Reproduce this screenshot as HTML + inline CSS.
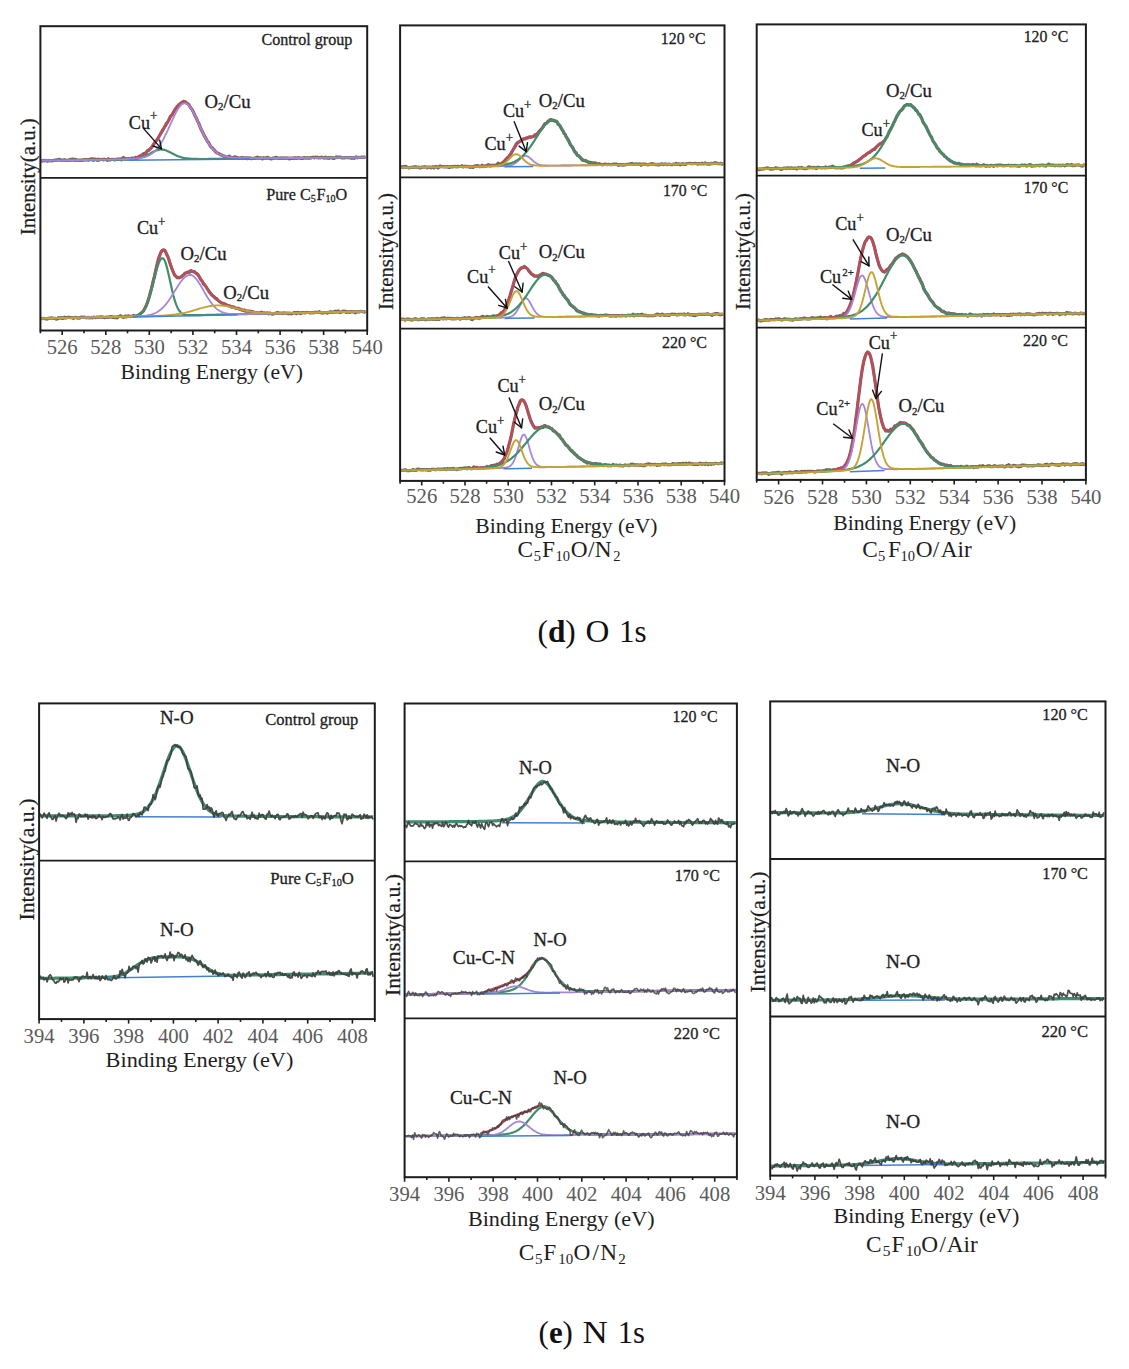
<!DOCTYPE html>
<html><head><meta charset="utf-8"><title>XPS O 1s and N 1s</title>
<style>
html,body{margin:0;padding:0;background:#fff;}
body{width:1129px;height:1369px;overflow:hidden;}
svg{display:block;}
text{font-family:"Liberation Serif", serif;}
</style></head><body>
<svg width="1129" height="1369" viewBox="0 0 1129 1369" font-family='"Liberation Serif", serif'>
<rect width="1129" height="1369" fill="#ffffff"/>
<g fill="none" stroke-linejoin="round" stroke-linecap="butt">
<polyline points="41.4,160.6 42.4,161.1 43.4,160.3 44.4,160.8 45.4,160.5 46.4,160.4 47.4,161.2 48.4,160.8 49.4,160.5 50.4,160.8 51.4,161.0 52.4,160.6 53.4,160.7 54.4,160.1 55.4,160.1 56.4,160.1 57.4,159.7 58.4,159.5 59.4,159.4 60.4,159.9 61.4,160.1 62.4,160.1 63.4,160.2 64.4,159.7 65.4,160.0 66.4,160.3 67.4,160.5 68.4,160.0 69.4,160.0 70.4,159.3 71.4,159.7 72.4,159.1 73.4,159.2 74.4,160.2 75.4,159.3 76.4,160.1 77.4,160.2 78.4,160.0 79.4,160.2 80.4,160.3 81.4,160.5 82.4,160.1 83.4,159.8 84.4,159.7 85.4,159.5 86.4,159.8 87.4,159.6 88.4,160.2 89.4,159.3 90.4,159.2 91.4,159.3 92.4,158.8 93.4,160.2 94.4,159.0 95.4,159.4 96.4,159.4 97.4,160.3 98.4,159.1 99.4,159.9 100.4,159.5 101.4,159.5 102.4,159.3 103.4,159.8 104.4,159.2 105.4,159.4 106.4,159.7 107.4,160.3 108.4,158.8 109.4,159.9 110.4,160.0 111.4,159.4 112.4,159.5 113.4,159.3 114.4,160.0 115.4,159.6 116.4,159.3 117.4,159.2 118.4,159.1 119.4,159.1 120.4,158.8 121.4,159.8 122.4,158.6 123.4,157.4 124.4,158.4 125.4,158.7 126.4,158.9 127.4,158.8 128.4,158.7 129.4,158.8 130.4,159.0 131.4,158.4 132.4,158.1 133.4,158.9 134.4,158.4 135.4,157.5 136.4,158.4 137.4,157.8 138.4,156.9 139.4,156.1 140.4,156.1 141.4,155.3 142.4,154.6 143.4,153.8 144.4,153.4 145.4,153.4 146.4,152.2 147.4,150.8 148.4,150.5 149.4,149.5 150.4,148.7 151.4,147.8 152.4,146.1 153.4,144.6 154.4,143.3 155.4,141.4 156.4,140.5 157.4,139.5 158.4,137.6 159.4,135.8 160.4,134.1 161.4,132.2 162.4,130.5 163.4,129.0 164.4,127.2 165.4,125.6 166.4,123.5 167.4,122.5 168.4,120.8 169.4,118.7 170.4,116.3 171.4,115.3 172.4,114.3 173.4,112.2 174.4,110.5 175.4,108.9 176.4,107.9 177.4,106.1 178.4,105.5 179.4,104.2 180.4,103.7 181.4,102.8 182.4,102.2 183.4,101.4 184.4,101.5 185.4,102.0 186.4,102.9 187.4,103.6 188.4,104.2 189.4,105.7 190.4,107.5 191.4,108.7 192.4,110.2 193.4,112.0 194.4,114.5 195.4,116.6 196.4,118.2 197.4,120.7 198.4,122.7 199.4,124.8 200.4,127.7 201.4,130.0 202.4,131.6 203.4,133.8 204.4,136.0 205.4,137.5 206.4,139.4 207.4,141.5 208.4,142.3 209.4,144.3 210.4,146.1 211.4,147.4 212.4,147.9 213.4,149.4 214.4,150.1 215.4,151.5 216.4,152.5 217.4,153.1 218.4,153.3 219.4,153.9 220.4,154.9 221.4,154.9 222.4,155.6 223.4,156.1 224.4,156.2 225.4,157.4 226.4,157.0 227.4,157.9 228.4,156.6 229.4,156.1 230.4,157.3 231.4,157.7 232.4,157.5 233.4,157.6 234.4,156.9 235.4,157.2 236.4,157.2 237.4,157.5 238.4,158.1 239.4,158.0 240.4,158.1 241.4,157.7 242.4,157.7 243.4,157.9 244.4,157.9 245.4,158.5 246.4,157.8 247.4,158.7 248.4,157.9 249.4,158.4 250.4,157.9 251.4,158.7 252.4,158.3 253.4,158.3 254.4,158.5 255.4,158.0 256.4,157.6 257.4,157.1 258.4,158.2 259.4,157.9 260.4,157.8 261.4,158.0 262.4,158.9 263.4,157.7 264.4,158.1 265.4,157.9 266.4,158.3 267.4,157.4 268.4,157.7 269.4,158.3 270.4,158.8 271.4,159.0 272.4,158.1 273.4,158.1 274.4,158.0 275.4,157.5 276.4,157.3 277.4,158.1 278.4,158.2 279.4,158.0 280.4,158.5 281.4,157.8 282.4,158.2 283.4,158.1 284.4,158.0 285.4,158.2 286.4,158.2 287.4,158.2 288.4,158.2 289.4,158.9 290.4,158.2 291.4,158.5 292.4,158.4 293.4,158.0 294.4,158.3 295.4,157.8 296.4,158.4 297.4,157.8 298.4,157.7 299.4,158.0 300.4,158.3 301.4,158.4 302.4,158.5 303.4,158.0 304.4,157.6 305.4,158.0 306.4,158.1 307.4,157.6 308.4,158.2 309.4,158.1 310.4,157.6 311.4,157.9 312.4,157.4 313.4,157.3 314.4,157.8 315.4,157.2 316.4,157.6 317.4,157.2 318.4,157.9 319.4,157.6 320.4,157.8 321.4,157.2 322.4,157.4 323.4,158.0 324.4,158.1 325.4,157.1 326.4,157.9 327.4,158.2 328.4,157.7 329.4,158.3 330.4,157.5 331.4,157.6 332.4,158.1 333.4,158.4 334.4,158.4 335.4,157.5 336.4,156.9 337.4,157.6 338.4,157.1 339.4,157.4 340.4,157.0 341.4,157.9 342.4,158.0 343.4,158.0 344.4,157.8 345.4,157.7 346.4,157.5 347.4,157.7 348.4,157.7 349.4,157.8 350.4,157.5 351.4,158.3 352.4,157.9 353.4,158.2 354.4,158.3 355.4,157.4 356.4,156.8 357.4,157.8 358.4,157.4 359.4,157.5 360.4,157.4 361.4,157.5 362.4,157.0 363.4,157.2 364.4,157.2 365.4,157.3" stroke="#6e6a58" stroke-width="3.2"/>
<polyline points="41.4,160.5 42.4,160.5 43.4,160.5 44.4,160.5 45.4,160.5 46.4,160.5 47.4,160.5 48.4,160.5 49.4,160.5 50.4,160.4 51.4,160.4 52.4,160.4 53.4,160.4 54.4,160.4 55.4,160.4 56.4,160.4 57.4,160.4 58.4,160.3 59.4,160.3 60.4,160.3 61.4,160.3 62.4,160.3 63.4,160.3 64.4,160.3 65.4,160.3 66.4,160.2 67.4,160.2 68.4,160.2 69.4,160.2 70.4,160.2 71.4,160.2 72.4,160.2 73.4,160.1 74.4,160.1 75.4,160.1 76.4,160.1 77.4,160.1 78.4,160.1 79.4,160.1 80.4,160.0 81.4,160.0 82.4,160.0 83.4,160.0 84.4,160.0 85.4,160.0 86.4,159.9 87.4,159.9 88.4,159.9 89.4,159.9 90.4,159.9 91.4,159.9 92.4,159.8 93.4,159.8 94.4,159.8 95.4,159.8 96.4,159.8 97.4,159.8 98.4,159.7 99.4,159.7 100.4,159.7 101.4,159.7 102.4,159.7 103.4,159.6 104.4,159.6 105.4,159.6 106.4,159.6 107.4,159.6 108.4,159.5 109.4,159.5 110.4,159.5 111.4,159.5 112.4,159.4 113.4,159.4 114.4,159.4 115.4,159.3 116.4,159.3 117.4,159.3 118.4,159.3 119.4,159.2 120.4,159.2 121.4,159.1 122.4,159.1 123.4,159.1 124.4,159.0 125.4,159.0 126.4,158.9 127.4,158.8 128.4,158.7 129.4,158.7 130.4,158.6 131.4,158.4 132.4,158.3 133.4,158.1 134.4,158.0 135.4,157.8 136.4,157.5 137.4,157.2 138.4,156.9 139.4,156.5 140.4,156.1 141.4,155.6 142.4,155.1 143.4,154.5 144.4,153.9 145.4,153.1 146.4,152.3 147.4,151.4 148.4,150.5 149.4,149.5 150.4,148.4 151.4,147.2 152.4,146.0 153.4,144.7 154.4,143.3 155.4,141.9 156.4,140.4 157.4,138.9 158.4,137.4 159.4,135.8 160.4,134.2 161.4,132.6 162.4,131.0 163.4,129.3 164.4,127.7 165.4,126.0 166.4,124.3 167.4,122.6 168.4,120.9 169.4,119.1 170.4,117.4 171.4,115.7 172.4,114.0 173.4,112.4 174.4,110.8 175.4,109.2 176.4,107.8 177.4,106.5 178.4,105.3 179.4,104.2 180.4,103.4 181.4,102.7 182.4,102.2 183.4,102.0 184.4,102.0 185.4,102.3 186.4,102.7 187.4,103.5 188.4,104.5 189.4,105.6 190.4,107.0 191.4,108.6 192.4,110.4 193.4,112.2 194.4,114.2 195.4,116.3 196.4,118.5 197.4,120.7 198.4,122.9 199.4,125.1 200.4,127.4 201.4,129.6 202.4,131.7 203.4,133.8 204.4,135.8 205.4,137.7 206.4,139.5 207.4,141.3 208.4,142.9 209.4,144.4 210.4,145.8 211.4,147.2 212.4,148.4 213.4,149.5 214.4,150.5 215.4,151.4 216.4,152.2 217.4,152.9 218.4,153.6 219.4,154.2 220.4,154.7 221.4,155.1 222.4,155.5 223.4,155.9 224.4,156.2 225.4,156.5 226.4,156.7 227.4,156.9 228.4,157.1 229.4,157.2 230.4,157.3 231.4,157.4 232.4,157.5 233.4,157.6 234.4,157.7 235.4,157.7 236.4,157.8 237.4,157.8 238.4,157.9 239.4,157.9 240.4,157.9 241.4,157.9 242.4,158.0 243.4,158.0 244.4,158.0 245.4,158.0 246.4,158.0 247.4,158.0 248.4,158.0 249.4,158.1 250.4,158.1 251.4,158.1 252.4,158.1 253.4,158.1 254.4,158.1 255.4,158.1 256.4,158.1 257.4,158.1 258.4,158.1 259.4,158.1 260.4,158.1 261.4,158.1 262.4,158.1 263.4,158.1 264.4,158.1 265.4,158.1 266.4,158.1 267.4,158.1 268.4,158.1 269.4,158.1 270.4,158.1 271.4,158.1 272.4,158.1 273.4,158.1 274.4,158.1 275.4,158.1 276.4,158.1 277.4,158.1 278.4,158.1 279.4,158.1 280.4,158.1 281.4,158.1 282.4,158.1 283.4,158.0 284.4,158.0 285.4,158.0 286.4,158.0 287.4,158.0 288.4,158.0 289.4,158.0 290.4,158.0 291.4,158.0 292.4,158.0 293.4,158.0 294.4,158.0 295.4,158.0 296.4,158.0 297.4,158.0 298.4,158.0 299.4,158.0 300.4,158.0 301.4,157.9 302.4,157.9 303.4,157.9 304.4,157.9 305.4,157.9 306.4,157.9 307.4,157.9 308.4,157.9 309.4,157.9 310.4,157.9 311.4,157.9 312.4,157.9 313.4,157.9 314.4,157.9 315.4,157.8 316.4,157.8 317.4,157.8 318.4,157.8 319.4,157.8 320.4,157.8 321.4,157.8 322.4,157.8 323.4,157.8 324.4,157.8 325.4,157.8 326.4,157.8 327.4,157.8 328.4,157.7 329.4,157.7 330.4,157.7 331.4,157.7 332.4,157.7 333.4,157.7 334.4,157.7 335.4,157.7 336.4,157.7 337.4,157.7 338.4,157.7 339.4,157.7 340.4,157.7 341.4,157.6 342.4,157.6 343.4,157.6 344.4,157.6 345.4,157.6 346.4,157.6 347.4,157.6 348.4,157.6 349.4,157.6 350.4,157.6 351.4,157.6 352.4,157.5 353.4,157.5 354.4,157.5 355.4,157.5 356.4,157.5 357.4,157.5 358.4,157.5 359.4,157.5 360.4,157.5 361.4,157.5 362.4,157.5 363.4,157.5 364.4,157.4 365.4,157.4" stroke="#bf4a5c" stroke-width="2.4"/>
<polyline points="41.4,160.7 42.4,160.7 43.4,160.7 44.4,160.6 45.4,160.6 46.4,160.6 47.4,160.6 48.4,160.6 49.4,160.6 50.4,160.6 51.4,160.6 52.4,160.6 53.4,160.6 54.4,160.5 55.4,160.5 56.4,160.5 57.4,160.5 58.4,160.5 59.4,160.5 60.4,160.5 61.4,160.5 62.4,160.5 63.4,160.4 64.4,160.4 65.4,160.4 66.4,160.4 67.4,160.4 68.4,160.4 69.4,160.4 70.4,160.4 71.4,160.4 72.4,160.4 73.4,160.3 74.4,160.3 75.4,160.3 76.4,160.3 77.4,160.3 78.4,160.3 79.4,160.3 80.4,160.3 81.4,160.3 82.4,160.2 83.4,160.2 84.4,160.2 85.4,160.2 86.4,160.2 87.4,160.2 88.4,160.2 89.4,160.2 90.4,160.2 91.4,160.1 92.4,160.1 93.4,160.1 94.4,160.1 95.4,160.1 96.4,160.1 97.4,160.1 98.4,160.1 99.4,160.1 100.4,160.0 101.4,160.0 102.4,160.0 103.4,160.0 104.4,160.0 105.4,160.0 106.4,160.0 107.4,160.0 108.4,159.9 109.4,159.9 110.4,159.9 111.4,159.9 112.4,159.9 113.4,159.9 114.4,159.9 115.4,159.9 116.4,159.8 117.4,159.8 118.4,159.8 119.4,159.8 120.4,159.8 121.4,159.7 122.4,159.7 123.4,159.7 124.4,159.7 125.4,159.6 126.4,159.6 127.4,159.6 128.4,159.5 129.4,159.5 130.4,159.4 131.4,159.3 132.4,159.2 133.4,159.1 134.4,159.0 135.4,158.9 136.4,158.7 137.4,158.5 138.4,158.3 139.4,158.1 140.4,157.8 141.4,157.5 142.4,157.2 143.4,156.8 144.4,156.4 145.4,155.9 146.4,155.5 147.4,155.0 148.4,154.5 149.4,153.9 150.4,153.4 151.4,152.8 152.4,152.3 153.4,151.8 154.4,151.3 155.4,150.9 156.4,150.5 157.4,150.1 158.4,149.9 159.4,149.7 160.4,149.5 161.4,149.5 162.4,149.6 163.4,149.7 164.4,149.9 165.4,150.2 166.4,150.6 167.4,151.0 168.4,151.5 169.4,151.9 170.4,152.4 171.4,153.0 172.4,153.5 173.4,154.0 174.4,154.5 175.4,155.0 176.4,155.4 177.4,155.9 178.4,156.3 179.4,156.6 180.4,157.0 181.4,157.3 182.4,157.6 183.4,157.8 184.4,158.0 185.4,158.2 186.4,158.3 187.4,158.4 188.4,158.6 189.4,158.6 190.4,158.7 191.4,158.8 192.4,158.8 193.4,158.9 194.4,158.9 195.4,158.9 196.4,158.9 197.4,158.9 198.4,159.0 199.4,159.0 200.4,159.0 201.4,159.0 202.4,159.0 203.4,159.0 204.4,159.0 205.4,159.0 206.4,159.0 207.4,159.0 208.4,158.9 209.4,158.9 210.4,158.9 211.4,158.9 212.4,158.9 213.4,158.9 214.4,158.9 215.4,158.9 216.4,158.9 217.4,158.9 218.4,158.9 219.4,158.9 220.4,158.9 221.4,158.9 222.4,158.9 223.4,158.8 224.4,158.8 225.4,158.8 226.4,158.8 227.4,158.8 228.4,158.8 229.4,158.8 230.4,158.8 231.4,158.8 232.4,158.8 233.4,158.8 234.4,158.8 235.4,158.7 236.4,158.7 237.4,158.7 238.4,158.7 239.4,158.7 240.4,158.7 241.4,158.7 242.4,158.7 243.4,158.7 244.4,158.7 245.4,158.7 246.4,158.6 247.4,158.6 248.4,158.6 249.4,158.6 250.4,158.6 251.4,158.6 252.4,158.6 253.4,158.6 254.4,158.6 255.4,158.6 256.4,158.6 257.4,158.5 258.4,158.5 259.4,158.5 260.4,158.5 261.4,158.5 262.4,158.5 263.4,158.5 264.4,158.5 265.4,158.5 266.4,158.5 267.4,158.5 268.4,158.4 269.4,158.4 270.4,158.4 271.4,158.4 272.4,158.4 273.4,158.4 274.4,158.4 275.4,158.4 276.4,158.4 277.4,158.4 278.4,158.4 279.4,158.3 280.4,158.3 281.4,158.3 282.4,158.3 283.4,158.3 284.4,158.3 285.4,158.3 286.4,158.3 287.4,158.3 288.4,158.3 289.4,158.2 290.4,158.2 291.4,158.2 292.4,158.2 293.4,158.2 294.4,158.2 295.4,158.2 296.4,158.2 297.4,158.2 298.4,158.2 299.4,158.2 300.4,158.1 301.4,158.1 302.4,158.1 303.4,158.1 304.4,158.1 305.4,158.1 306.4,158.1 307.4,158.1 308.4,158.1 309.4,158.1 310.4,158.0 311.4,158.0 312.4,158.0 313.4,158.0 314.4,158.0 315.4,158.0 316.4,158.0 317.4,158.0 318.4,158.0 319.4,158.0 320.4,157.9 321.4,157.9 322.4,157.9 323.4,157.9 324.4,157.9 325.4,157.9 326.4,157.9 327.4,157.9 328.4,157.9 329.4,157.9 330.4,157.9 331.4,157.8 332.4,157.8 333.4,157.8 334.4,157.8 335.4,157.8 336.4,157.8 337.4,157.8 338.4,157.8 339.4,157.8 340.4,157.8 341.4,157.7 342.4,157.7 343.4,157.7 344.4,157.7 345.4,157.7 346.4,157.7 347.4,157.7 348.4,157.7 349.4,157.7 350.4,157.7 351.4,157.6 352.4,157.6 353.4,157.6 354.4,157.6 355.4,157.6 356.4,157.6 357.4,157.6 358.4,157.6 359.4,157.6 360.4,157.6 361.4,157.6 362.4,157.5 363.4,157.5 364.4,157.5 365.4,157.5" stroke="#428e6c" stroke-width="2.2"/>
<polyline points="41.4,160.6 42.4,160.6 43.4,160.5 44.4,160.5 45.4,160.5 46.4,160.5 47.4,160.5 48.4,160.5 49.4,160.5 50.4,160.5 51.4,160.5 52.4,160.4 53.4,160.4 54.4,160.4 55.4,160.4 56.4,160.4 57.4,160.4 58.4,160.4 59.4,160.4 60.4,160.3 61.4,160.3 62.4,160.3 63.4,160.3 64.4,160.3 65.4,160.3 66.4,160.3 67.4,160.3 68.4,160.2 69.4,160.2 70.4,160.2 71.4,160.2 72.4,160.2 73.4,160.2 74.4,160.2 75.4,160.1 76.4,160.1 77.4,160.1 78.4,160.1 79.4,160.1 80.4,160.1 81.4,160.1 82.4,160.1 83.4,160.0 84.4,160.0 85.4,160.0 86.4,160.0 87.4,160.0 88.4,160.0 89.4,159.9 90.4,159.9 91.4,159.9 92.4,159.9 93.4,159.9 94.4,159.9 95.4,159.9 96.4,159.8 97.4,159.8 98.4,159.8 99.4,159.8 100.4,159.8 101.4,159.7 102.4,159.7 103.4,159.7 104.4,159.7 105.4,159.7 106.4,159.7 107.4,159.6 108.4,159.6 109.4,159.6 110.4,159.6 111.4,159.6 112.4,159.5 113.4,159.5 114.4,159.5 115.4,159.5 116.4,159.4 117.4,159.4 118.4,159.4 119.4,159.4 120.4,159.3 121.4,159.3 122.4,159.3 123.4,159.2 124.4,159.2 125.4,159.2 126.4,159.1 127.4,159.1 128.4,159.1 129.4,159.0 130.4,159.0 131.4,158.9 132.4,158.9 133.4,158.8 134.4,158.7 135.4,158.6 136.4,158.6 137.4,158.4 138.4,158.3 139.4,158.2 140.4,158.0 141.4,157.9 142.4,157.7 143.4,157.4 144.4,157.2 145.4,156.9 146.4,156.5 147.4,156.1 148.4,155.7 149.4,155.2 150.4,154.6 151.4,154.0 152.4,153.3 153.4,152.5 154.4,151.6 155.4,150.6 156.4,149.5 157.4,148.3 158.4,147.1 159.4,145.7 160.4,144.2 161.4,142.6 162.4,140.9 163.4,139.1 164.4,137.2 165.4,135.2 166.4,133.2 167.4,131.0 168.4,128.8 169.4,126.6 170.4,124.4 171.4,122.2 172.4,119.9 173.4,117.8 174.4,115.6 175.4,113.6 176.4,111.7 177.4,109.9 178.4,108.3 179.4,106.9 180.4,105.7 181.4,104.7 182.4,104.0 183.4,103.5 184.4,103.3 185.4,103.4 186.4,103.7 187.4,104.3 188.4,105.1 189.4,106.2 190.4,107.5 191.4,109.1 192.4,110.7 193.4,112.6 194.4,114.5 195.4,116.6 196.4,118.7 197.4,120.9 198.4,123.1 199.4,125.3 200.4,127.5 201.4,129.7 202.4,131.8 203.4,133.9 204.4,135.9 205.4,137.8 206.4,139.7 207.4,141.4 208.4,143.0 209.4,144.5 210.4,145.9 211.4,147.2 212.4,148.5 213.4,149.6 214.4,150.6 215.4,151.5 216.4,152.3 217.4,153.0 218.4,153.7 219.4,154.2 220.4,154.8 221.4,155.2 222.4,155.6 223.4,156.0 224.4,156.3 225.4,156.5 226.4,156.7 227.4,156.9 228.4,157.1 229.4,157.3 230.4,157.4 231.4,157.5 232.4,157.6 233.4,157.6 234.4,157.7 235.4,157.8 236.4,157.8 237.4,157.9 238.4,157.9 239.4,157.9 240.4,158.0 241.4,158.0 242.4,158.0 243.4,158.0 244.4,158.0 245.4,158.0 246.4,158.1 247.4,158.1 248.4,158.1 249.4,158.1 250.4,158.1 251.4,158.1 252.4,158.1 253.4,158.1 254.4,158.1 255.4,158.1 256.4,158.1 257.4,158.1 258.4,158.1 259.4,158.1 260.4,158.1 261.4,158.1 262.4,158.1 263.4,158.1 264.4,158.1 265.4,158.1 266.4,158.1 267.4,158.1 268.4,158.1 269.4,158.1 270.4,158.1 271.4,158.1 272.4,158.1 273.4,158.1 274.4,158.1 275.4,158.1 276.4,158.1 277.4,158.1 278.4,158.1 279.4,158.1 280.4,158.1 281.4,158.1 282.4,158.1 283.4,158.1 284.4,158.1 285.4,158.1 286.4,158.1 287.4,158.0 288.4,158.0 289.4,158.0 290.4,158.0 291.4,158.0 292.4,158.0 293.4,158.0 294.4,158.0 295.4,158.0 296.4,158.0 297.4,158.0 298.4,158.0 299.4,158.0 300.4,158.0 301.4,158.0 302.4,158.0 303.4,157.9 304.4,157.9 305.4,157.9 306.4,157.9 307.4,157.9 308.4,157.9 309.4,157.9 310.4,157.9 311.4,157.9 312.4,157.9 313.4,157.9 314.4,157.9 315.4,157.9 316.4,157.9 317.4,157.8 318.4,157.8 319.4,157.8 320.4,157.8 321.4,157.8 322.4,157.8 323.4,157.8 324.4,157.8 325.4,157.8 326.4,157.8 327.4,157.8 328.4,157.8 329.4,157.8 330.4,157.7 331.4,157.7 332.4,157.7 333.4,157.7 334.4,157.7 335.4,157.7 336.4,157.7 337.4,157.7 338.4,157.7 339.4,157.7 340.4,157.7 341.4,157.7 342.4,157.6 343.4,157.6 344.4,157.6 345.4,157.6 346.4,157.6 347.4,157.6 348.4,157.6 349.4,157.6 350.4,157.6 351.4,157.6 352.4,157.6 353.4,157.5 354.4,157.5 355.4,157.5 356.4,157.5 357.4,157.5 358.4,157.5 359.4,157.5 360.4,157.5 361.4,157.5 362.4,157.5 363.4,157.5 364.4,157.4 365.4,157.4" stroke="#a586da" stroke-width="1.8"/>
<line x1="128.6" y1="160.3" x2="250.0" y2="159.1" stroke="#4480d2" stroke-width="1.5"/>
</g>
<g fill="none" stroke-linejoin="round" stroke-linecap="butt">
<polyline points="41.4,318.5 42.4,318.6 43.4,318.3 44.4,318.5 45.4,318.8 46.4,318.7 47.4,319.1 48.4,318.2 49.4,318.3 50.4,318.0 51.4,317.9 52.4,318.0 53.4,318.2 54.4,318.4 55.4,318.4 56.4,319.1 57.4,318.8 58.4,317.7 59.4,318.0 60.4,317.8 61.4,317.7 62.4,318.4 63.4,318.1 64.4,317.2 65.4,317.8 66.4,317.8 67.4,317.4 68.4,317.3 69.4,317.4 70.4,317.7 71.4,317.6 72.4,317.8 73.4,318.5 74.4,317.7 75.4,317.4 76.4,317.5 77.4,318.1 78.4,317.5 79.4,318.2 80.4,317.3 81.4,317.1 82.4,317.4 83.4,317.2 84.4,317.2 85.4,317.6 86.4,317.8 87.4,317.6 88.4,317.4 89.4,318.0 90.4,317.8 91.4,317.4 92.4,317.9 93.4,317.2 94.4,317.3 95.4,317.6 96.4,317.4 97.4,317.1 98.4,317.3 99.4,317.0 100.4,316.9 101.4,316.7 102.4,317.5 103.4,317.1 104.4,317.6 105.4,317.4 106.4,317.1 107.4,317.3 108.4,317.2 109.4,317.1 110.4,316.5 111.4,316.8 112.4,317.3 113.4,317.2 114.4,317.4 115.4,317.7 116.4,317.3 117.4,317.8 118.4,316.6 119.4,316.6 120.4,315.7 121.4,316.7 122.4,316.8 123.4,317.4 124.4,316.8 125.4,315.9 126.4,316.9 127.4,316.2 128.4,315.9 129.4,316.2 130.4,316.6 131.4,316.3 132.4,316.4 133.4,315.5 134.4,316.5 135.4,316.1 136.4,315.8 137.4,315.7 138.4,315.1 139.4,314.6 140.4,313.5 141.4,312.8 142.4,312.0 143.4,311.1 144.4,309.1 145.4,307.2 146.4,305.1 147.4,302.6 148.4,299.6 149.4,296.1 150.4,292.3 151.4,288.9 152.4,284.6 153.4,280.1 154.4,277.0 155.4,272.0 156.4,267.5 157.4,263.2 158.4,258.9 159.4,256.4 160.4,253.5 161.4,251.5 162.4,250.5 163.4,250.1 164.4,250.2 165.4,251.2 166.4,253.8 167.4,255.9 168.4,257.9 169.4,261.4 170.4,264.4 171.4,267.2 172.4,270.1 173.4,272.3 174.4,274.9 175.4,275.9 176.4,276.8 177.4,277.8 178.4,277.4 179.4,277.8 180.4,277.1 181.4,277.0 182.4,275.6 183.4,275.1 184.4,273.6 185.4,273.1 186.4,272.6 187.4,272.3 188.4,272.5 189.4,272.3 190.4,270.8 191.4,270.6 192.4,271.5 193.4,271.8 194.4,271.6 195.4,272.8 196.4,273.2 197.4,274.2 198.4,275.2 199.4,276.8 200.4,279.2 201.4,280.3 202.4,281.5 203.4,283.9 204.4,284.6 205.4,285.9 206.4,287.3 207.4,289.0 208.4,290.2 209.4,292.2 210.4,293.0 211.4,294.5 212.4,295.5 213.4,296.2 214.4,297.0 215.4,298.2 216.4,298.3 217.4,299.7 218.4,300.7 219.4,301.5 220.4,302.1 221.4,302.8 222.4,303.1 223.4,303.9 224.4,303.6 225.4,304.8 226.4,304.7 227.4,305.5 228.4,305.6 229.4,305.9 230.4,306.0 231.4,307.1 232.4,306.8 233.4,306.8 234.4,307.5 235.4,308.0 236.4,308.3 237.4,308.2 238.4,308.4 239.4,309.3 240.4,309.0 241.4,309.7 242.4,310.2 243.4,310.3 244.4,309.9 245.4,311.2 246.4,311.0 247.4,311.2 248.4,311.1 249.4,311.0 250.4,311.3 251.4,311.7 252.4,311.6 253.4,312.0 254.4,312.6 255.4,312.6 256.4,312.5 257.4,313.0 258.4,313.2 259.4,313.3 260.4,312.7 261.4,312.1 262.4,313.0 263.4,313.1 264.4,312.9 265.4,313.3 266.4,313.0 267.4,312.9 268.4,313.8 269.4,312.8 270.4,313.5 271.4,313.8 272.4,314.2 273.4,313.7 274.4,313.7 275.4,313.1 276.4,313.2 277.4,312.4 278.4,312.8 279.4,313.1 280.4,313.2 281.4,313.0 282.4,313.6 283.4,312.8 284.4,313.1 285.4,313.0 286.4,313.1 287.4,313.2 288.4,313.9 289.4,313.0 290.4,313.6 291.4,313.8 292.4,313.3 293.4,312.9 294.4,312.5 295.4,312.5 296.4,313.6 297.4,312.3 298.4,312.9 299.4,312.7 300.4,313.6 301.4,313.3 302.4,312.5 303.4,312.5 304.4,312.8 305.4,312.9 306.4,312.4 307.4,312.5 308.4,312.5 309.4,312.8 310.4,312.9 311.4,312.8 312.4,312.5 313.4,312.9 314.4,312.5 315.4,312.2 316.4,312.3 317.4,312.3 318.4,312.3 319.4,311.7 320.4,312.7 321.4,312.8 322.4,313.1 323.4,312.5 324.4,312.7 325.4,312.6 326.4,312.5 327.4,313.1 328.4,312.4 329.4,312.5 330.4,311.7 331.4,312.3 332.4,312.2 333.4,311.8 334.4,311.8 335.4,311.2 336.4,311.4 337.4,311.9 338.4,311.0 339.4,312.1 340.4,312.5 341.4,311.9 342.4,311.4 343.4,311.2 344.4,311.2 345.4,311.4 346.4,312.6 347.4,311.7 348.4,312.1 349.4,312.5 350.4,311.7 351.4,311.7 352.4,312.0 353.4,311.6 354.4,312.2 355.4,312.8 356.4,312.1 357.4,311.5 358.4,311.9 359.4,311.9 360.4,311.4 361.4,311.5 362.4,311.6 363.4,311.8 364.4,312.1 365.4,311.5" stroke="#6e6a58" stroke-width="3.2"/>
<polyline points="41.4,318.5 42.4,318.5 43.4,318.4 44.4,318.4 45.4,318.4 46.4,318.4 47.4,318.4 48.4,318.3 49.4,318.3 50.4,318.3 51.4,318.3 52.4,318.2 53.4,318.2 54.4,318.2 55.4,318.2 56.4,318.2 57.4,318.1 58.4,318.1 59.4,318.1 60.4,318.1 61.4,318.1 62.4,318.0 63.4,318.0 64.4,318.0 65.4,318.0 66.4,317.9 67.4,317.9 68.4,317.9 69.4,317.9 70.4,317.9 71.4,317.8 72.4,317.8 73.4,317.8 74.4,317.8 75.4,317.8 76.4,317.7 77.4,317.7 78.4,317.7 79.4,317.7 80.4,317.6 81.4,317.6 82.4,317.6 83.4,317.6 84.4,317.6 85.4,317.5 86.4,317.5 87.4,317.5 88.4,317.5 89.4,317.5 90.4,317.4 91.4,317.4 92.4,317.4 93.4,317.4 94.4,317.3 95.4,317.3 96.4,317.3 97.4,317.3 98.4,317.3 99.4,317.2 100.4,317.2 101.4,317.2 102.4,317.2 103.4,317.2 104.4,317.1 105.4,317.1 106.4,317.1 107.4,317.1 108.4,317.0 109.4,317.0 110.4,317.0 111.4,317.0 112.4,317.0 113.4,316.9 114.4,316.9 115.4,316.9 116.4,316.9 117.4,316.9 118.4,316.8 119.4,316.8 120.4,316.8 121.4,316.8 122.4,316.7 123.4,316.7 124.4,316.7 125.4,316.7 126.4,316.6 127.4,316.6 128.4,316.6 129.4,316.5 130.4,316.5 131.4,316.4 132.4,316.3 133.4,316.2 134.4,316.1 135.4,315.9 136.4,315.7 137.4,315.4 138.4,315.0 139.4,314.5 140.4,313.8 141.4,313.0 142.4,311.9 143.4,310.6 144.4,309.0 145.4,307.2 146.4,304.9 147.4,302.4 148.4,299.4 149.4,296.1 150.4,292.5 151.4,288.5 152.4,284.4 153.4,280.0 154.4,275.6 155.4,271.2 156.4,266.9 157.4,262.9 158.4,259.2 159.4,256.1 160.4,253.4 161.4,251.4 162.4,250.1 163.4,249.6 164.4,249.9 165.4,251.1 166.4,253.0 167.4,255.4 168.4,258.2 169.4,261.2 170.4,264.2 171.4,267.1 172.4,269.8 173.4,272.2 174.4,274.1 175.4,275.6 176.4,276.6 177.4,277.2 178.4,277.5 179.4,277.4 180.4,277.0 181.4,276.5 182.4,275.8 183.4,275.0 184.4,274.2 185.4,273.4 186.4,272.7 187.4,272.1 188.4,271.6 189.4,271.2 190.4,271.0 191.4,271.0 192.4,271.2 193.4,271.5 194.4,272.1 195.4,272.8 196.4,273.7 197.4,274.7 198.4,275.8 199.4,277.1 200.4,278.5 201.4,279.9 202.4,281.4 203.4,282.9 204.4,284.4 205.4,285.9 206.4,287.4 207.4,288.9 208.4,290.3 209.4,291.7 210.4,293.0 211.4,294.2 212.4,295.4 213.4,296.5 214.4,297.5 215.4,298.4 216.4,299.3 217.4,300.1 218.4,300.8 219.4,301.5 220.4,302.1 221.4,302.7 222.4,303.2 223.4,303.7 224.4,304.2 225.4,304.6 226.4,305.0 227.4,305.4 228.4,305.7 229.4,306.1 230.4,306.4 231.4,306.7 232.4,307.1 233.4,307.4 234.4,307.7 235.4,308.0 236.4,308.2 237.4,308.5 238.4,308.8 239.4,309.1 240.4,309.3 241.4,309.6 242.4,309.9 243.4,310.1 244.4,310.3 245.4,310.6 246.4,310.8 247.4,311.0 248.4,311.2 249.4,311.4 250.4,311.6 251.4,311.7 252.4,311.9 253.4,312.0 254.4,312.2 255.4,312.3 256.4,312.4 257.4,312.5 258.4,312.6 259.4,312.7 260.4,312.8 261.4,312.9 262.4,313.0 263.4,313.0 264.4,313.1 265.4,313.1 266.4,313.2 267.4,313.2 268.4,313.2 269.4,313.3 270.4,313.3 271.4,313.3 272.4,313.3 273.4,313.3 274.4,313.3 275.4,313.3 276.4,313.3 277.4,313.3 278.4,313.3 279.4,313.3 280.4,313.3 281.4,313.3 282.4,313.3 283.4,313.2 284.4,313.2 285.4,313.2 286.4,313.2 287.4,313.2 288.4,313.2 289.4,313.1 290.4,313.1 291.4,313.1 292.4,313.1 293.4,313.1 294.4,313.1 295.4,313.0 296.4,313.0 297.4,313.0 298.4,313.0 299.4,312.9 300.4,312.9 301.4,312.9 302.4,312.9 303.4,312.9 304.4,312.8 305.4,312.8 306.4,312.8 307.4,312.8 308.4,312.8 309.4,312.7 310.4,312.7 311.4,312.7 312.4,312.7 313.4,312.7 314.4,312.6 315.4,312.6 316.4,312.6 317.4,312.6 318.4,312.5 319.4,312.5 320.4,312.5 321.4,312.5 322.4,312.5 323.4,312.4 324.4,312.4 325.4,312.4 326.4,312.4 327.4,312.4 328.4,312.3 329.4,312.3 330.4,312.3 331.4,312.3 332.4,312.2 333.4,312.2 334.4,312.2 335.4,312.2 336.4,312.2 337.4,312.1 338.4,312.1 339.4,312.1 340.4,312.1 341.4,312.1 342.4,312.0 343.4,312.0 344.4,312.0 345.4,312.0 346.4,311.9 347.4,311.9 348.4,311.9 349.4,311.9 350.4,311.9 351.4,311.8 352.4,311.8 353.4,311.8 354.4,311.8 355.4,311.8 356.4,311.7 357.4,311.7 358.4,311.7 359.4,311.7 360.4,311.6 361.4,311.6 362.4,311.6 363.4,311.6 364.4,311.6 365.4,311.5" stroke="#bf4a5c" stroke-width="2.4"/>
<polyline points="41.4,318.5 42.4,318.5 43.4,318.4 44.4,318.4 45.4,318.4 46.4,318.4 47.4,318.4 48.4,318.3 49.4,318.3 50.4,318.3 51.4,318.3 52.4,318.2 53.4,318.2 54.4,318.2 55.4,318.2 56.4,318.2 57.4,318.1 58.4,318.1 59.4,318.1 60.4,318.1 61.4,318.1 62.4,318.0 63.4,318.0 64.4,318.0 65.4,318.0 66.4,317.9 67.4,317.9 68.4,317.9 69.4,317.9 70.4,317.9 71.4,317.8 72.4,317.8 73.4,317.8 74.4,317.8 75.4,317.8 76.4,317.7 77.4,317.7 78.4,317.7 79.4,317.7 80.4,317.6 81.4,317.6 82.4,317.6 83.4,317.6 84.4,317.6 85.4,317.5 86.4,317.5 87.4,317.5 88.4,317.5 89.4,317.5 90.4,317.4 91.4,317.4 92.4,317.4 93.4,317.4 94.4,317.3 95.4,317.3 96.4,317.3 97.4,317.3 98.4,317.3 99.4,317.2 100.4,317.2 101.4,317.2 102.4,317.2 103.4,317.2 104.4,317.1 105.4,317.1 106.4,317.1 107.4,317.1 108.4,317.0 109.4,317.0 110.4,317.0 111.4,317.0 112.4,317.0 113.4,316.9 114.4,316.9 115.4,316.9 116.4,316.9 117.4,316.9 118.4,316.8 119.4,316.8 120.4,316.8 121.4,316.8 122.4,316.7 123.4,316.7 124.4,316.7 125.4,316.7 126.4,316.6 127.4,316.6 128.4,316.6 129.4,316.6 130.4,316.5 131.4,316.5 132.4,316.4 133.4,316.3 134.4,316.2 135.4,316.0 136.4,315.8 137.4,315.5 138.4,315.1 139.4,314.6 140.4,314.0 141.4,313.2 142.4,312.2 143.4,311.0 144.4,309.5 145.4,307.7 146.4,305.6 147.4,303.2 148.4,300.4 149.4,297.3 150.4,293.9 151.4,290.2 152.4,286.3 153.4,282.3 154.4,278.3 155.4,274.3 156.4,270.6 157.4,267.1 158.4,264.1 159.4,261.6 160.4,259.7 161.4,258.6 162.4,258.2 163.4,258.7 164.4,260.1 165.4,262.4 166.4,265.6 167.4,269.3 168.4,273.5 169.4,278.0 170.4,282.6 171.4,287.1 172.4,291.4 173.4,295.5 174.4,299.1 175.4,302.3 176.4,305.1 177.4,307.4 178.4,309.3 179.4,310.8 180.4,312.0 181.4,313.0 182.4,313.7 183.4,314.2 184.4,314.6 185.4,314.8 186.4,315.0 187.4,315.1 188.4,315.2 189.4,315.2 190.4,315.2 191.4,315.2 192.4,315.2 193.4,315.2 194.4,315.2 195.4,315.2 196.4,315.2 197.4,315.1 198.4,315.1 199.4,315.1 200.4,315.1 201.4,315.1 202.4,315.0 203.4,315.0 204.4,315.0 205.4,315.0 206.4,314.9 207.4,314.9 208.4,314.9 209.4,314.9 210.4,314.9 211.4,314.8 212.4,314.8 213.4,314.8 214.4,314.8 215.4,314.8 216.4,314.7 217.4,314.7 218.4,314.7 219.4,314.7 220.4,314.6 221.4,314.6 222.4,314.6 223.4,314.6 224.4,314.6 225.4,314.5 226.4,314.5 227.4,314.5 228.4,314.5 229.4,314.5 230.4,314.4 231.4,314.4 232.4,314.4 233.4,314.4 234.4,314.3 235.4,314.3 236.4,314.3 237.4,314.3 238.4,314.3 239.4,314.2 240.4,314.2 241.4,314.2 242.4,314.2 243.4,314.2 244.4,314.1 245.4,314.1 246.4,314.1 247.4,314.1 248.4,314.0 249.4,314.0 250.4,314.0 251.4,314.0 252.4,314.0 253.4,313.9 254.4,313.9 255.4,313.9 256.4,313.9 257.4,313.9 258.4,313.8 259.4,313.8 260.4,313.8 261.4,313.8 262.4,313.7 263.4,313.7 264.4,313.7 265.4,313.7 266.4,313.7 267.4,313.6 268.4,313.6 269.4,313.6 270.4,313.6 271.4,313.6 272.4,313.5 273.4,313.5 274.4,313.5 275.4,313.5 276.4,313.4 277.4,313.4 278.4,313.4 279.4,313.4 280.4,313.4 281.4,313.3 282.4,313.3 283.4,313.3 284.4,313.3 285.4,313.3 286.4,313.2 287.4,313.2 288.4,313.2 289.4,313.2 290.4,313.1 291.4,313.1 292.4,313.1 293.4,313.1 294.4,313.1 295.4,313.0 296.4,313.0 297.4,313.0 298.4,313.0 299.4,313.0 300.4,312.9 301.4,312.9 302.4,312.9 303.4,312.9 304.4,312.8 305.4,312.8 306.4,312.8 307.4,312.8 308.4,312.8 309.4,312.7 310.4,312.7 311.4,312.7 312.4,312.7 313.4,312.7 314.4,312.6 315.4,312.6 316.4,312.6 317.4,312.6 318.4,312.5 319.4,312.5 320.4,312.5 321.4,312.5 322.4,312.5 323.4,312.4 324.4,312.4 325.4,312.4 326.4,312.4 327.4,312.4 328.4,312.3 329.4,312.3 330.4,312.3 331.4,312.3 332.4,312.2 333.4,312.2 334.4,312.2 335.4,312.2 336.4,312.2 337.4,312.1 338.4,312.1 339.4,312.1 340.4,312.1 341.4,312.1 342.4,312.0 343.4,312.0 344.4,312.0 345.4,312.0 346.4,311.9 347.4,311.9 348.4,311.9 349.4,311.9 350.4,311.9 351.4,311.8 352.4,311.8 353.4,311.8 354.4,311.8 355.4,311.8 356.4,311.7 357.4,311.7 358.4,311.7 359.4,311.7 360.4,311.6 361.4,311.6 362.4,311.6 363.4,311.6 364.4,311.6 365.4,311.5" stroke="#428e6c" stroke-width="2.2"/>
<polyline points="41.4,318.5 42.4,318.5 43.4,318.4 44.4,318.4 45.4,318.4 46.4,318.4 47.4,318.4 48.4,318.3 49.4,318.3 50.4,318.3 51.4,318.3 52.4,318.2 53.4,318.2 54.4,318.2 55.4,318.2 56.4,318.2 57.4,318.1 58.4,318.1 59.4,318.1 60.4,318.1 61.4,318.1 62.4,318.0 63.4,318.0 64.4,318.0 65.4,318.0 66.4,317.9 67.4,317.9 68.4,317.9 69.4,317.9 70.4,317.9 71.4,317.8 72.4,317.8 73.4,317.8 74.4,317.8 75.4,317.8 76.4,317.7 77.4,317.7 78.4,317.7 79.4,317.7 80.4,317.6 81.4,317.6 82.4,317.6 83.4,317.6 84.4,317.6 85.4,317.5 86.4,317.5 87.4,317.5 88.4,317.5 89.4,317.5 90.4,317.4 91.4,317.4 92.4,317.4 93.4,317.4 94.4,317.3 95.4,317.3 96.4,317.3 97.4,317.3 98.4,317.3 99.4,317.2 100.4,317.2 101.4,317.2 102.4,317.2 103.4,317.2 104.4,317.1 105.4,317.1 106.4,317.1 107.4,317.1 108.4,317.0 109.4,317.0 110.4,317.0 111.4,317.0 112.4,317.0 113.4,316.9 114.4,316.9 115.4,316.9 116.4,316.9 117.4,316.9 118.4,316.8 119.4,316.8 120.4,316.8 121.4,316.8 122.4,316.7 123.4,316.7 124.4,316.7 125.4,316.7 126.4,316.7 127.4,316.6 128.4,316.6 129.4,316.6 130.4,316.6 131.4,316.5 132.4,316.5 133.4,316.5 134.4,316.4 135.4,316.4 136.4,316.4 137.4,316.3 138.4,316.3 139.4,316.2 140.4,316.2 141.4,316.1 142.4,316.0 143.4,315.9 144.4,315.8 145.4,315.7 146.4,315.6 147.4,315.4 148.4,315.2 149.4,315.0 150.4,314.8 151.4,314.5 152.4,314.2 153.4,313.8 154.4,313.4 155.4,313.0 156.4,312.5 157.4,311.9 158.4,311.3 159.4,310.6 160.4,309.8 161.4,309.0 162.4,308.0 163.4,307.1 164.4,306.0 165.4,304.8 166.4,303.6 167.4,302.3 168.4,300.9 169.4,299.5 170.4,298.0 171.4,296.5 172.4,294.9 173.4,293.3 174.4,291.6 175.4,290.0 176.4,288.4 177.4,286.8 178.4,285.2 179.4,283.7 180.4,282.3 181.4,281.0 182.4,279.7 183.4,278.6 184.4,277.6 185.4,276.8 186.4,276.1 187.4,275.6 188.4,275.2 189.4,275.0 190.4,275.0 191.4,275.2 192.4,275.6 193.4,276.2 194.4,277.1 195.4,278.1 196.4,279.2 197.4,280.5 198.4,281.9 199.4,283.5 200.4,285.1 201.4,286.8 202.4,288.5 203.4,290.3 204.4,292.1 205.4,293.8 206.4,295.5 207.4,297.2 208.4,298.8 209.4,300.3 210.4,301.8 211.4,303.1 212.4,304.4 213.4,305.6 214.4,306.7 215.4,307.7 216.4,308.6 217.4,309.4 218.4,310.1 219.4,310.7 220.4,311.3 221.4,311.8 222.4,312.2 223.4,312.6 224.4,312.9 225.4,313.1 226.4,313.4 227.4,313.6 228.4,313.7 229.4,313.8 230.4,313.9 231.4,314.0 232.4,314.1 233.4,314.1 234.4,314.1 235.4,314.2 236.4,314.2 237.4,314.2 238.4,314.2 239.4,314.2 240.4,314.2 241.4,314.2 242.4,314.1 243.4,314.1 244.4,314.1 245.4,314.1 246.4,314.1 247.4,314.1 248.4,314.0 249.4,314.0 250.4,314.0 251.4,314.0 252.4,314.0 253.4,313.9 254.4,313.9 255.4,313.9 256.4,313.9 257.4,313.9 258.4,313.8 259.4,313.8 260.4,313.8 261.4,313.8 262.4,313.7 263.4,313.7 264.4,313.7 265.4,313.7 266.4,313.7 267.4,313.6 268.4,313.6 269.4,313.6 270.4,313.6 271.4,313.6 272.4,313.5 273.4,313.5 274.4,313.5 275.4,313.5 276.4,313.4 277.4,313.4 278.4,313.4 279.4,313.4 280.4,313.4 281.4,313.3 282.4,313.3 283.4,313.3 284.4,313.3 285.4,313.3 286.4,313.2 287.4,313.2 288.4,313.2 289.4,313.2 290.4,313.1 291.4,313.1 292.4,313.1 293.4,313.1 294.4,313.1 295.4,313.0 296.4,313.0 297.4,313.0 298.4,313.0 299.4,313.0 300.4,312.9 301.4,312.9 302.4,312.9 303.4,312.9 304.4,312.8 305.4,312.8 306.4,312.8 307.4,312.8 308.4,312.8 309.4,312.7 310.4,312.7 311.4,312.7 312.4,312.7 313.4,312.7 314.4,312.6 315.4,312.6 316.4,312.6 317.4,312.6 318.4,312.5 319.4,312.5 320.4,312.5 321.4,312.5 322.4,312.5 323.4,312.4 324.4,312.4 325.4,312.4 326.4,312.4 327.4,312.4 328.4,312.3 329.4,312.3 330.4,312.3 331.4,312.3 332.4,312.2 333.4,312.2 334.4,312.2 335.4,312.2 336.4,312.2 337.4,312.1 338.4,312.1 339.4,312.1 340.4,312.1 341.4,312.1 342.4,312.0 343.4,312.0 344.4,312.0 345.4,312.0 346.4,311.9 347.4,311.9 348.4,311.9 349.4,311.9 350.4,311.9 351.4,311.8 352.4,311.8 353.4,311.8 354.4,311.8 355.4,311.8 356.4,311.7 357.4,311.7 358.4,311.7 359.4,311.7 360.4,311.6 361.4,311.6 362.4,311.6 363.4,311.6 364.4,311.6 365.4,311.5" stroke="#a586da" stroke-width="1.8"/>
<polyline points="41.4,318.5 42.4,318.5 43.4,318.4 44.4,318.4 45.4,318.4 46.4,318.4 47.4,318.4 48.4,318.3 49.4,318.3 50.4,318.3 51.4,318.3 52.4,318.2 53.4,318.2 54.4,318.2 55.4,318.2 56.4,318.2 57.4,318.1 58.4,318.1 59.4,318.1 60.4,318.1 61.4,318.1 62.4,318.0 63.4,318.0 64.4,318.0 65.4,318.0 66.4,317.9 67.4,317.9 68.4,317.9 69.4,317.9 70.4,317.9 71.4,317.8 72.4,317.8 73.4,317.8 74.4,317.8 75.4,317.8 76.4,317.7 77.4,317.7 78.4,317.7 79.4,317.7 80.4,317.6 81.4,317.6 82.4,317.6 83.4,317.6 84.4,317.6 85.4,317.5 86.4,317.5 87.4,317.5 88.4,317.5 89.4,317.5 90.4,317.4 91.4,317.4 92.4,317.4 93.4,317.4 94.4,317.3 95.4,317.3 96.4,317.3 97.4,317.3 98.4,317.3 99.4,317.2 100.4,317.2 101.4,317.2 102.4,317.2 103.4,317.2 104.4,317.1 105.4,317.1 106.4,317.1 107.4,317.1 108.4,317.0 109.4,317.0 110.4,317.0 111.4,317.0 112.4,317.0 113.4,316.9 114.4,316.9 115.4,316.9 116.4,316.9 117.4,316.9 118.4,316.8 119.4,316.8 120.4,316.8 121.4,316.8 122.4,316.7 123.4,316.7 124.4,316.7 125.4,316.7 126.4,316.7 127.4,316.6 128.4,316.6 129.4,316.6 130.4,316.6 131.4,316.5 132.4,316.5 133.4,316.5 134.4,316.5 135.4,316.5 136.4,316.4 137.4,316.4 138.4,316.4 139.4,316.4 140.4,316.4 141.4,316.3 142.4,316.3 143.4,316.3 144.4,316.3 145.4,316.2 146.4,316.2 147.4,316.2 148.4,316.2 149.4,316.1 150.4,316.1 151.4,316.1 152.4,316.0 153.4,316.0 154.4,316.0 155.4,315.9 156.4,315.9 157.4,315.9 158.4,315.8 159.4,315.8 160.4,315.7 161.4,315.7 162.4,315.6 163.4,315.6 164.4,315.5 165.4,315.5 166.4,315.4 167.4,315.3 168.4,315.2 169.4,315.1 170.4,315.0 171.4,314.9 172.4,314.8 173.4,314.7 174.4,314.6 175.4,314.5 176.4,314.3 177.4,314.2 178.4,314.0 179.4,313.8 180.4,313.7 181.4,313.5 182.4,313.3 183.4,313.1 184.4,312.9 185.4,312.6 186.4,312.4 187.4,312.1 188.4,311.9 189.4,311.6 190.4,311.4 191.4,311.1 192.4,310.8 193.4,310.5 194.4,310.2 195.4,309.9 196.4,309.6 197.4,309.3 198.4,309.0 199.4,308.7 200.4,308.4 201.4,308.1 202.4,307.9 203.4,307.6 204.4,307.3 205.4,307.1 206.4,306.8 207.4,306.6 208.4,306.4 209.4,306.2 210.4,306.0 211.4,305.9 212.4,305.8 213.4,305.6 214.4,305.6 215.4,305.5 216.4,305.4 217.4,305.4 218.4,305.4 219.4,305.4 220.4,305.5 221.4,305.5 222.4,305.6 223.4,305.7 224.4,305.8 225.4,306.0 226.4,306.1 227.4,306.3 228.4,306.5 229.4,306.7 230.4,306.9 231.4,307.1 232.4,307.4 233.4,307.6 234.4,307.9 235.4,308.1 236.4,308.4 237.4,308.6 238.4,308.9 239.4,309.1 240.4,309.4 241.4,309.6 242.4,309.9 243.4,310.1 244.4,310.3 245.4,310.6 246.4,310.8 247.4,311.0 248.4,311.2 249.4,311.4 250.4,311.6 251.4,311.7 252.4,311.9 253.4,312.0 254.4,312.2 255.4,312.3 256.4,312.4 257.4,312.5 258.4,312.6 259.4,312.7 260.4,312.8 261.4,312.9 262.4,313.0 263.4,313.0 264.4,313.1 265.4,313.1 266.4,313.2 267.4,313.2 268.4,313.2 269.4,313.3 270.4,313.3 271.4,313.3 272.4,313.3 273.4,313.3 274.4,313.3 275.4,313.3 276.4,313.3 277.4,313.3 278.4,313.3 279.4,313.3 280.4,313.3 281.4,313.3 282.4,313.3 283.4,313.2 284.4,313.2 285.4,313.2 286.4,313.2 287.4,313.2 288.4,313.2 289.4,313.1 290.4,313.1 291.4,313.1 292.4,313.1 293.4,313.1 294.4,313.1 295.4,313.0 296.4,313.0 297.4,313.0 298.4,313.0 299.4,312.9 300.4,312.9 301.4,312.9 302.4,312.9 303.4,312.9 304.4,312.8 305.4,312.8 306.4,312.8 307.4,312.8 308.4,312.8 309.4,312.7 310.4,312.7 311.4,312.7 312.4,312.7 313.4,312.7 314.4,312.6 315.4,312.6 316.4,312.6 317.4,312.6 318.4,312.5 319.4,312.5 320.4,312.5 321.4,312.5 322.4,312.5 323.4,312.4 324.4,312.4 325.4,312.4 326.4,312.4 327.4,312.4 328.4,312.3 329.4,312.3 330.4,312.3 331.4,312.3 332.4,312.2 333.4,312.2 334.4,312.2 335.4,312.2 336.4,312.2 337.4,312.1 338.4,312.1 339.4,312.1 340.4,312.1 341.4,312.1 342.4,312.0 343.4,312.0 344.4,312.0 345.4,312.0 346.4,311.9 347.4,311.9 348.4,311.9 349.4,311.9 350.4,311.9 351.4,311.8 352.4,311.8 353.4,311.8 354.4,311.8 355.4,311.8 356.4,311.7 357.4,311.7 358.4,311.7 359.4,311.7 360.4,311.6 361.4,311.6 362.4,311.6 363.4,311.6 364.4,311.6 365.4,311.5" stroke="#c6a236" stroke-width="1.9"/>
<line x1="132.7" y1="317.0" x2="237.0" y2="314.8" stroke="#4480d2" stroke-width="1.5"/>
</g>
<rect x="40.4" y="26.2" width="326.8" height="304.3" fill="none" stroke="#1c1c1c" stroke-width="2"/>
<line x1="40.4" y1="177.9" x2="367.2" y2="177.9" stroke="#1c1c1c" stroke-width="1.8"/>
<line x1="40.4" y1="330.5" x2="40.4" y2="333.3" stroke="#1c1c1c" stroke-width="1.6"/>
<line x1="62.2" y1="330.5" x2="62.2" y2="335.0" stroke="#1c1c1c" stroke-width="1.6"/>
<line x1="84.0" y1="330.5" x2="84.0" y2="333.3" stroke="#1c1c1c" stroke-width="1.6"/>
<line x1="105.8" y1="330.5" x2="105.8" y2="335.0" stroke="#1c1c1c" stroke-width="1.6"/>
<line x1="127.5" y1="330.5" x2="127.5" y2="333.3" stroke="#1c1c1c" stroke-width="1.6"/>
<line x1="149.3" y1="330.5" x2="149.3" y2="335.0" stroke="#1c1c1c" stroke-width="1.6"/>
<line x1="171.1" y1="330.5" x2="171.1" y2="333.3" stroke="#1c1c1c" stroke-width="1.6"/>
<line x1="192.9" y1="330.5" x2="192.9" y2="335.0" stroke="#1c1c1c" stroke-width="1.6"/>
<line x1="214.7" y1="330.5" x2="214.7" y2="333.3" stroke="#1c1c1c" stroke-width="1.6"/>
<line x1="236.5" y1="330.5" x2="236.5" y2="335.0" stroke="#1c1c1c" stroke-width="1.6"/>
<line x1="258.3" y1="330.5" x2="258.3" y2="333.3" stroke="#1c1c1c" stroke-width="1.6"/>
<line x1="280.1" y1="330.5" x2="280.1" y2="335.0" stroke="#1c1c1c" stroke-width="1.6"/>
<line x1="301.8" y1="330.5" x2="301.8" y2="333.3" stroke="#1c1c1c" stroke-width="1.6"/>
<line x1="323.6" y1="330.5" x2="323.6" y2="335.0" stroke="#1c1c1c" stroke-width="1.6"/>
<line x1="345.4" y1="330.5" x2="345.4" y2="333.3" stroke="#1c1c1c" stroke-width="1.6"/>
<line x1="367.2" y1="330.5" x2="367.2" y2="335.0" stroke="#1c1c1c" stroke-width="1.6"/>
<text x="0" y="0" font-size="22" fill="#5a5a5a" text-anchor="middle" transform="translate(62.19,353.70) scale(0.94,1)">526</text>
<text x="0" y="0" font-size="22" fill="#5a5a5a" text-anchor="middle" transform="translate(105.76,353.70) scale(0.94,1)">528</text>
<text x="0" y="0" font-size="22" fill="#5a5a5a" text-anchor="middle" transform="translate(149.33,353.70) scale(0.94,1)">530</text>
<text x="0" y="0" font-size="22" fill="#5a5a5a" text-anchor="middle" transform="translate(192.91,353.70) scale(0.94,1)">532</text>
<text x="0" y="0" font-size="22" fill="#5a5a5a" text-anchor="middle" transform="translate(236.48,353.70) scale(0.94,1)">534</text>
<text x="0" y="0" font-size="22" fill="#5a5a5a" text-anchor="middle" transform="translate(280.05,353.70) scale(0.94,1)">536</text>
<text x="0" y="0" font-size="22" fill="#5a5a5a" text-anchor="middle" transform="translate(323.63,353.70) scale(0.94,1)">538</text>
<text x="0" y="0" font-size="22" fill="#5a5a5a" text-anchor="middle" transform="translate(367.20,353.70) scale(0.94,1)">540</text>
<g fill="none" stroke-linejoin="round" stroke-linecap="butt">
<polyline points="401.1,167.0 402.1,166.8 403.1,167.5 404.1,166.5 405.1,167.0 406.1,166.4 407.1,167.5 408.1,167.5 409.1,167.9 410.1,167.3 411.1,167.5 412.1,167.2 413.1,167.0 414.1,167.2 415.1,166.7 416.1,166.9 417.1,167.4 418.1,167.3 419.1,167.1 420.1,168.0 421.1,167.5 422.1,167.0 423.1,167.2 424.1,166.9 425.1,166.9 426.1,166.9 427.1,167.8 428.1,167.3 429.1,167.2 430.1,167.4 431.1,167.9 432.1,167.2 433.1,166.8 434.1,167.9 435.1,166.7 436.1,166.7 437.1,167.1 438.1,167.9 439.1,166.8 440.1,165.9 441.1,166.8 442.1,166.6 443.1,166.6 444.1,166.9 445.1,166.9 446.1,166.9 447.1,166.6 448.1,167.2 449.1,167.5 450.1,167.0 451.1,166.6 452.1,166.9 453.1,166.9 454.1,166.3 455.1,166.3 456.1,166.9 457.1,166.6 458.1,166.4 459.1,166.6 460.1,166.5 461.1,166.5 462.1,165.7 463.1,166.9 464.1,166.6 465.1,166.1 466.1,166.7 467.1,166.6 468.1,166.4 469.1,166.8 470.1,167.3 471.1,166.8 472.1,167.1 473.1,167.4 474.1,166.2 475.1,165.9 476.1,166.4 477.1,165.5 478.1,165.7 479.1,166.4 480.1,166.6 481.1,166.4 482.1,165.3 483.1,166.6 484.1,166.3 485.1,166.3 486.1,166.1 487.1,165.2 488.1,164.9 489.1,164.9 490.1,166.1 491.1,165.4 492.1,165.3 493.1,165.2 494.1,165.4 495.1,165.4 496.1,165.2 497.1,164.4 498.1,163.2 499.1,163.9 500.1,164.0 501.1,164.0 502.1,163.2 503.1,162.2 504.1,161.7 505.1,160.2 506.1,159.1 507.1,157.9 508.1,157.2 509.1,156.7 510.1,154.9 511.1,153.5 512.1,151.5 513.1,149.8 514.1,148.0 515.1,146.5 516.1,144.2 517.1,143.2 518.1,142.1 519.1,142.0 520.1,141.3 521.1,140.8 522.1,140.3 523.1,139.1 524.1,138.9 525.1,139.0 526.1,138.1 527.1,138.2 528.1,137.7 529.1,136.9 530.1,137.2 531.1,136.9 532.1,136.9 533.1,136.4 534.1,136.2 535.1,134.7 536.1,135.2 537.1,134.5 538.1,132.8 539.1,131.3 540.1,130.3 541.1,129.4 542.1,128.2 543.1,126.9 544.1,124.8 545.1,123.7 546.1,123.7 547.1,122.7 548.1,121.2 549.1,120.6 550.1,119.9 551.1,119.6 552.1,120.4 553.1,120.1 554.1,120.8 555.1,121.1 556.1,121.0 557.1,122.0 558.1,124.3 559.1,124.8 560.1,125.8 561.1,128.1 562.1,129.6 563.1,131.2 564.1,133.5 565.1,134.3 566.1,136.6 567.1,138.0 568.1,139.6 569.1,141.5 570.1,144.2 571.1,145.6 572.1,146.5 573.1,148.1 574.1,150.7 575.1,152.3 576.1,152.8 577.1,155.2 578.1,155.6 579.1,156.0 580.1,157.2 581.1,158.5 582.1,159.8 583.1,160.4 584.1,160.4 585.1,160.7 586.1,160.7 587.1,161.6 588.1,161.9 589.1,162.5 590.1,162.3 591.1,162.7 592.1,162.8 593.1,162.8 594.1,162.9 595.1,163.1 596.1,163.2 597.1,164.0 598.1,164.1 599.1,163.6 600.1,164.2 601.1,164.4 602.1,164.9 603.1,164.5 604.1,164.3 605.1,164.1 606.1,164.3 607.1,164.6 608.1,164.5 609.1,164.4 610.1,164.6 611.1,164.6 612.1,164.6 613.1,164.1 614.1,164.4 615.1,164.0 616.1,164.0 617.1,164.4 618.1,165.3 619.1,165.2 620.1,164.7 621.1,164.5 622.1,164.9 623.1,165.2 624.1,165.2 625.1,164.6 626.1,164.6 627.1,164.4 628.1,164.3 629.1,164.0 630.1,164.2 631.1,163.5 632.1,163.6 633.1,164.3 634.1,164.0 635.1,164.5 636.1,163.9 637.1,164.1 638.1,164.4 639.1,164.0 640.1,163.9 641.1,165.2 642.1,164.4 643.1,164.1 644.1,164.0 645.1,164.2 646.1,164.3 647.1,164.7 648.1,164.8 649.1,164.3 650.1,164.2 651.1,163.7 652.1,163.5 653.1,163.7 654.1,164.4 655.1,164.3 656.1,164.6 657.1,164.8 658.1,164.3 659.1,165.1 660.1,164.3 661.1,164.0 662.1,163.9 663.1,164.6 664.1,164.3 665.1,163.9 666.1,164.2 667.1,164.6 668.1,164.3 669.1,164.1 670.1,164.5 671.1,164.7 672.1,164.7 673.1,164.0 674.1,164.2 675.1,164.2 676.1,163.4 677.1,164.3 678.1,164.2 679.1,163.9 680.1,164.9 681.1,164.4 682.1,163.8 683.1,163.9 684.1,164.2 685.1,164.4 686.1,164.1 687.1,163.6 688.1,163.5 689.1,163.5 690.1,163.3 691.1,163.7 692.1,163.6 693.1,163.8 694.1,163.5 695.1,163.4 696.1,163.6 697.1,163.6 698.1,164.2 699.1,163.6 700.1,163.8 701.1,163.8 702.1,163.2 703.1,163.9 704.1,163.9 705.1,162.9 706.1,163.7 707.1,164.1 708.1,163.5 709.1,164.3 710.1,164.0 711.1,163.3 712.1,163.8 713.1,163.5 714.1,163.1 715.1,162.6 716.1,163.3 717.1,163.2 718.1,163.7 719.1,163.8 720.1,163.4 721.1,163.3 722.1,164.2 723.1,164.5" stroke="#6e6a58" stroke-width="3.2"/>
<polyline points="401.1,167.5 402.1,167.4 403.1,167.4 404.1,167.4 405.1,167.4 406.1,167.4 407.1,167.4 408.1,167.4 409.1,167.3 410.1,167.3 411.1,167.3 412.1,167.3 413.1,167.3 414.1,167.3 415.1,167.3 416.1,167.2 417.1,167.2 418.1,167.2 419.1,167.2 420.1,167.2 421.1,167.2 422.1,167.2 423.1,167.1 424.1,167.1 425.1,167.1 426.1,167.1 427.1,167.1 428.1,167.1 429.1,167.0 430.1,167.0 431.1,167.0 432.1,167.0 433.1,167.0 434.1,167.0 435.1,166.9 436.1,166.9 437.1,166.9 438.1,166.9 439.1,166.9 440.1,166.9 441.1,166.9 442.1,166.8 443.1,166.8 444.1,166.8 445.1,166.8 446.1,166.8 447.1,166.7 448.1,166.7 449.1,166.7 450.1,166.7 451.1,166.7 452.1,166.7 453.1,166.6 454.1,166.6 455.1,166.6 456.1,166.6 457.1,166.6 458.1,166.5 459.1,166.5 460.1,166.5 461.1,166.5 462.1,166.5 463.1,166.4 464.1,166.4 465.1,166.4 466.1,166.4 467.1,166.4 468.1,166.3 469.1,166.3 470.1,166.3 471.1,166.3 472.1,166.2 473.1,166.2 474.1,166.2 475.1,166.2 476.1,166.1 477.1,166.1 478.1,166.1 479.1,166.0 480.1,166.0 481.1,166.0 482.1,165.9 483.1,165.9 484.1,165.9 485.1,165.8 486.1,165.8 487.1,165.7 488.1,165.7 489.1,165.6 490.1,165.6 491.1,165.5 492.1,165.5 493.1,165.4 494.1,165.3 495.1,165.2 496.1,165.0 497.1,164.8 498.1,164.6 499.1,164.3 500.1,164.0 501.1,163.6 502.1,163.0 503.1,162.4 504.1,161.6 505.1,160.8 506.1,159.7 507.1,158.6 508.1,157.3 509.1,155.9 510.1,154.4 511.1,152.8 512.1,151.2 513.1,149.6 514.1,148.1 515.1,146.6 516.1,145.3 517.1,144.0 518.1,142.9 519.1,141.9 520.1,141.0 521.1,140.2 522.1,139.5 523.1,138.9 524.1,138.4 525.1,138.1 526.1,137.8 527.1,137.7 528.1,137.6 529.1,137.5 530.1,137.4 531.1,137.3 532.1,137.0 533.1,136.7 534.1,136.1 535.1,135.5 536.1,134.7 537.1,133.8 538.1,132.7 539.1,131.6 540.1,130.4 541.1,129.2 542.1,127.9 543.1,126.7 544.1,125.5 545.1,124.4 546.1,123.4 547.1,122.5 548.1,121.7 549.1,121.1 550.1,120.6 551.1,120.3 552.1,120.1 553.1,120.2 554.1,120.4 555.1,120.9 556.1,121.6 557.1,122.5 558.1,123.5 559.1,124.8 560.1,126.2 561.1,127.7 562.1,129.4 563.1,131.1 564.1,132.9 565.1,134.8 566.1,136.6 567.1,138.5 568.1,140.3 569.1,142.1 570.1,143.9 571.1,145.6 572.1,147.3 573.1,148.8 574.1,150.3 575.1,151.7 576.1,153.0 577.1,154.3 578.1,155.4 579.1,156.4 580.1,157.4 581.1,158.2 582.1,159.0 583.1,159.7 584.1,160.3 585.1,160.9 586.1,161.4 587.1,161.8 588.1,162.2 589.1,162.5 590.1,162.8 591.1,163.1 592.1,163.3 593.1,163.5 594.1,163.6 595.1,163.8 596.1,163.9 597.1,164.0 598.1,164.1 599.1,164.1 600.1,164.2 601.1,164.2 602.1,164.3 603.1,164.3 604.1,164.3 605.1,164.4 606.1,164.4 607.1,164.4 608.1,164.4 609.1,164.4 610.1,164.4 611.1,164.4 612.1,164.4 613.1,164.5 614.1,164.5 615.1,164.5 616.1,164.5 617.1,164.5 618.1,164.5 619.1,164.5 620.1,164.5 621.1,164.5 622.1,164.5 623.1,164.5 624.1,164.5 625.1,164.5 626.1,164.5 627.1,164.5 628.1,164.4 629.1,164.4 630.1,164.4 631.1,164.4 632.1,164.4 633.1,164.4 634.1,164.4 635.1,164.4 636.1,164.4 637.1,164.4 638.1,164.4 639.1,164.4 640.1,164.4 641.1,164.4 642.1,164.4 643.1,164.4 644.1,164.4 645.1,164.3 646.1,164.3 647.1,164.3 648.1,164.3 649.1,164.3 650.1,164.3 651.1,164.3 652.1,164.3 653.1,164.3 654.1,164.3 655.1,164.3 656.1,164.3 657.1,164.2 658.1,164.2 659.1,164.2 660.1,164.2 661.1,164.2 662.1,164.2 663.1,164.2 664.1,164.2 665.1,164.2 666.1,164.2 667.1,164.2 668.1,164.1 669.1,164.1 670.1,164.1 671.1,164.1 672.1,164.1 673.1,164.1 674.1,164.1 675.1,164.1 676.1,164.1 677.1,164.1 678.1,164.0 679.1,164.0 680.1,164.0 681.1,164.0 682.1,164.0 683.1,164.0 684.1,164.0 685.1,164.0 686.1,164.0 687.1,163.9 688.1,163.9 689.1,163.9 690.1,163.9 691.1,163.9 692.1,163.9 693.1,163.9 694.1,163.9 695.1,163.9 696.1,163.9 697.1,163.8 698.1,163.8 699.1,163.8 700.1,163.8 701.1,163.8 702.1,163.8 703.1,163.8 704.1,163.8 705.1,163.8 706.1,163.7 707.1,163.7 708.1,163.7 709.1,163.7 710.1,163.7 711.1,163.7 712.1,163.7 713.1,163.7 714.1,163.6 715.1,163.6 716.1,163.6 717.1,163.6 718.1,163.6 719.1,163.6 720.1,163.6 721.1,163.6 722.1,163.6 723.1,163.5" stroke="#bf4a5c" stroke-width="2.4"/>
<polyline points="401.1,167.6 402.1,167.6 403.1,167.6 404.1,167.5 405.1,167.5 406.1,167.5 407.1,167.5 408.1,167.5 409.1,167.5 410.1,167.5 411.1,167.5 412.1,167.4 413.1,167.4 414.1,167.4 415.1,167.4 416.1,167.4 417.1,167.4 418.1,167.4 419.1,167.4 420.1,167.3 421.1,167.3 422.1,167.3 423.1,167.3 424.1,167.3 425.1,167.3 426.1,167.3 427.1,167.3 428.1,167.2 429.1,167.2 430.1,167.2 431.1,167.2 432.1,167.2 433.1,167.2 434.1,167.2 435.1,167.2 436.1,167.1 437.1,167.1 438.1,167.1 439.1,167.1 440.1,167.1 441.1,167.1 442.1,167.1 443.1,167.1 444.1,167.0 445.1,167.0 446.1,167.0 447.1,167.0 448.1,167.0 449.1,167.0 450.1,167.0 451.1,167.0 452.1,166.9 453.1,166.9 454.1,166.9 455.1,166.9 456.1,166.9 457.1,166.9 458.1,166.9 459.1,166.9 460.1,166.8 461.1,166.8 462.1,166.8 463.1,166.8 464.1,166.8 465.1,166.8 466.1,166.8 467.1,166.7 468.1,166.7 469.1,166.7 470.1,166.7 471.1,166.7 472.1,166.7 473.1,166.7 474.1,166.7 475.1,166.6 476.1,166.6 477.1,166.6 478.1,166.6 479.1,166.6 480.1,166.6 481.1,166.6 482.1,166.5 483.1,166.5 484.1,166.5 485.1,166.5 486.1,166.5 487.1,166.5 488.1,166.5 489.1,166.4 490.1,166.4 491.1,166.4 492.1,166.4 493.1,166.4 494.1,166.4 495.1,166.3 496.1,166.3 497.1,166.3 498.1,166.3 499.1,166.3 500.1,166.2 501.1,166.2 502.1,166.2 503.1,166.2 504.1,166.1 505.1,166.1 506.1,166.0 507.1,165.9 508.1,165.8 509.1,165.7 510.1,165.5 511.1,165.2 512.1,164.9 513.1,164.4 514.1,163.9 515.1,163.3 516.1,162.6 517.1,161.8 518.1,160.9 519.1,159.9 520.1,159.0 521.1,158.1 522.1,157.2 523.1,156.5 524.1,156.0 525.1,155.8 526.1,155.8 527.1,156.1 528.1,156.6 529.1,157.2 530.1,158.1 531.1,159.0 532.1,159.9 533.1,160.8 534.1,161.7 535.1,162.4 536.1,163.1 537.1,163.7 538.1,164.2 539.1,164.6 540.1,164.9 541.1,165.1 542.1,165.3 543.1,165.4 544.1,165.5 545.1,165.5 546.1,165.6 547.1,165.6 548.1,165.6 549.1,165.6 550.1,165.6 551.1,165.6 552.1,165.6 553.1,165.6 554.1,165.6 555.1,165.6 556.1,165.6 557.1,165.6 558.1,165.6 559.1,165.6 560.1,165.6 561.1,165.5 562.1,165.5 563.1,165.5 564.1,165.5 565.1,165.5 566.1,165.5 567.1,165.5 568.1,165.5 569.1,165.5 570.1,165.5 571.1,165.5 572.1,165.4 573.1,165.4 574.1,165.4 575.1,165.4 576.1,165.4 577.1,165.4 578.1,165.4 579.1,165.4 580.1,165.4 581.1,165.3 582.1,165.3 583.1,165.3 584.1,165.3 585.1,165.3 586.1,165.3 587.1,165.3 588.1,165.3 589.1,165.2 590.1,165.2 591.1,165.2 592.1,165.2 593.1,165.2 594.1,165.2 595.1,165.2 596.1,165.2 597.1,165.2 598.1,165.1 599.1,165.1 600.1,165.1 601.1,165.1 602.1,165.1 603.1,165.1 604.1,165.1 605.1,165.1 606.1,165.0 607.1,165.0 608.1,165.0 609.1,165.0 610.1,165.0 611.1,165.0 612.1,165.0 613.1,165.0 614.1,165.0 615.1,164.9 616.1,164.9 617.1,164.9 618.1,164.9 619.1,164.9 620.1,164.9 621.1,164.9 622.1,164.9 623.1,164.8 624.1,164.8 625.1,164.8 626.1,164.8 627.1,164.8 628.1,164.8 629.1,164.8 630.1,164.8 631.1,164.7 632.1,164.7 633.1,164.7 634.1,164.7 635.1,164.7 636.1,164.7 637.1,164.7 638.1,164.7 639.1,164.6 640.1,164.6 641.1,164.6 642.1,164.6 643.1,164.6 644.1,164.6 645.1,164.6 646.1,164.6 647.1,164.5 648.1,164.5 649.1,164.5 650.1,164.5 651.1,164.5 652.1,164.5 653.1,164.5 654.1,164.5 655.1,164.5 656.1,164.4 657.1,164.4 658.1,164.4 659.1,164.4 660.1,164.4 661.1,164.4 662.1,164.4 663.1,164.4 664.1,164.3 665.1,164.3 666.1,164.3 667.1,164.3 668.1,164.3 669.1,164.3 670.1,164.3 671.1,164.3 672.1,164.2 673.1,164.2 674.1,164.2 675.1,164.2 676.1,164.2 677.1,164.2 678.1,164.2 679.1,164.2 680.1,164.1 681.1,164.1 682.1,164.1 683.1,164.1 684.1,164.1 685.1,164.1 686.1,164.1 687.1,164.1 688.1,164.0 689.1,164.0 690.1,164.0 691.1,164.0 692.1,164.0 693.1,164.0 694.1,164.0 695.1,164.0 696.1,163.9 697.1,163.9 698.1,163.9 699.1,163.9 700.1,163.9 701.1,163.9 702.1,163.9 703.1,163.9 704.1,163.8 705.1,163.8 706.1,163.8 707.1,163.8 708.1,163.8 709.1,163.8 710.1,163.8 711.1,163.8 712.1,163.8 713.1,163.7 714.1,163.7 715.1,163.7 716.1,163.7 717.1,163.7 718.1,163.7 719.1,163.7 720.1,163.7 721.1,163.6 722.1,163.6 723.1,163.6" stroke="#a586da" stroke-width="1.8"/>
<polyline points="401.1,167.5 402.1,167.5 403.1,167.4 404.1,167.4 405.1,167.4 406.1,167.4 407.1,167.4 408.1,167.4 409.1,167.4 410.1,167.3 411.1,167.3 412.1,167.3 413.1,167.3 414.1,167.3 415.1,167.3 416.1,167.3 417.1,167.2 418.1,167.2 419.1,167.2 420.1,167.2 421.1,167.2 422.1,167.2 423.1,167.2 424.1,167.1 425.1,167.1 426.1,167.1 427.1,167.1 428.1,167.1 429.1,167.1 430.1,167.1 431.1,167.0 432.1,167.0 433.1,167.0 434.1,167.0 435.1,167.0 436.1,167.0 437.1,166.9 438.1,166.9 439.1,166.9 440.1,166.9 441.1,166.9 442.1,166.9 443.1,166.9 444.1,166.8 445.1,166.8 446.1,166.8 447.1,166.8 448.1,166.8 449.1,166.8 450.1,166.7 451.1,166.7 452.1,166.7 453.1,166.7 454.1,166.7 455.1,166.6 456.1,166.6 457.1,166.6 458.1,166.6 459.1,166.6 460.1,166.6 461.1,166.5 462.1,166.5 463.1,166.5 464.1,166.5 465.1,166.5 466.1,166.4 467.1,166.4 468.1,166.4 469.1,166.4 470.1,166.4 471.1,166.3 472.1,166.3 473.1,166.3 474.1,166.3 475.1,166.3 476.1,166.2 477.1,166.2 478.1,166.2 479.1,166.2 480.1,166.1 481.1,166.1 482.1,166.1 483.1,166.1 484.1,166.0 485.1,166.0 486.1,166.0 487.1,165.9 488.1,165.9 489.1,165.9 490.1,165.8 491.1,165.8 492.1,165.7 493.1,165.7 494.1,165.6 495.1,165.6 496.1,165.5 497.1,165.5 498.1,165.4 499.1,165.3 500.1,165.2 501.1,165.1 502.1,165.0 503.1,164.8 504.1,164.7 505.1,164.5 506.1,164.4 507.1,164.2 508.1,163.9 509.1,163.7 510.1,163.4 511.1,163.1 512.1,162.7 513.1,162.3 514.1,161.9 515.1,161.4 516.1,160.8 517.1,160.3 518.1,159.6 519.1,158.9 520.1,158.2 521.1,157.3 522.1,156.5 523.1,155.5 524.1,154.5 525.1,153.4 526.1,152.3 527.1,151.1 528.1,149.8 529.1,148.4 530.1,147.1 531.1,145.6 532.1,144.1 533.1,142.6 534.1,141.1 535.1,139.5 536.1,137.9 537.1,136.3 538.1,134.7 539.1,133.1 540.1,131.6 541.1,130.1 542.1,128.7 543.1,127.3 544.1,126.0 545.1,124.8 546.1,123.8 547.1,122.8 548.1,122.0 549.1,121.4 550.1,120.9 551.1,120.5 552.1,120.3 553.1,120.3 554.1,120.6 555.1,121.0 556.1,121.7 557.1,122.6 558.1,123.7 559.1,124.9 560.1,126.3 561.1,127.9 562.1,129.5 563.1,131.2 564.1,133.0 565.1,134.9 566.1,136.7 567.1,138.6 568.1,140.4 569.1,142.2 570.1,144.0 571.1,145.7 572.1,147.3 573.1,148.9 574.1,150.4 575.1,151.8 576.1,153.1 577.1,154.3 578.1,155.4 579.1,156.5 580.1,157.4 581.1,158.3 582.1,159.1 583.1,159.8 584.1,160.4 585.1,160.9 586.1,161.4 587.1,161.9 588.1,162.2 589.1,162.6 590.1,162.9 591.1,163.1 592.1,163.3 593.1,163.5 594.1,163.7 595.1,163.8 596.1,163.9 597.1,164.0 598.1,164.1 599.1,164.2 600.1,164.2 601.1,164.3 602.1,164.3 603.1,164.3 604.1,164.4 605.1,164.4 606.1,164.4 607.1,164.4 608.1,164.4 609.1,164.5 610.1,164.5 611.1,164.5 612.1,164.5 613.1,164.5 614.1,164.5 615.1,164.5 616.1,164.5 617.1,164.5 618.1,164.5 619.1,164.5 620.1,164.5 621.1,164.5 622.1,164.5 623.1,164.5 624.1,164.5 625.1,164.5 626.1,164.5 627.1,164.5 628.1,164.5 629.1,164.5 630.1,164.5 631.1,164.5 632.1,164.4 633.1,164.4 634.1,164.4 635.1,164.4 636.1,164.4 637.1,164.4 638.1,164.4 639.1,164.4 640.1,164.4 641.1,164.4 642.1,164.4 643.1,164.4 644.1,164.4 645.1,164.4 646.1,164.4 647.1,164.3 648.1,164.3 649.1,164.3 650.1,164.3 651.1,164.3 652.1,164.3 653.1,164.3 654.1,164.3 655.1,164.3 656.1,164.3 657.1,164.3 658.1,164.2 659.1,164.2 660.1,164.2 661.1,164.2 662.1,164.2 663.1,164.2 664.1,164.2 665.1,164.2 666.1,164.2 667.1,164.2 668.1,164.2 669.1,164.1 670.1,164.1 671.1,164.1 672.1,164.1 673.1,164.1 674.1,164.1 675.1,164.1 676.1,164.1 677.1,164.1 678.1,164.1 679.1,164.0 680.1,164.0 681.1,164.0 682.1,164.0 683.1,164.0 684.1,164.0 685.1,164.0 686.1,164.0 687.1,164.0 688.1,163.9 689.1,163.9 690.1,163.9 691.1,163.9 692.1,163.9 693.1,163.9 694.1,163.9 695.1,163.9 696.1,163.9 697.1,163.8 698.1,163.8 699.1,163.8 700.1,163.8 701.1,163.8 702.1,163.8 703.1,163.8 704.1,163.8 705.1,163.8 706.1,163.7 707.1,163.7 708.1,163.7 709.1,163.7 710.1,163.7 711.1,163.7 712.1,163.7 713.1,163.7 714.1,163.7 715.1,163.6 716.1,163.6 717.1,163.6 718.1,163.6 719.1,163.6 720.1,163.6 721.1,163.6 722.1,163.6 723.1,163.6" stroke="#428e6c" stroke-width="2.2"/>
<polyline points="401.1,167.6 402.1,167.6 403.1,167.6 404.1,167.5 405.1,167.5 406.1,167.5 407.1,167.5 408.1,167.5 409.1,167.5 410.1,167.5 411.1,167.5 412.1,167.4 413.1,167.4 414.1,167.4 415.1,167.4 416.1,167.4 417.1,167.4 418.1,167.4 419.1,167.4 420.1,167.3 421.1,167.3 422.1,167.3 423.1,167.3 424.1,167.3 425.1,167.3 426.1,167.3 427.1,167.3 428.1,167.2 429.1,167.2 430.1,167.2 431.1,167.2 432.1,167.2 433.1,167.2 434.1,167.2 435.1,167.2 436.1,167.1 437.1,167.1 438.1,167.1 439.1,167.1 440.1,167.1 441.1,167.1 442.1,167.1 443.1,167.0 444.1,167.0 445.1,167.0 446.1,167.0 447.1,167.0 448.1,167.0 449.1,167.0 450.1,167.0 451.1,166.9 452.1,166.9 453.1,166.9 454.1,166.9 455.1,166.9 456.1,166.9 457.1,166.9 458.1,166.9 459.1,166.8 460.1,166.8 461.1,166.8 462.1,166.8 463.1,166.8 464.1,166.8 465.1,166.8 466.1,166.7 467.1,166.7 468.1,166.7 469.1,166.7 470.1,166.7 471.1,166.7 472.1,166.7 473.1,166.6 474.1,166.6 475.1,166.6 476.1,166.6 477.1,166.6 478.1,166.6 479.1,166.5 480.1,166.5 481.1,166.5 482.1,166.5 483.1,166.5 484.1,166.5 485.1,166.4 486.1,166.4 487.1,166.4 488.1,166.4 489.1,166.3 490.1,166.3 491.1,166.3 492.1,166.3 493.1,166.2 494.1,166.2 495.1,166.1 496.1,166.0 497.1,165.9 498.1,165.7 499.1,165.5 500.1,165.3 501.1,165.0 502.1,164.6 503.1,164.1 504.1,163.5 505.1,162.8 506.1,162.0 507.1,161.1 508.1,160.1 509.1,159.1 510.1,158.0 511.1,157.0 512.1,156.1 513.1,155.3 514.1,154.7 515.1,154.3 516.1,154.2 517.1,154.3 518.1,154.7 519.1,155.3 520.1,156.1 521.1,157.0 522.1,158.0 523.1,159.0 524.1,160.0 525.1,161.0 526.1,161.8 527.1,162.6 528.1,163.3 529.1,163.8 530.1,164.3 531.1,164.7 532.1,164.9 533.1,165.2 534.1,165.3 535.1,165.4 536.1,165.5 537.1,165.6 538.1,165.6 539.1,165.7 540.1,165.7 541.1,165.7 542.1,165.7 543.1,165.7 544.1,165.7 545.1,165.7 546.1,165.7 547.1,165.7 548.1,165.7 549.1,165.7 550.1,165.7 551.1,165.6 552.1,165.6 553.1,165.6 554.1,165.6 555.1,165.6 556.1,165.6 557.1,165.6 558.1,165.6 559.1,165.6 560.1,165.6 561.1,165.6 562.1,165.5 563.1,165.5 564.1,165.5 565.1,165.5 566.1,165.5 567.1,165.5 568.1,165.5 569.1,165.5 570.1,165.5 571.1,165.5 572.1,165.4 573.1,165.4 574.1,165.4 575.1,165.4 576.1,165.4 577.1,165.4 578.1,165.4 579.1,165.4 580.1,165.4 581.1,165.3 582.1,165.3 583.1,165.3 584.1,165.3 585.1,165.3 586.1,165.3 587.1,165.3 588.1,165.3 589.1,165.2 590.1,165.2 591.1,165.2 592.1,165.2 593.1,165.2 594.1,165.2 595.1,165.2 596.1,165.2 597.1,165.2 598.1,165.1 599.1,165.1 600.1,165.1 601.1,165.1 602.1,165.1 603.1,165.1 604.1,165.1 605.1,165.1 606.1,165.0 607.1,165.0 608.1,165.0 609.1,165.0 610.1,165.0 611.1,165.0 612.1,165.0 613.1,165.0 614.1,164.9 615.1,164.9 616.1,164.9 617.1,164.9 618.1,164.9 619.1,164.9 620.1,164.9 621.1,164.9 622.1,164.9 623.1,164.8 624.1,164.8 625.1,164.8 626.1,164.8 627.1,164.8 628.1,164.8 629.1,164.8 630.1,164.8 631.1,164.7 632.1,164.7 633.1,164.7 634.1,164.7 635.1,164.7 636.1,164.7 637.1,164.7 638.1,164.7 639.1,164.6 640.1,164.6 641.1,164.6 642.1,164.6 643.1,164.6 644.1,164.6 645.1,164.6 646.1,164.6 647.1,164.5 648.1,164.5 649.1,164.5 650.1,164.5 651.1,164.5 652.1,164.5 653.1,164.5 654.1,164.5 655.1,164.4 656.1,164.4 657.1,164.4 658.1,164.4 659.1,164.4 660.1,164.4 661.1,164.4 662.1,164.4 663.1,164.4 664.1,164.3 665.1,164.3 666.1,164.3 667.1,164.3 668.1,164.3 669.1,164.3 670.1,164.3 671.1,164.3 672.1,164.2 673.1,164.2 674.1,164.2 675.1,164.2 676.1,164.2 677.1,164.2 678.1,164.2 679.1,164.2 680.1,164.1 681.1,164.1 682.1,164.1 683.1,164.1 684.1,164.1 685.1,164.1 686.1,164.1 687.1,164.1 688.1,164.0 689.1,164.0 690.1,164.0 691.1,164.0 692.1,164.0 693.1,164.0 694.1,164.0 695.1,164.0 696.1,163.9 697.1,163.9 698.1,163.9 699.1,163.9 700.1,163.9 701.1,163.9 702.1,163.9 703.1,163.9 704.1,163.8 705.1,163.8 706.1,163.8 707.1,163.8 708.1,163.8 709.1,163.8 710.1,163.8 711.1,163.8 712.1,163.7 713.1,163.7 714.1,163.7 715.1,163.7 716.1,163.7 717.1,163.7 718.1,163.7 719.1,163.7 720.1,163.7 721.1,163.6 722.1,163.6 723.1,163.6" stroke="#c6a236" stroke-width="1.9"/>
<line x1="504.4" y1="166.8" x2="533.1" y2="166.5" stroke="#4480d2" stroke-width="1.5"/>
</g>
<g fill="none" stroke-linejoin="round" stroke-linecap="butt">
<polyline points="401.1,319.8 402.1,319.0 403.1,319.1 404.1,319.4 405.1,320.1 406.1,319.7 407.1,318.9 408.1,319.4 409.1,319.0 410.1,319.8 411.1,319.4 412.1,320.1 413.1,319.6 414.1,319.0 415.1,318.7 416.1,318.9 417.1,319.4 418.1,319.8 419.1,319.6 420.1,319.1 421.1,319.4 422.1,318.7 423.1,319.2 424.1,318.9 425.1,319.6 426.1,319.7 427.1,319.5 428.1,318.8 429.1,319.2 430.1,319.2 431.1,318.9 432.1,318.7 433.1,319.4 434.1,318.9 435.1,319.1 436.1,319.5 437.1,318.5 438.1,319.4 439.1,319.4 440.1,318.8 441.1,318.4 442.1,318.1 443.1,318.9 444.1,317.7 445.1,318.7 446.1,318.8 447.1,318.4 448.1,318.3 449.1,318.4 450.1,318.4 451.1,318.8 452.1,318.3 453.1,318.9 454.1,319.0 455.1,318.5 456.1,318.7 457.1,318.3 458.1,318.3 459.1,318.5 460.1,319.2 461.1,318.6 462.1,318.3 463.1,318.2 464.1,318.1 465.1,317.7 466.1,318.7 467.1,318.1 468.1,317.8 469.1,317.7 470.1,318.1 471.1,319.2 472.1,319.6 473.1,318.9 474.1,318.3 475.1,318.0 476.1,317.4 477.1,317.9 478.1,317.7 479.1,318.5 480.1,317.8 481.1,317.2 482.1,316.6 483.1,316.4 484.1,317.3 485.1,317.4 486.1,316.8 487.1,316.4 488.1,317.0 489.1,316.8 490.1,317.0 491.1,316.8 492.1,316.4 493.1,315.8 494.1,316.2 495.1,316.2 496.1,316.1 497.1,316.1 498.1,315.9 499.1,314.9 500.1,314.6 501.1,312.9 502.1,312.7 503.1,311.6 504.1,310.6 505.1,309.1 506.1,306.3 507.1,304.0 508.1,301.9 509.1,298.5 510.1,295.4 511.1,291.8 512.1,288.7 513.1,285.3 514.1,281.6 515.1,278.2 516.1,275.0 517.1,273.8 518.1,271.8 519.1,270.1 520.1,268.9 521.1,267.9 522.1,267.8 523.1,267.6 524.1,266.4 525.1,267.1 526.1,267.8 527.1,268.5 528.1,269.7 529.1,271.5 530.1,272.3 531.1,273.7 532.1,274.7 533.1,274.5 534.1,276.1 535.1,276.1 536.1,276.0 537.1,276.3 538.1,276.8 539.1,275.5 540.1,274.8 541.1,274.8 542.1,273.7 543.1,273.4 544.1,273.8 545.1,274.2 546.1,274.3 547.1,274.7 548.1,275.3 549.1,275.3 550.1,275.9 551.1,276.7 552.1,277.7 553.1,279.5 554.1,280.8 555.1,281.0 556.1,283.1 557.1,284.1 558.1,285.5 559.1,288.0 560.1,289.9 561.1,291.5 562.1,292.9 563.1,294.9 564.1,295.3 565.1,297.3 566.1,298.2 567.1,299.5 568.1,300.4 569.1,302.8 570.1,304.5 571.1,305.4 572.1,305.8 573.1,306.9 574.1,307.3 575.1,308.3 576.1,309.9 577.1,310.9 578.1,311.3 579.1,311.8 580.1,311.9 581.1,312.5 582.1,312.7 583.1,313.3 584.1,313.2 585.1,314.1 586.1,314.0 587.1,314.3 588.1,314.4 589.1,315.2 590.1,315.3 591.1,314.7 592.1,314.5 593.1,315.1 594.1,315.2 595.1,315.1 596.1,315.3 597.1,316.0 598.1,315.6 599.1,316.1 600.1,315.5 601.1,315.4 602.1,315.6 603.1,315.5 604.1,315.3 605.1,315.0 606.1,315.2 607.1,315.2 608.1,315.4 609.1,315.9 610.1,315.9 611.1,316.1 612.1,315.8 613.1,315.8 614.1,315.9 615.1,315.9 616.1,316.1 617.1,315.5 618.1,315.6 619.1,315.6 620.1,316.0 621.1,316.0 622.1,315.4 623.1,315.6 624.1,315.8 625.1,315.6 626.1,316.0 627.1,315.7 628.1,315.0 629.1,315.4 630.1,315.7 631.1,315.2 632.1,315.6 633.1,314.3 634.1,315.8 635.1,314.9 636.1,315.0 637.1,315.0 638.1,314.6 639.1,315.2 640.1,314.8 641.1,314.6 642.1,314.1 643.1,315.1 644.1,315.6 645.1,315.2 646.1,315.3 647.1,315.8 648.1,315.5 649.1,315.7 650.1,315.7 651.1,315.6 652.1,315.5 653.1,315.7 654.1,315.4 655.1,315.2 656.1,314.8 657.1,314.1 658.1,314.3 659.1,314.6 660.1,315.3 661.1,314.9 662.1,314.1 663.1,314.9 664.1,315.4 665.1,315.2 666.1,315.1 667.1,315.1 668.1,314.9 669.1,315.4 670.1,314.7 671.1,314.5 672.1,314.1 673.1,314.3 674.1,314.3 675.1,314.3 676.1,314.7 677.1,315.1 678.1,314.3 679.1,314.6 680.1,314.4 681.1,314.3 682.1,314.3 683.1,314.7 684.1,314.0 685.1,315.0 686.1,314.7 687.1,314.3 688.1,313.8 689.1,314.7 690.1,314.9 691.1,315.0 692.1,314.7 693.1,315.3 694.1,315.4 695.1,315.6 696.1,315.0 697.1,315.0 698.1,314.4 699.1,314.4 700.1,314.3 701.1,314.3 702.1,314.3 703.1,314.3 704.1,314.3 705.1,314.3 706.1,314.1 707.1,313.9 708.1,313.9 709.1,314.4 710.1,314.5 711.1,314.7 712.1,315.3 713.1,314.1 714.1,314.5 715.1,313.7 716.1,313.7 717.1,313.6 718.1,313.9 719.1,314.5 720.1,314.8 721.1,314.4 722.1,314.5 723.1,314.3" stroke="#6e6a58" stroke-width="3.2"/>
<polyline points="401.1,319.6 402.1,319.6 403.1,319.6 404.1,319.6 405.1,319.6 406.1,319.5 407.1,319.5 408.1,319.5 409.1,319.5 410.1,319.5 411.1,319.4 412.1,319.4 413.1,319.4 414.1,319.4 415.1,319.4 416.1,319.3 417.1,319.3 418.1,319.3 419.1,319.3 420.1,319.3 421.1,319.2 422.1,319.2 423.1,319.2 424.1,319.2 425.1,319.1 426.1,319.1 427.1,319.1 428.1,319.1 429.1,319.1 430.1,319.0 431.1,319.0 432.1,319.0 433.1,319.0 434.1,319.0 435.1,318.9 436.1,318.9 437.1,318.9 438.1,318.9 439.1,318.8 440.1,318.8 441.1,318.8 442.1,318.8 443.1,318.7 444.1,318.7 445.1,318.7 446.1,318.7 447.1,318.6 448.1,318.6 449.1,318.6 450.1,318.6 451.1,318.5 452.1,318.5 453.1,318.5 454.1,318.5 455.1,318.4 456.1,318.4 457.1,318.4 458.1,318.4 459.1,318.3 460.1,318.3 461.1,318.3 462.1,318.2 463.1,318.2 464.1,318.2 465.1,318.2 466.1,318.1 467.1,318.1 468.1,318.1 469.1,318.0 470.1,318.0 471.1,318.0 472.1,317.9 473.1,317.9 474.1,317.9 475.1,317.8 476.1,317.8 477.1,317.7 478.1,317.7 479.1,317.6 480.1,317.6 481.1,317.6 482.1,317.5 483.1,317.4 484.1,317.4 485.1,317.3 486.1,317.3 487.1,317.2 488.1,317.1 489.1,317.0 490.1,316.9 491.1,316.8 492.1,316.7 493.1,316.6 494.1,316.4 495.1,316.2 496.1,316.0 497.1,315.7 498.1,315.4 499.1,314.9 500.1,314.4 501.1,313.7 502.1,312.7 503.1,311.6 504.1,310.2 505.1,308.5 506.1,306.5 507.1,304.2 508.1,301.5 509.1,298.6 510.1,295.4 511.1,292.0 512.1,288.6 513.1,285.2 514.1,281.9 515.1,278.9 516.1,276.2 517.1,273.9 518.1,272.0 519.1,270.5 520.1,269.3 521.1,268.4 522.1,267.7 523.1,267.3 524.1,267.2 525.1,267.4 526.1,267.9 527.1,268.7 528.1,269.7 529.1,270.8 530.1,272.0 531.1,273.1 532.1,274.1 533.1,274.9 534.1,275.5 535.1,275.9 536.1,276.0 537.1,276.0 538.1,275.8 539.1,275.5 540.1,275.1 541.1,274.7 542.1,274.4 543.1,274.1 544.1,274.0 545.1,273.9 546.1,274.0 547.1,274.3 548.1,274.7 549.1,275.3 550.1,276.0 551.1,276.9 552.1,277.9 553.1,279.1 554.1,280.3 555.1,281.7 556.1,283.1 557.1,284.6 558.1,286.1 559.1,287.7 560.1,289.2 561.1,290.8 562.1,292.4 563.1,294.0 564.1,295.5 565.1,297.0 566.1,298.4 567.1,299.8 568.1,301.1 569.1,302.4 570.1,303.6 571.1,304.7 572.1,305.8 573.1,306.8 574.1,307.7 575.1,308.5 576.1,309.3 577.1,310.0 578.1,310.7 579.1,311.3 580.1,311.8 581.1,312.3 582.1,312.7 583.1,313.1 584.1,313.4 585.1,313.7 586.1,314.0 587.1,314.2 588.1,314.4 589.1,314.6 590.1,314.7 591.1,314.8 592.1,315.0 593.1,315.1 594.1,315.1 595.1,315.2 596.1,315.3 597.1,315.3 598.1,315.4 599.1,315.4 600.1,315.4 601.1,315.4 602.1,315.5 603.1,315.5 604.1,315.5 605.1,315.5 606.1,315.5 607.1,315.5 608.1,315.5 609.1,315.5 610.1,315.5 611.1,315.5 612.1,315.5 613.1,315.5 614.1,315.5 615.1,315.5 616.1,315.5 617.1,315.5 618.1,315.5 619.1,315.5 620.1,315.5 621.1,315.4 622.1,315.4 623.1,315.4 624.1,315.4 625.1,315.4 626.1,315.4 627.1,315.4 628.1,315.4 629.1,315.4 630.1,315.4 631.1,315.4 632.1,315.3 633.1,315.3 634.1,315.3 635.1,315.3 636.1,315.3 637.1,315.3 638.1,315.3 639.1,315.3 640.1,315.2 641.1,315.2 642.1,315.2 643.1,315.2 644.1,315.2 645.1,315.2 646.1,315.2 647.1,315.2 648.1,315.1 649.1,315.1 650.1,315.1 651.1,315.1 652.1,315.1 653.1,315.1 654.1,315.1 655.1,315.0 656.1,315.0 657.1,315.0 658.1,315.0 659.1,315.0 660.1,315.0 661.1,315.0 662.1,314.9 663.1,314.9 664.1,314.9 665.1,314.9 666.1,314.9 667.1,314.9 668.1,314.8 669.1,314.8 670.1,314.8 671.1,314.8 672.1,314.8 673.1,314.8 674.1,314.8 675.1,314.7 676.1,314.7 677.1,314.7 678.1,314.7 679.1,314.7 680.1,314.7 681.1,314.6 682.1,314.6 683.1,314.6 684.1,314.6 685.1,314.6 686.1,314.6 687.1,314.5 688.1,314.5 689.1,314.5 690.1,314.5 691.1,314.5 692.1,314.5 693.1,314.4 694.1,314.4 695.1,314.4 696.1,314.4 697.1,314.4 698.1,314.4 699.1,314.4 700.1,314.3 701.1,314.3 702.1,314.3 703.1,314.3 704.1,314.3 705.1,314.3 706.1,314.2 707.1,314.2 708.1,314.2 709.1,314.2 710.1,314.2 711.1,314.1 712.1,314.1 713.1,314.1 714.1,314.1 715.1,314.1 716.1,314.1 717.1,314.0 718.1,314.0 719.1,314.0 720.1,314.0 721.1,314.0 722.1,314.0 723.1,313.9" stroke="#bf4a5c" stroke-width="2.4"/>
<polyline points="401.1,319.8 402.1,319.8 403.1,319.7 404.1,319.7 405.1,319.7 406.1,319.7 407.1,319.7 408.1,319.6 409.1,319.6 410.1,319.6 411.1,319.6 412.1,319.6 413.1,319.6 414.1,319.5 415.1,319.5 416.1,319.5 417.1,319.5 418.1,319.5 419.1,319.4 420.1,319.4 421.1,319.4 422.1,319.4 423.1,319.4 424.1,319.4 425.1,319.3 426.1,319.3 427.1,319.3 428.1,319.3 429.1,319.3 430.1,319.2 431.1,319.2 432.1,319.2 433.1,319.2 434.1,319.2 435.1,319.2 436.1,319.1 437.1,319.1 438.1,319.1 439.1,319.1 440.1,319.1 441.1,319.0 442.1,319.0 443.1,319.0 444.1,319.0 445.1,319.0 446.1,319.0 447.1,318.9 448.1,318.9 449.1,318.9 450.1,318.9 451.1,318.9 452.1,318.8 453.1,318.8 454.1,318.8 455.1,318.8 456.1,318.8 457.1,318.8 458.1,318.7 459.1,318.7 460.1,318.7 461.1,318.7 462.1,318.7 463.1,318.6 464.1,318.6 465.1,318.6 466.1,318.6 467.1,318.6 468.1,318.5 469.1,318.5 470.1,318.5 471.1,318.5 472.1,318.5 473.1,318.4 474.1,318.4 475.1,318.4 476.1,318.4 477.1,318.4 478.1,318.3 479.1,318.3 480.1,318.3 481.1,318.3 482.1,318.3 483.1,318.2 484.1,318.2 485.1,318.2 486.1,318.2 487.1,318.2 488.1,318.1 489.1,318.1 490.1,318.1 491.1,318.1 492.1,318.0 493.1,318.0 494.1,318.0 495.1,318.0 496.1,317.9 497.1,317.9 498.1,317.9 499.1,317.8 500.1,317.8 501.1,317.8 502.1,317.7 503.1,317.7 504.1,317.6 505.1,317.6 506.1,317.5 507.1,317.4 508.1,317.3 509.1,317.1 510.1,316.8 511.1,316.5 512.1,316.0 513.1,315.4 514.1,314.5 515.1,313.5 516.1,312.3 517.1,310.8 518.1,309.1 519.1,307.3 520.1,305.4 521.1,303.5 522.1,301.7 523.1,300.2 524.1,299.0 525.1,298.4 526.1,298.3 527.1,298.7 528.1,299.7 529.1,301.1 530.1,302.8 531.1,304.6 532.1,306.5 533.1,308.3 534.1,310.0 535.1,311.5 536.1,312.8 537.1,313.9 538.1,314.7 539.1,315.3 540.1,315.8 541.1,316.2 542.1,316.4 543.1,316.6 544.1,316.7 545.1,316.8 546.1,316.8 547.1,316.9 548.1,316.9 549.1,316.9 550.1,316.9 551.1,316.9 552.1,316.9 553.1,316.9 554.1,316.9 555.1,316.9 556.1,316.9 557.1,316.9 558.1,316.8 559.1,316.8 560.1,316.8 561.1,316.8 562.1,316.8 563.1,316.8 564.1,316.8 565.1,316.8 566.1,316.7 567.1,316.7 568.1,316.7 569.1,316.7 570.1,316.7 571.1,316.7 572.1,316.7 573.1,316.6 574.1,316.6 575.1,316.6 576.1,316.6 577.1,316.6 578.1,316.6 579.1,316.6 580.1,316.5 581.1,316.5 582.1,316.5 583.1,316.5 584.1,316.5 585.1,316.5 586.1,316.4 587.1,316.4 588.1,316.4 589.1,316.4 590.1,316.4 591.1,316.4 592.1,316.3 593.1,316.3 594.1,316.3 595.1,316.3 596.1,316.3 597.1,316.2 598.1,316.2 599.1,316.2 600.1,316.2 601.1,316.2 602.1,316.2 603.1,316.1 604.1,316.1 605.1,316.1 606.1,316.1 607.1,316.1 608.1,316.1 609.1,316.0 610.1,316.0 611.1,316.0 612.1,316.0 613.1,316.0 614.1,316.0 615.1,315.9 616.1,315.9 617.1,315.9 618.1,315.9 619.1,315.9 620.1,315.9 621.1,315.8 622.1,315.8 623.1,315.8 624.1,315.8 625.1,315.8 626.1,315.7 627.1,315.7 628.1,315.7 629.1,315.7 630.1,315.7 631.1,315.7 632.1,315.6 633.1,315.6 634.1,315.6 635.1,315.6 636.1,315.6 637.1,315.6 638.1,315.5 639.1,315.5 640.1,315.5 641.1,315.5 642.1,315.5 643.1,315.4 644.1,315.4 645.1,315.4 646.1,315.4 647.1,315.4 648.1,315.4 649.1,315.3 650.1,315.3 651.1,315.3 652.1,315.3 653.1,315.3 654.1,315.3 655.1,315.2 656.1,315.2 657.1,315.2 658.1,315.2 659.1,315.2 660.1,315.1 661.1,315.1 662.1,315.1 663.1,315.1 664.1,315.1 665.1,315.1 666.1,315.0 667.1,315.0 668.1,315.0 669.1,315.0 670.1,315.0 671.1,314.9 672.1,314.9 673.1,314.9 674.1,314.9 675.1,314.9 676.1,314.9 677.1,314.8 678.1,314.8 679.1,314.8 680.1,314.8 681.1,314.8 682.1,314.8 683.1,314.7 684.1,314.7 685.1,314.7 686.1,314.7 687.1,314.7 688.1,314.6 689.1,314.6 690.1,314.6 691.1,314.6 692.1,314.6 693.1,314.6 694.1,314.5 695.1,314.5 696.1,314.5 697.1,314.5 698.1,314.5 699.1,314.4 700.1,314.4 701.1,314.4 702.1,314.4 703.1,314.4 704.1,314.4 705.1,314.3 706.1,314.3 707.1,314.3 708.1,314.3 709.1,314.3 710.1,314.3 711.1,314.2 712.1,314.2 713.1,314.2 714.1,314.2 715.1,314.2 716.1,314.1 717.1,314.1 718.1,314.1 719.1,314.1 720.1,314.1 721.1,314.1 722.1,314.0 723.1,314.0" stroke="#a586da" stroke-width="1.8"/>
<polyline points="401.1,319.7 402.1,319.6 403.1,319.6 404.1,319.6 405.1,319.6 406.1,319.6 407.1,319.6 408.1,319.5 409.1,319.5 410.1,319.5 411.1,319.5 412.1,319.5 413.1,319.4 414.1,319.4 415.1,319.4 416.1,319.4 417.1,319.4 418.1,319.3 419.1,319.3 420.1,319.3 421.1,319.3 422.1,319.3 423.1,319.2 424.1,319.2 425.1,319.2 426.1,319.2 427.1,319.1 428.1,319.1 429.1,319.1 430.1,319.1 431.1,319.1 432.1,319.0 433.1,319.0 434.1,319.0 435.1,319.0 436.1,319.0 437.1,318.9 438.1,318.9 439.1,318.9 440.1,318.9 441.1,318.9 442.1,318.8 443.1,318.8 444.1,318.8 445.1,318.8 446.1,318.7 447.1,318.7 448.1,318.7 449.1,318.7 450.1,318.7 451.1,318.6 452.1,318.6 453.1,318.6 454.1,318.6 455.1,318.5 456.1,318.5 457.1,318.5 458.1,318.5 459.1,318.4 460.1,318.4 461.1,318.4 462.1,318.4 463.1,318.3 464.1,318.3 465.1,318.3 466.1,318.3 467.1,318.2 468.1,318.2 469.1,318.2 470.1,318.1 471.1,318.1 472.1,318.1 473.1,318.1 474.1,318.0 475.1,318.0 476.1,318.0 477.1,317.9 478.1,317.9 479.1,317.9 480.1,317.8 481.1,317.8 482.1,317.8 483.1,317.7 484.1,317.7 485.1,317.6 486.1,317.6 487.1,317.5 488.1,317.5 489.1,317.4 490.1,317.4 491.1,317.3 492.1,317.2 493.1,317.1 494.1,317.0 495.1,316.9 496.1,316.8 497.1,316.7 498.1,316.5 499.1,316.4 500.1,316.2 501.1,316.0 502.1,315.7 503.1,315.5 504.1,315.2 505.1,314.9 506.1,314.5 507.1,314.1 508.1,313.7 509.1,313.2 510.1,312.7 511.1,312.1 512.1,311.4 513.1,310.7 514.1,310.0 515.1,309.2 516.1,308.3 517.1,307.3 518.1,306.3 519.1,305.2 520.1,304.1 521.1,302.9 522.1,301.6 523.1,300.3 524.1,298.9 525.1,297.5 526.1,296.1 527.1,294.6 528.1,293.0 529.1,291.5 530.1,290.0 531.1,288.4 532.1,286.9 533.1,285.4 534.1,284.0 535.1,282.6 536.1,281.3 537.1,280.1 538.1,278.9 539.1,277.9 540.1,277.0 541.1,276.2 542.1,275.6 543.1,275.1 544.1,274.8 545.1,274.6 546.1,274.6 547.1,274.8 548.1,275.2 549.1,275.7 550.1,276.4 551.1,277.3 552.1,278.3 553.1,279.4 554.1,280.6 555.1,282.0 556.1,283.4 557.1,284.8 558.1,286.4 559.1,287.9 560.1,289.5 561.1,291.0 562.1,292.6 563.1,294.2 564.1,295.7 565.1,297.2 566.1,298.6 567.1,300.0 568.1,301.3 569.1,302.6 570.1,303.7 571.1,304.9 572.1,305.9 573.1,306.9 574.1,307.8 575.1,308.7 576.1,309.4 577.1,310.1 578.1,310.8 579.1,311.4 580.1,311.9 581.1,312.4 582.1,312.8 583.1,313.2 584.1,313.5 585.1,313.8 586.1,314.1 587.1,314.3 588.1,314.5 589.1,314.6 590.1,314.8 591.1,314.9 592.1,315.0 593.1,315.1 594.1,315.2 595.1,315.3 596.1,315.3 597.1,315.4 598.1,315.4 599.1,315.4 600.1,315.5 601.1,315.5 602.1,315.5 603.1,315.5 604.1,315.5 605.1,315.5 606.1,315.5 607.1,315.5 608.1,315.6 609.1,315.6 610.1,315.5 611.1,315.5 612.1,315.5 613.1,315.5 614.1,315.5 615.1,315.5 616.1,315.5 617.1,315.5 618.1,315.5 619.1,315.5 620.1,315.5 621.1,315.5 622.1,315.5 623.1,315.5 624.1,315.5 625.1,315.4 626.1,315.4 627.1,315.4 628.1,315.4 629.1,315.4 630.1,315.4 631.1,315.4 632.1,315.4 633.1,315.4 634.1,315.3 635.1,315.3 636.1,315.3 637.1,315.3 638.1,315.3 639.1,315.3 640.1,315.3 641.1,315.3 642.1,315.2 643.1,315.2 644.1,315.2 645.1,315.2 646.1,315.2 647.1,315.2 648.1,315.2 649.1,315.1 650.1,315.1 651.1,315.1 652.1,315.1 653.1,315.1 654.1,315.1 655.1,315.1 656.1,315.0 657.1,315.0 658.1,315.0 659.1,315.0 660.1,315.0 661.1,315.0 662.1,315.0 663.1,314.9 664.1,314.9 665.1,314.9 666.1,314.9 667.1,314.9 668.1,314.9 669.1,314.8 670.1,314.8 671.1,314.8 672.1,314.8 673.1,314.8 674.1,314.8 675.1,314.8 676.1,314.7 677.1,314.7 678.1,314.7 679.1,314.7 680.1,314.7 681.1,314.7 682.1,314.6 683.1,314.6 684.1,314.6 685.1,314.6 686.1,314.6 687.1,314.6 688.1,314.5 689.1,314.5 690.1,314.5 691.1,314.5 692.1,314.5 693.1,314.5 694.1,314.4 695.1,314.4 696.1,314.4 697.1,314.4 698.1,314.4 699.1,314.4 700.1,314.3 701.1,314.3 702.1,314.3 703.1,314.3 704.1,314.3 705.1,314.3 706.1,314.2 707.1,314.2 708.1,314.2 709.1,314.2 710.1,314.2 711.1,314.2 712.1,314.1 713.1,314.1 714.1,314.1 715.1,314.1 716.1,314.1 717.1,314.1 718.1,314.0 719.1,314.0 720.1,314.0 721.1,314.0 722.1,314.0 723.1,314.0" stroke="#428e6c" stroke-width="2.2"/>
<polyline points="401.1,319.8 402.1,319.7 403.1,319.7 404.1,319.7 405.1,319.7 406.1,319.7 407.1,319.7 408.1,319.6 409.1,319.6 410.1,319.6 411.1,319.6 412.1,319.6 413.1,319.5 414.1,319.5 415.1,319.5 416.1,319.5 417.1,319.5 418.1,319.5 419.1,319.4 420.1,319.4 421.1,319.4 422.1,319.4 423.1,319.4 424.1,319.3 425.1,319.3 426.1,319.3 427.1,319.3 428.1,319.3 429.1,319.3 430.1,319.2 431.1,319.2 432.1,319.2 433.1,319.2 434.1,319.2 435.1,319.1 436.1,319.1 437.1,319.1 438.1,319.1 439.1,319.1 440.1,319.0 441.1,319.0 442.1,319.0 443.1,319.0 444.1,319.0 445.1,319.0 446.1,318.9 447.1,318.9 448.1,318.9 449.1,318.9 450.1,318.9 451.1,318.8 452.1,318.8 453.1,318.8 454.1,318.8 455.1,318.8 456.1,318.7 457.1,318.7 458.1,318.7 459.1,318.7 460.1,318.7 461.1,318.6 462.1,318.6 463.1,318.6 464.1,318.6 465.1,318.6 466.1,318.5 467.1,318.5 468.1,318.5 469.1,318.5 470.1,318.4 471.1,318.4 472.1,318.4 473.1,318.4 474.1,318.4 475.1,318.3 476.1,318.3 477.1,318.3 478.1,318.3 479.1,318.2 480.1,318.2 481.1,318.2 482.1,318.1 483.1,318.1 484.1,318.1 485.1,318.1 486.1,318.0 487.1,318.0 488.1,318.0 489.1,317.9 490.1,317.9 491.1,317.8 492.1,317.8 493.1,317.7 494.1,317.7 495.1,317.6 496.1,317.4 497.1,317.3 498.1,317.1 499.1,316.8 500.1,316.4 501.1,315.9 502.1,315.2 503.1,314.4 504.1,313.3 505.1,311.9 506.1,310.3 507.1,308.4 508.1,306.3 509.1,304.0 510.1,301.6 511.1,299.1 512.1,296.7 513.1,294.6 514.1,292.9 515.1,291.7 516.1,291.1 517.1,291.2 518.1,291.9 519.1,293.3 520.1,295.1 521.1,297.3 522.1,299.6 523.1,302.0 524.1,304.4 525.1,306.6 526.1,308.7 527.1,310.4 528.1,311.9 529.1,313.2 530.1,314.2 531.1,314.9 532.1,315.5 533.1,315.9 534.1,316.3 535.1,316.5 536.1,316.6 537.1,316.7 538.1,316.8 539.1,316.9 540.1,316.9 541.1,316.9 542.1,316.9 543.1,316.9 544.1,316.9 545.1,316.9 546.1,316.9 547.1,316.9 548.1,316.9 549.1,316.9 550.1,316.9 551.1,316.9 552.1,316.9 553.1,316.9 554.1,316.9 555.1,316.9 556.1,316.9 557.1,316.9 558.1,316.8 559.1,316.8 560.1,316.8 561.1,316.8 562.1,316.8 563.1,316.8 564.1,316.8 565.1,316.8 566.1,316.7 567.1,316.7 568.1,316.7 569.1,316.7 570.1,316.7 571.1,316.7 572.1,316.7 573.1,316.6 574.1,316.6 575.1,316.6 576.1,316.6 577.1,316.6 578.1,316.6 579.1,316.5 580.1,316.5 581.1,316.5 582.1,316.5 583.1,316.5 584.1,316.5 585.1,316.4 586.1,316.4 587.1,316.4 588.1,316.4 589.1,316.4 590.1,316.4 591.1,316.3 592.1,316.3 593.1,316.3 594.1,316.3 595.1,316.3 596.1,316.3 597.1,316.2 598.1,316.2 599.1,316.2 600.1,316.2 601.1,316.2 602.1,316.2 603.1,316.1 604.1,316.1 605.1,316.1 606.1,316.1 607.1,316.1 608.1,316.1 609.1,316.0 610.1,316.0 611.1,316.0 612.1,316.0 613.1,316.0 614.1,315.9 615.1,315.9 616.1,315.9 617.1,315.9 618.1,315.9 619.1,315.9 620.1,315.8 621.1,315.8 622.1,315.8 623.1,315.8 624.1,315.8 625.1,315.8 626.1,315.7 627.1,315.7 628.1,315.7 629.1,315.7 630.1,315.7 631.1,315.7 632.1,315.6 633.1,315.6 634.1,315.6 635.1,315.6 636.1,315.6 637.1,315.5 638.1,315.5 639.1,315.5 640.1,315.5 641.1,315.5 642.1,315.5 643.1,315.4 644.1,315.4 645.1,315.4 646.1,315.4 647.1,315.4 648.1,315.4 649.1,315.3 650.1,315.3 651.1,315.3 652.1,315.3 653.1,315.3 654.1,315.2 655.1,315.2 656.1,315.2 657.1,315.2 658.1,315.2 659.1,315.2 660.1,315.1 661.1,315.1 662.1,315.1 663.1,315.1 664.1,315.1 665.1,315.1 666.1,315.0 667.1,315.0 668.1,315.0 669.1,315.0 670.1,315.0 671.1,314.9 672.1,314.9 673.1,314.9 674.1,314.9 675.1,314.9 676.1,314.9 677.1,314.8 678.1,314.8 679.1,314.8 680.1,314.8 681.1,314.8 682.1,314.7 683.1,314.7 684.1,314.7 685.1,314.7 686.1,314.7 687.1,314.7 688.1,314.6 689.1,314.6 690.1,314.6 691.1,314.6 692.1,314.6 693.1,314.6 694.1,314.5 695.1,314.5 696.1,314.5 697.1,314.5 698.1,314.5 699.1,314.4 700.1,314.4 701.1,314.4 702.1,314.4 703.1,314.4 704.1,314.4 705.1,314.3 706.1,314.3 707.1,314.3 708.1,314.3 709.1,314.3 710.1,314.3 711.1,314.2 712.1,314.2 713.1,314.2 714.1,314.2 715.1,314.2 716.1,314.1 717.1,314.1 718.1,314.1 719.1,314.1 720.1,314.1 721.1,314.1 722.1,314.0 723.1,314.0" stroke="#c6a236" stroke-width="1.9"/>
<line x1="504.7" y1="318.4" x2="534.5" y2="317.9" stroke="#4480d2" stroke-width="1.5"/>
</g>
<g fill="none" stroke-linejoin="round" stroke-linecap="butt">
<polyline points="401.1,470.3 402.1,470.5 403.1,470.3 404.1,470.2 405.1,469.9 406.1,470.0 407.1,470.6 408.1,470.5 409.1,470.7 410.1,470.5 411.1,470.4 412.1,470.3 413.1,469.5 414.1,470.2 415.1,470.3 416.1,470.3 417.1,469.4 418.1,469.1 419.1,469.3 420.1,469.5 421.1,469.9 422.1,469.8 423.1,470.0 424.1,469.6 425.1,469.8 426.1,469.9 427.1,469.5 428.1,470.3 429.1,470.1 430.1,470.3 431.1,469.6 432.1,469.3 433.1,469.3 434.1,469.4 435.1,469.7 436.1,469.7 437.1,469.3 438.1,469.0 439.1,469.0 440.1,469.7 441.1,469.1 442.1,469.3 443.1,469.5 444.1,468.7 445.1,469.1 446.1,469.7 447.1,468.5 448.1,468.8 449.1,468.9 450.1,468.7 451.1,469.1 452.1,469.0 453.1,468.4 454.1,469.1 455.1,469.2 456.1,469.4 457.1,469.6 458.1,469.2 459.1,469.0 460.1,468.3 461.1,468.8 462.1,468.4 463.1,468.4 464.1,468.0 465.1,467.9 466.1,468.1 467.1,468.8 468.1,467.7 469.1,467.5 470.1,468.1 471.1,468.8 472.1,468.6 473.1,467.6 474.1,466.9 475.1,467.8 476.1,467.6 477.1,467.4 478.1,468.1 479.1,468.3 480.1,468.0 481.1,467.8 482.1,467.8 483.1,468.2 484.1,467.9 485.1,467.6 486.1,467.5 487.1,466.5 488.1,467.2 489.1,467.2 490.1,466.9 491.1,465.7 492.1,465.6 493.1,466.1 494.1,465.0 495.1,465.0 496.1,465.3 497.1,464.2 498.1,464.7 499.1,464.0 500.1,463.1 501.1,462.3 502.1,461.4 503.1,460.0 504.1,458.8 505.1,456.3 506.1,453.8 507.1,451.6 508.1,448.2 509.1,444.1 510.1,440.7 511.1,436.7 512.1,431.5 513.1,426.2 514.1,421.9 515.1,417.5 516.1,413.4 517.1,410.3 518.1,406.4 519.1,404.4 520.1,401.5 521.1,400.0 522.1,399.8 523.1,400.4 524.1,401.5 525.1,403.3 526.1,405.8 527.1,408.9 528.1,412.4 529.1,415.5 530.1,418.7 531.1,421.5 532.1,423.6 533.1,425.6 534.1,426.9 535.1,428.2 536.1,428.2 537.1,427.9 538.1,427.7 539.1,427.5 540.1,427.7 541.1,427.0 542.1,426.9 543.1,427.4 544.1,425.7 545.1,425.7 546.1,426.3 547.1,426.7 548.1,427.1 549.1,427.2 550.1,428.0 551.1,428.6 552.1,428.9 553.1,430.8 554.1,431.2 555.1,431.6 556.1,432.6 557.1,433.6 558.1,434.8 559.1,434.9 560.1,436.6 561.1,438.6 562.1,439.3 563.1,440.7 564.1,442.5 565.1,443.8 566.1,445.4 567.1,445.4 568.1,446.7 569.1,447.9 570.1,449.5 571.1,450.9 572.1,450.6 573.1,452.6 574.1,452.9 575.1,454.5 576.1,454.7 577.1,456.0 578.1,457.3 579.1,457.7 580.1,458.4 581.1,459.3 582.1,459.8 583.1,460.2 584.1,461.3 585.1,461.8 586.1,461.7 587.1,463.1 588.1,462.3 589.1,463.0 590.1,463.0 591.1,463.3 592.1,463.8 593.1,463.9 594.1,464.2 595.1,463.6 596.1,463.5 597.1,464.4 598.1,464.1 599.1,464.1 600.1,463.9 601.1,465.0 602.1,465.2 603.1,465.6 604.1,464.9 605.1,465.0 606.1,464.6 607.1,465.2 608.1,465.8 609.1,465.0 610.1,465.7 611.1,465.8 612.1,465.3 613.1,464.4 614.1,465.5 615.1,465.3 616.1,465.0 617.1,465.3 618.1,465.4 619.1,465.8 620.1,465.0 621.1,465.6 622.1,465.9 623.1,466.0 624.1,465.4 625.1,464.9 626.1,465.4 627.1,465.3 628.1,465.2 629.1,465.7 630.1,465.2 631.1,464.2 632.1,464.6 633.1,464.1 634.1,465.0 635.1,465.1 636.1,464.8 637.1,464.9 638.1,465.3 639.1,465.1 640.1,465.5 641.1,465.1 642.1,465.4 643.1,465.6 644.1,465.8 645.1,464.9 646.1,465.2 647.1,464.2 648.1,464.1 649.1,463.8 650.1,464.8 651.1,464.3 652.1,464.6 653.1,464.6 654.1,464.6 655.1,464.4 656.1,464.7 657.1,465.4 658.1,464.9 659.1,464.9 660.1,465.1 661.1,464.7 662.1,464.1 663.1,464.1 664.1,464.8 665.1,463.9 666.1,464.0 667.1,464.7 668.1,464.8 669.1,464.6 670.1,464.8 671.1,464.6 672.1,464.0 673.1,463.6 674.1,463.8 675.1,464.5 676.1,464.1 677.1,463.8 678.1,463.8 679.1,463.5 680.1,463.9 681.1,463.6 682.1,464.1 683.1,463.2 684.1,463.9 685.1,463.8 686.1,463.2 687.1,464.0 688.1,463.9 689.1,463.1 690.1,463.3 691.1,463.9 692.1,463.7 693.1,464.2 694.1,464.3 695.1,464.3 696.1,464.2 697.1,464.5 698.1,464.3 699.1,464.2 700.1,463.1 701.1,463.9 702.1,464.3 703.1,463.8 704.1,463.6 705.1,464.4 706.1,463.2 707.1,463.7 708.1,464.6 709.1,463.6 710.1,463.9 711.1,464.4 712.1,463.8 713.1,463.8 714.1,464.0 715.1,463.3 716.1,463.4 717.1,463.5 718.1,463.8 719.1,463.5 720.1,463.4 721.1,462.9 722.1,463.1 723.1,463.6" stroke="#6e6a58" stroke-width="3.2"/>
<polyline points="401.1,470.4 402.1,470.4 403.1,470.3 404.1,470.3 405.1,470.3 406.1,470.3 407.1,470.2 408.1,470.2 409.1,470.2 410.1,470.2 411.1,470.1 412.1,470.1 413.1,470.1 414.1,470.1 415.1,470.0 416.1,470.0 417.1,470.0 418.1,470.0 419.1,469.9 420.1,469.9 421.1,469.9 422.1,469.9 423.1,469.8 424.1,469.8 425.1,469.8 426.1,469.8 427.1,469.7 428.1,469.7 429.1,469.7 430.1,469.6 431.1,469.6 432.1,469.6 433.1,469.6 434.1,469.5 435.1,469.5 436.1,469.5 437.1,469.5 438.1,469.4 439.1,469.4 440.1,469.4 441.1,469.3 442.1,469.3 443.1,469.3 444.1,469.2 445.1,469.2 446.1,469.2 447.1,469.2 448.1,469.1 449.1,469.1 450.1,469.1 451.1,469.0 452.1,469.0 453.1,469.0 454.1,468.9 455.1,468.9 456.1,468.9 457.1,468.8 458.1,468.8 459.1,468.8 460.1,468.7 461.1,468.7 462.1,468.7 463.1,468.6 464.1,468.6 465.1,468.5 466.1,468.5 467.1,468.5 468.1,468.4 469.1,468.4 470.1,468.3 471.1,468.3 472.1,468.2 473.1,468.2 474.1,468.1 475.1,468.1 476.1,468.0 477.1,467.9 478.1,467.9 479.1,467.8 480.1,467.7 481.1,467.6 482.1,467.6 483.1,467.5 484.1,467.4 485.1,467.3 486.1,467.1 487.1,467.0 488.1,466.9 489.1,466.7 490.1,466.5 491.1,466.3 492.1,466.1 493.1,465.9 494.1,465.6 495.1,465.4 496.1,465.0 497.1,464.6 498.1,464.2 499.1,463.6 500.1,463.0 501.1,462.2 502.1,461.1 503.1,459.9 504.1,458.3 505.1,456.4 506.1,454.0 507.1,451.3 508.1,448.1 509.1,444.4 510.1,440.4 511.1,436.0 512.1,431.5 513.1,426.8 514.1,422.1 515.1,417.7 516.1,413.5 517.1,409.8 518.1,406.6 519.1,403.9 520.1,401.8 521.1,400.4 522.1,399.7 523.1,399.9 524.1,401.0 525.1,403.0 526.1,405.6 527.1,408.8 528.1,412.1 529.1,415.5 530.1,418.6 531.1,421.3 532.1,423.5 533.1,425.3 534.1,426.5 535.1,427.3 536.1,427.7 537.1,427.9 538.1,427.8 539.1,427.6 540.1,427.3 541.1,427.1 542.1,426.8 543.1,426.6 544.1,426.5 545.1,426.4 546.1,426.5 547.1,426.6 548.1,426.9 549.1,427.3 550.1,427.8 551.1,428.4 552.1,429.1 553.1,429.9 554.1,430.7 555.1,431.7 556.1,432.7 557.1,433.8 558.1,434.9 559.1,436.0 560.1,437.2 561.1,438.4 562.1,439.7 563.1,440.9 564.1,442.1 565.1,443.4 566.1,444.6 567.1,445.8 568.1,447.0 569.1,448.2 570.1,449.3 571.1,450.4 572.1,451.5 573.1,452.5 574.1,453.5 575.1,454.4 576.1,455.3 577.1,456.1 578.1,456.9 579.1,457.6 580.1,458.3 581.1,459.0 582.1,459.6 583.1,460.1 584.1,460.7 585.1,461.1 586.1,461.6 587.1,462.0 588.1,462.4 589.1,462.7 590.1,463.0 591.1,463.3 592.1,463.5 593.1,463.7 594.1,463.9 595.1,464.1 596.1,464.3 597.1,464.4 598.1,464.5 599.1,464.6 600.1,464.7 601.1,464.8 602.1,464.9 603.1,464.9 604.1,465.0 605.1,465.0 606.1,465.1 607.1,465.1 608.1,465.1 609.1,465.1 610.1,465.1 611.1,465.2 612.1,465.2 613.1,465.2 614.1,465.2 615.1,465.2 616.1,465.2 617.1,465.2 618.1,465.2 619.1,465.2 620.1,465.2 621.1,465.2 622.1,465.2 623.1,465.1 624.1,465.1 625.1,465.1 626.1,465.1 627.1,465.1 628.1,465.1 629.1,465.1 630.1,465.1 631.1,465.1 632.1,465.0 633.1,465.0 634.1,465.0 635.1,465.0 636.1,465.0 637.1,465.0 638.1,465.0 639.1,464.9 640.1,464.9 641.1,464.9 642.1,464.9 643.1,464.9 644.1,464.9 645.1,464.8 646.1,464.8 647.1,464.8 648.1,464.8 649.1,464.8 650.1,464.8 651.1,464.7 652.1,464.7 653.1,464.7 654.1,464.7 655.1,464.7 656.1,464.7 657.1,464.6 658.1,464.6 659.1,464.6 660.1,464.6 661.1,464.6 662.1,464.6 663.1,464.5 664.1,464.5 665.1,464.5 666.1,464.5 667.1,464.5 668.1,464.4 669.1,464.4 670.1,464.4 671.1,464.4 672.1,464.4 673.1,464.3 674.1,464.3 675.1,464.3 676.1,464.3 677.1,464.3 678.1,464.2 679.1,464.2 680.1,464.2 681.1,464.2 682.1,464.2 683.1,464.1 684.1,464.1 685.1,464.1 686.1,464.1 687.1,464.1 688.1,464.0 689.1,464.0 690.1,464.0 691.1,464.0 692.1,464.0 693.1,463.9 694.1,463.9 695.1,463.9 696.1,463.9 697.1,463.9 698.1,463.8 699.1,463.8 700.1,463.8 701.1,463.8 702.1,463.8 703.1,463.7 704.1,463.7 705.1,463.7 706.1,463.7 707.1,463.7 708.1,463.6 709.1,463.6 710.1,463.6 711.1,463.6 712.1,463.6 713.1,463.5 714.1,463.5 715.1,463.5 716.1,463.5 717.1,463.5 718.1,463.4 719.1,463.4 720.1,463.4 721.1,463.4 722.1,463.3 723.1,463.3" stroke="#bf4a5c" stroke-width="2.4"/>
<polyline points="401.1,470.6 402.1,470.5 403.1,470.5 404.1,470.5 405.1,470.5 406.1,470.5 407.1,470.4 408.1,470.4 409.1,470.4 410.1,470.4 411.1,470.3 412.1,470.3 413.1,470.3 414.1,470.3 415.1,470.2 416.1,470.2 417.1,470.2 418.1,470.2 419.1,470.2 420.1,470.1 421.1,470.1 422.1,470.1 423.1,470.1 424.1,470.0 425.1,470.0 426.1,470.0 427.1,470.0 428.1,470.0 429.1,469.9 430.1,469.9 431.1,469.9 432.1,469.9 433.1,469.8 434.1,469.8 435.1,469.8 436.1,469.8 437.1,469.8 438.1,469.7 439.1,469.7 440.1,469.7 441.1,469.7 442.1,469.6 443.1,469.6 444.1,469.6 445.1,469.6 446.1,469.5 447.1,469.5 448.1,469.5 449.1,469.5 450.1,469.5 451.1,469.4 452.1,469.4 453.1,469.4 454.1,469.4 455.1,469.3 456.1,469.3 457.1,469.3 458.1,469.3 459.1,469.2 460.1,469.2 461.1,469.2 462.1,469.2 463.1,469.1 464.1,469.1 465.1,469.1 466.1,469.1 467.1,469.0 468.1,469.0 469.1,469.0 470.1,469.0 471.1,468.9 472.1,468.9 473.1,468.9 474.1,468.9 475.1,468.8 476.1,468.8 477.1,468.8 478.1,468.8 479.1,468.7 480.1,468.7 481.1,468.7 482.1,468.7 483.1,468.6 484.1,468.6 485.1,468.6 486.1,468.5 487.1,468.5 488.1,468.5 489.1,468.5 490.1,468.4 491.1,468.4 492.1,468.4 493.1,468.3 494.1,468.3 495.1,468.2 496.1,468.2 497.1,468.2 498.1,468.1 499.1,468.1 500.1,468.0 501.1,468.0 502.1,467.9 503.1,467.8 504.1,467.8 505.1,467.6 506.1,467.5 507.1,467.3 508.1,467.0 509.1,466.6 510.1,466.0 511.1,465.1 512.1,464.0 513.1,462.4 514.1,460.5 515.1,458.1 516.1,455.3 517.1,452.0 518.1,448.5 519.1,445.0 520.1,441.5 521.1,438.5 522.1,436.1 523.1,434.8 524.1,434.5 525.1,435.4 526.1,437.3 527.1,440.1 528.1,443.3 529.1,446.8 530.1,450.4 531.1,453.7 532.1,456.6 533.1,459.2 534.1,461.2 535.1,462.9 536.1,464.1 537.1,465.1 538.1,465.7 539.1,466.1 540.1,466.4 541.1,466.6 542.1,466.8 543.1,466.9 544.1,466.9 545.1,466.9 546.1,467.0 547.1,467.0 548.1,467.0 549.1,467.0 550.1,467.0 551.1,467.0 552.1,467.0 553.1,467.0 554.1,467.0 555.1,467.0 556.1,466.9 557.1,466.9 558.1,466.9 559.1,466.9 560.1,466.9 561.1,466.9 562.1,466.9 563.1,466.8 564.1,466.8 565.1,466.8 566.1,466.8 567.1,466.8 568.1,466.8 569.1,466.7 570.1,466.7 571.1,466.7 572.1,466.7 573.1,466.7 574.1,466.7 575.1,466.6 576.1,466.6 577.1,466.6 578.1,466.6 579.1,466.6 580.1,466.5 581.1,466.5 582.1,466.5 583.1,466.5 584.1,466.5 585.1,466.4 586.1,466.4 587.1,466.4 588.1,466.4 589.1,466.4 590.1,466.3 591.1,466.3 592.1,466.3 593.1,466.3 594.1,466.3 595.1,466.2 596.1,466.2 597.1,466.2 598.1,466.2 599.1,466.1 600.1,466.1 601.1,466.1 602.1,466.1 603.1,466.1 604.1,466.0 605.1,466.0 606.1,466.0 607.1,466.0 608.1,466.0 609.1,465.9 610.1,465.9 611.1,465.9 612.1,465.9 613.1,465.8 614.1,465.8 615.1,465.8 616.1,465.8 617.1,465.8 618.1,465.7 619.1,465.7 620.1,465.7 621.1,465.7 622.1,465.7 623.1,465.6 624.1,465.6 625.1,465.6 626.1,465.6 627.1,465.5 628.1,465.5 629.1,465.5 630.1,465.5 631.1,465.5 632.1,465.4 633.1,465.4 634.1,465.4 635.1,465.4 636.1,465.3 637.1,465.3 638.1,465.3 639.1,465.3 640.1,465.3 641.1,465.2 642.1,465.2 643.1,465.2 644.1,465.2 645.1,465.1 646.1,465.1 647.1,465.1 648.1,465.1 649.1,465.1 650.1,465.0 651.1,465.0 652.1,465.0 653.1,465.0 654.1,465.0 655.1,464.9 656.1,464.9 657.1,464.9 658.1,464.9 659.1,464.8 660.1,464.8 661.1,464.8 662.1,464.8 663.1,464.8 664.1,464.7 665.1,464.7 666.1,464.7 667.1,464.7 668.1,464.6 669.1,464.6 670.1,464.6 671.1,464.6 672.1,464.6 673.1,464.5 674.1,464.5 675.1,464.5 676.1,464.5 677.1,464.4 678.1,464.4 679.1,464.4 680.1,464.4 681.1,464.4 682.1,464.3 683.1,464.3 684.1,464.3 685.1,464.3 686.1,464.2 687.1,464.2 688.1,464.2 689.1,464.2 690.1,464.2 691.1,464.1 692.1,464.1 693.1,464.1 694.1,464.1 695.1,464.0 696.1,464.0 697.1,464.0 698.1,464.0 699.1,464.0 700.1,463.9 701.1,463.9 702.1,463.9 703.1,463.9 704.1,463.8 705.1,463.8 706.1,463.8 707.1,463.8 708.1,463.8 709.1,463.7 710.1,463.7 711.1,463.7 712.1,463.7 713.1,463.6 714.1,463.6 715.1,463.6 716.1,463.6 717.1,463.6 718.1,463.5 719.1,463.5 720.1,463.5 721.1,463.5 722.1,463.4 723.1,463.4" stroke="#a586da" stroke-width="1.8"/>
<polyline points="401.1,470.4 402.1,470.4 403.1,470.4 404.1,470.4 405.1,470.3 406.1,470.3 407.1,470.3 408.1,470.3 409.1,470.2 410.1,470.2 411.1,470.2 412.1,470.2 413.1,470.1 414.1,470.1 415.1,470.1 416.1,470.1 417.1,470.0 418.1,470.0 419.1,470.0 420.1,470.0 421.1,469.9 422.1,469.9 423.1,469.9 424.1,469.9 425.1,469.8 426.1,469.8 427.1,469.8 428.1,469.7 429.1,469.7 430.1,469.7 431.1,469.7 432.1,469.6 433.1,469.6 434.1,469.6 435.1,469.6 436.1,469.5 437.1,469.5 438.1,469.5 439.1,469.5 440.1,469.4 441.1,469.4 442.1,469.4 443.1,469.3 444.1,469.3 445.1,469.3 446.1,469.3 447.1,469.2 448.1,469.2 449.1,469.2 450.1,469.1 451.1,469.1 452.1,469.1 453.1,469.1 454.1,469.0 455.1,469.0 456.1,469.0 457.1,468.9 458.1,468.9 459.1,468.9 460.1,468.8 461.1,468.8 462.1,468.8 463.1,468.7 464.1,468.7 465.1,468.7 466.1,468.6 467.1,468.6 468.1,468.6 469.1,468.5 470.1,468.5 471.1,468.5 472.1,468.4 473.1,468.4 474.1,468.3 475.1,468.3 476.1,468.2 477.1,468.2 478.1,468.1 479.1,468.1 480.1,468.0 481.1,467.9 482.1,467.8 483.1,467.8 484.1,467.7 485.1,467.6 486.1,467.5 487.1,467.4 488.1,467.3 489.1,467.1 490.1,467.0 491.1,466.8 492.1,466.7 493.1,466.5 494.1,466.3 495.1,466.0 496.1,465.8 497.1,465.5 498.1,465.3 499.1,464.9 500.1,464.6 501.1,464.2 502.1,463.8 503.1,463.4 504.1,462.9 505.1,462.4 506.1,461.9 507.1,461.3 508.1,460.7 509.1,460.0 510.1,459.3 511.1,458.6 512.1,457.8 513.1,456.9 514.1,456.1 515.1,455.2 516.1,454.2 517.1,453.2 518.1,452.2 519.1,451.1 520.1,450.0 521.1,448.9 522.1,447.7 523.1,446.5 524.1,445.3 525.1,444.1 526.1,442.9 527.1,441.7 528.1,440.5 529.1,439.3 530.1,438.1 531.1,436.9 532.1,435.8 533.1,434.7 534.1,433.6 535.1,432.6 536.1,431.7 537.1,430.8 538.1,430.0 539.1,429.3 540.1,428.7 541.1,428.2 542.1,427.7 543.1,427.4 544.1,427.2 545.1,427.1 546.1,427.1 547.1,427.2 548.1,427.4 549.1,427.8 550.1,428.3 551.1,428.8 552.1,429.5 553.1,430.2 554.1,431.1 555.1,432.0 556.1,433.0 557.1,434.1 558.1,435.2 559.1,436.3 560.1,437.5 561.1,438.7 562.1,439.9 563.1,441.1 564.1,442.4 565.1,443.6 566.1,444.8 567.1,446.0 568.1,447.2 569.1,448.3 570.1,449.5 571.1,450.6 572.1,451.6 573.1,452.6 574.1,453.6 575.1,454.5 576.1,455.4 577.1,456.2 578.1,457.0 579.1,457.8 580.1,458.4 581.1,459.1 582.1,459.7 583.1,460.3 584.1,460.8 585.1,461.2 586.1,461.7 587.1,462.1 588.1,462.4 589.1,462.8 590.1,463.1 591.1,463.3 592.1,463.6 593.1,463.8 594.1,464.0 595.1,464.2 596.1,464.3 597.1,464.5 598.1,464.6 599.1,464.7 600.1,464.8 601.1,464.9 602.1,464.9 603.1,465.0 604.1,465.0 605.1,465.1 606.1,465.1 607.1,465.1 608.1,465.2 609.1,465.2 610.1,465.2 611.1,465.2 612.1,465.2 613.1,465.2 614.1,465.2 615.1,465.2 616.1,465.2 617.1,465.2 618.1,465.2 619.1,465.2 620.1,465.2 621.1,465.2 622.1,465.2 623.1,465.2 624.1,465.2 625.1,465.2 626.1,465.2 627.1,465.1 628.1,465.1 629.1,465.1 630.1,465.1 631.1,465.1 632.1,465.1 633.1,465.1 634.1,465.0 635.1,465.0 636.1,465.0 637.1,465.0 638.1,465.0 639.1,465.0 640.1,465.0 641.1,464.9 642.1,464.9 643.1,464.9 644.1,464.9 645.1,464.9 646.1,464.9 647.1,464.8 648.1,464.8 649.1,464.8 650.1,464.8 651.1,464.8 652.1,464.8 653.1,464.7 654.1,464.7 655.1,464.7 656.1,464.7 657.1,464.7 658.1,464.6 659.1,464.6 660.1,464.6 661.1,464.6 662.1,464.6 663.1,464.6 664.1,464.5 665.1,464.5 666.1,464.5 667.1,464.5 668.1,464.5 669.1,464.4 670.1,464.4 671.1,464.4 672.1,464.4 673.1,464.4 674.1,464.3 675.1,464.3 676.1,464.3 677.1,464.3 678.1,464.3 679.1,464.2 680.1,464.2 681.1,464.2 682.1,464.2 683.1,464.2 684.1,464.1 685.1,464.1 686.1,464.1 687.1,464.1 688.1,464.1 689.1,464.0 690.1,464.0 691.1,464.0 692.1,464.0 693.1,464.0 694.1,463.9 695.1,463.9 696.1,463.9 697.1,463.9 698.1,463.9 699.1,463.8 700.1,463.8 701.1,463.8 702.1,463.8 703.1,463.8 704.1,463.7 705.1,463.7 706.1,463.7 707.1,463.7 708.1,463.7 709.1,463.6 710.1,463.6 711.1,463.6 712.1,463.6 713.1,463.5 714.1,463.5 715.1,463.5 716.1,463.5 717.1,463.5 718.1,463.4 719.1,463.4 720.1,463.4 721.1,463.4 722.1,463.4 723.1,463.3" stroke="#428e6c" stroke-width="2.2"/>
<polyline points="401.1,470.6 402.1,470.5 403.1,470.5 404.1,470.5 405.1,470.5 406.1,470.5 407.1,470.4 408.1,470.4 409.1,470.4 410.1,470.4 411.1,470.3 412.1,470.3 413.1,470.3 414.1,470.3 415.1,470.2 416.1,470.2 417.1,470.2 418.1,470.2 419.1,470.2 420.1,470.1 421.1,470.1 422.1,470.1 423.1,470.1 424.1,470.0 425.1,470.0 426.1,470.0 427.1,470.0 428.1,470.0 429.1,469.9 430.1,469.9 431.1,469.9 432.1,469.9 433.1,469.8 434.1,469.8 435.1,469.8 436.1,469.8 437.1,469.7 438.1,469.7 439.1,469.7 440.1,469.7 441.1,469.7 442.1,469.6 443.1,469.6 444.1,469.6 445.1,469.6 446.1,469.5 447.1,469.5 448.1,469.5 449.1,469.5 450.1,469.4 451.1,469.4 452.1,469.4 453.1,469.4 454.1,469.3 455.1,469.3 456.1,469.3 457.1,469.3 458.1,469.3 459.1,469.2 460.1,469.2 461.1,469.2 462.1,469.2 463.1,469.1 464.1,469.1 465.1,469.1 466.1,469.1 467.1,469.0 468.1,469.0 469.1,469.0 470.1,469.0 471.1,468.9 472.1,468.9 473.1,468.9 474.1,468.8 475.1,468.8 476.1,468.8 477.1,468.8 478.1,468.7 479.1,468.7 480.1,468.7 481.1,468.6 482.1,468.6 483.1,468.6 484.1,468.5 485.1,468.5 486.1,468.5 487.1,468.4 488.1,468.4 489.1,468.4 490.1,468.3 491.1,468.3 492.1,468.2 493.1,468.2 494.1,468.1 495.1,468.0 496.1,467.9 497.1,467.8 498.1,467.7 499.1,467.4 500.1,467.1 501.1,466.7 502.1,466.1 503.1,465.3 504.1,464.2 505.1,462.8 506.1,461.2 507.1,459.2 508.1,456.8 509.1,454.2 510.1,451.5 511.1,448.6 512.1,446.0 513.1,443.6 514.1,441.7 515.1,440.5 516.1,440.1 517.1,440.6 518.1,441.9 519.1,443.8 520.1,446.2 521.1,448.9 522.1,451.6 523.1,454.3 524.1,456.9 525.1,459.1 526.1,461.0 527.1,462.6 528.1,463.9 529.1,464.8 530.1,465.6 531.1,466.1 532.1,466.5 533.1,466.7 534.1,466.9 535.1,467.0 536.1,467.1 537.1,467.1 538.1,467.1 539.1,467.2 540.1,467.2 541.1,467.2 542.1,467.2 543.1,467.2 544.1,467.2 545.1,467.2 546.1,467.1 547.1,467.1 548.1,467.1 549.1,467.1 550.1,467.1 551.1,467.1 552.1,467.1 553.1,467.1 554.1,467.0 555.1,467.0 556.1,467.0 557.1,467.0 558.1,467.0 559.1,467.0 560.1,466.9 561.1,466.9 562.1,466.9 563.1,466.9 564.1,466.9 565.1,466.9 566.1,466.8 567.1,466.8 568.1,466.8 569.1,466.8 570.1,466.8 571.1,466.7 572.1,466.7 573.1,466.7 574.1,466.7 575.1,466.7 576.1,466.6 577.1,466.6 578.1,466.6 579.1,466.6 580.1,466.6 581.1,466.5 582.1,466.5 583.1,466.5 584.1,466.5 585.1,466.5 586.1,466.4 587.1,466.4 588.1,466.4 589.1,466.4 590.1,466.3 591.1,466.3 592.1,466.3 593.1,466.3 594.1,466.3 595.1,466.2 596.1,466.2 597.1,466.2 598.1,466.2 599.1,466.2 600.1,466.1 601.1,466.1 602.1,466.1 603.1,466.1 604.1,466.0 605.1,466.0 606.1,466.0 607.1,466.0 608.1,466.0 609.1,465.9 610.1,465.9 611.1,465.9 612.1,465.9 613.1,465.9 614.1,465.8 615.1,465.8 616.1,465.8 617.1,465.8 618.1,465.7 619.1,465.7 620.1,465.7 621.1,465.7 622.1,465.7 623.1,465.6 624.1,465.6 625.1,465.6 626.1,465.6 627.1,465.5 628.1,465.5 629.1,465.5 630.1,465.5 631.1,465.5 632.1,465.4 633.1,465.4 634.1,465.4 635.1,465.4 636.1,465.3 637.1,465.3 638.1,465.3 639.1,465.3 640.1,465.3 641.1,465.2 642.1,465.2 643.1,465.2 644.1,465.2 645.1,465.2 646.1,465.1 647.1,465.1 648.1,465.1 649.1,465.1 650.1,465.0 651.1,465.0 652.1,465.0 653.1,465.0 654.1,465.0 655.1,464.9 656.1,464.9 657.1,464.9 658.1,464.9 659.1,464.8 660.1,464.8 661.1,464.8 662.1,464.8 663.1,464.8 664.1,464.7 665.1,464.7 666.1,464.7 667.1,464.7 668.1,464.6 669.1,464.6 670.1,464.6 671.1,464.6 672.1,464.6 673.1,464.5 674.1,464.5 675.1,464.5 676.1,464.5 677.1,464.4 678.1,464.4 679.1,464.4 680.1,464.4 681.1,464.4 682.1,464.3 683.1,464.3 684.1,464.3 685.1,464.3 686.1,464.2 687.1,464.2 688.1,464.2 689.1,464.2 690.1,464.2 691.1,464.1 692.1,464.1 693.1,464.1 694.1,464.1 695.1,464.0 696.1,464.0 697.1,464.0 698.1,464.0 699.1,464.0 700.1,463.9 701.1,463.9 702.1,463.9 703.1,463.9 704.1,463.8 705.1,463.8 706.1,463.8 707.1,463.8 708.1,463.8 709.1,463.7 710.1,463.7 711.1,463.7 712.1,463.7 713.1,463.6 714.1,463.6 715.1,463.6 716.1,463.6 717.1,463.6 718.1,463.5 719.1,463.5 720.1,463.5 721.1,463.5 722.1,463.4 723.1,463.4" stroke="#c6a236" stroke-width="1.9"/>
<line x1="503.5" y1="468.8" x2="532.0" y2="468.2" stroke="#4480d2" stroke-width="1.5"/>
</g>
<rect x="400.1" y="25.4" width="324.4" height="455.5" fill="none" stroke="#1c1c1c" stroke-width="2"/>
<line x1="400.1" y1="177.3" x2="724.5" y2="177.3" stroke="#1c1c1c" stroke-width="1.8"/>
<line x1="400.1" y1="328.6" x2="724.5" y2="328.6" stroke="#1c1c1c" stroke-width="1.8"/>
<line x1="400.1" y1="480.9" x2="400.1" y2="483.7" stroke="#1c1c1c" stroke-width="1.6"/>
<line x1="421.7" y1="480.9" x2="421.7" y2="485.4" stroke="#1c1c1c" stroke-width="1.6"/>
<line x1="443.4" y1="480.9" x2="443.4" y2="483.7" stroke="#1c1c1c" stroke-width="1.6"/>
<line x1="465.0" y1="480.9" x2="465.0" y2="485.4" stroke="#1c1c1c" stroke-width="1.6"/>
<line x1="486.6" y1="480.9" x2="486.6" y2="483.7" stroke="#1c1c1c" stroke-width="1.6"/>
<line x1="508.2" y1="480.9" x2="508.2" y2="485.4" stroke="#1c1c1c" stroke-width="1.6"/>
<line x1="529.9" y1="480.9" x2="529.9" y2="483.7" stroke="#1c1c1c" stroke-width="1.6"/>
<line x1="551.5" y1="480.9" x2="551.5" y2="485.4" stroke="#1c1c1c" stroke-width="1.6"/>
<line x1="573.1" y1="480.9" x2="573.1" y2="483.7" stroke="#1c1c1c" stroke-width="1.6"/>
<line x1="594.7" y1="480.9" x2="594.7" y2="485.4" stroke="#1c1c1c" stroke-width="1.6"/>
<line x1="616.4" y1="480.9" x2="616.4" y2="483.7" stroke="#1c1c1c" stroke-width="1.6"/>
<line x1="638.0" y1="480.9" x2="638.0" y2="485.4" stroke="#1c1c1c" stroke-width="1.6"/>
<line x1="659.6" y1="480.9" x2="659.6" y2="483.7" stroke="#1c1c1c" stroke-width="1.6"/>
<line x1="681.2" y1="480.9" x2="681.2" y2="485.4" stroke="#1c1c1c" stroke-width="1.6"/>
<line x1="702.9" y1="480.9" x2="702.9" y2="483.7" stroke="#1c1c1c" stroke-width="1.6"/>
<line x1="724.5" y1="480.9" x2="724.5" y2="485.4" stroke="#1c1c1c" stroke-width="1.6"/>
<text x="0" y="0" font-size="22" fill="#5a5a5a" text-anchor="middle" transform="translate(421.73,503.40) scale(0.94,1)">526</text>
<text x="0" y="0" font-size="22" fill="#5a5a5a" text-anchor="middle" transform="translate(464.98,503.40) scale(0.94,1)">528</text>
<text x="0" y="0" font-size="22" fill="#5a5a5a" text-anchor="middle" transform="translate(508.23,503.40) scale(0.94,1)">530</text>
<text x="0" y="0" font-size="22" fill="#5a5a5a" text-anchor="middle" transform="translate(551.49,503.40) scale(0.94,1)">532</text>
<text x="0" y="0" font-size="22" fill="#5a5a5a" text-anchor="middle" transform="translate(594.74,503.40) scale(0.94,1)">534</text>
<text x="0" y="0" font-size="22" fill="#5a5a5a" text-anchor="middle" transform="translate(637.99,503.40) scale(0.94,1)">536</text>
<text x="0" y="0" font-size="22" fill="#5a5a5a" text-anchor="middle" transform="translate(681.25,503.40) scale(0.94,1)">538</text>
<text x="0" y="0" font-size="22" fill="#5a5a5a" text-anchor="middle" transform="translate(724.50,503.40) scale(0.94,1)">540</text>
<g fill="none" stroke-linejoin="round" stroke-linecap="butt">
<polyline points="757.7,168.7 758.7,169.7 759.7,169.4 760.7,169.3 761.7,169.1 762.7,168.9 763.7,168.9 764.7,168.6 765.7,168.3 766.7,168.1 767.7,167.9 768.7,168.4 769.7,168.7 770.7,169.2 771.7,168.9 772.7,168.7 773.7,168.8 774.7,168.6 775.7,167.7 776.7,168.6 777.7,168.3 778.7,168.4 779.7,168.3 780.7,169.5 781.7,169.2 782.7,168.8 783.7,168.0 784.7,168.5 785.7,168.0 786.7,168.6 787.7,167.7 788.7,168.0 789.7,168.5 790.7,167.9 791.7,168.1 792.7,168.2 793.7,168.5 794.7,168.1 795.7,168.4 796.7,169.0 797.7,167.8 798.7,167.6 799.7,168.1 800.7,167.8 801.7,167.4 802.7,168.4 803.7,168.5 804.7,168.6 805.7,168.6 806.7,168.5 807.7,167.7 808.7,166.8 809.7,167.7 810.7,167.3 811.7,167.7 812.7,167.9 813.7,167.3 814.7,167.5 815.7,168.4 816.7,168.3 817.7,167.2 818.7,167.4 819.7,167.6 820.7,167.8 821.7,168.0 822.7,167.7 823.7,167.5 824.7,167.9 825.7,167.0 826.7,167.8 827.7,167.7 828.7,167.3 829.7,167.1 830.7,167.4 831.7,166.7 832.7,166.1 833.7,167.0 834.7,167.7 835.7,167.3 836.7,168.0 837.7,167.8 838.7,167.4 839.7,167.7 840.7,168.0 841.7,167.7 842.7,167.9 843.7,167.1 844.7,167.1 845.7,166.5 846.7,166.2 847.7,166.2 848.7,165.9 849.7,165.9 850.7,165.6 851.7,164.4 852.7,164.5 853.7,163.0 854.7,162.6 855.7,162.2 856.7,161.5 857.7,161.0 858.7,160.2 859.7,159.0 860.7,158.8 861.7,157.9 862.7,156.7 863.7,156.2 864.7,155.5 865.7,155.0 866.7,153.9 867.7,153.3 868.7,152.5 869.7,152.5 870.7,151.2 871.7,150.9 872.7,149.8 873.7,149.4 874.7,149.3 875.7,147.7 876.7,146.8 877.7,145.6 878.7,144.7 879.7,144.0 880.7,143.5 881.7,143.1 882.7,142.5 883.7,141.2 884.7,140.5 885.7,138.6 886.7,137.3 887.7,135.2 888.7,132.8 889.7,130.8 890.7,129.2 891.7,127.2 892.7,125.3 893.7,122.9 894.7,121.0 895.7,118.9 896.7,116.5 897.7,115.0 898.7,113.4 899.7,111.6 900.7,110.7 901.7,110.1 902.7,108.8 903.7,107.2 904.7,105.7 905.7,105.2 906.7,104.6 907.7,104.6 908.7,105.1 909.7,104.9 910.7,104.6 911.7,106.0 912.7,106.5 913.7,107.9 914.7,108.1 915.7,110.4 916.7,110.6 917.7,112.3 918.7,114.2 919.7,114.5 920.7,116.6 921.7,118.2 922.7,121.3 923.7,123.2 924.7,124.5 925.7,125.9 926.7,127.7 927.7,130.3 928.7,132.1 929.7,134.5 930.7,136.1 931.7,137.4 932.7,140.5 933.7,142.1 934.7,143.3 935.7,144.8 936.7,147.0 937.7,148.5 938.7,149.1 939.7,151.2 940.7,151.9 941.7,153.4 942.7,153.9 943.7,154.9 944.7,156.5 945.7,156.7 946.7,157.9 947.7,158.9 948.7,159.2 949.7,160.6 950.7,161.1 951.7,161.3 952.7,162.1 953.7,162.8 954.7,163.2 955.7,163.1 956.7,163.6 957.7,163.7 958.7,163.3 959.7,163.7 960.7,164.9 961.7,164.2 962.7,164.6 963.7,165.4 964.7,164.8 965.7,164.9 966.7,164.6 967.7,165.1 968.7,164.6 969.7,165.2 970.7,164.9 971.7,165.3 972.7,164.6 973.7,164.7 974.7,165.5 975.7,165.7 976.7,164.3 977.7,165.7 978.7,165.2 979.7,165.8 980.7,166.0 981.7,165.6 982.7,165.4 983.7,164.7 984.7,165.5 985.7,166.3 986.7,165.3 987.7,166.0 988.7,166.0 989.7,166.1 990.7,165.4 991.7,165.5 992.7,165.7 993.7,166.3 994.7,165.5 995.7,165.4 996.7,165.2 997.7,165.8 998.7,165.0 999.7,165.3 1000.7,165.0 1001.7,165.3 1002.7,165.8 1003.7,165.5 1004.7,165.8 1005.7,165.5 1006.7,165.5 1007.7,165.5 1008.7,165.2 1009.7,165.6 1010.7,165.9 1011.7,165.4 1012.7,165.8 1013.7,165.7 1014.7,165.4 1015.7,165.6 1016.7,165.9 1017.7,166.0 1018.7,166.3 1019.7,165.9 1020.7,165.8 1021.7,165.0 1022.7,165.1 1023.7,165.6 1024.7,165.1 1025.7,165.0 1026.7,166.1 1027.7,165.7 1028.7,165.1 1029.7,164.5 1030.7,164.8 1031.7,166.2 1032.7,165.7 1033.7,165.8 1034.7,165.9 1035.7,165.4 1036.7,165.6 1037.7,165.5 1038.7,165.3 1039.7,165.8 1040.7,165.2 1041.7,165.0 1042.7,165.0 1043.7,165.8 1044.7,165.3 1045.7,166.1 1046.7,165.1 1047.7,164.9 1048.7,164.1 1049.7,164.6 1050.7,165.1 1051.7,165.5 1052.7,165.0 1053.7,165.0 1054.7,165.8 1055.7,165.3 1056.7,165.3 1057.7,165.6 1058.7,165.0 1059.7,165.7 1060.7,165.3 1061.7,165.6 1062.7,165.2 1063.7,165.3 1064.7,165.8 1065.7,165.5 1066.7,164.6 1067.7,164.9 1068.7,164.9 1069.7,165.0 1070.7,165.2 1071.7,164.5 1072.7,165.6 1073.7,165.0 1074.7,165.6 1075.7,165.1 1076.7,165.0 1077.7,165.0 1078.7,164.9 1079.7,165.3 1080.7,165.6 1081.7,166.0 1082.7,166.1 1083.7,164.9 1084.7,165.3" stroke="#6e6a58" stroke-width="3.2"/>
<polyline points="836.0,167.9 844.0,167.3 851.3,165.0 858.0,160.6 866.0,154.6 876.0,147.2 885.3,140.0" stroke="#bf4a5c" stroke-width="2.4"/>
<polyline points="757.7,168.6 758.7,168.6 759.7,168.6 760.7,168.6 761.7,168.6 762.7,168.5 763.7,168.5 764.7,168.5 765.7,168.5 766.7,168.5 767.7,168.5 768.7,168.5 769.7,168.4 770.7,168.4 771.7,168.4 772.7,168.4 773.7,168.4 774.7,168.4 775.7,168.4 776.7,168.3 777.7,168.3 778.7,168.3 779.7,168.3 780.7,168.3 781.7,168.3 782.7,168.3 783.7,168.2 784.7,168.2 785.7,168.2 786.7,168.2 787.7,168.2 788.7,168.2 789.7,168.2 790.7,168.1 791.7,168.1 792.7,168.1 793.7,168.1 794.7,168.1 795.7,168.1 796.7,168.0 797.7,168.0 798.7,168.0 799.7,168.0 800.7,168.0 801.7,168.0 802.7,167.9 803.7,167.9 804.7,167.9 805.7,167.9 806.7,167.9 807.7,167.8 808.7,167.8 809.7,167.8 810.7,167.8 811.7,167.8 812.7,167.8 813.7,167.7 814.7,167.7 815.7,167.7 816.7,167.7 817.7,167.7 818.7,167.6 819.7,167.6 820.7,167.6 821.7,167.6 822.7,167.5 823.7,167.5 824.7,167.5 825.7,167.5 826.7,167.4 827.7,167.4 828.7,167.4 829.7,167.4 830.7,167.3 831.7,167.3 832.7,167.3 833.7,167.3 834.7,167.2 835.7,167.2 836.7,167.2 837.7,167.1 838.7,167.1 839.7,167.1 840.7,167.0 841.7,167.0 842.7,166.9 843.7,166.9 844.7,166.8 845.7,166.8 846.7,166.7 847.7,166.6 848.7,166.5 849.7,166.5 850.7,166.4 851.7,166.3 852.7,166.2 853.7,166.0 854.7,165.9 855.7,165.7 856.7,165.5 857.7,165.3 858.7,165.1 859.7,164.9 860.7,164.6 861.7,164.3 862.7,163.9 863.7,163.6 864.7,163.1 865.7,162.7 866.7,162.1 867.7,161.6 868.7,160.9 869.7,160.3 870.7,159.5 871.7,158.7 872.7,157.8 873.7,156.8 874.7,155.8 875.7,154.7 876.7,153.5 877.7,152.2 878.7,150.9 879.7,149.4 880.7,147.9 881.7,146.3 882.7,144.6 883.7,142.9 884.7,141.1 885.7,139.2 886.7,137.3 887.7,135.3 888.7,133.3 889.7,131.2 890.7,129.2 891.7,127.1 892.7,125.0 893.7,123.0 894.7,121.0 895.7,119.0 896.7,117.1 897.7,115.3 898.7,113.6 899.7,111.9 900.7,110.5 901.7,109.1 902.7,107.9 903.7,106.9 904.7,106.0 905.7,105.4 906.7,104.9 907.7,104.7 908.7,104.6 909.7,104.8 910.7,105.1 911.7,105.7 912.7,106.4 913.7,107.3 914.7,108.3 915.7,109.5 916.7,110.8 917.7,112.3 918.7,113.8 919.7,115.5 920.7,117.2 921.7,119.0 922.7,120.9 923.7,122.8 924.7,124.8 925.7,126.7 926.7,128.7 927.7,130.7 928.7,132.6 929.7,134.5 930.7,136.4 931.7,138.2 932.7,140.0 933.7,141.8 934.7,143.5 935.7,145.1 936.7,146.6 937.7,148.1 938.7,149.5 939.7,150.8 940.7,152.0 941.7,153.2 942.7,154.3 943.7,155.3 944.7,156.3 945.7,157.2 946.7,158.0 947.7,158.8 948.7,159.5 949.7,160.1 950.7,160.7 951.7,161.2 952.7,161.7 953.7,162.1 954.7,162.5 955.7,162.9 956.7,163.2 957.7,163.5 958.7,163.7 959.7,163.9 960.7,164.1 961.7,164.3 962.7,164.5 963.7,164.6 964.7,164.7 965.7,164.8 966.7,164.9 967.7,165.0 968.7,165.1 969.7,165.2 970.7,165.2 971.7,165.3 972.7,165.3 973.7,165.4 974.7,165.4 975.7,165.4 976.7,165.5 977.7,165.5 978.7,165.5 979.7,165.5 980.7,165.5 981.7,165.5 982.7,165.6 983.7,165.6 984.7,165.6 985.7,165.6 986.7,165.6 987.7,165.6 988.7,165.6 989.7,165.6 990.7,165.6 991.7,165.6 992.7,165.6 993.7,165.6 994.7,165.6 995.7,165.6 996.7,165.6 997.7,165.6 998.7,165.6 999.7,165.6 1000.7,165.6 1001.7,165.6 1002.7,165.6 1003.7,165.6 1004.7,165.6 1005.7,165.6 1006.7,165.6 1007.7,165.6 1008.7,165.6 1009.7,165.6 1010.7,165.6 1011.7,165.6 1012.7,165.6 1013.7,165.6 1014.7,165.6 1015.7,165.6 1016.7,165.6 1017.7,165.6 1018.7,165.6 1019.7,165.6 1020.7,165.6 1021.7,165.6 1022.7,165.6 1023.7,165.6 1024.7,165.5 1025.7,165.5 1026.7,165.5 1027.7,165.5 1028.7,165.5 1029.7,165.5 1030.7,165.5 1031.7,165.5 1032.7,165.5 1033.7,165.5 1034.7,165.5 1035.7,165.5 1036.7,165.5 1037.7,165.5 1038.7,165.5 1039.7,165.5 1040.7,165.4 1041.7,165.4 1042.7,165.4 1043.7,165.4 1044.7,165.4 1045.7,165.4 1046.7,165.4 1047.7,165.4 1048.7,165.4 1049.7,165.4 1050.7,165.4 1051.7,165.4 1052.7,165.4 1053.7,165.3 1054.7,165.3 1055.7,165.3 1056.7,165.3 1057.7,165.3 1058.7,165.3 1059.7,165.3 1060.7,165.3 1061.7,165.3 1062.7,165.3 1063.7,165.3 1064.7,165.3 1065.7,165.2 1066.7,165.2 1067.7,165.2 1068.7,165.2 1069.7,165.2 1070.7,165.2 1071.7,165.2 1072.7,165.2 1073.7,165.2 1074.7,165.2 1075.7,165.2 1076.7,165.1 1077.7,165.1 1078.7,165.1 1079.7,165.1 1080.7,165.1 1081.7,165.1 1082.7,165.1 1083.7,165.1 1084.7,165.1" stroke="#428e6c" stroke-width="2.2"/>
<polyline points="757.7,168.8 758.7,168.8 759.7,168.8 760.7,168.7 761.7,168.7 762.7,168.7 763.7,168.7 764.7,168.7 765.7,168.7 766.7,168.7 767.7,168.7 768.7,168.7 769.7,168.6 770.7,168.6 771.7,168.6 772.7,168.6 773.7,168.6 774.7,168.6 775.7,168.6 776.7,168.6 777.7,168.6 778.7,168.5 779.7,168.5 780.7,168.5 781.7,168.5 782.7,168.5 783.7,168.5 784.7,168.5 785.7,168.5 786.7,168.5 787.7,168.4 788.7,168.4 789.7,168.4 790.7,168.4 791.7,168.4 792.7,168.4 793.7,168.4 794.7,168.4 795.7,168.4 796.7,168.3 797.7,168.3 798.7,168.3 799.7,168.3 800.7,168.3 801.7,168.3 802.7,168.3 803.7,168.3 804.7,168.2 805.7,168.2 806.7,168.2 807.7,168.2 808.7,168.2 809.7,168.2 810.7,168.2 811.7,168.2 812.7,168.2 813.7,168.1 814.7,168.1 815.7,168.1 816.7,168.1 817.7,168.1 818.7,168.1 819.7,168.1 820.7,168.1 821.7,168.0 822.7,168.0 823.7,168.0 824.7,168.0 825.7,168.0 826.7,168.0 827.7,168.0 828.7,168.0 829.7,167.9 830.7,167.9 831.7,167.9 832.7,167.9 833.7,167.9 834.7,167.9 835.7,167.9 836.7,167.8 837.7,167.8 838.7,167.8 839.7,167.8 840.7,167.8 841.7,167.8 842.7,167.7 843.7,167.7 844.7,167.7 845.7,167.7 846.7,167.6 847.7,167.6 848.7,167.6 849.7,167.5 850.7,167.5 851.7,167.4 852.7,167.3 853.7,167.2 854.7,167.1 855.7,166.9 856.7,166.8 857.7,166.5 858.7,166.3 859.7,165.9 860.7,165.6 861.7,165.1 862.7,164.7 863.7,164.1 864.7,163.5 865.7,162.9 866.7,162.3 867.7,161.6 868.7,161.0 869.7,160.3 870.7,159.8 871.7,159.3 872.7,158.8 873.7,158.5 874.7,158.3 875.7,158.3 876.7,158.4 877.7,158.6 878.7,159.0 879.7,159.4 880.7,159.9 881.7,160.5 882.7,161.2 883.7,161.8 884.7,162.4 885.7,163.0 886.7,163.6 887.7,164.1 888.7,164.6 889.7,165.1 890.7,165.4 891.7,165.8 892.7,166.0 893.7,166.3 894.7,166.4 895.7,166.6 896.7,166.7 897.7,166.8 898.7,166.9 899.7,166.9 900.7,167.0 901.7,167.0 902.7,167.0 903.7,167.0 904.7,167.0 905.7,167.0 906.7,167.0 907.7,167.0 908.7,167.0 909.7,167.0 910.7,167.0 911.7,167.0 912.7,167.0 913.7,167.0 914.7,167.0 915.7,167.0 916.7,167.0 917.7,167.0 918.7,167.0 919.7,167.0 920.7,166.9 921.7,166.9 922.7,166.9 923.7,166.9 924.7,166.9 925.7,166.9 926.7,166.9 927.7,166.9 928.7,166.9 929.7,166.9 930.7,166.9 931.7,166.8 932.7,166.8 933.7,166.8 934.7,166.8 935.7,166.8 936.7,166.8 937.7,166.8 938.7,166.8 939.7,166.8 940.7,166.8 941.7,166.7 942.7,166.7 943.7,166.7 944.7,166.7 945.7,166.7 946.7,166.7 947.7,166.7 948.7,166.7 949.7,166.7 950.7,166.7 951.7,166.6 952.7,166.6 953.7,166.6 954.7,166.6 955.7,166.6 956.7,166.6 957.7,166.6 958.7,166.6 959.7,166.6 960.7,166.6 961.7,166.5 962.7,166.5 963.7,166.5 964.7,166.5 965.7,166.5 966.7,166.5 967.7,166.5 968.7,166.5 969.7,166.5 970.7,166.4 971.7,166.4 972.7,166.4 973.7,166.4 974.7,166.4 975.7,166.4 976.7,166.4 977.7,166.4 978.7,166.4 979.7,166.3 980.7,166.3 981.7,166.3 982.7,166.3 983.7,166.3 984.7,166.3 985.7,166.3 986.7,166.3 987.7,166.3 988.7,166.3 989.7,166.2 990.7,166.2 991.7,166.2 992.7,166.2 993.7,166.2 994.7,166.2 995.7,166.2 996.7,166.2 997.7,166.2 998.7,166.1 999.7,166.1 1000.7,166.1 1001.7,166.1 1002.7,166.1 1003.7,166.1 1004.7,166.1 1005.7,166.1 1006.7,166.1 1007.7,166.0 1008.7,166.0 1009.7,166.0 1010.7,166.0 1011.7,166.0 1012.7,166.0 1013.7,166.0 1014.7,166.0 1015.7,166.0 1016.7,166.0 1017.7,165.9 1018.7,165.9 1019.7,165.9 1020.7,165.9 1021.7,165.9 1022.7,165.9 1023.7,165.9 1024.7,165.9 1025.7,165.9 1026.7,165.8 1027.7,165.8 1028.7,165.8 1029.7,165.8 1030.7,165.8 1031.7,165.8 1032.7,165.8 1033.7,165.8 1034.7,165.8 1035.7,165.7 1036.7,165.7 1037.7,165.7 1038.7,165.7 1039.7,165.7 1040.7,165.7 1041.7,165.7 1042.7,165.7 1043.7,165.7 1044.7,165.6 1045.7,165.6 1046.7,165.6 1047.7,165.6 1048.7,165.6 1049.7,165.6 1050.7,165.6 1051.7,165.6 1052.7,165.6 1053.7,165.5 1054.7,165.5 1055.7,165.5 1056.7,165.5 1057.7,165.5 1058.7,165.5 1059.7,165.5 1060.7,165.5 1061.7,165.5 1062.7,165.4 1063.7,165.4 1064.7,165.4 1065.7,165.4 1066.7,165.4 1067.7,165.4 1068.7,165.4 1069.7,165.4 1070.7,165.4 1071.7,165.4 1072.7,165.3 1073.7,165.3 1074.7,165.3 1075.7,165.3 1076.7,165.3 1077.7,165.3 1078.7,165.3 1079.7,165.3 1080.7,165.3 1081.7,165.2 1082.7,165.2 1083.7,165.2 1084.7,165.2" stroke="#c6a236" stroke-width="1.9"/>
<line x1="859.8" y1="168.2" x2="885.3" y2="167.9" stroke="#4480d2" stroke-width="1.5"/>
</g>
<g fill="none" stroke-linejoin="round" stroke-linecap="butt">
<polyline points="757.7,319.8 758.7,320.1 759.7,320.6 760.7,320.9 761.7,320.8 762.7,320.3 763.7,320.3 764.7,320.0 765.7,319.5 766.7,319.6 767.7,320.2 768.7,320.1 769.7,319.8 770.7,319.4 771.7,319.6 772.7,319.5 773.7,319.7 774.7,319.9 775.7,318.9 776.7,319.3 777.7,318.9 778.7,319.0 779.7,318.9 780.7,319.8 781.7,319.9 782.7,319.8 783.7,319.3 784.7,318.8 785.7,319.0 786.7,319.3 787.7,319.3 788.7,319.6 789.7,319.2 790.7,319.9 791.7,319.7 792.7,320.2 793.7,319.6 794.7,319.2 795.7,318.8 796.7,319.3 797.7,319.5 798.7,319.2 799.7,319.2 800.7,318.9 801.7,318.7 802.7,318.7 803.7,318.0 804.7,318.1 805.7,318.5 806.7,318.7 807.7,319.1 808.7,319.0 809.7,318.9 810.7,318.7 811.7,317.6 812.7,318.2 813.7,317.9 814.7,318.4 815.7,318.2 816.7,318.1 817.7,317.9 818.7,317.9 819.7,317.3 820.7,317.1 821.7,318.2 822.7,318.2 823.7,317.8 824.7,317.6 825.7,317.5 826.7,318.9 827.7,318.3 828.7,317.8 829.7,317.3 830.7,316.4 831.7,317.0 832.7,317.6 833.7,317.6 834.7,317.3 835.7,316.7 836.7,316.2 837.7,316.4 838.7,316.2 839.7,315.6 840.7,316.3 841.7,315.3 842.7,314.8 843.7,313.5 844.7,314.1 845.7,312.9 846.7,311.7 847.7,310.4 848.7,308.1 849.7,305.9 850.7,303.6 851.7,300.1 852.7,296.9 853.7,293.3 854.7,288.9 855.7,284.4 856.7,279.3 857.7,274.4 858.7,268.7 859.7,263.5 860.7,258.0 861.7,253.7 862.7,249.5 863.7,246.2 864.7,242.9 865.7,240.9 866.7,240.0 867.7,237.7 868.7,237.2 869.7,237.2 870.7,237.5 871.7,239.1 872.7,241.4 873.7,244.8 874.7,248.1 875.7,253.1 876.7,256.7 877.7,260.4 878.7,264.1 879.7,266.8 880.7,268.5 881.7,270.2 882.7,271.2 883.7,271.8 884.7,272.1 885.7,270.7 886.7,269.7 887.7,269.2 888.7,268.4 889.7,266.9 890.7,265.5 891.7,264.6 892.7,263.2 893.7,261.5 894.7,260.0 895.7,258.3 896.7,257.8 897.7,256.9 898.7,255.8 899.7,255.6 900.7,254.9 901.7,254.6 902.7,253.9 903.7,254.8 904.7,254.8 905.7,255.6 906.7,256.4 907.7,257.1 908.7,258.4 909.7,259.7 910.7,261.2 911.7,263.0 912.7,264.6 913.7,266.9 914.7,268.8 915.7,270.3 916.7,272.9 917.7,274.8 918.7,277.3 919.7,278.4 920.7,281.3 921.7,282.6 922.7,285.2 923.7,288.8 924.7,290.4 925.7,292.3 926.7,293.4 927.7,294.7 928.7,296.7 929.7,298.6 930.7,300.0 931.7,301.1 932.7,302.2 933.7,303.6 934.7,305.6 935.7,306.3 936.7,307.0 937.7,307.8 938.7,308.3 939.7,308.7 940.7,309.9 941.7,311.2 942.7,311.6 943.7,311.3 944.7,312.6 945.7,312.8 946.7,313.7 947.7,313.4 948.7,312.9 949.7,313.5 950.7,313.7 951.7,313.5 952.7,313.7 953.7,313.9 954.7,313.9 955.7,314.5 956.7,314.7 957.7,314.5 958.7,314.5 959.7,315.0 960.7,315.0 961.7,314.4 962.7,314.8 963.7,315.5 964.7,315.2 965.7,314.7 966.7,315.4 967.7,316.1 968.7,315.4 969.7,314.2 970.7,314.1 971.7,315.4 972.7,315.0 973.7,315.3 974.7,315.3 975.7,315.1 976.7,315.7 977.7,315.3 978.7,315.3 979.7,315.2 980.7,315.1 981.7,316.0 982.7,314.9 983.7,314.4 984.7,315.2 985.7,314.5 986.7,314.8 987.7,314.4 988.7,315.1 989.7,314.9 990.7,315.2 991.7,314.7 992.7,314.7 993.7,313.9 994.7,314.8 995.7,314.9 996.7,314.8 997.7,314.8 998.7,314.6 999.7,314.7 1000.7,315.4 1001.7,314.7 1002.7,314.5 1003.7,314.9 1004.7,314.8 1005.7,314.5 1006.7,315.2 1007.7,315.5 1008.7,314.8 1009.7,315.4 1010.7,314.3 1011.7,315.1 1012.7,314.1 1013.7,314.5 1014.7,314.4 1015.7,314.3 1016.7,314.7 1017.7,314.1 1018.7,314.0 1019.7,313.8 1020.7,314.8 1021.7,314.3 1022.7,314.5 1023.7,314.3 1024.7,314.7 1025.7,314.0 1026.7,313.8 1027.7,313.8 1028.7,314.2 1029.7,313.9 1030.7,314.3 1031.7,314.4 1032.7,314.7 1033.7,314.5 1034.7,314.8 1035.7,314.2 1036.7,313.9 1037.7,313.7 1038.7,313.7 1039.7,313.4 1040.7,313.9 1041.7,314.0 1042.7,313.1 1043.7,313.6 1044.7,313.5 1045.7,313.4 1046.7,313.6 1047.7,314.3 1048.7,314.0 1049.7,313.1 1050.7,313.7 1051.7,313.4 1052.7,314.3 1053.7,313.7 1054.7,313.7 1055.7,313.6 1056.7,313.3 1057.7,313.4 1058.7,313.5 1059.7,314.5 1060.7,314.0 1061.7,313.9 1062.7,313.7 1063.7,313.7 1064.7,313.7 1065.7,314.2 1066.7,312.5 1067.7,312.9 1068.7,312.9 1069.7,313.6 1070.7,313.1 1071.7,313.7 1072.7,313.9 1073.7,313.3 1074.7,313.6 1075.7,313.2 1076.7,313.6 1077.7,313.6 1078.7,313.8 1079.7,313.8 1080.7,313.0 1081.7,313.7 1082.7,313.4 1083.7,313.7 1084.7,313.3" stroke="#6e6a58" stroke-width="3.2"/>
<polyline points="757.7,320.2 758.7,320.2 759.7,320.1 760.7,320.1 761.7,320.1 762.7,320.1 763.7,320.0 764.7,320.0 765.7,320.0 766.7,320.0 767.7,319.9 768.7,319.9 769.7,319.9 770.7,319.8 771.7,319.8 772.7,319.8 773.7,319.8 774.7,319.7 775.7,319.7 776.7,319.7 777.7,319.6 778.7,319.6 779.7,319.6 780.7,319.6 781.7,319.5 782.7,319.5 783.7,319.5 784.7,319.4 785.7,319.4 786.7,319.4 787.7,319.3 788.7,319.3 789.7,319.3 790.7,319.3 791.7,319.2 792.7,319.2 793.7,319.2 794.7,319.1 795.7,319.1 796.7,319.1 797.7,319.0 798.7,319.0 799.7,319.0 800.7,318.9 801.7,318.9 802.7,318.8 803.7,318.8 804.7,318.8 805.7,318.7 806.7,318.7 807.7,318.7 808.7,318.6 809.7,318.6 810.7,318.5 811.7,318.5 812.7,318.4 813.7,318.4 814.7,318.4 815.7,318.3 816.7,318.3 817.7,318.2 818.7,318.2 819.7,318.1 820.7,318.1 821.7,318.0 822.7,317.9 823.7,317.9 824.7,317.8 825.7,317.8 826.7,317.7 827.7,317.6 828.7,317.5 829.7,317.5 830.7,317.4 831.7,317.3 832.7,317.2 833.7,317.1 834.7,317.0 835.7,316.9 836.7,316.7 837.7,316.6 838.7,316.4 839.7,316.2 840.7,315.9 841.7,315.5 842.7,315.1 843.7,314.5 844.7,313.8 845.7,312.9 846.7,311.7 847.7,310.3 848.7,308.4 849.7,306.2 850.7,303.6 851.7,300.5 852.7,296.9 853.7,292.9 854.7,288.4 855.7,283.7 856.7,278.6 857.7,273.4 858.7,268.2 859.7,263.1 860.7,258.3 861.7,253.9 862.7,249.9 863.7,246.4 864.7,243.4 865.7,241.0 866.7,239.0 867.7,237.7 868.7,236.9 869.7,236.9 870.7,237.7 871.7,239.3 872.7,241.7 873.7,244.7 874.7,248.3 875.7,252.1 876.7,256.0 877.7,259.7 878.7,263.0 879.7,265.9 880.7,268.2 881.7,270.0 882.7,271.1 883.7,271.7 884.7,271.7 885.7,271.3 886.7,270.6 887.7,269.6 888.7,268.4 889.7,267.1 890.7,265.6 891.7,264.2 892.7,262.8 893.7,261.4 894.7,260.1 895.7,258.9 896.7,257.9 897.7,256.9 898.7,256.1 899.7,255.5 900.7,255.0 901.7,254.8 902.7,254.7 903.7,254.7 904.7,255.1 905.7,255.6 906.7,256.4 907.7,257.3 908.7,258.5 909.7,259.9 910.7,261.4 911.7,263.0 912.7,264.8 913.7,266.7 914.7,268.7 915.7,270.8 916.7,272.9 917.7,275.0 918.7,277.2 919.7,279.4 920.7,281.5 921.7,283.6 922.7,285.7 923.7,287.8 924.7,289.8 925.7,291.7 926.7,293.5 927.7,295.3 928.7,296.9 929.7,298.5 930.7,300.0 931.7,301.4 932.7,302.7 933.7,304.0 934.7,305.1 935.7,306.1 936.7,307.1 937.7,308.0 938.7,308.8 939.7,309.5 940.7,310.1 941.7,310.7 942.7,311.3 943.7,311.7 944.7,312.2 945.7,312.5 946.7,312.9 947.7,313.2 948.7,313.4 949.7,313.6 950.7,313.8 951.7,314.0 952.7,314.1 953.7,314.3 954.7,314.4 955.7,314.5 956.7,314.6 957.7,314.6 958.7,314.7 959.7,314.7 960.7,314.8 961.7,314.8 962.7,314.8 963.7,314.9 964.7,314.9 965.7,314.9 966.7,314.9 967.7,314.9 968.7,314.9 969.7,314.9 970.7,314.9 971.7,314.9 972.7,314.9 973.7,314.9 974.7,314.9 975.7,314.9 976.7,314.9 977.7,314.9 978.7,314.9 979.7,314.9 980.7,314.9 981.7,314.9 982.7,314.9 983.7,314.9 984.7,314.9 985.7,314.9 986.7,314.9 987.7,314.8 988.7,314.8 989.7,314.8 990.7,314.8 991.7,314.8 992.7,314.8 993.7,314.8 994.7,314.8 995.7,314.7 996.7,314.7 997.7,314.7 998.7,314.7 999.7,314.7 1000.7,314.7 1001.7,314.7 1002.7,314.7 1003.7,314.6 1004.7,314.6 1005.7,314.6 1006.7,314.6 1007.7,314.6 1008.7,314.6 1009.7,314.5 1010.7,314.5 1011.7,314.5 1012.7,314.5 1013.7,314.5 1014.7,314.5 1015.7,314.4 1016.7,314.4 1017.7,314.4 1018.7,314.4 1019.7,314.4 1020.7,314.4 1021.7,314.3 1022.7,314.3 1023.7,314.3 1024.7,314.3 1025.7,314.3 1026.7,314.3 1027.7,314.2 1028.7,314.2 1029.7,314.2 1030.7,314.2 1031.7,314.2 1032.7,314.1 1033.7,314.1 1034.7,314.1 1035.7,314.1 1036.7,314.1 1037.7,314.0 1038.7,314.0 1039.7,314.0 1040.7,314.0 1041.7,314.0 1042.7,314.0 1043.7,313.9 1044.7,313.9 1045.7,313.9 1046.7,313.9 1047.7,313.9 1048.7,313.8 1049.7,313.8 1050.7,313.8 1051.7,313.8 1052.7,313.8 1053.7,313.7 1054.7,313.7 1055.7,313.7 1056.7,313.7 1057.7,313.7 1058.7,313.6 1059.7,313.6 1060.7,313.6 1061.7,313.6 1062.7,313.6 1063.7,313.5 1064.7,313.5 1065.7,313.5 1066.7,313.5 1067.7,313.5 1068.7,313.4 1069.7,313.4 1070.7,313.4 1071.7,313.4 1072.7,313.3 1073.7,313.3 1074.7,313.3 1075.7,313.3 1076.7,313.3 1077.7,313.2 1078.7,313.2 1079.7,313.2 1080.7,313.2 1081.7,313.2 1082.7,313.1 1083.7,313.1 1084.7,313.1" stroke="#bf4a5c" stroke-width="2.4"/>
<polyline points="757.7,320.4 758.7,320.4 759.7,320.4 760.7,320.4 761.7,320.3 762.7,320.3 763.7,320.3 764.7,320.3 765.7,320.3 766.7,320.2 767.7,320.2 768.7,320.2 769.7,320.2 770.7,320.1 771.7,320.1 772.7,320.1 773.7,320.1 774.7,320.0 775.7,320.0 776.7,320.0 777.7,320.0 778.7,320.0 779.7,319.9 780.7,319.9 781.7,319.9 782.7,319.9 783.7,319.8 784.7,319.8 785.7,319.8 786.7,319.8 787.7,319.7 788.7,319.7 789.7,319.7 790.7,319.7 791.7,319.6 792.7,319.6 793.7,319.6 794.7,319.6 795.7,319.5 796.7,319.5 797.7,319.5 798.7,319.5 799.7,319.4 800.7,319.4 801.7,319.4 802.7,319.4 803.7,319.3 804.7,319.3 805.7,319.3 806.7,319.3 807.7,319.2 808.7,319.2 809.7,319.2 810.7,319.1 811.7,319.1 812.7,319.1 813.7,319.1 814.7,319.0 815.7,319.0 816.7,319.0 817.7,318.9 818.7,318.9 819.7,318.9 820.7,318.8 821.7,318.8 822.7,318.8 823.7,318.7 824.7,318.7 825.7,318.7 826.7,318.6 827.7,318.6 828.7,318.6 829.7,318.5 830.7,318.5 831.7,318.4 832.7,318.4 833.7,318.3 834.7,318.3 835.7,318.2 836.7,318.1 837.7,318.0 838.7,317.9 839.7,317.8 840.7,317.6 841.7,317.3 842.7,317.0 843.7,316.6 844.7,316.0 845.7,315.3 846.7,314.3 847.7,313.0 848.7,311.4 849.7,309.5 850.7,307.2 851.7,304.5 852.7,301.5 853.7,298.1 854.7,294.5 855.7,290.8 856.7,287.1 857.7,283.6 858.7,280.5 859.7,278.0 860.7,276.3 861.7,275.4 862.7,275.6 863.7,276.7 864.7,278.6 865.7,281.3 866.7,284.5 867.7,288.0 868.7,291.7 869.7,295.3 870.7,298.8 871.7,302.0 872.7,304.9 873.7,307.5 874.7,309.6 875.7,311.4 876.7,312.8 877.7,313.9 878.7,314.8 879.7,315.4 880.7,315.9 881.7,316.3 882.7,316.5 883.7,316.7 884.7,316.8 885.7,316.9 886.7,317.0 887.7,317.0 888.7,317.0 889.7,317.0 890.7,317.1 891.7,317.1 892.7,317.1 893.7,317.1 894.7,317.1 895.7,317.1 896.7,317.1 897.7,317.1 898.7,317.1 899.7,317.1 900.7,317.0 901.7,317.0 902.7,317.0 903.7,317.0 904.7,317.0 905.7,317.0 906.7,317.0 907.7,317.0 908.7,316.9 909.7,316.9 910.7,316.9 911.7,316.9 912.7,316.9 913.7,316.9 914.7,316.9 915.7,316.8 916.7,316.8 917.7,316.8 918.7,316.8 919.7,316.8 920.7,316.7 921.7,316.7 922.7,316.7 923.7,316.7 924.7,316.7 925.7,316.7 926.7,316.6 927.7,316.6 928.7,316.6 929.7,316.6 930.7,316.6 931.7,316.5 932.7,316.5 933.7,316.5 934.7,316.5 935.7,316.5 936.7,316.4 937.7,316.4 938.7,316.4 939.7,316.4 940.7,316.4 941.7,316.3 942.7,316.3 943.7,316.3 944.7,316.3 945.7,316.3 946.7,316.2 947.7,316.2 948.7,316.2 949.7,316.2 950.7,316.1 951.7,316.1 952.7,316.1 953.7,316.1 954.7,316.1 955.7,316.0 956.7,316.0 957.7,316.0 958.7,316.0 959.7,316.0 960.7,315.9 961.7,315.9 962.7,315.9 963.7,315.9 964.7,315.8 965.7,315.8 966.7,315.8 967.7,315.8 968.7,315.8 969.7,315.7 970.7,315.7 971.7,315.7 972.7,315.7 973.7,315.7 974.7,315.6 975.7,315.6 976.7,315.6 977.7,315.6 978.7,315.5 979.7,315.5 980.7,315.5 981.7,315.5 982.7,315.5 983.7,315.4 984.7,315.4 985.7,315.4 986.7,315.4 987.7,315.4 988.7,315.3 989.7,315.3 990.7,315.3 991.7,315.3 992.7,315.2 993.7,315.2 994.7,315.2 995.7,315.2 996.7,315.2 997.7,315.1 998.7,315.1 999.7,315.1 1000.7,315.1 1001.7,315.0 1002.7,315.0 1003.7,315.0 1004.7,315.0 1005.7,315.0 1006.7,314.9 1007.7,314.9 1008.7,314.9 1009.7,314.9 1010.7,314.8 1011.7,314.8 1012.7,314.8 1013.7,314.8 1014.7,314.8 1015.7,314.7 1016.7,314.7 1017.7,314.7 1018.7,314.7 1019.7,314.7 1020.7,314.6 1021.7,314.6 1022.7,314.6 1023.7,314.6 1024.7,314.5 1025.7,314.5 1026.7,314.5 1027.7,314.5 1028.7,314.5 1029.7,314.4 1030.7,314.4 1031.7,314.4 1032.7,314.4 1033.7,314.3 1034.7,314.3 1035.7,314.3 1036.7,314.3 1037.7,314.3 1038.7,314.2 1039.7,314.2 1040.7,314.2 1041.7,314.2 1042.7,314.1 1043.7,314.1 1044.7,314.1 1045.7,314.1 1046.7,314.1 1047.7,314.0 1048.7,314.0 1049.7,314.0 1050.7,314.0 1051.7,313.9 1052.7,313.9 1053.7,313.9 1054.7,313.9 1055.7,313.9 1056.7,313.8 1057.7,313.8 1058.7,313.8 1059.7,313.8 1060.7,313.7 1061.7,313.7 1062.7,313.7 1063.7,313.7 1064.7,313.7 1065.7,313.6 1066.7,313.6 1067.7,313.6 1068.7,313.6 1069.7,313.5 1070.7,313.5 1071.7,313.5 1072.7,313.5 1073.7,313.5 1074.7,313.4 1075.7,313.4 1076.7,313.4 1077.7,313.4 1078.7,313.4 1079.7,313.3 1080.7,313.3 1081.7,313.3 1082.7,313.3 1083.7,313.2 1084.7,313.2" stroke="#a586da" stroke-width="1.8"/>
<polyline points="757.7,320.3 758.7,320.2 759.7,320.2 760.7,320.2 761.7,320.2 762.7,320.1 763.7,320.1 764.7,320.1 765.7,320.1 766.7,320.0 767.7,320.0 768.7,320.0 769.7,320.0 770.7,319.9 771.7,319.9 772.7,319.9 773.7,319.9 774.7,319.8 775.7,319.8 776.7,319.8 777.7,319.7 778.7,319.7 779.7,319.7 780.7,319.7 781.7,319.6 782.7,319.6 783.7,319.6 784.7,319.6 785.7,319.5 786.7,319.5 787.7,319.5 788.7,319.4 789.7,319.4 790.7,319.4 791.7,319.4 792.7,319.3 793.7,319.3 794.7,319.3 795.7,319.2 796.7,319.2 797.7,319.2 798.7,319.2 799.7,319.1 800.7,319.1 801.7,319.1 802.7,319.0 803.7,319.0 804.7,319.0 805.7,318.9 806.7,318.9 807.7,318.9 808.7,318.8 809.7,318.8 810.7,318.8 811.7,318.8 812.7,318.7 813.7,318.7 814.7,318.6 815.7,318.6 816.7,318.6 817.7,318.5 818.7,318.5 819.7,318.5 820.7,318.4 821.7,318.4 822.7,318.4 823.7,318.3 824.7,318.3 825.7,318.2 826.7,318.2 827.7,318.1 828.7,318.1 829.7,318.1 830.7,318.0 831.7,318.0 832.7,317.9 833.7,317.8 834.7,317.8 835.7,317.7 836.7,317.6 837.7,317.6 838.7,317.5 839.7,317.4 840.7,317.3 841.7,317.2 842.7,317.1 843.7,317.0 844.7,316.9 845.7,316.7 846.7,316.6 847.7,316.4 848.7,316.2 849.7,316.0 850.7,315.7 851.7,315.5 852.7,315.2 853.7,314.9 854.7,314.5 855.7,314.2 856.7,313.7 857.7,313.3 858.7,312.8 859.7,312.2 860.7,311.6 861.7,311.0 862.7,310.3 863.7,309.5 864.7,308.7 865.7,307.8 866.7,306.9 867.7,305.8 868.7,304.7 869.7,303.6 870.7,302.3 871.7,301.0 872.7,299.7 873.7,298.2 874.7,296.7 875.7,295.1 876.7,293.5 877.7,291.8 878.7,290.0 879.7,288.2 880.7,286.3 881.7,284.5 882.7,282.5 883.7,280.6 884.7,278.7 885.7,276.7 886.7,274.8 887.7,272.9 888.7,271.0 889.7,269.2 890.7,267.4 891.7,265.7 892.7,264.1 893.7,262.6 894.7,261.2 895.7,259.9 896.7,258.7 897.7,257.8 898.7,256.9 899.7,256.2 900.7,255.7 901.7,255.4 902.7,255.3 903.7,255.3 904.7,255.6 905.7,256.1 906.7,256.9 907.7,257.8 908.7,259.0 909.7,260.3 910.7,261.8 911.7,263.4 912.7,265.2 913.7,267.1 914.7,269.1 915.7,271.1 916.7,273.2 917.7,275.3 918.7,277.5 919.7,279.6 920.7,281.8 921.7,283.9 922.7,286.0 923.7,288.0 924.7,290.0 925.7,291.9 926.7,293.7 927.7,295.5 928.7,297.2 929.7,298.7 930.7,300.2 931.7,301.6 932.7,302.9 933.7,304.1 934.7,305.3 935.7,306.3 936.7,307.3 937.7,308.1 938.7,308.9 939.7,309.6 940.7,310.3 941.7,310.9 942.7,311.4 943.7,311.9 944.7,312.3 945.7,312.7 946.7,313.0 947.7,313.3 948.7,313.5 949.7,313.7 950.7,313.9 951.7,314.1 952.7,314.3 953.7,314.4 954.7,314.5 955.7,314.6 956.7,314.7 957.7,314.7 958.7,314.8 959.7,314.8 960.7,314.9 961.7,314.9 962.7,314.9 963.7,314.9 964.7,315.0 965.7,315.0 966.7,315.0 967.7,315.0 968.7,315.0 969.7,315.0 970.7,315.0 971.7,315.0 972.7,315.0 973.7,315.0 974.7,315.0 975.7,315.0 976.7,315.0 977.7,315.0 978.7,315.0 979.7,315.0 980.7,315.0 981.7,315.0 982.7,315.0 983.7,314.9 984.7,314.9 985.7,314.9 986.7,314.9 987.7,314.9 988.7,314.9 989.7,314.9 990.7,314.9 991.7,314.9 992.7,314.8 993.7,314.8 994.7,314.8 995.7,314.8 996.7,314.8 997.7,314.8 998.7,314.8 999.7,314.7 1000.7,314.7 1001.7,314.7 1002.7,314.7 1003.7,314.7 1004.7,314.7 1005.7,314.6 1006.7,314.6 1007.7,314.6 1008.7,314.6 1009.7,314.6 1010.7,314.6 1011.7,314.5 1012.7,314.5 1013.7,314.5 1014.7,314.5 1015.7,314.5 1016.7,314.5 1017.7,314.4 1018.7,314.4 1019.7,314.4 1020.7,314.4 1021.7,314.4 1022.7,314.4 1023.7,314.3 1024.7,314.3 1025.7,314.3 1026.7,314.3 1027.7,314.3 1028.7,314.2 1029.7,314.2 1030.7,314.2 1031.7,314.2 1032.7,314.2 1033.7,314.2 1034.7,314.1 1035.7,314.1 1036.7,314.1 1037.7,314.1 1038.7,314.1 1039.7,314.0 1040.7,314.0 1041.7,314.0 1042.7,314.0 1043.7,314.0 1044.7,313.9 1045.7,313.9 1046.7,313.9 1047.7,313.9 1048.7,313.9 1049.7,313.8 1050.7,313.8 1051.7,313.8 1052.7,313.8 1053.7,313.8 1054.7,313.7 1055.7,313.7 1056.7,313.7 1057.7,313.7 1058.7,313.7 1059.7,313.6 1060.7,313.6 1061.7,313.6 1062.7,313.6 1063.7,313.6 1064.7,313.5 1065.7,313.5 1066.7,313.5 1067.7,313.5 1068.7,313.5 1069.7,313.4 1070.7,313.4 1071.7,313.4 1072.7,313.4 1073.7,313.3 1074.7,313.3 1075.7,313.3 1076.7,313.3 1077.7,313.3 1078.7,313.2 1079.7,313.2 1080.7,313.2 1081.7,313.2 1082.7,313.2 1083.7,313.1 1084.7,313.1" stroke="#428e6c" stroke-width="2.2"/>
<polyline points="757.7,320.4 758.7,320.4 759.7,320.4 760.7,320.4 761.7,320.4 762.7,320.3 763.7,320.3 764.7,320.3 765.7,320.3 766.7,320.2 767.7,320.2 768.7,320.2 769.7,320.2 770.7,320.2 771.7,320.1 772.7,320.1 773.7,320.1 774.7,320.1 775.7,320.0 776.7,320.0 777.7,320.0 778.7,320.0 779.7,319.9 780.7,319.9 781.7,319.9 782.7,319.9 783.7,319.9 784.7,319.8 785.7,319.8 786.7,319.8 787.7,319.8 788.7,319.7 789.7,319.7 790.7,319.7 791.7,319.7 792.7,319.6 793.7,319.6 794.7,319.6 795.7,319.6 796.7,319.5 797.7,319.5 798.7,319.5 799.7,319.5 800.7,319.4 801.7,319.4 802.7,319.4 803.7,319.4 804.7,319.4 805.7,319.3 806.7,319.3 807.7,319.3 808.7,319.3 809.7,319.2 810.7,319.2 811.7,319.2 812.7,319.1 813.7,319.1 814.7,319.1 815.7,319.1 816.7,319.0 817.7,319.0 818.7,319.0 819.7,319.0 820.7,318.9 821.7,318.9 822.7,318.9 823.7,318.9 824.7,318.8 825.7,318.8 826.7,318.8 827.7,318.7 828.7,318.7 829.7,318.7 830.7,318.6 831.7,318.6 832.7,318.6 833.7,318.5 834.7,318.5 835.7,318.5 836.7,318.4 837.7,318.4 838.7,318.3 839.7,318.3 840.7,318.3 841.7,318.2 842.7,318.2 843.7,318.1 844.7,318.0 845.7,318.0 846.7,317.9 847.7,317.8 848.7,317.7 849.7,317.6 850.7,317.4 851.7,317.2 852.7,316.9 853.7,316.6 854.7,316.0 855.7,315.3 856.7,314.3 857.7,313.0 858.7,311.4 859.7,309.3 860.7,306.8 861.7,303.8 862.7,300.3 863.7,296.5 864.7,292.3 865.7,288.0 866.7,283.8 867.7,279.9 868.7,276.5 869.7,274.0 870.7,272.4 871.7,272.1 872.7,272.9 873.7,274.9 874.7,277.8 875.7,281.4 876.7,285.4 877.7,289.6 878.7,293.8 879.7,297.8 880.7,301.5 881.7,304.7 882.7,307.5 883.7,309.7 884.7,311.6 885.7,313.0 886.7,314.1 887.7,314.9 888.7,315.5 889.7,315.9 890.7,316.2 891.7,316.4 892.7,316.6 893.7,316.7 894.7,316.7 895.7,316.8 896.7,316.8 897.7,316.8 898.7,316.9 899.7,316.9 900.7,316.9 901.7,316.9 902.7,316.9 903.7,316.9 904.7,316.9 905.7,316.9 906.7,316.9 907.7,316.9 908.7,316.9 909.7,316.9 910.7,316.8 911.7,316.8 912.7,316.8 913.7,316.8 914.7,316.8 915.7,316.8 916.7,316.8 917.7,316.8 918.7,316.7 919.7,316.7 920.7,316.7 921.7,316.7 922.7,316.7 923.7,316.7 924.7,316.6 925.7,316.6 926.7,316.6 927.7,316.6 928.7,316.6 929.7,316.6 930.7,316.5 931.7,316.5 932.7,316.5 933.7,316.5 934.7,316.5 935.7,316.4 936.7,316.4 937.7,316.4 938.7,316.4 939.7,316.4 940.7,316.3 941.7,316.3 942.7,316.3 943.7,316.3 944.7,316.3 945.7,316.2 946.7,316.2 947.7,316.2 948.7,316.2 949.7,316.2 950.7,316.1 951.7,316.1 952.7,316.1 953.7,316.1 954.7,316.1 955.7,316.0 956.7,316.0 957.7,316.0 958.7,316.0 959.7,315.9 960.7,315.9 961.7,315.9 962.7,315.9 963.7,315.9 964.7,315.8 965.7,315.8 966.7,315.8 967.7,315.8 968.7,315.8 969.7,315.7 970.7,315.7 971.7,315.7 972.7,315.7 973.7,315.7 974.7,315.6 975.7,315.6 976.7,315.6 977.7,315.6 978.7,315.5 979.7,315.5 980.7,315.5 981.7,315.5 982.7,315.5 983.7,315.4 984.7,315.4 985.7,315.4 986.7,315.4 987.7,315.3 988.7,315.3 989.7,315.3 990.7,315.3 991.7,315.3 992.7,315.2 993.7,315.2 994.7,315.2 995.7,315.2 996.7,315.2 997.7,315.1 998.7,315.1 999.7,315.1 1000.7,315.1 1001.7,315.0 1002.7,315.0 1003.7,315.0 1004.7,315.0 1005.7,315.0 1006.7,314.9 1007.7,314.9 1008.7,314.9 1009.7,314.9 1010.7,314.8 1011.7,314.8 1012.7,314.8 1013.7,314.8 1014.7,314.8 1015.7,314.7 1016.7,314.7 1017.7,314.7 1018.7,314.7 1019.7,314.7 1020.7,314.6 1021.7,314.6 1022.7,314.6 1023.7,314.6 1024.7,314.5 1025.7,314.5 1026.7,314.5 1027.7,314.5 1028.7,314.5 1029.7,314.4 1030.7,314.4 1031.7,314.4 1032.7,314.4 1033.7,314.3 1034.7,314.3 1035.7,314.3 1036.7,314.3 1037.7,314.3 1038.7,314.2 1039.7,314.2 1040.7,314.2 1041.7,314.2 1042.7,314.1 1043.7,314.1 1044.7,314.1 1045.7,314.1 1046.7,314.1 1047.7,314.0 1048.7,314.0 1049.7,314.0 1050.7,314.0 1051.7,313.9 1052.7,313.9 1053.7,313.9 1054.7,313.9 1055.7,313.9 1056.7,313.8 1057.7,313.8 1058.7,313.8 1059.7,313.8 1060.7,313.7 1061.7,313.7 1062.7,313.7 1063.7,313.7 1064.7,313.7 1065.7,313.6 1066.7,313.6 1067.7,313.6 1068.7,313.6 1069.7,313.5 1070.7,313.5 1071.7,313.5 1072.7,313.5 1073.7,313.5 1074.7,313.4 1075.7,313.4 1076.7,313.4 1077.7,313.4 1078.7,313.4 1079.7,313.3 1080.7,313.3 1081.7,313.3 1082.7,313.3 1083.7,313.2 1084.7,313.2" stroke="#c6a236" stroke-width="1.9"/>
<line x1="849.8" y1="318.9" x2="887.0" y2="318.1" stroke="#4480d2" stroke-width="1.5"/>
</g>
<g fill="none" stroke-linejoin="round" stroke-linecap="butt">
<polyline points="757.7,473.3 758.7,473.3 759.7,473.3 760.7,473.3 761.7,473.8 762.7,472.9 763.7,473.1 764.7,473.1 765.7,472.9 766.7,473.2 767.7,473.3 768.7,474.3 769.7,473.7 770.7,473.4 771.7,473.6 772.7,472.9 773.7,472.8 774.7,473.2 775.7,472.9 776.7,472.6 777.7,472.6 778.7,472.3 779.7,473.1 780.7,473.4 781.7,474.1 782.7,473.1 783.7,472.8 784.7,472.6 785.7,472.9 786.7,472.7 787.7,472.9 788.7,472.5 789.7,471.9 790.7,472.9 791.7,472.4 792.7,472.8 793.7,472.4 794.7,472.4 795.7,471.6 796.7,471.6 797.7,472.1 798.7,472.3 799.7,472.1 800.7,472.1 801.7,471.3 802.7,471.7 803.7,471.5 804.7,471.3 805.7,471.8 806.7,471.6 807.7,471.3 808.7,471.4 809.7,471.3 810.7,471.3 811.7,471.5 812.7,471.3 813.7,471.7 814.7,472.1 815.7,471.9 816.7,471.3 817.7,470.9 818.7,471.2 819.7,471.0 820.7,471.5 821.7,471.2 822.7,471.1 823.7,470.6 824.7,470.7 825.7,470.1 826.7,469.7 827.7,470.2 828.7,469.8 829.7,469.8 830.7,470.3 831.7,470.7 832.7,470.1 833.7,469.7 834.7,469.9 835.7,469.9 836.7,469.7 837.7,468.9 838.7,468.6 839.7,468.9 840.7,467.9 841.7,467.8 842.7,467.8 843.7,467.2 844.7,465.7 845.7,464.4 846.7,462.9 847.7,460.6 848.7,458.4 849.7,455.0 850.7,451.7 851.7,446.6 852.7,441.2 853.7,435.1 854.7,428.4 855.7,419.9 856.7,412.8 857.7,404.3 858.7,395.9 859.7,388.1 860.7,379.9 861.7,372.9 862.7,366.6 863.7,361.8 864.7,357.9 865.7,355.2 866.7,353.0 867.7,351.9 868.7,352.7 869.7,354.0 870.7,357.2 871.7,361.3 872.7,365.8 873.7,372.4 874.7,379.1 875.7,386.0 876.7,392.9 877.7,400.5 878.7,407.2 879.7,412.4 880.7,417.2 881.7,421.4 882.7,424.6 883.7,427.8 884.7,429.1 885.7,430.9 886.7,430.4 887.7,430.4 888.7,431.2 889.7,430.6 890.7,429.2 891.7,429.9 892.7,429.0 893.7,427.9 894.7,425.9 895.7,426.0 896.7,425.3 897.7,424.5 898.7,423.8 899.7,422.8 900.7,422.4 901.7,422.8 902.7,423.1 903.7,423.1 904.7,423.2 905.7,423.4 906.7,424.0 907.7,425.3 908.7,425.5 909.7,425.6 910.7,427.2 911.7,428.3 912.7,429.2 913.7,430.5 914.7,432.7 915.7,433.9 916.7,435.5 917.7,436.9 918.7,439.3 919.7,440.5 920.7,442.0 921.7,443.1 922.7,444.7 923.7,447.1 924.7,448.1 925.7,450.2 926.7,451.6 927.7,452.9 928.7,454.1 929.7,455.1 930.7,456.7 931.7,457.5 932.7,457.8 933.7,458.9 934.7,460.5 935.7,460.5 936.7,461.4 937.7,462.1 938.7,463.1 939.7,463.0 940.7,464.2 941.7,463.9 942.7,464.5 943.7,464.4 944.7,465.1 945.7,465.2 946.7,465.0 947.7,465.8 948.7,465.6 949.7,466.3 950.7,465.4 951.7,466.7 952.7,466.6 953.7,467.3 954.7,467.2 955.7,467.0 956.7,466.8 957.7,466.6 958.7,467.1 959.7,466.9 960.7,466.3 961.7,466.6 962.7,467.1 963.7,467.0 964.7,467.1 965.7,467.2 966.7,466.1 967.7,466.7 968.7,467.5 969.7,467.3 970.7,466.9 971.7,466.5 972.7,466.5 973.7,467.5 974.7,466.9 975.7,467.1 976.7,466.9 977.7,467.1 978.7,466.4 979.7,465.9 980.7,466.3 981.7,466.6 982.7,465.6 983.7,466.2 984.7,466.6 985.7,466.5 986.7,466.4 987.7,465.8 988.7,465.9 989.7,465.9 990.7,466.6 991.7,466.6 992.7,466.7 993.7,465.9 994.7,465.7 995.7,466.2 996.7,466.3 997.7,466.7 998.7,466.2 999.7,466.0 1000.7,466.5 1001.7,466.0 1002.7,465.9 1003.7,466.6 1004.7,466.9 1005.7,466.3 1006.7,465.6 1007.7,465.7 1008.7,464.8 1009.7,465.9 1010.7,466.6 1011.7,466.4 1012.7,465.8 1013.7,465.4 1014.7,465.6 1015.7,465.9 1016.7,466.3 1017.7,466.5 1018.7,466.8 1019.7,466.3 1020.7,466.5 1021.7,465.0 1022.7,465.0 1023.7,465.5 1024.7,465.2 1025.7,465.4 1026.7,465.6 1027.7,465.9 1028.7,465.8 1029.7,465.7 1030.7,465.5 1031.7,465.7 1032.7,466.0 1033.7,465.4 1034.7,465.6 1035.7,465.5 1036.7,465.3 1037.7,464.9 1038.7,464.9 1039.7,465.0 1040.7,465.3 1041.7,465.4 1042.7,465.6 1043.7,465.3 1044.7,464.7 1045.7,465.1 1046.7,464.2 1047.7,465.1 1048.7,465.7 1049.7,464.8 1050.7,464.7 1051.7,464.0 1052.7,464.5 1053.7,464.6 1054.7,464.8 1055.7,465.0 1056.7,464.8 1057.7,465.2 1058.7,465.3 1059.7,464.7 1060.7,465.0 1061.7,464.2 1062.7,463.8 1063.7,463.8 1064.7,465.0 1065.7,464.2 1066.7,464.0 1067.7,464.2 1068.7,464.3 1069.7,464.7 1070.7,464.9 1071.7,464.5 1072.7,464.2 1073.7,463.9 1074.7,463.8 1075.7,463.7 1076.7,463.8 1077.7,464.1 1078.7,464.5 1079.7,464.5 1080.7,464.1 1081.7,464.4 1082.7,463.7 1083.7,464.5 1084.7,464.5" stroke="#6e6a58" stroke-width="3.2"/>
<polyline points="757.7,473.7 758.7,473.7 759.7,473.6 760.7,473.6 761.7,473.6 762.7,473.5 763.7,473.5 764.7,473.4 765.7,473.4 766.7,473.4 767.7,473.3 768.7,473.3 769.7,473.3 770.7,473.2 771.7,473.2 772.7,473.2 773.7,473.1 774.7,473.1 775.7,473.1 776.7,473.0 777.7,473.0 778.7,472.9 779.7,472.9 780.7,472.9 781.7,472.8 782.7,472.8 783.7,472.7 784.7,472.7 785.7,472.7 786.7,472.6 787.7,472.6 788.7,472.6 789.7,472.5 790.7,472.5 791.7,472.4 792.7,472.4 793.7,472.3 794.7,472.3 795.7,472.3 796.7,472.2 797.7,472.2 798.7,472.1 799.7,472.1 800.7,472.0 801.7,472.0 802.7,471.9 803.7,471.9 804.7,471.9 805.7,471.8 806.7,471.8 807.7,471.7 808.7,471.7 809.7,471.6 810.7,471.6 811.7,471.5 812.7,471.4 813.7,471.4 814.7,471.3 815.7,471.3 816.7,471.2 817.7,471.2 818.7,471.1 819.7,471.0 820.7,471.0 821.7,470.9 822.7,470.8 823.7,470.7 824.7,470.7 825.7,470.6 826.7,470.5 827.7,470.4 828.7,470.3 829.7,470.2 830.7,470.1 831.7,470.0 832.7,469.9 833.7,469.8 834.7,469.6 835.7,469.5 836.7,469.3 837.7,469.1 838.7,468.9 839.7,468.6 840.7,468.3 841.7,467.9 842.7,467.3 843.7,466.6 844.7,465.7 845.7,464.6 846.7,463.0 847.7,461.0 848.7,458.5 849.7,455.4 850.7,451.6 851.7,447.0 852.7,441.6 853.7,435.4 854.7,428.5 855.7,420.9 856.7,412.8 857.7,404.4 858.7,395.9 859.7,387.6 860.7,379.7 861.7,372.6 862.7,366.5 863.7,361.4 864.7,357.4 865.7,354.6 866.7,352.9 867.7,352.2 868.7,352.7 869.7,354.4 870.7,357.3 871.7,361.5 872.7,366.7 873.7,372.9 874.7,379.6 875.7,386.7 876.7,393.8 877.7,400.7 878.7,407.0 879.7,412.8 880.7,417.7 881.7,421.9 882.7,425.2 883.7,427.7 884.7,429.5 885.7,430.7 886.7,431.3 887.7,431.4 888.7,431.2 889.7,430.8 890.7,430.1 891.7,429.4 892.7,428.5 893.7,427.7 894.7,426.8 895.7,426.0 896.7,425.3 897.7,424.6 898.7,424.1 899.7,423.6 900.7,423.2 901.7,423.0 902.7,422.8 903.7,422.8 904.7,422.9 905.7,423.3 906.7,423.8 907.7,424.4 908.7,425.2 909.7,426.2 910.7,427.3 911.7,428.5 912.7,429.8 913.7,431.2 914.7,432.6 915.7,434.2 916.7,435.7 917.7,437.4 918.7,439.0 919.7,440.6 920.7,442.2 921.7,443.9 922.7,445.4 923.7,447.0 924.7,448.5 925.7,449.9 926.7,451.3 927.7,452.6 928.7,453.9 929.7,455.1 930.7,456.2 931.7,457.3 932.7,458.3 933.7,459.2 934.7,460.0 935.7,460.8 936.7,461.5 937.7,462.1 938.7,462.7 939.7,463.3 940.7,463.7 941.7,464.2 942.7,464.5 943.7,464.9 944.7,465.2 945.7,465.4 946.7,465.7 947.7,465.9 948.7,466.0 949.7,466.2 950.7,466.3 951.7,466.4 952.7,466.5 953.7,466.6 954.7,466.7 955.7,466.7 956.7,466.8 957.7,466.8 958.7,466.8 959.7,466.9 960.7,466.9 961.7,466.9 962.7,466.9 963.7,466.9 964.7,466.9 965.7,466.9 966.7,466.9 967.7,466.9 968.7,466.9 969.7,466.9 970.7,466.8 971.7,466.8 972.7,466.8 973.7,466.8 974.7,466.8 975.7,466.8 976.7,466.8 977.7,466.7 978.7,466.7 979.7,466.7 980.7,466.7 981.7,466.7 982.7,466.7 983.7,466.6 984.7,466.6 985.7,466.6 986.7,466.6 987.7,466.6 988.7,466.5 989.7,466.5 990.7,466.5 991.7,466.5 992.7,466.4 993.7,466.4 994.7,466.4 995.7,466.4 996.7,466.4 997.7,466.3 998.7,466.3 999.7,466.3 1000.7,466.3 1001.7,466.2 1002.7,466.2 1003.7,466.2 1004.7,466.2 1005.7,466.1 1006.7,466.1 1007.7,466.1 1008.7,466.1 1009.7,466.0 1010.7,466.0 1011.7,466.0 1012.7,466.0 1013.7,465.9 1014.7,465.9 1015.7,465.9 1016.7,465.9 1017.7,465.8 1018.7,465.8 1019.7,465.8 1020.7,465.7 1021.7,465.7 1022.7,465.7 1023.7,465.7 1024.7,465.6 1025.7,465.6 1026.7,465.6 1027.7,465.6 1028.7,465.5 1029.7,465.5 1030.7,465.5 1031.7,465.4 1032.7,465.4 1033.7,465.4 1034.7,465.4 1035.7,465.3 1036.7,465.3 1037.7,465.3 1038.7,465.3 1039.7,465.2 1040.7,465.2 1041.7,465.2 1042.7,465.1 1043.7,465.1 1044.7,465.1 1045.7,465.1 1046.7,465.0 1047.7,465.0 1048.7,465.0 1049.7,464.9 1050.7,464.9 1051.7,464.9 1052.7,464.9 1053.7,464.8 1054.7,464.8 1055.7,464.8 1056.7,464.7 1057.7,464.7 1058.7,464.7 1059.7,464.7 1060.7,464.6 1061.7,464.6 1062.7,464.6 1063.7,464.5 1064.7,464.5 1065.7,464.5 1066.7,464.5 1067.7,464.4 1068.7,464.4 1069.7,464.4 1070.7,464.3 1071.7,464.3 1072.7,464.3 1073.7,464.3 1074.7,464.2 1075.7,464.2 1076.7,464.2 1077.7,464.1 1078.7,464.1 1079.7,464.1 1080.7,464.0 1081.7,464.0 1082.7,464.0 1083.7,464.0 1084.7,463.9" stroke="#bf4a5c" stroke-width="2.4"/>
<polyline points="757.7,473.9 758.7,473.9 759.7,473.9 760.7,473.8 761.7,473.8 762.7,473.8 763.7,473.7 764.7,473.7 765.7,473.7 766.7,473.6 767.7,473.6 768.7,473.6 769.7,473.5 770.7,473.5 771.7,473.5 772.7,473.4 773.7,473.4 774.7,473.4 775.7,473.3 776.7,473.3 777.7,473.3 778.7,473.2 779.7,473.2 780.7,473.2 781.7,473.1 782.7,473.1 783.7,473.1 784.7,473.0 785.7,473.0 786.7,473.0 787.7,472.9 788.7,472.9 789.7,472.9 790.7,472.8 791.7,472.8 792.7,472.8 793.7,472.7 794.7,472.7 795.7,472.7 796.7,472.6 797.7,472.6 798.7,472.6 799.7,472.5 800.7,472.5 801.7,472.5 802.7,472.4 803.7,472.4 804.7,472.4 805.7,472.3 806.7,472.3 807.7,472.2 808.7,472.2 809.7,472.2 810.7,472.1 811.7,472.1 812.7,472.1 813.7,472.0 814.7,472.0 815.7,471.9 816.7,471.9 817.7,471.8 818.7,471.8 819.7,471.8 820.7,471.7 821.7,471.7 822.7,471.6 823.7,471.6 824.7,471.5 825.7,471.5 826.7,471.4 827.7,471.4 828.7,471.3 829.7,471.2 830.7,471.2 831.7,471.1 832.7,471.0 833.7,471.0 834.7,470.9 835.7,470.8 836.7,470.7 837.7,470.6 838.7,470.4 839.7,470.2 840.7,470.0 841.7,469.7 842.7,469.3 843.7,468.7 844.7,468.0 845.7,467.0 846.7,465.7 847.7,463.9 848.7,461.7 849.7,459.0 850.7,455.6 851.7,451.6 852.7,447.0 853.7,441.9 854.7,436.2 855.7,430.3 856.7,424.3 857.7,418.6 858.7,413.3 859.7,409.0 860.7,405.8 861.7,404.1 862.7,403.9 863.7,405.4 864.7,408.3 865.7,412.5 866.7,417.6 867.7,423.2 868.7,429.1 869.7,435.0 870.7,440.6 871.7,445.8 872.7,450.5 873.7,454.5 874.7,457.8 875.7,460.6 876.7,462.8 877.7,464.5 878.7,465.8 879.7,466.8 880.7,467.5 881.7,468.0 882.7,468.4 883.7,468.7 884.7,468.8 885.7,469.0 886.7,469.1 887.7,469.1 888.7,469.2 889.7,469.2 890.7,469.2 891.7,469.2 892.7,469.2 893.7,469.3 894.7,469.3 895.7,469.3 896.7,469.3 897.7,469.3 898.7,469.2 899.7,469.2 900.7,469.2 901.7,469.2 902.7,469.2 903.7,469.2 904.7,469.2 905.7,469.2 906.7,469.1 907.7,469.1 908.7,469.1 909.7,469.1 910.7,469.1 911.7,469.0 912.7,469.0 913.7,469.0 914.7,469.0 915.7,469.0 916.7,468.9 917.7,468.9 918.7,468.9 919.7,468.9 920.7,468.8 921.7,468.8 922.7,468.8 923.7,468.8 924.7,468.7 925.7,468.7 926.7,468.7 927.7,468.7 928.7,468.6 929.7,468.6 930.7,468.6 931.7,468.6 932.7,468.5 933.7,468.5 934.7,468.5 935.7,468.5 936.7,468.4 937.7,468.4 938.7,468.4 939.7,468.3 940.7,468.3 941.7,468.3 942.7,468.3 943.7,468.2 944.7,468.2 945.7,468.2 946.7,468.1 947.7,468.1 948.7,468.1 949.7,468.1 950.7,468.0 951.7,468.0 952.7,468.0 953.7,467.9 954.7,467.9 955.7,467.9 956.7,467.9 957.7,467.8 958.7,467.8 959.7,467.8 960.7,467.7 961.7,467.7 962.7,467.7 963.7,467.7 964.7,467.6 965.7,467.6 966.7,467.6 967.7,467.5 968.7,467.5 969.7,467.5 970.7,467.4 971.7,467.4 972.7,467.4 973.7,467.4 974.7,467.3 975.7,467.3 976.7,467.3 977.7,467.2 978.7,467.2 979.7,467.2 980.7,467.2 981.7,467.1 982.7,467.1 983.7,467.1 984.7,467.0 985.7,467.0 986.7,467.0 987.7,466.9 988.7,466.9 989.7,466.9 990.7,466.9 991.7,466.8 992.7,466.8 993.7,466.8 994.7,466.7 995.7,466.7 996.7,466.7 997.7,466.6 998.7,466.6 999.7,466.6 1000.7,466.6 1001.7,466.5 1002.7,466.5 1003.7,466.5 1004.7,466.4 1005.7,466.4 1006.7,466.4 1007.7,466.3 1008.7,466.3 1009.7,466.3 1010.7,466.3 1011.7,466.2 1012.7,466.2 1013.7,466.2 1014.7,466.1 1015.7,466.1 1016.7,466.1 1017.7,466.0 1018.7,466.0 1019.7,466.0 1020.7,466.0 1021.7,465.9 1022.7,465.9 1023.7,465.9 1024.7,465.8 1025.7,465.8 1026.7,465.8 1027.7,465.7 1028.7,465.7 1029.7,465.7 1030.7,465.7 1031.7,465.6 1032.7,465.6 1033.7,465.6 1034.7,465.5 1035.7,465.5 1036.7,465.5 1037.7,465.4 1038.7,465.4 1039.7,465.4 1040.7,465.4 1041.7,465.3 1042.7,465.3 1043.7,465.3 1044.7,465.2 1045.7,465.2 1046.7,465.2 1047.7,465.1 1048.7,465.1 1049.7,465.1 1050.7,465.1 1051.7,465.0 1052.7,465.0 1053.7,465.0 1054.7,464.9 1055.7,464.9 1056.7,464.9 1057.7,464.8 1058.7,464.8 1059.7,464.8 1060.7,464.8 1061.7,464.7 1062.7,464.7 1063.7,464.7 1064.7,464.6 1065.7,464.6 1066.7,464.6 1067.7,464.5 1068.7,464.5 1069.7,464.5 1070.7,464.4 1071.7,464.4 1072.7,464.4 1073.7,464.4 1074.7,464.3 1075.7,464.3 1076.7,464.3 1077.7,464.2 1078.7,464.2 1079.7,464.2 1080.7,464.1 1081.7,464.1 1082.7,464.1 1083.7,464.1 1084.7,464.0" stroke="#a586da" stroke-width="1.8"/>
<polyline points="757.7,473.8 758.7,473.8 759.7,473.7 760.7,473.7 761.7,473.7 762.7,473.6 763.7,473.6 764.7,473.6 765.7,473.5 766.7,473.5 767.7,473.5 768.7,473.4 769.7,473.4 770.7,473.4 771.7,473.3 772.7,473.3 773.7,473.3 774.7,473.2 775.7,473.2 776.7,473.2 777.7,473.1 778.7,473.1 779.7,473.1 780.7,473.0 781.7,473.0 782.7,473.0 783.7,472.9 784.7,472.9 785.7,472.9 786.7,472.8 787.7,472.8 788.7,472.8 789.7,472.7 790.7,472.7 791.7,472.7 792.7,472.6 793.7,472.6 794.7,472.5 795.7,472.5 796.7,472.5 797.7,472.4 798.7,472.4 799.7,472.4 800.7,472.3 801.7,472.3 802.7,472.3 803.7,472.2 804.7,472.2 805.7,472.1 806.7,472.1 807.7,472.1 808.7,472.0 809.7,472.0 810.7,472.0 811.7,471.9 812.7,471.9 813.7,471.8 814.7,471.8 815.7,471.8 816.7,471.7 817.7,471.7 818.7,471.6 819.7,471.6 820.7,471.5 821.7,471.5 822.7,471.5 823.7,471.4 824.7,471.4 825.7,471.3 826.7,471.3 827.7,471.2 828.7,471.2 829.7,471.1 830.7,471.1 831.7,471.0 832.7,471.0 833.7,470.9 834.7,470.8 835.7,470.8 836.7,470.7 837.7,470.6 838.7,470.5 839.7,470.5 840.7,470.4 841.7,470.3 842.7,470.2 843.7,470.1 844.7,469.9 845.7,469.8 846.7,469.7 847.7,469.5 848.7,469.3 849.7,469.1 850.7,468.9 851.7,468.7 852.7,468.5 853.7,468.2 854.7,467.9 855.7,467.6 856.7,467.3 857.7,466.9 858.7,466.5 859.7,466.0 860.7,465.6 861.7,465.0 862.7,464.5 863.7,463.9 864.7,463.3 865.7,462.6 866.7,461.8 867.7,461.1 868.7,460.2 869.7,459.4 870.7,458.4 871.7,457.5 872.7,456.5 873.7,455.4 874.7,454.3 875.7,453.1 876.7,451.9 877.7,450.7 878.7,449.4 879.7,448.1 880.7,446.8 881.7,445.4 882.7,444.0 883.7,442.6 884.7,441.2 885.7,439.8 886.7,438.4 887.7,437.1 888.7,435.7 889.7,434.4 890.7,433.1 891.7,431.9 892.7,430.7 893.7,429.6 894.7,428.6 895.7,427.6 896.7,426.7 897.7,426.0 898.7,425.3 899.7,424.8 900.7,424.3 901.7,424.0 902.7,423.8 903.7,423.7 904.7,423.8 905.7,424.1 906.7,424.5 907.7,425.2 908.7,425.9 909.7,426.9 910.7,427.9 911.7,429.1 912.7,430.4 913.7,431.7 914.7,433.2 915.7,434.7 916.7,436.3 917.7,437.8 918.7,439.5 919.7,441.1 920.7,442.7 921.7,444.3 922.7,445.8 923.7,447.4 924.7,448.9 925.7,450.3 926.7,451.7 927.7,453.0 928.7,454.2 929.7,455.4 930.7,456.5 931.7,457.6 932.7,458.6 933.7,459.5 934.7,460.3 935.7,461.1 936.7,461.8 937.7,462.4 938.7,463.0 939.7,463.5 940.7,464.0 941.7,464.4 942.7,464.8 943.7,465.1 944.7,465.4 945.7,465.6 946.7,465.9 947.7,466.1 948.7,466.2 949.7,466.4 950.7,466.5 951.7,466.6 952.7,466.7 953.7,466.8 954.7,466.8 955.7,466.9 956.7,466.9 957.7,467.0 958.7,467.0 959.7,467.0 960.7,467.0 961.7,467.0 962.7,467.0 963.7,467.0 964.7,467.0 965.7,467.0 966.7,467.0 967.7,467.0 968.7,467.0 969.7,467.0 970.7,467.0 971.7,467.0 972.7,466.9 973.7,466.9 974.7,466.9 975.7,466.9 976.7,466.9 977.7,466.8 978.7,466.8 979.7,466.8 980.7,466.8 981.7,466.8 982.7,466.7 983.7,466.7 984.7,466.7 985.7,466.7 986.7,466.7 987.7,466.6 988.7,466.6 989.7,466.6 990.7,466.6 991.7,466.5 992.7,466.5 993.7,466.5 994.7,466.5 995.7,466.5 996.7,466.4 997.7,466.4 998.7,466.4 999.7,466.4 1000.7,466.3 1001.7,466.3 1002.7,466.3 1003.7,466.3 1004.7,466.2 1005.7,466.2 1006.7,466.2 1007.7,466.1 1008.7,466.1 1009.7,466.1 1010.7,466.1 1011.7,466.0 1012.7,466.0 1013.7,466.0 1014.7,466.0 1015.7,465.9 1016.7,465.9 1017.7,465.9 1018.7,465.9 1019.7,465.8 1020.7,465.8 1021.7,465.8 1022.7,465.7 1023.7,465.7 1024.7,465.7 1025.7,465.7 1026.7,465.6 1027.7,465.6 1028.7,465.6 1029.7,465.5 1030.7,465.5 1031.7,465.5 1032.7,465.5 1033.7,465.4 1034.7,465.4 1035.7,465.4 1036.7,465.4 1037.7,465.3 1038.7,465.3 1039.7,465.3 1040.7,465.2 1041.7,465.2 1042.7,465.2 1043.7,465.2 1044.7,465.1 1045.7,465.1 1046.7,465.1 1047.7,465.0 1048.7,465.0 1049.7,465.0 1050.7,465.0 1051.7,464.9 1052.7,464.9 1053.7,464.9 1054.7,464.8 1055.7,464.8 1056.7,464.8 1057.7,464.8 1058.7,464.7 1059.7,464.7 1060.7,464.7 1061.7,464.6 1062.7,464.6 1063.7,464.6 1064.7,464.5 1065.7,464.5 1066.7,464.5 1067.7,464.5 1068.7,464.4 1069.7,464.4 1070.7,464.4 1071.7,464.3 1072.7,464.3 1073.7,464.3 1074.7,464.3 1075.7,464.2 1076.7,464.2 1077.7,464.2 1078.7,464.1 1079.7,464.1 1080.7,464.1 1081.7,464.0 1082.7,464.0 1083.7,464.0 1084.7,464.0" stroke="#428e6c" stroke-width="2.2"/>
<polyline points="757.7,473.9 758.7,473.9 759.7,473.9 760.7,473.8 761.7,473.8 762.7,473.8 763.7,473.7 764.7,473.7 765.7,473.7 766.7,473.6 767.7,473.6 768.7,473.6 769.7,473.5 770.7,473.5 771.7,473.5 772.7,473.4 773.7,473.4 774.7,473.4 775.7,473.4 776.7,473.3 777.7,473.3 778.7,473.3 779.7,473.2 780.7,473.2 781.7,473.2 782.7,473.1 783.7,473.1 784.7,473.1 785.7,473.0 786.7,473.0 787.7,473.0 788.7,472.9 789.7,472.9 790.7,472.9 791.7,472.8 792.7,472.8 793.7,472.8 794.7,472.7 795.7,472.7 796.7,472.7 797.7,472.6 798.7,472.6 799.7,472.6 800.7,472.5 801.7,472.5 802.7,472.5 803.7,472.4 804.7,472.4 805.7,472.4 806.7,472.3 807.7,472.3 808.7,472.3 809.7,472.2 810.7,472.2 811.7,472.1 812.7,472.1 813.7,472.1 814.7,472.0 815.7,472.0 816.7,472.0 817.7,471.9 818.7,471.9 819.7,471.8 820.7,471.8 821.7,471.8 822.7,471.7 823.7,471.7 824.7,471.6 825.7,471.6 826.7,471.6 827.7,471.5 828.7,471.5 829.7,471.4 830.7,471.4 831.7,471.3 832.7,471.3 833.7,471.2 834.7,471.2 835.7,471.1 836.7,471.1 837.7,471.0 838.7,470.9 839.7,470.9 840.7,470.8 841.7,470.7 842.7,470.6 843.7,470.6 844.7,470.5 845.7,470.3 846.7,470.2 847.7,470.1 848.7,469.9 849.7,469.6 850.7,469.3 851.7,468.9 852.7,468.3 853.7,467.5 854.7,466.4 855.7,465.0 856.7,463.2 857.7,460.8 858.7,457.9 859.7,454.3 860.7,450.1 861.7,445.1 862.7,439.6 863.7,433.6 864.7,427.3 865.7,420.9 866.7,414.7 867.7,409.2 868.7,404.5 869.7,401.2 870.7,399.3 871.7,399.2 872.7,400.7 873.7,403.9 874.7,408.3 875.7,413.8 876.7,419.8 877.7,426.1 878.7,432.4 879.7,438.4 880.7,443.9 881.7,448.9 882.7,453.1 883.7,456.7 884.7,459.7 885.7,462.0 886.7,463.9 887.7,465.3 888.7,466.3 889.7,467.1 890.7,467.6 891.7,468.0 892.7,468.3 893.7,468.5 894.7,468.6 895.7,468.7 896.7,468.8 897.7,468.8 898.7,468.9 899.7,468.9 900.7,468.9 901.7,468.9 902.7,468.9 903.7,468.9 904.7,469.0 905.7,469.0 906.7,468.9 907.7,468.9 908.7,468.9 909.7,468.9 910.7,468.9 911.7,468.9 912.7,468.9 913.7,468.9 914.7,468.9 915.7,468.9 916.7,468.8 917.7,468.8 918.7,468.8 919.7,468.8 920.7,468.8 921.7,468.7 922.7,468.7 923.7,468.7 924.7,468.7 925.7,468.7 926.7,468.6 927.7,468.6 928.7,468.6 929.7,468.6 930.7,468.5 931.7,468.5 932.7,468.5 933.7,468.5 934.7,468.4 935.7,468.4 936.7,468.4 937.7,468.4 938.7,468.3 939.7,468.3 940.7,468.3 941.7,468.3 942.7,468.2 943.7,468.2 944.7,468.2 945.7,468.1 946.7,468.1 947.7,468.1 948.7,468.1 949.7,468.0 950.7,468.0 951.7,468.0 952.7,467.9 953.7,467.9 954.7,467.9 955.7,467.9 956.7,467.8 957.7,467.8 958.7,467.8 959.7,467.8 960.7,467.7 961.7,467.7 962.7,467.7 963.7,467.6 964.7,467.6 965.7,467.6 966.7,467.5 967.7,467.5 968.7,467.5 969.7,467.5 970.7,467.4 971.7,467.4 972.7,467.4 973.7,467.3 974.7,467.3 975.7,467.3 976.7,467.3 977.7,467.2 978.7,467.2 979.7,467.2 980.7,467.1 981.7,467.1 982.7,467.1 983.7,467.1 984.7,467.0 985.7,467.0 986.7,467.0 987.7,466.9 988.7,466.9 989.7,466.9 990.7,466.8 991.7,466.8 992.7,466.8 993.7,466.8 994.7,466.7 995.7,466.7 996.7,466.7 997.7,466.6 998.7,466.6 999.7,466.6 1000.7,466.5 1001.7,466.5 1002.7,466.5 1003.7,466.5 1004.7,466.4 1005.7,466.4 1006.7,466.4 1007.7,466.3 1008.7,466.3 1009.7,466.3 1010.7,466.3 1011.7,466.2 1012.7,466.2 1013.7,466.2 1014.7,466.1 1015.7,466.1 1016.7,466.1 1017.7,466.0 1018.7,466.0 1019.7,466.0 1020.7,466.0 1021.7,465.9 1022.7,465.9 1023.7,465.9 1024.7,465.8 1025.7,465.8 1026.7,465.8 1027.7,465.7 1028.7,465.7 1029.7,465.7 1030.7,465.7 1031.7,465.6 1032.7,465.6 1033.7,465.6 1034.7,465.5 1035.7,465.5 1036.7,465.5 1037.7,465.4 1038.7,465.4 1039.7,465.4 1040.7,465.4 1041.7,465.3 1042.7,465.3 1043.7,465.3 1044.7,465.2 1045.7,465.2 1046.7,465.2 1047.7,465.1 1048.7,465.1 1049.7,465.1 1050.7,465.0 1051.7,465.0 1052.7,465.0 1053.7,465.0 1054.7,464.9 1055.7,464.9 1056.7,464.9 1057.7,464.8 1058.7,464.8 1059.7,464.8 1060.7,464.7 1061.7,464.7 1062.7,464.7 1063.7,464.7 1064.7,464.6 1065.7,464.6 1066.7,464.6 1067.7,464.5 1068.7,464.5 1069.7,464.5 1070.7,464.4 1071.7,464.4 1072.7,464.4 1073.7,464.4 1074.7,464.3 1075.7,464.3 1076.7,464.3 1077.7,464.2 1078.7,464.2 1079.7,464.2 1080.7,464.1 1081.7,464.1 1082.7,464.1 1083.7,464.1 1084.7,464.0" stroke="#c6a236" stroke-width="1.9"/>
<line x1="849.9" y1="471.7" x2="884.4" y2="470.6" stroke="#4480d2" stroke-width="1.5"/>
</g>
<rect x="756.7" y="24.4" width="329.20000000000005" height="455.5" fill="none" stroke="#1c1c1c" stroke-width="2"/>
<line x1="756.7" y1="175.6" x2="1085.9" y2="175.6" stroke="#1c1c1c" stroke-width="1.8"/>
<line x1="756.7" y1="327.6" x2="1085.9" y2="327.6" stroke="#1c1c1c" stroke-width="1.8"/>
<line x1="756.7" y1="479.9" x2="756.7" y2="482.7" stroke="#1c1c1c" stroke-width="1.6"/>
<line x1="778.6" y1="479.9" x2="778.6" y2="484.4" stroke="#1c1c1c" stroke-width="1.6"/>
<line x1="800.6" y1="479.9" x2="800.6" y2="482.7" stroke="#1c1c1c" stroke-width="1.6"/>
<line x1="822.5" y1="479.9" x2="822.5" y2="484.4" stroke="#1c1c1c" stroke-width="1.6"/>
<line x1="844.5" y1="479.9" x2="844.5" y2="482.7" stroke="#1c1c1c" stroke-width="1.6"/>
<line x1="866.4" y1="479.9" x2="866.4" y2="484.4" stroke="#1c1c1c" stroke-width="1.6"/>
<line x1="888.4" y1="479.9" x2="888.4" y2="482.7" stroke="#1c1c1c" stroke-width="1.6"/>
<line x1="910.3" y1="479.9" x2="910.3" y2="484.4" stroke="#1c1c1c" stroke-width="1.6"/>
<line x1="932.3" y1="479.9" x2="932.3" y2="482.7" stroke="#1c1c1c" stroke-width="1.6"/>
<line x1="954.2" y1="479.9" x2="954.2" y2="484.4" stroke="#1c1c1c" stroke-width="1.6"/>
<line x1="976.2" y1="479.9" x2="976.2" y2="482.7" stroke="#1c1c1c" stroke-width="1.6"/>
<line x1="998.1" y1="479.9" x2="998.1" y2="484.4" stroke="#1c1c1c" stroke-width="1.6"/>
<line x1="1020.1" y1="479.9" x2="1020.1" y2="482.7" stroke="#1c1c1c" stroke-width="1.6"/>
<line x1="1042.0" y1="479.9" x2="1042.0" y2="484.4" stroke="#1c1c1c" stroke-width="1.6"/>
<line x1="1064.0" y1="479.9" x2="1064.0" y2="482.7" stroke="#1c1c1c" stroke-width="1.6"/>
<line x1="1085.9" y1="479.9" x2="1085.9" y2="484.4" stroke="#1c1c1c" stroke-width="1.6"/>
<text x="0" y="0" font-size="22" fill="#5a5a5a" text-anchor="middle" transform="translate(778.65,504.00) scale(0.94,1)">526</text>
<text x="0" y="0" font-size="22" fill="#5a5a5a" text-anchor="middle" transform="translate(822.54,504.00) scale(0.94,1)">528</text>
<text x="0" y="0" font-size="22" fill="#5a5a5a" text-anchor="middle" transform="translate(866.43,504.00) scale(0.94,1)">530</text>
<text x="0" y="0" font-size="22" fill="#5a5a5a" text-anchor="middle" transform="translate(910.33,504.00) scale(0.94,1)">532</text>
<text x="0" y="0" font-size="22" fill="#5a5a5a" text-anchor="middle" transform="translate(954.22,504.00) scale(0.94,1)">534</text>
<text x="0" y="0" font-size="22" fill="#5a5a5a" text-anchor="middle" transform="translate(998.11,504.00) scale(0.94,1)">536</text>
<text x="0" y="0" font-size="22" fill="#5a5a5a" text-anchor="middle" transform="translate(1042.01,504.00) scale(0.94,1)">538</text>
<text x="0" y="0" font-size="22" fill="#5a5a5a" text-anchor="middle" transform="translate(1085.90,504.00) scale(0.94,1)">540</text>
<g fill="none" stroke-linejoin="round" stroke-linecap="butt">
<polyline points="40.1,815.9 41.1,815.9 42.1,815.9 43.1,815.9 44.1,815.9 45.1,815.9 46.1,815.9 47.1,815.9 48.1,815.9 49.1,815.9 50.1,815.9 51.1,815.9 52.1,815.9 53.1,815.9 54.1,815.9 55.1,815.9 56.1,815.9 57.1,815.9 58.1,815.9 59.1,815.9 60.1,815.9 61.1,815.9 62.1,815.9 63.1,815.9 64.1,815.9 65.1,815.9 66.1,815.9 67.1,815.9 68.1,815.9 69.1,815.9 70.1,815.9 71.1,815.9 72.1,815.9 73.1,815.9 74.1,815.9 75.1,815.9 76.1,815.9 77.1,815.9 78.1,815.9 79.1,815.9 80.1,815.9 81.1,815.9 82.1,815.9 83.1,815.9 84.1,815.9 85.1,815.9 86.1,815.9 87.1,815.9 88.1,815.9 89.1,815.9 90.1,815.9 91.1,815.9 92.1,815.9 93.1,815.9 94.1,815.9 95.1,815.9 96.1,815.9 97.1,815.9 98.1,815.9 99.1,815.9 100.1,815.9 101.1,815.9 102.1,815.9 103.1,815.9 104.1,815.9 105.1,815.8 106.1,815.8 107.1,815.8 108.1,815.8 109.1,815.8 110.1,815.8 111.1,815.8 112.1,815.8 113.1,815.8 114.1,815.8 115.1,815.8 116.1,815.7 117.1,815.7 118.1,815.7 119.1,815.7 120.1,815.7 121.1,815.7 122.1,815.6 123.1,815.6 124.1,815.6 125.1,815.5 126.1,815.5 127.1,815.5 128.1,815.4 129.1,815.3 130.1,815.3 131.1,815.2 132.1,815.1 133.1,814.9 134.1,814.8 135.1,814.6 136.1,814.4 137.1,814.2 138.1,813.9 139.1,813.6 140.1,813.2 141.1,812.7 142.1,812.2 143.1,811.6 144.1,810.9 145.1,810.1 146.1,809.2 147.1,808.2 148.1,807.1 149.1,805.8 150.1,804.4 151.1,802.8 152.1,801.1 153.1,799.3 154.1,797.2 155.1,795.1 156.1,792.8 157.1,790.3 158.1,787.7 159.1,785.0 160.1,782.2 161.1,779.3 162.1,776.3 163.1,773.3 164.1,770.3 165.1,767.3 166.1,764.4 167.1,761.6 168.1,758.9 169.1,756.3 170.1,754.0 171.1,751.8 172.1,750.0 173.1,748.5 174.1,747.2 175.1,746.4 176.1,745.8 177.1,745.7 178.1,746.0 179.1,746.6 180.1,747.6 181.1,748.9 182.1,750.5 183.1,752.4 184.1,754.6 185.1,757.1 186.1,759.7 187.1,762.4 188.1,765.3 189.1,768.2 190.1,771.2 191.1,774.3 192.1,777.3 193.1,780.2 194.1,783.1 195.1,785.9 196.1,788.6 197.1,791.1 198.1,793.6 199.1,795.8 200.1,798.0 201.1,799.9 202.1,801.8 203.1,803.4 204.1,804.9 205.1,806.3 206.1,807.6 207.1,808.7 208.1,809.7 209.1,810.5 210.1,811.3 211.1,812.0 212.1,812.6 213.1,813.1 214.1,813.5 215.1,813.9 216.1,814.2 217.1,814.5 218.1,814.7 219.1,814.9 220.1,815.1 221.1,815.2 222.1,815.4 223.1,815.5 224.1,815.6 225.1,815.6 226.1,815.7 227.1,815.8 228.1,815.8 229.1,815.9 230.1,815.9 231.1,815.9 232.1,816.0 233.1,816.0 234.1,816.0 235.1,816.0 236.1,816.1 237.1,816.1 238.1,816.1 239.1,816.1 240.1,816.1 241.1,816.2 242.1,816.2 243.1,816.2 244.1,816.2 245.1,816.2 246.1,816.2 247.1,816.3 248.1,816.3 249.1,816.3 250.1,816.3 251.1,816.3 252.1,816.3 253.1,816.3 254.1,816.3 255.1,816.3 256.1,816.4 257.1,816.4 258.1,816.4 259.1,816.4 260.1,816.4 261.1,816.4 262.1,816.4 263.1,816.4 264.1,816.4 265.1,816.4 266.1,816.4 267.1,816.5 268.1,816.5 269.1,816.5 270.1,816.5 271.1,816.5 272.1,816.5 273.1,816.5 274.1,816.5 275.1,816.5 276.1,816.5 277.1,816.5 278.1,816.5 279.1,816.5 280.1,816.5 281.1,816.5 282.1,816.6 283.1,816.6 284.1,816.6 285.1,816.6 286.1,816.6 287.1,816.6 288.1,816.6 289.1,816.6 290.1,816.6 291.1,816.6 292.1,816.6 293.1,816.6 294.1,816.6 295.1,816.6 296.1,816.6 297.1,816.6 298.1,816.6 299.1,816.6 300.1,816.7 301.1,816.7 302.1,816.7 303.1,816.7 304.1,816.7 305.1,816.7 306.1,816.7 307.1,816.7 308.1,816.7 309.1,816.7 310.1,816.7 311.1,816.7 312.1,816.7 313.1,816.7 314.1,816.7 315.1,816.7 316.1,816.7 317.1,816.7 318.1,816.7 319.1,816.7 320.1,816.7 321.1,816.7 322.1,816.8 323.1,816.8 324.1,816.8 325.1,816.8 326.1,816.8 327.1,816.8 328.1,816.8 329.1,816.8 330.1,816.8 331.1,816.8 332.1,816.8 333.1,816.8 334.1,816.8 335.1,816.8 336.1,816.8 337.1,816.8 338.1,816.8 339.1,816.8 340.1,816.8 341.1,816.8 342.1,816.8 343.1,816.8 344.1,816.8 345.1,816.8 346.1,816.8 347.1,816.9 348.1,816.9 349.1,816.9 350.1,816.9 351.1,816.9 352.1,816.9 353.1,816.9 354.1,816.9 355.1,816.9 356.1,816.9 357.1,816.9 358.1,816.9 359.1,816.9 360.1,816.9 361.1,816.9 362.1,816.9 363.1,816.9 364.1,816.9 365.1,816.9 366.1,816.9 367.1,816.9 368.1,816.9 369.1,816.9 370.1,816.9 371.1,816.9 372.1,816.9 373.1,816.9" stroke="#428e6c" stroke-width="3.2"/>
<line x1="134.8" y1="816.8" x2="221.6" y2="817.0" stroke="#4480d2" stroke-width="1.5"/>
<polyline points="40.1,813.5 41.1,815.8 42.1,817.9 43.1,815.6 44.1,813.1 45.1,814.8 46.1,816.5 47.1,818.3 48.1,814.3 49.1,812.8 50.1,816.2 51.1,817.0 52.1,819.4 53.1,819.1 54.1,816.8 55.1,815.7 56.1,821.0 57.1,817.1 58.1,814.8 59.1,813.2 60.1,815.2 61.1,816.0 62.1,815.2 63.1,815.6 64.1,816.3 65.1,817.5 66.1,818.7 67.1,817.3 68.1,812.8 69.1,816.2 70.1,813.2 71.1,814.6 72.1,812.5 73.1,814.7 74.1,814.0 75.1,815.7 76.1,822.4 77.1,818.1 78.1,818.4 79.1,814.1 80.1,814.7 81.1,816.8 82.1,816.1 83.1,816.7 84.1,816.4 85.1,814.1 86.1,816.4 87.1,814.5 88.1,819.1 89.1,816.0 90.1,817.3 91.1,816.4 92.1,818.0 93.1,815.4 94.1,817.7 95.1,816.3 96.1,818.6 97.1,818.1 98.1,816.9 99.1,814.7 100.1,817.0 101.1,817.2 102.1,819.6 103.1,816.4 104.1,817.2 105.1,817.3 106.1,816.9 107.1,816.6 108.1,816.5 109.1,814.8 110.1,813.4 111.1,814.2 112.1,816.4 113.1,819.0 114.1,818.9 115.1,818.9 116.1,818.4 117.1,818.1 118.1,816.9 119.1,817.7 120.1,819.9 121.1,816.5 122.1,814.5 123.1,819.1 124.1,817.3 125.1,818.1 126.1,818.1 127.1,814.1 128.1,819.8 129.1,820.4 130.1,817.4 131.1,817.4 132.1,816.1 133.1,813.5 134.1,814.1 135.1,815.1 136.1,816.8 137.1,816.4 138.1,814.8 139.1,816.6 140.1,812.7 141.1,814.1 142.1,814.9 143.1,812.0 144.1,807.4 145.1,807.1 146.1,808.6 147.1,809.0 148.1,810.5 149.1,805.0 150.1,804.1 151.1,804.0 152.1,801.2 153.1,794.6 154.1,797.2 155.1,799.7 156.1,796.4 157.1,789.7 158.1,786.7 159.1,785.1 160.1,787.2 161.1,782.3 162.1,777.6 163.1,776.9 164.1,771.4 165.1,771.4 166.1,764.5 167.1,760.7 168.1,760.0 169.1,759.6 170.1,756.4 171.1,753.3 172.1,746.9 173.1,745.9 174.1,745.1 175.1,744.6 176.1,746.4 177.1,745.2 178.1,747.4 179.1,747.2 180.1,747.1 181.1,749.0 182.1,751.4 183.1,754.5 184.1,754.4 185.1,756.5 186.1,756.7 187.1,764.6 188.1,769.0 189.1,769.2 190.1,770.6 191.1,771.6 192.1,776.7 193.1,780.4 194.1,787.5 195.1,787.9 196.1,787.7 197.1,785.9 198.1,794.6 199.1,796.6 200.1,795.0 201.1,799.3 202.1,798.3 203.1,809.2 204.1,809.2 205.1,809.0 206.1,808.1 207.1,804.6 208.1,808.0 209.1,806.8 210.1,811.2 211.1,807.7 212.1,809.2 213.1,814.3 214.1,817.2 215.1,812.8 216.1,810.8 217.1,815.0 218.1,816.6 219.1,813.6 220.1,813.3 221.1,813.2 222.1,812.3 223.1,813.0 224.1,817.2 225.1,817.6 226.1,820.5 227.1,817.3 228.1,816.1 229.1,814.0 230.1,815.0 231.1,813.0 232.1,811.4 233.1,815.8 234.1,818.8 235.1,818.7 236.1,819.7 237.1,817.9 238.1,815.3 239.1,816.0 240.1,815.4 241.1,813.7 242.1,811.9 243.1,811.7 244.1,814.6 245.1,816.0 246.1,815.2 247.1,818.7 248.1,817.5 249.1,817.9 250.1,819.3 251.1,815.7 252.1,812.2 253.1,816.4 254.1,815.0 255.1,818.5 256.1,817.8 257.1,818.9 258.1,818.8 259.1,813.1 260.1,816.7 261.1,815.2 262.1,814.5 263.1,814.9 264.1,817.4 265.1,818.6 266.1,819.2 267.1,814.1 268.1,814.5 269.1,811.0 270.1,814.4 271.1,816.9 272.1,815.1 273.1,816.5 274.1,817.0 275.1,818.7 276.1,815.6 277.1,814.6 278.1,814.3 279.1,819.3 280.1,819.7 281.1,817.4 282.1,817.3 283.1,817.1 284.1,817.1 285.1,816.4 286.1,815.8 287.1,813.8 288.1,814.3 289.1,819.1 290.1,818.6 291.1,817.4 292.1,816.5 293.1,816.7 294.1,817.4 295.1,815.6 296.1,816.7 297.1,817.1 298.1,815.3 299.1,814.6 300.1,813.9 301.1,813.6 302.1,817.4 303.1,812.2 304.1,814.6 305.1,814.7 306.1,814.8 307.1,816.2 308.1,818.8 309.1,817.6 310.1,816.7 311.1,815.5 312.1,816.0 313.1,818.3 314.1,816.5 315.1,814.3 316.1,813.4 317.1,813.3 318.1,812.8 319.1,817.6 320.1,817.7 321.1,816.6 322.1,819.6 323.1,816.4 324.1,818.2 325.1,818.9 326.1,814.4 327.1,812.8 328.1,813.5 329.1,817.5 330.1,819.6 331.1,815.3 332.1,818.4 333.1,816.6 334.1,815.9 335.1,815.4 336.1,815.7 337.1,812.8 338.1,813.4 339.1,813.2 340.1,816.5 341.1,820.9 342.1,823.7 343.1,818.6 344.1,814.0 345.1,815.0 346.1,814.3 347.1,819.9 348.1,819.1 349.1,816.2 350.1,818.5 351.1,818.5 352.1,814.2 353.1,814.9 354.1,815.7 355.1,816.5 356.1,817.0 357.1,816.3 358.1,817.1 359.1,815.8 360.1,814.7 361.1,819.2 362.1,818.4 363.1,818.3 364.1,814.2 365.1,815.6 366.1,818.1 367.1,814.8 368.1,818.4 369.1,816.7 370.1,817.6 371.1,816.9 372.1,817.4 373.1,819.5" stroke="#3e3e3e" stroke-width="1.7" opacity="0.92"/>
</g>
<g fill="none" stroke-linejoin="round" stroke-linecap="butt">
<polyline points="40.1,978.5 41.1,978.5 42.1,978.5 43.1,978.4 44.1,978.4 45.1,978.4 46.1,978.4 47.1,978.4 48.1,978.4 49.1,978.3 50.1,978.3 51.1,978.3 52.1,978.3 53.1,978.3 54.1,978.3 55.1,978.2 56.1,978.2 57.1,978.2 58.1,978.2 59.1,978.2 60.1,978.2 61.1,978.1 62.1,978.1 63.1,978.1 64.1,978.1 65.1,978.1 66.1,978.1 67.1,978.0 68.1,978.0 69.1,978.0 70.1,978.0 71.1,978.0 72.1,978.0 73.1,977.9 74.1,977.9 75.1,977.9 76.1,977.9 77.1,977.9 78.1,977.9 79.1,977.8 80.1,977.8 81.1,977.8 82.1,977.8 83.1,977.8 84.1,977.8 85.1,977.7 86.1,977.7 87.1,977.7 88.1,977.7 89.1,977.7 90.1,977.7 91.1,977.6 92.1,977.6 93.1,977.6 94.1,977.6 95.1,977.6 96.1,977.6 97.1,977.5 98.1,977.5 99.1,977.5 100.1,977.5 101.1,977.5 102.1,977.5 103.1,977.4 104.1,977.4 105.1,977.4 106.1,977.3 107.1,977.3 108.1,977.3 109.1,977.2 110.1,977.1 111.1,977.0 112.1,976.9 113.1,976.8 114.1,976.7 115.1,976.5 116.1,976.3 117.1,976.1 118.1,975.9 119.1,975.6 120.1,975.3 121.1,974.9 122.1,974.5 123.1,974.1 124.1,973.6 125.1,973.1 126.1,972.5 127.1,971.9 128.1,971.3 129.1,970.7 130.1,970.0 131.1,969.3 132.1,968.6 133.1,967.9 134.1,967.2 135.1,966.5 136.1,965.8 137.1,965.1 138.1,964.4 139.1,963.8 140.1,963.1 141.1,962.5 142.1,962.0 143.1,961.4 144.1,960.9 145.1,960.5 146.1,960.0 147.1,959.6 148.1,959.3 149.1,958.9 150.1,958.6 151.1,958.4 152.1,958.1 153.1,957.9 154.1,957.7 155.1,957.6 156.1,957.5 157.1,957.4 158.1,957.3 159.1,957.2 160.1,957.1 161.1,957.1 162.1,957.0 163.1,957.0 164.1,957.0 165.1,956.9 166.1,956.9 167.1,956.9 168.1,956.9 169.1,956.9 170.1,956.9 171.1,956.8 172.1,956.8 173.1,956.8 174.1,956.8 175.1,956.8 176.1,956.8 177.1,956.8 178.1,956.8 179.1,956.9 180.1,956.9 181.1,957.0 182.1,957.0 183.1,957.1 184.1,957.2 185.1,957.4 186.1,957.6 187.1,957.8 188.1,958.0 189.1,958.3 190.1,958.5 191.1,958.9 192.1,959.2 193.1,959.6 194.1,960.1 195.1,960.5 196.1,961.1 197.1,961.6 198.1,962.2 199.1,962.7 200.1,963.4 201.1,964.0 202.1,964.7 203.1,965.3 204.1,966.0 205.1,966.7 206.1,967.4 207.1,968.0 208.1,968.7 209.1,969.3 210.1,969.9 211.1,970.5 212.1,971.1 213.1,971.6 214.1,972.1 215.1,972.5 216.1,972.9 217.1,973.3 218.1,973.6 219.1,973.9 220.1,974.2 221.1,974.4 222.1,974.6 223.1,974.8 224.1,974.9 225.1,975.0 226.1,975.1 227.1,975.1 228.1,975.2 229.1,975.2 230.1,975.3 231.1,975.3 232.1,975.3 233.1,975.3 234.1,975.3 235.1,975.3 236.1,975.3 237.1,975.2 238.1,975.2 239.1,975.2 240.1,975.2 241.1,975.2 242.1,975.2 243.1,975.2 244.1,975.1 245.1,975.1 246.1,975.1 247.1,975.1 248.1,975.1 249.1,975.1 250.1,975.0 251.1,975.0 252.1,975.0 253.1,975.0 254.1,975.0 255.1,975.0 256.1,974.9 257.1,974.9 258.1,974.9 259.1,974.9 260.1,974.9 261.1,974.9 262.1,974.8 263.1,974.8 264.1,974.8 265.1,974.8 266.1,974.8 267.1,974.8 268.1,974.7 269.1,974.7 270.1,974.7 271.1,974.7 272.1,974.7 273.1,974.7 274.1,974.6 275.1,974.6 276.1,974.6 277.1,974.6 278.1,974.6 279.1,974.6 280.1,974.6 281.1,974.5 282.1,974.5 283.1,974.5 284.1,974.5 285.1,974.5 286.1,974.5 287.1,974.4 288.1,974.4 289.1,974.4 290.1,974.4 291.1,974.4 292.1,974.4 293.1,974.3 294.1,974.3 295.1,974.3 296.1,974.3 297.1,974.3 298.1,974.3 299.1,974.2 300.1,974.2 301.1,974.2 302.1,974.2 303.1,974.2 304.1,974.2 305.1,974.1 306.1,974.1 307.1,974.1 308.1,974.1 309.1,974.1 310.1,974.1 311.1,974.0 312.1,974.0 313.1,974.0 314.1,974.0 315.1,974.0 316.1,974.0 317.1,973.9 318.1,973.9 319.1,973.9 320.1,973.9 321.1,973.9 322.1,973.9 323.1,973.8 324.1,973.8 325.1,973.8 326.1,973.8 327.1,973.8 328.1,973.8 329.1,973.7 330.1,973.7 331.1,973.7 332.1,973.7 333.1,973.7 334.1,973.7 335.1,973.7 336.1,973.6 337.1,973.6 338.1,973.6 339.1,973.6 340.1,973.6 341.1,973.6 342.1,973.5 343.1,973.5 344.1,973.5 345.1,973.5 346.1,973.5 347.1,973.5 348.1,973.4 349.1,973.4 350.1,973.4 351.1,973.4 352.1,973.4 353.1,973.4 354.1,973.3 355.1,973.3 356.1,973.3 357.1,973.3 358.1,973.3 359.1,973.3 360.1,973.2 361.1,973.2 362.1,973.2 363.1,973.2 364.1,973.2 365.1,973.2 366.1,973.1 367.1,973.1 368.1,973.1 369.1,973.1 370.1,973.1 371.1,973.1 372.1,973.0 373.1,973.0" stroke="#428e6c" stroke-width="3.2"/>
<line x1="98.7" y1="978.0" x2="230.0" y2="975.9" stroke="#4480d2" stroke-width="1.5"/>
<polyline points="40.1,975.6 41.1,977.9 42.1,977.7 43.1,977.2 44.1,979.9 45.1,979.1 46.1,978.1 47.1,981.9 48.1,978.6 49.1,975.9 50.1,974.7 51.1,976.0 52.1,978.8 53.1,980.2 54.1,981.2 55.1,983.0 56.1,983.3 57.1,981.3 58.1,982.0 59.1,980.9 60.1,978.0 61.1,979.8 62.1,978.9 63.1,978.1 64.1,982.2 65.1,981.2 66.1,978.3 67.1,978.1 68.1,982.9 69.1,979.3 70.1,980.0 71.1,980.1 72.1,979.8 73.1,979.9 74.1,977.7 75.1,977.0 76.1,977.4 77.1,977.1 78.1,979.3 79.1,981.6 80.1,977.5 81.1,978.9 82.1,976.3 83.1,976.0 84.1,976.8 85.1,977.7 86.1,976.9 87.1,972.3 88.1,978.7 89.1,977.6 90.1,976.5 91.1,978.7 92.1,976.9 93.1,974.6 94.1,977.6 95.1,978.6 96.1,976.3 97.1,978.9 98.1,978.9 99.1,975.8 100.1,980.6 101.1,979.2 102.1,975.9 103.1,977.9 104.1,977.9 105.1,979.6 106.1,975.5 107.1,978.9 108.1,979.8 109.1,979.6 110.1,979.3 111.1,980.6 112.1,979.8 113.1,978.2 114.1,975.6 115.1,978.5 116.1,979.1 117.1,977.8 118.1,976.9 119.1,977.5 120.1,970.9 121.1,974.1 122.1,969.3 123.1,972.8 124.1,975.4 125.1,977.7 126.1,973.3 127.1,973.2 128.1,971.7 129.1,966.4 130.1,970.1 131.1,969.4 132.1,968.9 133.1,966.2 134.1,966.6 135.1,966.5 136.1,968.5 137.1,966.7 138.1,972.2 139.1,965.7 140.1,963.4 141.1,962.6 142.1,960.4 143.1,964.1 144.1,963.2 145.1,958.8 146.1,959.7 147.1,962.0 148.1,957.3 149.1,958.6 150.1,958.1 151.1,963.0 152.1,960.7 153.1,958.1 154.1,956.8 155.1,961.2 156.1,957.9 157.1,962.2 158.1,955.9 159.1,956.4 160.1,956.5 161.1,955.5 162.1,956.1 163.1,958.2 164.1,956.1 165.1,953.8 166.1,958.7 167.1,960.6 168.1,956.9 169.1,957.6 170.1,952.0 171.1,957.3 172.1,954.4 173.1,954.9 174.1,960.6 175.1,955.7 176.1,956.5 177.1,954.6 178.1,952.4 179.1,953.0 180.1,956.2 181.1,954.2 182.1,955.0 183.1,958.0 184.1,957.3 185.1,954.9 186.1,959.8 187.1,958.9 188.1,961.3 189.1,957.4 190.1,961.8 191.1,957.4 192.1,955.3 193.1,957.5 194.1,958.7 195.1,960.7 196.1,960.1 197.1,962.6 198.1,965.3 199.1,962.6 200.1,960.6 201.1,962.3 202.1,965.8 203.1,967.5 204.1,966.2 205.1,964.8 206.1,966.8 207.1,969.9 208.1,968.0 209.1,971.8 210.1,971.3 211.1,971.7 212.1,970.3 213.1,974.2 214.1,973.2 215.1,970.0 216.1,973.8 217.1,972.9 218.1,975.8 219.1,975.1 220.1,973.4 221.1,974.6 222.1,973.8 223.1,972.9 224.1,974.4 225.1,976.6 226.1,975.9 227.1,975.3 228.1,974.2 229.1,976.1 230.1,976.2 231.1,977.6 232.1,976.9 233.1,980.3 234.1,973.9 235.1,974.8 236.1,976.3 237.1,977.5 238.1,973.0 239.1,972.1 240.1,974.1 241.1,977.0 242.1,978.1 243.1,973.2 244.1,974.8 245.1,977.5 246.1,976.1 247.1,973.4 248.1,973.1 249.1,971.8 250.1,976.4 251.1,975.1 252.1,974.2 253.1,973.0 254.1,974.1 255.1,972.9 256.1,972.3 257.1,974.0 258.1,974.2 259.1,975.7 260.1,975.5 261.1,977.6 262.1,975.8 263.1,975.8 264.1,975.7 265.1,973.6 266.1,976.8 267.1,974.4 268.1,971.5 269.1,976.2 270.1,976.6 271.1,974.3 272.1,976.6 273.1,977.4 274.1,977.1 275.1,973.2 276.1,974.6 277.1,972.6 278.1,972.7 279.1,972.9 280.1,972.3 281.1,974.8 282.1,973.1 283.1,975.3 284.1,975.2 285.1,973.6 286.1,974.6 287.1,976.0 288.1,977.3 289.1,975.0 290.1,978.2 291.1,976.9 292.1,977.9 293.1,972.9 294.1,971.8 295.1,975.9 296.1,974.5 297.1,975.4 298.1,977.1 299.1,972.4 300.1,974.6 301.1,978.3 302.1,977.3 303.1,975.5 304.1,975.9 305.1,974.8 306.1,976.0 307.1,977.5 308.1,974.9 309.1,975.6 310.1,975.3 311.1,976.1 312.1,976.5 313.1,972.8 314.1,976.0 315.1,976.5 316.1,972.7 317.1,973.0 318.1,970.7 319.1,972.3 320.1,974.1 321.1,971.7 322.1,971.6 323.1,971.4 324.1,971.6 325.1,971.6 326.1,970.9 327.1,974.0 328.1,973.5 329.1,972.1 330.1,975.2 331.1,973.2 332.1,975.4 333.1,971.9 334.1,975.9 335.1,973.6 336.1,971.8 337.1,973.9 338.1,971.1 339.1,970.6 340.1,973.1 341.1,972.5 342.1,974.0 343.1,974.1 344.1,974.3 345.1,974.1 346.1,975.2 347.1,974.1 348.1,976.0 349.1,976.3 350.1,970.5 351.1,968.9 352.1,975.0 353.1,973.1 354.1,973.7 355.1,973.3 356.1,973.9 357.1,978.0 358.1,973.6 359.1,973.6 360.1,973.4 361.1,971.2 362.1,970.8 363.1,971.9 364.1,972.8 365.1,973.9 366.1,969.5 367.1,968.8 368.1,975.0 369.1,973.5 370.1,974.9 371.1,972.9 372.1,971.7 373.1,976.9" stroke="#3e3e3e" stroke-width="1.7" opacity="0.92"/>
</g>
<rect x="39.1" y="703.4" width="335.7" height="315.70000000000005" fill="none" stroke="#1c1c1c" stroke-width="2"/>
<line x1="39.1" y1="860.7" x2="374.8" y2="860.7" stroke="#1c1c1c" stroke-width="1.8"/>
<line x1="39.1" y1="1019.1" x2="39.1" y2="1023.6" stroke="#1c1c1c" stroke-width="1.6"/>
<line x1="61.5" y1="1019.1" x2="61.5" y2="1021.9" stroke="#1c1c1c" stroke-width="1.6"/>
<line x1="83.9" y1="1019.1" x2="83.9" y2="1023.6" stroke="#1c1c1c" stroke-width="1.6"/>
<line x1="106.2" y1="1019.1" x2="106.2" y2="1021.9" stroke="#1c1c1c" stroke-width="1.6"/>
<line x1="128.6" y1="1019.1" x2="128.6" y2="1023.6" stroke="#1c1c1c" stroke-width="1.6"/>
<line x1="151.0" y1="1019.1" x2="151.0" y2="1021.9" stroke="#1c1c1c" stroke-width="1.6"/>
<line x1="173.4" y1="1019.1" x2="173.4" y2="1023.6" stroke="#1c1c1c" stroke-width="1.6"/>
<line x1="195.8" y1="1019.1" x2="195.8" y2="1021.9" stroke="#1c1c1c" stroke-width="1.6"/>
<line x1="218.1" y1="1019.1" x2="218.1" y2="1023.6" stroke="#1c1c1c" stroke-width="1.6"/>
<line x1="240.5" y1="1019.1" x2="240.5" y2="1021.9" stroke="#1c1c1c" stroke-width="1.6"/>
<line x1="262.9" y1="1019.1" x2="262.9" y2="1023.6" stroke="#1c1c1c" stroke-width="1.6"/>
<line x1="285.3" y1="1019.1" x2="285.3" y2="1021.9" stroke="#1c1c1c" stroke-width="1.6"/>
<line x1="307.7" y1="1019.1" x2="307.7" y2="1023.6" stroke="#1c1c1c" stroke-width="1.6"/>
<line x1="330.0" y1="1019.1" x2="330.0" y2="1021.9" stroke="#1c1c1c" stroke-width="1.6"/>
<line x1="352.4" y1="1019.1" x2="352.4" y2="1023.6" stroke="#1c1c1c" stroke-width="1.6"/>
<line x1="374.8" y1="1019.1" x2="374.8" y2="1021.9" stroke="#1c1c1c" stroke-width="1.6"/>
<text x="0" y="0" font-size="22" fill="#5a5a5a" text-anchor="middle" transform="translate(39.10,1043.10) scale(0.94,1)">394</text>
<text x="0" y="0" font-size="22" fill="#5a5a5a" text-anchor="middle" transform="translate(83.86,1043.10) scale(0.94,1)">396</text>
<text x="0" y="0" font-size="22" fill="#5a5a5a" text-anchor="middle" transform="translate(128.62,1043.10) scale(0.94,1)">398</text>
<text x="0" y="0" font-size="22" fill="#5a5a5a" text-anchor="middle" transform="translate(173.38,1043.10) scale(0.94,1)">400</text>
<text x="0" y="0" font-size="22" fill="#5a5a5a" text-anchor="middle" transform="translate(218.14,1043.10) scale(0.94,1)">402</text>
<text x="0" y="0" font-size="22" fill="#5a5a5a" text-anchor="middle" transform="translate(262.90,1043.10) scale(0.94,1)">404</text>
<text x="0" y="0" font-size="22" fill="#5a5a5a" text-anchor="middle" transform="translate(307.66,1043.10) scale(0.94,1)">406</text>
<text x="0" y="0" font-size="22" fill="#5a5a5a" text-anchor="middle" transform="translate(352.42,1043.10) scale(0.94,1)">408</text>
<g fill="none" stroke-linejoin="round" stroke-linecap="butt">
<polyline points="405.6,821.8 406.6,821.8 407.6,821.8 408.6,821.8 409.6,821.8 410.6,821.8 411.6,821.8 412.6,821.8 413.6,821.8 414.6,821.8 415.6,821.8 416.6,821.8 417.6,821.8 418.6,821.8 419.6,821.8 420.6,821.8 421.6,821.8 422.6,821.8 423.6,821.8 424.6,821.8 425.6,821.8 426.6,821.8 427.6,821.8 428.6,821.8 429.6,821.8 430.6,821.8 431.6,821.8 432.6,821.8 433.6,821.8 434.6,821.8 435.6,821.8 436.6,821.8 437.6,821.8 438.6,821.8 439.6,821.8 440.6,821.8 441.6,821.8 442.6,821.8 443.6,821.8 444.6,821.8 445.6,821.8 446.6,821.8 447.6,821.8 448.6,821.8 449.6,821.7 450.6,821.7 451.6,821.7 452.6,821.7 453.6,821.7 454.6,821.7 455.6,821.7 456.6,821.7 457.6,821.7 458.6,821.7 459.6,821.7 460.6,821.7 461.6,821.7 462.6,821.7 463.6,821.7 464.6,821.6 465.6,821.6 466.6,821.6 467.6,821.6 468.6,821.6 469.6,821.6 470.6,821.6 471.6,821.6 472.6,821.5 473.6,821.5 474.6,821.5 475.6,821.5 476.6,821.5 477.6,821.5 478.6,821.4 479.6,821.4 480.6,821.4 481.6,821.4 482.6,821.4 483.6,821.3 484.6,821.3 485.6,821.3 486.6,821.3 487.6,821.2 488.6,821.2 489.6,821.2 490.6,821.1 491.6,821.1 492.6,821.0 493.6,821.0 494.6,820.9 495.6,820.9 496.6,820.8 497.6,820.7 498.6,820.6 499.6,820.5 500.6,820.4 501.6,820.3 502.6,820.1 503.6,820.0 504.6,819.8 505.6,819.6 506.6,819.3 507.6,819.0 508.6,818.7 509.6,818.4 510.6,818.0 511.6,817.5 512.6,817.0 513.6,816.4 514.6,815.8 515.6,815.1 516.6,814.3 517.6,813.4 518.6,812.5 519.6,811.4 520.6,810.3 521.6,809.1 522.6,807.8 523.6,806.5 524.6,805.0 525.6,803.5 526.6,801.9 527.6,800.3 528.6,798.7 529.6,797.0 530.6,795.2 531.6,793.5 532.6,791.9 533.6,790.2 534.6,788.7 535.6,787.2 536.6,785.8 537.6,784.6 538.6,783.5 539.6,782.7 540.6,782.0 541.6,781.6 542.6,781.4 543.6,781.5 544.6,781.8 545.6,782.4 546.6,783.1 547.6,784.1 548.6,785.2 549.6,786.5 550.6,788.0 551.6,789.5 552.6,791.1 553.6,792.8 554.6,794.5 555.6,796.2 556.6,797.9 557.6,799.6 558.6,801.3 559.6,802.9 560.6,804.4 561.6,805.9 562.6,807.3 563.6,808.6 564.6,809.9 565.6,811.0 566.6,812.1 567.6,813.1 568.6,814.0 569.6,814.8 570.6,815.6 571.6,816.3 572.6,816.9 573.6,817.4 574.6,817.9 575.6,818.3 576.6,818.7 577.6,819.1 578.6,819.4 579.6,819.6 580.6,819.9 581.6,820.1 582.6,820.3 583.6,820.4 584.6,820.6 585.6,820.7 586.6,820.8 587.6,820.9 588.6,821.0 589.6,821.0 590.6,821.1 591.6,821.2 592.6,821.2 593.6,821.3 594.6,821.3 595.6,821.4 596.6,821.4 597.6,821.5 598.6,821.5 599.6,821.5 600.6,821.6 601.6,821.6 602.6,821.6 603.6,821.7 604.6,821.7 605.6,821.7 606.6,821.7 607.6,821.8 608.6,821.8 609.6,821.8 610.6,821.8 611.6,821.9 612.6,821.9 613.6,821.9 614.6,821.9 615.6,821.9 616.6,821.9 617.6,822.0 618.6,822.0 619.6,822.0 620.6,822.0 621.6,822.0 622.6,822.0 623.6,822.1 624.6,822.1 625.6,822.1 626.6,822.1 627.6,822.1 628.6,822.1 629.6,822.1 630.6,822.1 631.6,822.2 632.6,822.2 633.6,822.2 634.6,822.2 635.6,822.2 636.6,822.2 637.6,822.2 638.6,822.2 639.6,822.2 640.6,822.2 641.6,822.3 642.6,822.3 643.6,822.3 644.6,822.3 645.6,822.3 646.6,822.3 647.6,822.3 648.6,822.3 649.6,822.3 650.6,822.3 651.6,822.3 652.6,822.3 653.6,822.3 654.6,822.4 655.6,822.4 656.6,822.4 657.6,822.4 658.6,822.4 659.6,822.4 660.6,822.4 661.6,822.4 662.6,822.4 663.6,822.4 664.6,822.4 665.6,822.4 666.6,822.4 667.6,822.4 668.6,822.4 669.6,822.4 670.6,822.4 671.6,822.5 672.6,822.5 673.6,822.5 674.6,822.5 675.6,822.5 676.6,822.5 677.6,822.5 678.6,822.5 679.6,822.5 680.6,822.5 681.6,822.5 682.6,822.5 683.6,822.5 684.6,822.5 685.6,822.5 686.6,822.5 687.6,822.5 688.6,822.5 689.6,822.5 690.6,822.5 691.6,822.5 692.6,822.6 693.6,822.6 694.6,822.6 695.6,822.6 696.6,822.6 697.6,822.6 698.6,822.6 699.6,822.6 700.6,822.6 701.6,822.6 702.6,822.6 703.6,822.6 704.6,822.6 705.6,822.6 706.6,822.6 707.6,822.6 708.6,822.6 709.6,822.6 710.6,822.6 711.6,822.6 712.6,822.6 713.6,822.6 714.6,822.6 715.6,822.6 716.6,822.6 717.6,822.6 718.6,822.7 719.6,822.7 720.6,822.7 721.6,822.7 722.6,822.7 723.6,822.7 724.6,822.7 725.6,822.7 726.6,822.7 727.6,822.7 728.6,822.7 729.6,822.7 730.6,822.7 731.6,822.7 732.6,822.7 733.6,822.7 734.6,822.7 735.6,822.7" stroke="#428e6c" stroke-width="3.2"/>
<line x1="502.0" y1="822.7" x2="585.0" y2="822.9" stroke="#4480d2" stroke-width="1.5"/>
<polyline points="405.6,824.7 406.6,827.5 407.6,824.4 408.6,821.5 409.6,824.2 410.6,825.8 411.6,825.9 412.6,826.2 413.6,825.2 414.6,824.0 415.6,823.3 416.6,824.1 417.6,824.0 418.6,826.4 419.6,826.7 420.6,823.4 421.6,825.8 422.6,825.3 423.6,827.2 424.6,828.6 425.6,827.3 426.6,822.7 427.6,825.4 428.6,822.4 429.6,827.0 430.6,824.6 431.6,824.6 432.6,828.2 433.6,823.0 434.6,824.4 435.6,822.9 436.6,823.4 437.6,823.0 438.6,825.6 439.6,824.7 440.6,825.6 441.6,826.4 442.6,822.4 443.6,826.7 444.6,825.2 445.6,822.1 446.6,822.8 447.6,825.9 448.6,827.2 449.6,824.5 450.6,825.1 451.6,825.5 452.6,827.1 453.6,825.5 454.6,827.0 455.6,824.1 456.6,823.4 457.6,825.7 458.6,826.6 459.6,825.5 460.6,826.3 461.6,825.8 462.6,826.7 463.6,827.7 464.6,826.9 465.6,827.1 466.6,825.0 467.6,823.9 468.6,820.3 469.6,824.0 470.6,824.6 471.6,825.8 472.6,821.7 473.6,822.9 474.6,823.1 475.6,820.9 476.6,825.1 477.6,827.1 478.6,823.3 479.6,825.0 480.6,828.0 481.6,823.6 482.6,826.1 483.6,828.1 484.6,829.3 485.6,823.7 486.6,822.3 487.6,824.1 488.6,826.6 489.6,822.9 490.6,822.5 491.6,821.7 492.6,825.4 493.6,823.6 494.6,825.1 495.6,825.7 496.6,826.8 497.6,825.7 498.6,825.2 499.6,826.4 500.6,822.5 501.6,818.9 502.6,818.9 503.6,821.4 504.6,820.8 505.6,819.5 506.6,820.0 507.6,825.6 508.6,821.1 509.6,820.3 510.6,819.7 511.6,817.8 512.6,819.5 513.6,819.1 514.6,817.7 515.6,813.4 516.6,816.2 517.6,815.7 518.6,813.3 519.6,807.0 520.6,808.9 521.6,806.6 522.6,806.7 523.6,805.4 524.6,803.3 525.6,805.0 526.6,802.9 527.6,803.1 528.6,798.1 529.6,796.6 530.6,797.9 531.6,795.3 532.6,791.3 533.6,788.6 534.6,787.2 535.6,786.7 536.6,787.1 537.6,785.5 538.6,785.5 539.6,785.1 540.6,783.3 541.6,784.7 542.6,784.1 543.6,782.3 544.6,782.0 545.6,782.6 546.6,782.1 547.6,781.4 548.6,784.6 549.6,785.6 550.6,788.9 551.6,788.9 552.6,791.3 553.6,793.4 554.6,794.1 555.6,796.6 556.6,796.9 557.6,798.7 558.6,802.6 559.6,804.3 560.6,805.1 561.6,804.9 562.6,808.4 563.6,812.9 564.6,807.5 565.6,812.4 566.6,813.2 567.6,815.7 568.6,817.3 569.6,814.3 570.6,818.8 571.6,816.5 572.6,816.7 573.6,818.7 574.6,818.4 575.6,819.2 576.6,818.3 577.6,817.2 578.6,818.9 579.6,817.7 580.6,821.9 581.6,821.4 582.6,823.5 583.6,819.4 584.6,816.6 585.6,815.3 586.6,818.4 587.6,817.9 588.6,820.8 589.6,818.5 590.6,817.9 591.6,820.8 592.6,820.6 593.6,822.5 594.6,823.5 595.6,823.0 596.6,819.9 597.6,819.5 598.6,825.2 599.6,822.6 600.6,822.7 601.6,822.4 602.6,822.1 603.6,821.7 604.6,820.9 605.6,820.7 606.6,817.8 607.6,823.7 608.6,822.5 609.6,819.8 610.6,822.3 611.6,823.4 612.6,820.0 613.6,820.5 614.6,824.4 615.6,824.0 616.6,823.6 617.6,824.6 618.6,822.9 619.6,821.9 620.6,825.1 621.6,823.0 622.6,822.4 623.6,823.6 624.6,822.8 625.6,820.3 626.6,825.1 627.6,823.2 628.6,826.0 629.6,824.6 630.6,821.5 631.6,825.0 632.6,823.0 633.6,821.1 634.6,821.9 635.6,818.3 636.6,821.8 637.6,820.9 638.6,821.5 639.6,820.5 640.6,823.1 641.6,823.4 642.6,824.8 643.6,826.4 644.6,824.4 645.6,823.4 646.6,823.4 647.6,821.4 648.6,821.2 649.6,823.5 650.6,821.3 651.6,818.6 652.6,820.6 653.6,822.4 654.6,825.3 655.6,822.3 656.6,820.8 657.6,822.2 658.6,822.2 659.6,823.0 660.6,821.8 661.6,822.8 662.6,821.6 663.6,824.1 664.6,823.7 665.6,824.1 666.6,822.4 667.6,820.0 668.6,821.8 669.6,822.3 670.6,824.6 671.6,825.2 672.6,823.5 673.6,822.9 674.6,821.0 675.6,822.1 676.6,822.9 677.6,822.1 678.6,820.5 679.6,824.3 680.6,821.6 681.6,825.4 682.6,825.9 683.6,826.7 684.6,822.6 685.6,823.9 686.6,820.6 687.6,821.4 688.6,819.5 689.6,820.3 690.6,821.0 691.6,823.9 692.6,825.2 693.6,823.0 694.6,822.4 695.6,820.9 696.6,820.1 697.6,818.6 698.6,821.0 699.6,823.3 700.6,821.6 701.6,823.1 702.6,820.8 703.6,820.3 704.6,821.0 705.6,823.8 706.6,822.2 707.6,824.0 708.6,822.6 709.6,820.8 710.6,818.5 711.6,820.5 712.6,820.3 713.6,823.6 714.6,823.9 715.6,820.3 716.6,823.5 717.6,824.1 718.6,818.0 719.6,819.3 720.6,822.1 721.6,819.7 722.6,820.5 723.6,823.0 724.6,823.4 725.6,823.9 726.6,824.4 727.6,821.8 728.6,826.9 729.6,825.3 730.6,827.6 731.6,824.1 732.6,824.4 733.6,824.1 734.6,823.1 735.6,823.5" stroke="#3e3e3e" stroke-width="1.7" opacity="0.92"/>
</g>
<g fill="none" stroke-linejoin="round" stroke-linecap="butt">
<polyline points="405.6,994.5 406.6,994.5 407.6,994.4 408.6,994.4 409.6,994.4 410.6,994.4 411.6,994.4 412.6,994.4 413.6,994.3 414.6,994.3 415.6,994.3 416.6,994.3 417.6,994.3 418.6,994.3 419.6,994.3 420.6,994.2 421.6,994.2 422.6,994.2 423.6,994.2 424.6,994.2 425.6,994.2 426.6,994.1 427.6,994.1 428.6,994.1 429.6,994.1 430.6,994.1 431.6,994.1 432.6,994.0 433.6,994.0 434.6,994.0 435.6,994.0 436.6,994.0 437.6,993.9 438.6,993.9 439.6,993.9 440.6,993.9 441.6,993.9 442.6,993.9 443.6,993.8 444.6,993.8 445.6,993.8 446.6,993.8 447.6,993.8 448.6,993.7 449.6,993.7 450.6,993.7 451.6,993.7 452.6,993.7 453.6,993.7 454.6,993.6 455.6,993.6 456.6,993.6 457.6,993.6 458.6,993.6 459.6,993.5 460.6,993.5 461.6,993.5 462.6,993.5 463.6,993.4 464.6,993.4 465.6,993.4 466.6,993.4 467.6,993.4 468.6,993.3 469.6,993.3 470.6,993.3 471.6,993.3 472.6,993.2 473.6,993.2 474.6,993.2 475.6,993.1 476.6,993.1 477.6,993.1 478.6,993.1 479.6,993.0 480.6,993.0 481.3,993.1 495.4,988.2 506.8,983.9 516.7,980.4 522.4,977.6 528.0,972.6 530.9,969.0 531.6,966.9 532.6,965.6 533.6,964.2 534.6,963.0 535.6,961.8 536.6,960.7 537.6,959.8 538.6,959.0 539.6,958.4 540.6,958.1 541.6,958.0 542.6,958.1 543.6,958.5 544.6,959.1 545.6,959.9 546.6,961.0 547.6,962.2 548.6,963.5 549.6,965.0 550.6,966.5 551.6,968.1 552.6,969.7 553.6,971.3 554.6,972.9 555.6,974.4 556.6,976.0 557.6,977.4 558.6,978.8 559.6,980.1 560.6,981.3 561.6,982.4 562.6,983.4 563.6,984.4 564.6,985.2 565.6,986.0 566.6,986.7 567.6,987.3 568.6,987.9 569.6,988.3 570.6,988.8 571.6,989.1 572.6,989.4 573.6,989.7 574.6,989.9 575.6,990.1 576.6,990.3 577.6,990.4 578.6,990.6 579.6,990.7 580.6,990.8 581.6,990.8 582.6,990.9 583.6,991.0 584.6,991.0 585.6,991.0 586.6,991.1 587.6,991.1 588.6,991.1 589.6,991.2 590.6,991.2 591.6,991.2 592.6,991.2 593.6,991.2 594.6,991.3 595.6,991.3 596.6,991.3 597.6,991.3 598.6,991.3 599.6,991.3 600.6,991.3 601.6,991.3 602.6,991.3 603.6,991.3 604.6,991.3 605.6,991.3 606.6,991.3 607.6,991.3 608.6,991.3 609.6,991.3 610.6,991.3 611.6,991.3 612.6,991.3 613.6,991.3 614.6,991.3 615.6,991.3 616.6,991.3 617.6,991.3 618.6,991.3 619.6,991.3 620.6,991.3 621.6,991.3 622.6,991.3 623.6,991.3 624.6,991.3 625.6,991.2 626.6,991.2 627.6,991.2 628.6,991.2 629.6,991.2 630.6,991.2 631.6,991.2 632.6,991.2 633.6,991.2 634.6,991.2 635.6,991.2 636.6,991.2 637.6,991.1 638.6,991.1 639.6,991.1 640.6,991.1 641.6,991.1 642.6,991.1 643.6,991.1 644.6,991.1 645.6,991.1 646.6,991.1 647.6,991.0 648.6,991.0 649.6,991.0 650.6,991.0 651.6,991.0 652.6,991.0 653.6,991.0 654.6,991.0 655.6,991.0 656.6,991.0 657.6,990.9 658.6,990.9 659.6,990.9 660.6,990.9 661.6,990.9 662.6,990.9 663.6,990.9 664.6,990.9 665.6,990.8 666.6,990.8 667.6,990.8 668.6,990.8 669.6,990.8 670.6,990.8 671.6,990.8 672.6,990.8 673.6,990.8 674.6,990.7 675.6,990.7 676.6,990.7 677.6,990.7 678.6,990.7 679.6,990.7 680.6,990.7 681.6,990.7 682.6,990.6 683.6,990.6 684.6,990.6 685.6,990.6 686.6,990.6 687.6,990.6 688.6,990.6 689.6,990.6 690.6,990.5 691.6,990.5 692.6,990.5 693.6,990.5 694.6,990.5 695.6,990.5 696.6,990.5 697.6,990.5 698.6,990.4 699.6,990.4 700.6,990.4 701.6,990.4 702.6,990.4 703.6,990.4 704.6,990.4 705.6,990.4 706.6,990.3 707.6,990.3 708.6,990.3 709.6,990.3 710.6,990.3 711.6,990.3 712.6,990.3 713.6,990.3 714.6,990.2 715.6,990.2 716.6,990.2 717.6,990.2 718.6,990.2 719.6,990.2 720.6,990.2 721.6,990.1 722.6,990.1 723.6,990.1 724.6,990.1 725.6,990.1 726.6,990.1 727.6,990.1 728.6,990.1 729.6,990.0 730.6,990.0 731.6,990.0 732.6,990.0 733.6,990.0 734.6,990.0 735.6,990.0" stroke="#bf4a5c" stroke-width="2.4"/>
<polyline points="405.6,994.5 406.6,994.5 407.6,994.4 408.6,994.4 409.6,994.4 410.6,994.4 411.6,994.4 412.6,994.4 413.6,994.3 414.6,994.3 415.6,994.3 416.6,994.3 417.6,994.3 418.6,994.3 419.6,994.3 420.6,994.2 421.6,994.2 422.6,994.2 423.6,994.2 424.6,994.2 425.6,994.2 426.6,994.1 427.6,994.1 428.6,994.1 429.6,994.1 430.6,994.1 431.6,994.1 432.6,994.0 433.6,994.0 434.6,994.0 435.6,994.0 436.6,994.0 437.6,993.9 438.6,993.9 439.6,993.9 440.6,993.9 441.6,993.9 442.6,993.9 443.6,993.8 444.6,993.8 445.6,993.8 446.6,993.8 447.6,993.8 448.6,993.7 449.6,993.7 450.6,993.7 451.6,993.7 452.6,993.7 453.6,993.7 454.6,993.6 455.6,993.6 456.6,993.6 457.6,993.6 458.6,993.6 459.6,993.5 460.6,993.5 461.6,993.5 462.6,993.5 463.6,993.4 464.6,993.4 465.6,993.4 466.6,993.4 467.6,993.4 468.6,993.3 469.6,993.3 470.6,993.3 471.6,993.3 472.6,993.2 473.6,993.2 474.6,993.2 475.6,993.1 476.6,993.1 477.6,993.1 478.6,993.1 479.6,993.0 480.6,993.0 481.6,993.0 482.6,992.9 483.6,992.9 484.6,992.9 485.6,992.8 486.6,992.8 487.6,992.8 488.6,992.7 489.6,992.7 490.6,992.6 491.6,992.6 492.6,992.6 493.6,992.5 494.6,992.5 495.6,992.4 496.6,992.3 497.6,992.3 498.6,992.2 499.6,992.1 500.6,992.1 501.6,992.0 502.6,991.9 503.6,991.8 504.6,991.6 505.6,991.5 506.6,991.3 507.6,991.1 508.6,990.9 509.6,990.6 510.6,990.4 511.6,990.0 512.6,989.7 513.6,989.2 514.6,988.7 515.6,988.2 516.6,987.6 517.6,986.9 518.6,986.1 519.6,985.2 520.6,984.3 521.6,983.2 522.6,982.1 523.6,980.9 524.6,979.6 525.6,978.2 526.6,976.8 527.6,975.2 528.6,973.7 529.6,972.0 530.6,970.4 531.6,968.8 532.6,967.2 533.6,965.6 534.6,964.1 535.6,962.7 536.6,961.5 537.6,960.4 538.6,959.5 539.6,958.8 540.6,958.4 541.6,958.2 542.6,958.3 543.6,958.6 544.6,959.2 545.6,960.0 546.6,961.0 547.6,962.2 548.6,963.6 549.6,965.0 550.6,966.5 551.6,968.1 552.6,969.7 553.6,971.3 554.6,972.9 555.6,974.4 556.6,976.0 557.6,977.4 558.6,978.8 559.6,980.1 560.6,981.3 561.6,982.4 562.6,983.4 563.6,984.4 564.6,985.2 565.6,986.0 566.6,986.7 567.6,987.3 568.6,987.9 569.6,988.3 570.6,988.8 571.6,989.1 572.6,989.4 573.6,989.7 574.6,989.9 575.6,990.1 576.6,990.3 577.6,990.4 578.6,990.6 579.6,990.7 580.6,990.8 581.6,990.8 582.6,990.9 583.6,991.0 584.6,991.0 585.6,991.0 586.6,991.1 587.6,991.1 588.6,991.1 589.6,991.2 590.6,991.2 591.6,991.2 592.6,991.2 593.6,991.2 594.6,991.3 595.6,991.3 596.6,991.3 597.6,991.3 598.6,991.3 599.6,991.3 600.6,991.3 601.6,991.3 602.6,991.3 603.6,991.3 604.6,991.3 605.6,991.3 606.6,991.3 607.6,991.3 608.6,991.3 609.6,991.3 610.6,991.3 611.6,991.3 612.6,991.3 613.6,991.3 614.6,991.3 615.6,991.3 616.6,991.3 617.6,991.3 618.6,991.3 619.6,991.3 620.6,991.3 621.6,991.3 622.6,991.3 623.6,991.3 624.6,991.3 625.6,991.2 626.6,991.2 627.6,991.2 628.6,991.2 629.6,991.2 630.6,991.2 631.6,991.2 632.6,991.2 633.6,991.2 634.6,991.2 635.6,991.2 636.6,991.2 637.6,991.1 638.6,991.1 639.6,991.1 640.6,991.1 641.6,991.1 642.6,991.1 643.6,991.1 644.6,991.1 645.6,991.1 646.6,991.1 647.6,991.0 648.6,991.0 649.6,991.0 650.6,991.0 651.6,991.0 652.6,991.0 653.6,991.0 654.6,991.0 655.6,991.0 656.6,991.0 657.6,990.9 658.6,990.9 659.6,990.9 660.6,990.9 661.6,990.9 662.6,990.9 663.6,990.9 664.6,990.9 665.6,990.8 666.6,990.8 667.6,990.8 668.6,990.8 669.6,990.8 670.6,990.8 671.6,990.8 672.6,990.8 673.6,990.8 674.6,990.7 675.6,990.7 676.6,990.7 677.6,990.7 678.6,990.7 679.6,990.7 680.6,990.7 681.6,990.7 682.6,990.6 683.6,990.6 684.6,990.6 685.6,990.6 686.6,990.6 687.6,990.6 688.6,990.6 689.6,990.6 690.6,990.5 691.6,990.5 692.6,990.5 693.6,990.5 694.6,990.5 695.6,990.5 696.6,990.5 697.6,990.5 698.6,990.4 699.6,990.4 700.6,990.4 701.6,990.4 702.6,990.4 703.6,990.4 704.6,990.4 705.6,990.4 706.6,990.3 707.6,990.3 708.6,990.3 709.6,990.3 710.6,990.3 711.6,990.3 712.6,990.3 713.6,990.3 714.6,990.2 715.6,990.2 716.6,990.2 717.6,990.2 718.6,990.2 719.6,990.2 720.6,990.2 721.6,990.1 722.6,990.1 723.6,990.1 724.6,990.1 725.6,990.1 726.6,990.1 727.6,990.1 728.6,990.1 729.6,990.0 730.6,990.0 731.6,990.0 732.6,990.0 733.6,990.0 734.6,990.0 735.6,990.0" stroke="#428e6c" stroke-width="2.2"/>
<polyline points="405.6,994.6 406.6,994.6 407.6,994.6 408.6,994.5 409.6,994.5 410.6,994.5 411.6,994.5 412.6,994.5 413.6,994.5 414.6,994.5 415.6,994.4 416.6,994.4 417.6,994.4 418.6,994.4 419.6,994.4 420.6,994.4 421.6,994.4 422.6,994.4 423.6,994.3 424.6,994.3 425.6,994.3 426.6,994.3 427.6,994.3 428.6,994.3 429.6,994.3 430.6,994.2 431.6,994.2 432.6,994.2 433.6,994.2 434.6,994.2 435.6,994.2 436.6,994.2 437.6,994.1 438.6,994.1 439.6,994.1 440.6,994.1 441.6,994.1 442.6,994.1 443.6,994.1 444.6,994.0 445.6,994.0 446.6,994.0 447.6,994.0 448.6,994.0 449.6,994.0 450.6,994.0 451.6,993.9 452.6,993.9 453.6,993.9 454.6,993.9 455.6,993.9 456.6,993.9 457.6,993.9 458.6,993.9 459.6,993.8 460.6,993.8 461.6,993.8 462.6,993.8 463.6,993.8 464.6,993.8 465.6,993.8 466.6,993.7 467.6,993.7 468.6,993.7 469.6,993.7 470.6,993.7 471.6,993.7 472.6,993.7 473.6,993.6 474.6,993.6 475.6,993.6 476.6,993.6 477.6,993.6 478.6,993.6 479.6,993.5 480.6,993.5 481.6,993.5 482.6,993.5 483.6,993.5 484.6,993.4 485.6,993.4 486.6,993.3 487.6,993.3 488.6,993.2 489.6,993.2 490.6,993.1 491.6,993.0 492.6,992.8 493.6,992.7 494.6,992.5 495.6,992.3 496.6,992.1 497.6,991.8 498.6,991.6 499.6,991.2 500.6,990.9 501.6,990.5 502.6,990.2 503.6,989.8 504.6,989.3 505.6,988.9 506.6,988.5 507.6,988.1 508.6,987.7 509.6,987.4 510.6,987.0 511.6,986.8 512.6,986.6 513.6,986.4 514.6,986.3 515.6,986.3 516.6,986.3 517.6,986.4 518.6,986.6 519.6,986.8 520.6,987.0 521.6,987.3 522.6,987.7 523.6,988.1 524.6,988.4 525.6,988.8 526.6,989.2 527.6,989.6 528.6,990.0 529.6,990.3 530.6,990.6 531.6,990.9 532.6,991.2 533.6,991.5 534.6,991.7 535.6,991.9 536.6,992.0 537.6,992.1 538.6,992.2 539.6,992.3 540.6,992.4 541.6,992.5 542.6,992.5 543.6,992.5 544.6,992.6 545.6,992.6 546.6,992.6 547.6,992.6 548.6,992.6 549.6,992.6 550.6,992.6 551.6,992.6 552.6,992.5 553.6,992.5 554.6,992.5 555.6,992.5 556.6,992.5 557.6,992.5 558.6,992.5 559.6,992.5 560.6,992.4 561.6,992.4 562.6,992.4 563.6,992.4 564.6,992.4 565.6,992.4 566.6,992.4 567.6,992.3 568.6,992.3 569.6,992.3 570.6,992.3 571.6,992.3 572.6,992.3 573.6,992.3 574.6,992.2 575.6,992.2 576.6,992.2 577.6,992.2 578.6,992.2 579.6,992.2 580.6,992.2 581.6,992.1 582.6,992.1 583.6,992.1 584.6,992.1 585.6,992.1 586.6,992.1 587.6,992.1 588.6,992.1 589.6,992.0 590.6,992.0 591.6,992.0 592.6,992.0 593.6,992.0 594.6,992.0 595.6,992.0 596.6,991.9 597.6,991.9 598.6,991.9 599.6,991.9 600.6,991.9 601.6,991.9 602.6,991.9 603.6,991.8 604.6,991.8 605.6,991.8 606.6,991.8 607.6,991.8 608.6,991.8 609.6,991.8 610.6,991.7 611.6,991.7 612.6,991.7 613.6,991.7 614.6,991.7 615.6,991.7 616.6,991.7 617.6,991.7 618.6,991.6 619.6,991.6 620.6,991.6 621.6,991.6 622.6,991.6 623.6,991.6 624.6,991.6 625.6,991.5 626.6,991.5 627.6,991.5 628.6,991.5 629.6,991.5 630.6,991.5 631.6,991.5 632.6,991.4 633.6,991.4 634.6,991.4 635.6,991.4 636.6,991.4 637.6,991.4 638.6,991.4 639.6,991.3 640.6,991.3 641.6,991.3 642.6,991.3 643.6,991.3 644.6,991.3 645.6,991.3 646.6,991.3 647.6,991.2 648.6,991.2 649.6,991.2 650.6,991.2 651.6,991.2 652.6,991.2 653.6,991.2 654.6,991.1 655.6,991.1 656.6,991.1 657.6,991.1 658.6,991.1 659.6,991.1 660.6,991.1 661.6,991.0 662.6,991.0 663.6,991.0 664.6,991.0 665.6,991.0 666.6,991.0 667.6,991.0 668.6,990.9 669.6,990.9 670.6,990.9 671.6,990.9 672.6,990.9 673.6,990.9 674.6,990.9 675.6,990.8 676.6,990.8 677.6,990.8 678.6,990.8 679.6,990.8 680.6,990.8 681.6,990.8 682.6,990.8 683.6,990.7 684.6,990.7 685.6,990.7 686.6,990.7 687.6,990.7 688.6,990.7 689.6,990.7 690.6,990.6 691.6,990.6 692.6,990.6 693.6,990.6 694.6,990.6 695.6,990.6 696.6,990.6 697.6,990.5 698.6,990.5 699.6,990.5 700.6,990.5 701.6,990.5 702.6,990.5 703.6,990.5 704.6,990.4 705.6,990.4 706.6,990.4 707.6,990.4 708.6,990.4 709.6,990.4 710.6,990.4 711.6,990.4 712.6,990.3 713.6,990.3 714.6,990.3 715.6,990.3 716.6,990.3 717.6,990.3 718.6,990.3 719.6,990.2 720.6,990.2 721.6,990.2 722.6,990.2 723.6,990.2 724.6,990.2 725.6,990.2 726.6,990.1 727.6,990.1 728.6,990.1 729.6,990.1 730.6,990.1 731.6,990.1 732.6,990.1 733.6,990.0 734.6,990.0 735.6,990.0" stroke="#a586da" stroke-width="1.8"/>
<line x1="480.0" y1="994.1" x2="560.0" y2="992.9" stroke="#4480d2" stroke-width="1.5"/>
<polyline points="405.6,996.2 406.6,996.4 407.6,993.2 408.6,991.3 409.6,993.2 410.6,995.0 411.6,994.4 412.6,992.3 413.6,992.9 414.6,995.8 415.6,992.9 416.6,995.3 417.6,995.4 418.6,995.3 419.6,995.7 420.6,994.0 421.6,994.0 422.6,996.6 423.6,994.5 424.6,993.7 425.6,992.0 426.6,992.7 427.6,994.7 428.6,996.0 429.6,995.7 430.6,995.5 431.6,995.4 432.6,995.0 433.6,995.8 434.6,994.4 435.6,995.6 436.6,994.5 437.6,991.9 438.6,991.4 439.6,992.8 440.6,992.9 441.6,991.8 442.6,992.1 443.6,993.5 444.6,994.3 445.6,995.1 446.6,993.1 447.6,994.0 448.6,995.3 449.6,994.8 450.6,996.5 451.6,994.0 452.6,993.8 453.6,993.9 454.6,993.2 455.6,993.4 456.6,993.8 457.6,993.6 458.6,992.9 459.6,992.7 460.6,993.1 461.6,991.2 462.6,992.9 463.6,991.8 464.6,992.5 465.6,991.6 466.6,992.9 467.6,992.7 468.6,992.7 469.6,992.1 470.6,993.0 471.6,995.4 472.6,991.5 473.6,993.3 474.6,993.5 475.6,992.7 476.6,991.2 477.6,994.6 478.6,993.8 479.6,994.7 480.6,993.1 481.6,992.0 482.6,993.8 483.6,993.7 484.6,992.0 485.6,991.3 486.6,992.0 487.6,990.1 488.6,989.1 489.6,989.7 490.6,991.1 491.6,991.1 492.6,990.0 493.6,991.0 494.6,989.0 495.6,987.6 496.6,990.8 497.6,987.8 498.6,988.0 499.6,987.7 500.6,986.8 501.6,986.4 502.6,986.6 503.6,986.3 504.6,984.4 505.6,984.2 506.6,985.8 507.6,985.3 508.6,983.3 509.6,983.0 510.6,981.3 511.6,980.0 512.6,980.4 513.6,983.2 514.6,980.9 515.6,978.0 516.6,979.3 517.6,978.6 518.6,980.0 519.6,980.9 520.6,978.7 521.6,978.3 522.6,976.3 523.6,977.8 524.6,975.1 525.6,974.6 526.6,977.1 527.6,972.8 528.6,972.1 529.6,970.6 530.6,970.0 531.6,967.8 532.6,967.9 533.6,965.8 534.6,964.3 535.6,960.6 536.6,960.9 537.6,958.0 538.6,960.1 539.6,958.7 540.6,959.5 541.6,957.8 542.6,958.4 543.6,958.7 544.6,960.0 545.6,960.1 546.6,960.3 547.6,961.4 548.6,962.4 549.6,963.3 550.6,964.3 551.6,965.3 552.6,971.3 553.6,970.9 554.6,971.3 555.6,975.2 556.6,976.6 557.6,977.5 558.6,980.4 559.6,983.2 560.6,981.2 561.6,984.4 562.6,984.9 563.6,986.5 564.6,985.3 565.6,988.3 566.6,989.1 567.6,984.6 568.6,988.7 569.6,990.5 570.6,987.6 571.6,989.2 572.6,989.2 573.6,990.0 574.6,988.9 575.6,990.7 576.6,991.5 577.6,990.7 578.6,990.6 579.6,988.4 580.6,990.7 581.6,989.1 582.6,990.3 583.6,989.7 584.6,994.1 585.6,992.2 586.6,993.6 587.6,992.0 588.6,991.4 589.6,992.3 590.6,991.6 591.6,994.5 592.6,992.2 593.6,993.8 594.6,990.5 595.6,989.8 596.6,991.7 597.6,989.6 598.6,993.4 599.6,992.8 600.6,992.0 601.6,994.0 602.6,991.6 603.6,990.4 604.6,987.5 605.6,987.3 606.6,989.5 607.6,987.9 608.6,991.2 609.6,992.6 610.6,992.4 611.6,989.5 612.6,989.5 613.6,988.8 614.6,991.4 615.6,992.8 616.6,991.5 617.6,991.5 618.6,991.7 619.6,992.4 620.6,990.5 621.6,989.7 622.6,991.8 623.6,992.2 624.6,992.3 625.6,991.7 626.6,992.5 627.6,992.3 628.6,990.8 629.6,993.4 630.6,993.5 631.6,991.7 632.6,991.2 633.6,990.2 634.6,988.9 635.6,989.0 636.6,988.4 637.6,989.3 638.6,991.0 639.6,991.0 640.6,989.1 641.6,990.2 642.6,989.9 643.6,989.2 644.6,991.9 645.6,990.0 646.6,991.9 647.6,989.0 648.6,990.7 649.6,990.0 650.6,992.0 651.6,991.9 652.6,990.3 653.6,991.6 654.6,993.0 655.6,993.5 656.6,993.9 657.6,991.5 658.6,994.1 659.6,991.2 660.6,990.8 661.6,988.8 662.6,989.9 663.6,988.5 664.6,990.2 665.6,988.2 666.6,992.5 667.6,992.6 668.6,993.6 669.6,993.4 670.6,992.0 671.6,991.9 672.6,991.4 673.6,988.4 674.6,988.3 675.6,989.4 676.6,991.6 677.6,989.1 678.6,990.4 679.6,989.8 680.6,991.4 681.6,992.0 682.6,989.7 683.6,988.7 684.6,992.0 685.6,992.6 686.6,991.3 687.6,992.0 688.6,991.2 689.6,991.5 690.6,990.3 691.6,991.2 692.6,993.1 693.6,993.5 694.6,993.3 695.6,991.7 696.6,992.3 697.6,990.5 698.6,990.1 699.6,990.5 700.6,989.0 701.6,990.2 702.6,988.0 703.6,991.8 704.6,992.1 705.6,991.4 706.6,989.8 707.6,989.3 708.6,989.5 709.6,987.7 710.6,988.8 711.6,988.5 712.6,990.9 713.6,992.4 714.6,993.0 715.6,989.4 716.6,988.0 717.6,991.5 718.6,991.8 719.6,992.2 720.6,991.8 721.6,991.1 722.6,993.5 723.6,992.5 724.6,991.9 725.6,989.4 726.6,990.1 727.6,992.0 728.6,991.5 729.6,991.9 730.6,990.4 731.6,991.2 732.6,989.7 733.6,989.6 734.6,991.4 735.6,992.9" stroke="#3e3e3e" stroke-width="1.6" opacity="0.8"/>
</g>
<g fill="none" stroke-linejoin="round" stroke-linecap="butt">
<polyline points="405.6,1136.1 406.6,1136.1 407.6,1136.1 408.6,1136.1 409.6,1136.1 410.6,1136.1 411.6,1136.1 412.6,1136.1 413.6,1136.1 414.6,1136.0 415.6,1136.0 416.6,1136.0 417.6,1136.0 418.6,1136.0 419.6,1136.0 420.6,1136.0 421.6,1136.0 422.6,1136.0 423.6,1136.0 424.6,1136.0 425.6,1135.9 426.6,1135.9 427.6,1135.9 428.6,1135.9 429.6,1135.9 430.6,1135.9 431.6,1135.9 432.6,1135.9 433.6,1135.9 434.6,1135.9 435.6,1135.9 436.6,1135.8 437.6,1135.8 438.6,1135.8 439.6,1135.8 440.6,1135.8 441.6,1135.8 442.6,1135.8 443.6,1135.8 444.6,1135.8 445.6,1135.8 446.6,1135.7 447.6,1135.7 448.6,1135.7 449.6,1135.7 450.6,1135.7 451.6,1135.7 452.6,1135.7 453.6,1135.7 454.6,1135.7 455.6,1135.7 456.6,1135.6 457.6,1135.6 458.6,1135.6 459.6,1135.6 460.6,1135.6 461.6,1135.6 462.6,1135.6 463.6,1135.6 464.6,1135.5 465.6,1135.5 466.6,1135.5 467.6,1135.5 468.6,1135.5 469.6,1135.5 470.6,1135.5 471.6,1135.5 472.6,1135.4 473.6,1135.4 474.6,1135.4 475.6,1135.4 476.6,1135.4 477.6,1135.4 478.6,1135.3 479.6,1135.3 480.6,1135.3 481.3,1133.2 488.0,1131.5 495.4,1128.7 506.8,1118.8 516.7,1115.0 526.6,1111.5 536.5,1106.6 542.2,1105.6 542.6,1106.0 543.6,1106.1 544.6,1106.3 545.6,1106.6 546.6,1107.1 547.6,1107.7 548.6,1108.5 549.6,1109.3 550.6,1110.3 551.6,1111.3 552.6,1112.4 553.6,1113.6 554.6,1114.8 555.6,1116.0 556.6,1117.2 557.6,1118.4 558.6,1119.6 559.6,1120.8 560.6,1121.9 561.6,1123.0 562.6,1124.1 563.6,1125.1 564.6,1126.0 565.6,1126.9 566.6,1127.7 567.6,1128.5 568.6,1129.2 569.6,1129.8 570.6,1130.3 571.6,1130.9 572.6,1131.3 573.6,1131.7 574.6,1132.1 575.6,1132.4 576.6,1132.7 577.6,1132.9 578.6,1133.1 579.6,1133.3 580.6,1133.5 581.6,1133.6 582.6,1133.7 583.6,1133.8 584.6,1133.9 585.6,1134.0 586.6,1134.0 587.6,1134.1 588.6,1134.1 589.6,1134.2 590.6,1134.2 591.6,1134.2 592.6,1134.3 593.6,1134.3 594.6,1134.3 595.6,1134.3 596.6,1134.3 597.6,1134.3 598.6,1134.4 599.6,1134.4 600.6,1134.4 601.6,1134.4 602.6,1134.4 603.6,1134.4 604.6,1134.4 605.6,1134.4 606.6,1134.4 607.6,1134.4 608.6,1134.4 609.6,1134.4 610.6,1134.4 611.6,1134.4 612.6,1134.4 613.6,1134.4 614.6,1134.4 615.6,1134.4 616.6,1134.4 617.6,1134.4 618.6,1134.4 619.6,1134.4 620.6,1134.4 621.6,1134.4 622.6,1134.4 623.6,1134.4 624.6,1134.4 625.6,1134.4 626.6,1134.4 627.6,1134.4 628.6,1134.4 629.6,1134.4 630.6,1134.4 631.6,1134.4 632.6,1134.4 633.6,1134.4 634.6,1134.4 635.6,1134.4 636.6,1134.4 637.6,1134.4 638.6,1134.4 639.6,1134.3 640.6,1134.3 641.6,1134.3 642.6,1134.3 643.6,1134.3 644.6,1134.3 645.6,1134.3 646.6,1134.3 647.6,1134.3 648.6,1134.3 649.6,1134.3 650.6,1134.3 651.6,1134.3 652.6,1134.3 653.6,1134.3 654.6,1134.3 655.6,1134.3 656.6,1134.3 657.6,1134.3 658.6,1134.3 659.6,1134.3 660.6,1134.2 661.6,1134.2 662.6,1134.2 663.6,1134.2 664.6,1134.2 665.6,1134.2 666.6,1134.2 667.6,1134.2 668.6,1134.2 669.6,1134.2 670.6,1134.2 671.6,1134.2 672.6,1134.2 673.6,1134.2 674.6,1134.2 675.6,1134.2 676.6,1134.2 677.6,1134.1 678.6,1134.1 679.6,1134.1 680.6,1134.1 681.6,1134.1 682.6,1134.1 683.6,1134.1 684.6,1134.1 685.6,1134.1 686.6,1134.1 687.6,1134.1 688.6,1134.1 689.6,1134.1 690.6,1134.1 691.6,1134.1 692.6,1134.1 693.6,1134.0 694.6,1134.0 695.6,1134.0 696.6,1134.0 697.6,1134.0 698.6,1134.0 699.6,1134.0 700.6,1134.0 701.6,1134.0 702.6,1134.0 703.6,1134.0 704.6,1134.0 705.6,1134.0 706.6,1134.0 707.6,1134.0 708.6,1134.0 709.6,1133.9 710.6,1133.9 711.6,1133.9 712.6,1133.9 713.6,1133.9 714.6,1133.9 715.6,1133.9 716.6,1133.9 717.6,1133.9 718.6,1133.9 719.6,1133.9 720.6,1133.9 721.6,1133.9 722.6,1133.9 723.6,1133.9 724.6,1133.8 725.6,1133.8 726.6,1133.8 727.6,1133.8 728.6,1133.8 729.6,1133.8 730.6,1133.8 731.6,1133.8 732.6,1133.8 733.6,1133.8 734.6,1133.8 735.6,1133.8" stroke="#bf4a5c" stroke-width="2.4"/>
<polyline points="405.6,1136.1 406.6,1136.1 407.6,1136.1 408.6,1136.1 409.6,1136.1 410.6,1136.1 411.6,1136.1 412.6,1136.1 413.6,1136.1 414.6,1136.0 415.6,1136.0 416.6,1136.0 417.6,1136.0 418.6,1136.0 419.6,1136.0 420.6,1136.0 421.6,1136.0 422.6,1136.0 423.6,1136.0 424.6,1136.0 425.6,1135.9 426.6,1135.9 427.6,1135.9 428.6,1135.9 429.6,1135.9 430.6,1135.9 431.6,1135.9 432.6,1135.9 433.6,1135.9 434.6,1135.9 435.6,1135.9 436.6,1135.8 437.6,1135.8 438.6,1135.8 439.6,1135.8 440.6,1135.8 441.6,1135.8 442.6,1135.8 443.6,1135.8 444.6,1135.8 445.6,1135.8 446.6,1135.7 447.6,1135.7 448.6,1135.7 449.6,1135.7 450.6,1135.7 451.6,1135.7 452.6,1135.7 453.6,1135.7 454.6,1135.7 455.6,1135.7 456.6,1135.6 457.6,1135.6 458.6,1135.6 459.6,1135.6 460.6,1135.6 461.6,1135.6 462.6,1135.6 463.6,1135.6 464.6,1135.5 465.6,1135.5 466.6,1135.5 467.6,1135.5 468.6,1135.5 469.6,1135.5 470.6,1135.5 471.6,1135.5 472.6,1135.4 473.6,1135.4 474.6,1135.4 475.6,1135.4 476.6,1135.4 477.6,1135.4 478.6,1135.3 479.6,1135.3 480.6,1135.3 481.6,1135.3 482.6,1135.3 483.6,1135.3 484.6,1135.2 485.6,1135.2 486.6,1135.2 487.6,1135.2 488.6,1135.1 489.6,1135.1 490.6,1135.1 491.6,1135.1 492.6,1135.0 493.6,1135.0 494.6,1135.0 495.6,1134.9 496.6,1134.9 497.6,1134.9 498.6,1134.8 499.6,1134.7 500.6,1134.7 501.6,1134.6 502.6,1134.5 503.6,1134.4 504.6,1134.3 505.6,1134.2 506.6,1134.0 507.6,1133.9 508.6,1133.7 509.6,1133.5 510.6,1133.2 511.6,1132.9 512.6,1132.6 513.6,1132.3 514.6,1131.8 515.6,1131.4 516.6,1130.9 517.6,1130.3 518.6,1129.7 519.6,1129.0 520.6,1128.2 521.6,1127.4 522.6,1126.5 523.6,1125.6 524.6,1124.6 525.6,1123.6 526.6,1122.5 527.6,1121.3 528.6,1120.1 529.6,1118.9 530.6,1117.7 531.6,1116.5 532.6,1115.2 533.6,1114.0 534.6,1112.9 535.6,1111.8 536.6,1110.7 537.6,1109.8 538.6,1108.9 539.6,1108.2 540.6,1107.6 541.6,1107.2 542.6,1106.9 543.6,1106.8 544.6,1106.9 545.6,1107.1 546.6,1107.5 547.6,1108.0 548.6,1108.7 549.6,1109.5 550.6,1110.4 551.6,1111.4 552.6,1112.5 553.6,1113.6 554.6,1114.8 555.6,1116.0 556.6,1117.2 557.6,1118.4 558.6,1119.6 559.6,1120.8 560.6,1121.9 561.6,1123.0 562.6,1124.1 563.6,1125.1 564.6,1126.0 565.6,1126.9 566.6,1127.7 567.6,1128.5 568.6,1129.2 569.6,1129.8 570.6,1130.3 571.6,1130.9 572.6,1131.3 573.6,1131.7 574.6,1132.1 575.6,1132.4 576.6,1132.7 577.6,1132.9 578.6,1133.1 579.6,1133.3 580.6,1133.5 581.6,1133.6 582.6,1133.7 583.6,1133.8 584.6,1133.9 585.6,1134.0 586.6,1134.0 587.6,1134.1 588.6,1134.1 589.6,1134.2 590.6,1134.2 591.6,1134.2 592.6,1134.3 593.6,1134.3 594.6,1134.3 595.6,1134.3 596.6,1134.3 597.6,1134.3 598.6,1134.4 599.6,1134.4 600.6,1134.4 601.6,1134.4 602.6,1134.4 603.6,1134.4 604.6,1134.4 605.6,1134.4 606.6,1134.4 607.6,1134.4 608.6,1134.4 609.6,1134.4 610.6,1134.4 611.6,1134.4 612.6,1134.4 613.6,1134.4 614.6,1134.4 615.6,1134.4 616.6,1134.4 617.6,1134.4 618.6,1134.4 619.6,1134.4 620.6,1134.4 621.6,1134.4 622.6,1134.4 623.6,1134.4 624.6,1134.4 625.6,1134.4 626.6,1134.4 627.6,1134.4 628.6,1134.4 629.6,1134.4 630.6,1134.4 631.6,1134.4 632.6,1134.4 633.6,1134.4 634.6,1134.4 635.6,1134.4 636.6,1134.4 637.6,1134.4 638.6,1134.4 639.6,1134.3 640.6,1134.3 641.6,1134.3 642.6,1134.3 643.6,1134.3 644.6,1134.3 645.6,1134.3 646.6,1134.3 647.6,1134.3 648.6,1134.3 649.6,1134.3 650.6,1134.3 651.6,1134.3 652.6,1134.3 653.6,1134.3 654.6,1134.3 655.6,1134.3 656.6,1134.3 657.6,1134.3 658.6,1134.3 659.6,1134.3 660.6,1134.2 661.6,1134.2 662.6,1134.2 663.6,1134.2 664.6,1134.2 665.6,1134.2 666.6,1134.2 667.6,1134.2 668.6,1134.2 669.6,1134.2 670.6,1134.2 671.6,1134.2 672.6,1134.2 673.6,1134.2 674.6,1134.2 675.6,1134.2 676.6,1134.2 677.6,1134.1 678.6,1134.1 679.6,1134.1 680.6,1134.1 681.6,1134.1 682.6,1134.1 683.6,1134.1 684.6,1134.1 685.6,1134.1 686.6,1134.1 687.6,1134.1 688.6,1134.1 689.6,1134.1 690.6,1134.1 691.6,1134.1 692.6,1134.1 693.6,1134.0 694.6,1134.0 695.6,1134.0 696.6,1134.0 697.6,1134.0 698.6,1134.0 699.6,1134.0 700.6,1134.0 701.6,1134.0 702.6,1134.0 703.6,1134.0 704.6,1134.0 705.6,1134.0 706.6,1134.0 707.6,1134.0 708.6,1134.0 709.6,1133.9 710.6,1133.9 711.6,1133.9 712.6,1133.9 713.6,1133.9 714.6,1133.9 715.6,1133.9 716.6,1133.9 717.6,1133.9 718.6,1133.9 719.6,1133.9 720.6,1133.9 721.6,1133.9 722.6,1133.9 723.6,1133.9 724.6,1133.8 725.6,1133.8 726.6,1133.8 727.6,1133.8 728.6,1133.8 729.6,1133.8 730.6,1133.8 731.6,1133.8 732.6,1133.8 733.6,1133.8 734.6,1133.8 735.6,1133.8" stroke="#428e6c" stroke-width="2.2"/>
<polyline points="405.6,1136.2 406.6,1136.2 407.6,1136.2 408.6,1136.2 409.6,1136.2 410.6,1136.2 411.6,1136.1 412.6,1136.1 413.6,1136.1 414.6,1136.1 415.6,1136.1 416.6,1136.1 417.6,1136.1 418.6,1136.1 419.6,1136.1 420.6,1136.1 421.6,1136.1 422.6,1136.1 423.6,1136.1 424.6,1136.1 425.6,1136.0 426.6,1136.0 427.6,1136.0 428.6,1136.0 429.6,1136.0 430.6,1136.0 431.6,1136.0 432.6,1136.0 433.6,1136.0 434.6,1136.0 435.6,1136.0 436.6,1136.0 437.6,1136.0 438.6,1136.0 439.6,1135.9 440.6,1135.9 441.6,1135.9 442.6,1135.9 443.6,1135.9 444.6,1135.9 445.6,1135.9 446.6,1135.9 447.6,1135.9 448.6,1135.9 449.6,1135.9 450.6,1135.9 451.6,1135.9 452.6,1135.9 453.6,1135.8 454.6,1135.8 455.6,1135.8 456.6,1135.8 457.6,1135.8 458.6,1135.8 459.6,1135.8 460.6,1135.8 461.6,1135.8 462.6,1135.8 463.6,1135.8 464.6,1135.8 465.6,1135.8 466.6,1135.8 467.6,1135.7 468.6,1135.7 469.6,1135.7 470.6,1135.7 471.6,1135.7 472.6,1135.7 473.6,1135.7 474.6,1135.7 475.6,1135.7 476.6,1135.7 477.6,1135.7 478.6,1135.7 479.6,1135.7 480.6,1135.6 481.6,1135.6 482.6,1135.6 483.6,1135.6 484.6,1135.6 485.6,1135.6 486.6,1135.5 487.6,1135.5 488.6,1135.4 489.6,1135.4 490.6,1135.3 491.6,1135.2 492.6,1135.1 493.6,1134.9 494.6,1134.8 495.6,1134.5 496.6,1134.3 497.6,1134.0 498.6,1133.6 499.6,1133.2 500.6,1132.8 501.6,1132.2 502.6,1131.7 503.6,1131.0 504.6,1130.3 505.6,1129.6 506.6,1128.8 507.6,1128.0 508.6,1127.1 509.6,1126.3 510.6,1125.5 511.6,1124.7 512.6,1124.0 513.6,1123.3 514.6,1122.7 515.6,1122.2 516.6,1121.8 517.6,1121.6 518.6,1121.5 519.6,1121.5 520.6,1121.7 521.6,1121.9 522.6,1122.3 523.6,1122.8 524.6,1123.4 525.6,1124.1 526.6,1124.9 527.6,1125.7 528.6,1126.5 529.6,1127.3 530.6,1128.1 531.6,1128.9 532.6,1129.7 533.6,1130.4 534.6,1131.0 535.6,1131.6 536.6,1132.2 537.6,1132.7 538.6,1133.1 539.6,1133.5 540.6,1133.8 541.6,1134.1 542.6,1134.3 543.6,1134.5 544.6,1134.6 545.6,1134.7 546.6,1134.8 547.6,1134.9 548.6,1135.0 549.6,1135.0 550.6,1135.0 551.6,1135.1 552.6,1135.1 553.6,1135.1 554.6,1135.1 555.6,1135.1 556.6,1135.1 557.6,1135.1 558.6,1135.1 559.6,1135.1 560.6,1135.1 561.6,1135.1 562.6,1135.1 563.6,1135.1 564.6,1135.0 565.6,1135.0 566.6,1135.0 567.6,1135.0 568.6,1135.0 569.6,1135.0 570.6,1135.0 571.6,1135.0 572.6,1135.0 573.6,1135.0 574.6,1135.0 575.6,1135.0 576.6,1135.0 577.6,1135.0 578.6,1134.9 579.6,1134.9 580.6,1134.9 581.6,1134.9 582.6,1134.9 583.6,1134.9 584.6,1134.9 585.6,1134.9 586.6,1134.9 587.6,1134.9 588.6,1134.9 589.6,1134.9 590.6,1134.9 591.6,1134.8 592.6,1134.8 593.6,1134.8 594.6,1134.8 595.6,1134.8 596.6,1134.8 597.6,1134.8 598.6,1134.8 599.6,1134.8 600.6,1134.8 601.6,1134.8 602.6,1134.8 603.6,1134.8 604.6,1134.8 605.6,1134.7 606.6,1134.7 607.6,1134.7 608.6,1134.7 609.6,1134.7 610.6,1134.7 611.6,1134.7 612.6,1134.7 613.6,1134.7 614.6,1134.7 615.6,1134.7 616.6,1134.7 617.6,1134.7 618.6,1134.7 619.6,1134.6 620.6,1134.6 621.6,1134.6 622.6,1134.6 623.6,1134.6 624.6,1134.6 625.6,1134.6 626.6,1134.6 627.6,1134.6 628.6,1134.6 629.6,1134.6 630.6,1134.6 631.6,1134.6 632.6,1134.6 633.6,1134.5 634.6,1134.5 635.6,1134.5 636.6,1134.5 637.6,1134.5 638.6,1134.5 639.6,1134.5 640.6,1134.5 641.6,1134.5 642.6,1134.5 643.6,1134.5 644.6,1134.5 645.6,1134.5 646.6,1134.5 647.6,1134.4 648.6,1134.4 649.6,1134.4 650.6,1134.4 651.6,1134.4 652.6,1134.4 653.6,1134.4 654.6,1134.4 655.6,1134.4 656.6,1134.4 657.6,1134.4 658.6,1134.4 659.6,1134.4 660.6,1134.4 661.6,1134.3 662.6,1134.3 663.6,1134.3 664.6,1134.3 665.6,1134.3 666.6,1134.3 667.6,1134.3 668.6,1134.3 669.6,1134.3 670.6,1134.3 671.6,1134.3 672.6,1134.3 673.6,1134.3 674.6,1134.2 675.6,1134.2 676.6,1134.2 677.6,1134.2 678.6,1134.2 679.6,1134.2 680.6,1134.2 681.6,1134.2 682.6,1134.2 683.6,1134.2 684.6,1134.2 685.6,1134.2 686.6,1134.2 687.6,1134.2 688.6,1134.1 689.6,1134.1 690.6,1134.1 691.6,1134.1 692.6,1134.1 693.6,1134.1 694.6,1134.1 695.6,1134.1 696.6,1134.1 697.6,1134.1 698.6,1134.1 699.6,1134.1 700.6,1134.1 701.6,1134.1 702.6,1134.0 703.6,1134.0 704.6,1134.0 705.6,1134.0 706.6,1134.0 707.6,1134.0 708.6,1134.0 709.6,1134.0 710.6,1134.0 711.6,1134.0 712.6,1134.0 713.6,1134.0 714.6,1134.0 715.6,1134.0 716.6,1133.9 717.6,1133.9 718.6,1133.9 719.6,1133.9 720.6,1133.9 721.6,1133.9 722.6,1133.9 723.6,1133.9 724.6,1133.9 725.6,1133.9 726.6,1133.9 727.6,1133.9 728.6,1133.9 729.6,1133.9 730.6,1133.8 731.6,1133.8 732.6,1133.8 733.6,1133.8 734.6,1133.8 735.6,1133.8" stroke="#a586da" stroke-width="1.8"/>
<line x1="480.0" y1="1136.2" x2="570.0" y2="1135.5" stroke="#4480d2" stroke-width="1.5"/>
<polyline points="405.6,1136.3 406.6,1136.1 407.6,1136.0 408.6,1135.3 409.6,1136.0 410.6,1136.0 411.6,1137.6 412.6,1135.1 413.6,1139.4 414.6,1132.7 415.6,1134.9 416.6,1136.9 417.6,1136.0 418.6,1134.9 419.6,1135.5 420.6,1136.8 421.6,1138.1 422.6,1134.5 423.6,1135.7 424.6,1134.9 425.6,1137.1 426.6,1135.6 427.6,1136.0 428.6,1137.5 429.6,1136.0 430.6,1136.2 431.6,1134.8 432.6,1135.0 433.6,1132.6 434.6,1133.4 435.6,1134.1 436.6,1134.1 437.6,1138.2 438.6,1133.2 439.6,1131.5 440.6,1134.5 441.6,1136.1 442.6,1136.0 443.6,1137.4 444.6,1139.3 445.6,1136.2 446.6,1133.8 447.6,1134.7 448.6,1137.0 449.6,1136.6 450.6,1135.6 451.6,1136.0 452.6,1136.1 453.6,1133.2 454.6,1135.3 455.6,1134.2 456.6,1134.7 457.6,1134.4 458.6,1135.2 459.6,1136.7 460.6,1135.6 461.6,1135.7 462.6,1136.8 463.6,1136.5 464.6,1134.8 465.6,1136.3 466.6,1135.1 467.6,1134.8 468.6,1135.5 469.6,1137.6 470.6,1134.8 471.6,1134.5 472.6,1135.2 473.6,1134.0 474.6,1135.0 475.6,1137.0 476.6,1133.2 477.6,1134.5 478.6,1133.9 479.6,1137.7 480.6,1136.9 481.6,1134.5 482.6,1133.1 483.6,1131.1 484.6,1131.8 485.6,1132.3 486.6,1131.9 487.6,1134.1 488.6,1133.2 489.6,1130.1 490.6,1129.6 491.6,1130.1 492.6,1127.9 493.6,1128.4 494.6,1127.6 495.6,1128.2 496.6,1127.6 497.6,1125.8 498.6,1127.3 499.6,1124.6 500.6,1124.9 501.6,1122.0 502.6,1120.5 503.6,1119.9 504.6,1119.4 505.6,1120.5 506.6,1116.9 507.6,1120.1 508.6,1116.8 509.6,1119.4 510.6,1118.1 511.6,1116.4 512.6,1117.5 513.6,1115.7 514.6,1115.6 515.6,1115.4 516.6,1119.1 517.6,1114.6 518.6,1117.0 519.6,1114.4 520.6,1112.7 521.6,1112.1 522.6,1114.3 523.6,1112.6 524.6,1111.0 525.6,1112.2 526.6,1111.9 527.6,1112.6 528.6,1109.3 529.6,1111.7 530.6,1111.8 531.6,1108.7 532.6,1107.8 533.6,1108.4 534.6,1107.2 535.6,1108.0 536.6,1107.7 537.6,1106.6 538.6,1104.6 539.6,1102.4 540.6,1104.9 541.6,1103.4 542.6,1106.7 543.6,1108.8 544.6,1107.3 545.6,1108.1 546.6,1109.3 547.6,1109.6 548.6,1107.4 549.6,1107.4 550.6,1108.8 551.6,1110.8 552.6,1110.9 553.6,1113.2 554.6,1116.4 555.6,1115.9 556.6,1117.1 557.6,1116.8 558.6,1118.8 559.6,1121.7 560.6,1124.1 561.6,1124.0 562.6,1123.2 563.6,1127.5 564.6,1123.8 565.6,1125.4 566.6,1126.0 567.6,1127.7 568.6,1129.6 569.6,1129.2 570.6,1135.2 571.6,1135.5 572.6,1134.1 573.6,1131.9 574.6,1129.8 575.6,1133.2 576.6,1134.2 577.6,1134.0 578.6,1135.5 579.6,1134.8 580.6,1131.8 581.6,1130.2 582.6,1131.9 583.6,1133.3 584.6,1134.5 585.6,1134.5 586.6,1133.9 587.6,1132.8 588.6,1134.4 589.6,1135.2 590.6,1133.6 591.6,1132.5 592.6,1133.0 593.6,1132.3 594.6,1133.8 595.6,1132.3 596.6,1134.0 597.6,1132.9 598.6,1134.4 599.6,1137.8 600.6,1133.8 601.6,1134.2 602.6,1137.7 603.6,1136.8 604.6,1135.4 605.6,1135.4 606.6,1134.3 607.6,1132.2 608.6,1129.7 609.6,1131.6 610.6,1132.4 611.6,1135.2 612.6,1135.0 613.6,1132.2 614.6,1134.2 615.6,1132.4 616.6,1135.3 617.6,1133.1 618.6,1135.1 619.6,1134.7 620.6,1133.7 621.6,1135.6 622.6,1134.4 623.6,1130.7 624.6,1133.6 625.6,1132.6 626.6,1133.0 627.6,1134.1 628.6,1135.3 629.6,1134.8 630.6,1132.9 631.6,1132.7 632.6,1132.0 633.6,1133.0 634.6,1132.8 635.6,1134.8 636.6,1133.4 637.6,1135.3 638.6,1137.2 639.6,1135.9 640.6,1134.5 641.6,1136.0 642.6,1133.5 643.6,1133.8 644.6,1136.0 645.6,1135.6 646.6,1134.4 647.6,1133.8 648.6,1133.2 649.6,1136.0 650.6,1137.6 651.6,1137.5 652.6,1135.4 653.6,1135.0 654.6,1133.2 655.6,1132.1 656.6,1134.4 657.6,1135.1 658.6,1132.6 659.6,1131.7 660.6,1133.7 661.6,1132.0 662.6,1134.9 663.6,1136.1 664.6,1133.1 665.6,1133.2 666.6,1135.1 667.6,1135.9 668.6,1134.6 669.6,1134.0 670.6,1133.6 671.6,1134.7 672.6,1135.1 673.6,1134.0 674.6,1133.2 675.6,1133.5 676.6,1133.5 677.6,1133.1 678.6,1131.8 679.6,1133.3 680.6,1134.9 681.6,1134.4 682.6,1135.8 683.6,1135.1 684.6,1135.4 685.6,1135.7 686.6,1131.5 687.6,1134.1 688.6,1135.5 689.6,1132.7 690.6,1130.7 691.6,1131.3 692.6,1132.5 693.6,1133.8 694.6,1131.5 695.6,1132.7 696.6,1131.7 697.6,1133.3 698.6,1133.4 699.6,1133.9 700.6,1133.0 701.6,1132.8 702.6,1134.7 703.6,1132.4 704.6,1133.2 705.6,1132.6 706.6,1132.9 707.6,1132.3 708.6,1134.9 709.6,1135.5 710.6,1133.9 711.6,1136.7 712.6,1135.0 713.6,1136.3 714.6,1133.0 715.6,1132.6 716.6,1132.4 717.6,1136.2 718.6,1136.0 719.6,1133.9 720.6,1134.2 721.6,1133.7 722.6,1133.5 723.6,1132.3 724.6,1134.5 725.6,1134.5 726.6,1132.8 727.6,1133.9 728.6,1135.1 729.6,1134.5 730.6,1133.5 731.6,1134.5 732.6,1135.0 733.6,1137.0 734.6,1134.0 735.6,1134.3" stroke="#3e3e3e" stroke-width="1.6" opacity="0.8"/>
</g>
<rect x="404.6" y="703.5" width="332.29999999999995" height="473.70000000000005" fill="none" stroke="#1c1c1c" stroke-width="2"/>
<line x1="404.6" y1="861.4" x2="736.9" y2="861.4" stroke="#1c1c1c" stroke-width="1.8"/>
<line x1="404.6" y1="1018.3" x2="736.9" y2="1018.3" stroke="#1c1c1c" stroke-width="1.8"/>
<line x1="404.6" y1="1177.2" x2="404.6" y2="1181.7" stroke="#1c1c1c" stroke-width="1.6"/>
<line x1="426.8" y1="1177.2" x2="426.8" y2="1180.0" stroke="#1c1c1c" stroke-width="1.6"/>
<line x1="448.9" y1="1177.2" x2="448.9" y2="1181.7" stroke="#1c1c1c" stroke-width="1.6"/>
<line x1="471.1" y1="1177.2" x2="471.1" y2="1180.0" stroke="#1c1c1c" stroke-width="1.6"/>
<line x1="493.2" y1="1177.2" x2="493.2" y2="1181.7" stroke="#1c1c1c" stroke-width="1.6"/>
<line x1="515.4" y1="1177.2" x2="515.4" y2="1180.0" stroke="#1c1c1c" stroke-width="1.6"/>
<line x1="537.5" y1="1177.2" x2="537.5" y2="1181.7" stroke="#1c1c1c" stroke-width="1.6"/>
<line x1="559.7" y1="1177.2" x2="559.7" y2="1180.0" stroke="#1c1c1c" stroke-width="1.6"/>
<line x1="581.8" y1="1177.2" x2="581.8" y2="1181.7" stroke="#1c1c1c" stroke-width="1.6"/>
<line x1="604.0" y1="1177.2" x2="604.0" y2="1180.0" stroke="#1c1c1c" stroke-width="1.6"/>
<line x1="626.1" y1="1177.2" x2="626.1" y2="1181.7" stroke="#1c1c1c" stroke-width="1.6"/>
<line x1="648.3" y1="1177.2" x2="648.3" y2="1180.0" stroke="#1c1c1c" stroke-width="1.6"/>
<line x1="670.4" y1="1177.2" x2="670.4" y2="1181.7" stroke="#1c1c1c" stroke-width="1.6"/>
<line x1="692.6" y1="1177.2" x2="692.6" y2="1180.0" stroke="#1c1c1c" stroke-width="1.6"/>
<line x1="714.7" y1="1177.2" x2="714.7" y2="1181.7" stroke="#1c1c1c" stroke-width="1.6"/>
<line x1="736.9" y1="1177.2" x2="736.9" y2="1180.0" stroke="#1c1c1c" stroke-width="1.6"/>
<text x="0" y="0" font-size="22" fill="#5a5a5a" text-anchor="middle" transform="translate(404.60,1201.40) scale(0.94,1)">394</text>
<text x="0" y="0" font-size="22" fill="#5a5a5a" text-anchor="middle" transform="translate(448.91,1201.40) scale(0.94,1)">396</text>
<text x="0" y="0" font-size="22" fill="#5a5a5a" text-anchor="middle" transform="translate(493.21,1201.40) scale(0.94,1)">398</text>
<text x="0" y="0" font-size="22" fill="#5a5a5a" text-anchor="middle" transform="translate(537.52,1201.40) scale(0.94,1)">400</text>
<text x="0" y="0" font-size="22" fill="#5a5a5a" text-anchor="middle" transform="translate(581.83,1201.40) scale(0.94,1)">402</text>
<text x="0" y="0" font-size="22" fill="#5a5a5a" text-anchor="middle" transform="translate(626.13,1201.40) scale(0.94,1)">404</text>
<text x="0" y="0" font-size="22" fill="#5a5a5a" text-anchor="middle" transform="translate(670.44,1201.40) scale(0.94,1)">406</text>
<text x="0" y="0" font-size="22" fill="#5a5a5a" text-anchor="middle" transform="translate(714.75,1201.40) scale(0.94,1)">408</text>
<g fill="none" stroke-linejoin="round" stroke-linecap="butt">
<polyline points="771.2,812.5 772.2,812.5 773.2,812.5 774.2,812.5 775.2,812.5 776.2,812.6 777.2,812.6 778.2,812.6 779.2,812.6 780.2,812.6 781.2,812.6 782.2,812.6 783.2,812.6 784.2,812.6 785.2,812.6 786.2,812.6 787.2,812.7 788.2,812.7 789.2,812.7 790.2,812.7 791.2,812.7 792.2,812.7 793.2,812.7 794.2,812.7 795.2,812.7 796.2,812.7 797.2,812.7 798.2,812.8 799.2,812.8 800.2,812.8 801.2,812.8 802.2,812.8 803.2,812.8 804.2,812.8 805.2,812.8 806.2,812.8 807.2,812.8 808.2,812.8 809.2,812.8 810.2,812.9 811.2,812.9 812.2,812.9 813.2,812.9 814.2,812.9 815.2,812.9 816.2,812.9 817.2,812.9 818.2,812.9 819.2,812.9 820.2,812.9 821.2,812.9 822.2,812.9 823.2,813.0 824.2,813.0 825.2,813.0 826.2,813.0 827.2,813.0 828.2,813.0 829.2,813.0 830.2,813.0 831.2,813.0 832.2,813.0 833.2,813.0 834.2,813.0 835.2,813.0 836.2,813.0 837.2,813.0 838.2,812.9 839.2,812.9 840.2,812.9 841.2,812.9 842.2,812.9 843.2,812.8 844.2,812.8 845.2,812.8 846.2,812.7 847.2,812.7 848.2,812.6 849.2,812.6 850.2,812.5 851.2,812.5 852.2,812.4 853.2,812.3 854.2,812.2 855.2,812.1 856.2,812.0 857.2,811.9 858.2,811.8 859.2,811.7 860.2,811.5 861.2,811.4 862.2,811.2 863.2,811.1 864.2,810.9 865.2,810.7 866.2,810.5 867.2,810.3 868.2,810.1 869.2,809.9 870.2,809.6 871.2,809.4 872.2,809.2 873.2,808.9 874.2,808.7 875.2,808.4 876.2,808.1 877.2,807.9 878.2,807.6 879.2,807.3 880.2,807.1 881.2,806.8 882.2,806.5 883.2,806.3 884.2,806.0 885.2,805.8 886.2,805.5 887.2,805.3 888.2,805.1 889.2,804.9 890.2,804.7 891.2,804.5 892.2,804.3 893.2,804.2 894.2,804.0 895.2,803.9 896.2,803.8 897.2,803.8 898.2,803.7 899.2,803.7 900.2,803.7 901.2,803.7 902.2,803.7 903.2,803.8 904.2,803.8 905.2,803.9 906.2,804.0 907.2,804.2 908.2,804.3 909.2,804.5 910.2,804.6 911.2,804.8 912.2,805.1 913.2,805.3 914.2,805.5 915.2,805.8 916.2,806.0 917.2,806.3 918.2,806.6 919.2,806.8 920.2,807.1 921.2,807.4 922.2,807.7 923.2,808.0 924.2,808.3 925.2,808.5 926.2,808.8 927.2,809.1 928.2,809.4 929.2,809.6 930.2,809.9 931.2,810.2 932.2,810.4 933.2,810.6 934.2,810.9 935.2,811.1 936.2,811.3 937.2,811.5 938.2,811.7 939.2,811.9 940.2,812.1 941.2,812.2 942.2,812.4 943.2,812.5 944.2,812.7 945.2,812.8 946.2,812.9 947.2,813.0 948.2,813.2 949.2,813.2 950.2,813.3 951.2,813.4 952.2,813.5 953.2,813.6 954.2,813.6 955.2,813.7 956.2,813.8 957.2,813.8 958.2,813.9 959.2,813.9 960.2,814.0 961.2,814.0 962.2,814.0 963.2,814.1 964.2,814.1 965.2,814.1 966.2,814.1 967.2,814.2 968.2,814.2 969.2,814.2 970.2,814.2 971.2,814.2 972.2,814.3 973.2,814.3 974.2,814.3 975.2,814.3 976.2,814.3 977.2,814.3 978.2,814.3 979.2,814.4 980.2,814.4 981.2,814.4 982.2,814.4 983.2,814.4 984.2,814.4 985.2,814.4 986.2,814.4 987.2,814.4 988.2,814.4 989.2,814.5 990.2,814.5 991.2,814.5 992.2,814.5 993.2,814.5 994.2,814.5 995.2,814.5 996.2,814.5 997.2,814.5 998.2,814.5 999.2,814.5 1000.2,814.6 1001.2,814.6 1002.2,814.6 1003.2,814.6 1004.2,814.6 1005.2,814.6 1006.2,814.6 1007.2,814.6 1008.2,814.6 1009.2,814.6 1010.2,814.6 1011.2,814.7 1012.2,814.7 1013.2,814.7 1014.2,814.7 1015.2,814.7 1016.2,814.7 1017.2,814.7 1018.2,814.7 1019.2,814.7 1020.2,814.7 1021.2,814.7 1022.2,814.8 1023.2,814.8 1024.2,814.8 1025.2,814.8 1026.2,814.8 1027.2,814.8 1028.2,814.8 1029.2,814.8 1030.2,814.8 1031.2,814.8 1032.2,814.8 1033.2,814.9 1034.2,814.9 1035.2,814.9 1036.2,814.9 1037.2,814.9 1038.2,814.9 1039.2,814.9 1040.2,814.9 1041.2,814.9 1042.2,814.9 1043.2,814.9 1044.2,815.0 1045.2,815.0 1046.2,815.0 1047.2,815.0 1048.2,815.0 1049.2,815.0 1050.2,815.0 1051.2,815.0 1052.2,815.0 1053.2,815.0 1054.2,815.0 1055.2,815.0 1056.2,815.1 1057.2,815.1 1058.2,815.1 1059.2,815.1 1060.2,815.1 1061.2,815.1 1062.2,815.1 1063.2,815.1 1064.2,815.1 1065.2,815.1 1066.2,815.1 1067.2,815.2 1068.2,815.2 1069.2,815.2 1070.2,815.2 1071.2,815.2 1072.2,815.2 1073.2,815.2 1074.2,815.2 1075.2,815.2 1076.2,815.2 1077.2,815.2 1078.2,815.3 1079.2,815.3 1080.2,815.3 1081.2,815.3 1082.2,815.3 1083.2,815.3 1084.2,815.3 1085.2,815.3 1086.2,815.3 1087.2,815.3 1088.2,815.3 1089.2,815.4 1090.2,815.4 1091.2,815.4 1092.2,815.4 1093.2,815.4 1094.2,815.4 1095.2,815.4 1096.2,815.4 1097.2,815.4 1098.2,815.4 1099.2,815.4 1100.2,815.5 1101.2,815.5 1102.2,815.5 1103.2,815.5 1104.2,815.5" stroke="#428e6c" stroke-width="3.2"/>
<line x1="862.0" y1="813.8" x2="945.0" y2="814.6" stroke="#4480d2" stroke-width="1.5"/>
<polyline points="771.2,811.2 772.2,813.6 773.2,811.2 774.2,813.1 775.2,810.5 776.2,813.3 777.2,812.7 778.2,815.2 779.2,815.0 780.2,813.5 781.2,812.4 782.2,813.4 783.2,812.8 784.2,811.2 785.2,813.2 786.2,808.5 787.2,811.1 788.2,815.9 789.2,814.8 790.2,810.9 791.2,814.0 792.2,813.5 793.2,811.9 794.2,811.4 795.2,812.5 796.2,814.2 797.2,813.1 798.2,816.0 799.2,812.8 800.2,814.3 801.2,810.6 802.2,808.6 803.2,811.2 804.2,812.8 805.2,816.2 806.2,813.4 807.2,813.6 808.2,811.0 809.2,812.3 810.2,813.7 811.2,812.5 812.2,814.6 813.2,816.1 814.2,815.1 815.2,813.6 816.2,812.9 817.2,814.1 818.2,811.6 819.2,814.2 820.2,812.4 821.2,813.3 822.2,811.2 823.2,810.7 824.2,810.8 825.2,813.2 826.2,813.2 827.2,813.3 828.2,814.9 829.2,812.1 830.2,814.3 831.2,812.5 832.2,811.3 833.2,811.5 834.2,814.4 835.2,816.5 836.2,813.3 837.2,811.2 838.2,809.6 839.2,811.9 840.2,813.4 841.2,813.8 842.2,813.7 843.2,815.7 844.2,813.9 845.2,813.9 846.2,812.7 847.2,811.0 848.2,808.1 849.2,811.1 850.2,811.0 851.2,811.0 852.2,810.8 853.2,811.9 854.2,812.3 855.2,808.2 856.2,810.0 857.2,812.0 858.2,812.4 859.2,811.5 860.2,811.8 861.2,808.6 862.2,810.9 863.2,810.4 864.2,810.8 865.2,811.8 866.2,811.1 867.2,808.5 868.2,805.9 869.2,807.6 870.2,808.8 871.2,809.5 872.2,811.0 873.2,810.3 874.2,809.7 875.2,805.6 876.2,808.5 877.2,808.3 878.2,811.5 879.2,810.0 880.2,806.7 881.2,806.8 882.2,807.7 883.2,805.0 884.2,802.7 885.2,805.4 886.2,804.4 887.2,804.6 888.2,805.0 889.2,804.3 890.2,805.9 891.2,805.4 892.2,805.2 893.2,806.0 894.2,804.6 895.2,801.9 896.2,803.1 897.2,801.2 898.2,803.2 899.2,801.4 900.2,802.8 901.2,805.6 902.2,805.6 903.2,803.0 904.2,801.0 905.2,802.2 906.2,805.3 907.2,805.6 908.2,802.1 909.2,805.2 910.2,805.4 911.2,806.5 912.2,808.1 913.2,804.9 914.2,806.4 915.2,806.4 916.2,808.2 917.2,806.5 918.2,804.2 919.2,806.3 920.2,808.7 921.2,807.5 922.2,807.3 923.2,808.2 924.2,808.1 925.2,807.8 926.2,807.8 927.2,811.4 928.2,809.4 929.2,810.0 930.2,812.1 931.2,812.9 932.2,808.5 933.2,808.6 934.2,808.0 935.2,809.9 936.2,806.9 937.2,807.5 938.2,810.1 939.2,812.0 940.2,810.0 941.2,812.0 942.2,814.6 943.2,811.7 944.2,814.7 945.2,813.5 946.2,809.2 947.2,812.1 948.2,813.0 949.2,815.9 950.2,813.0 951.2,816.6 952.2,814.6 953.2,815.0 954.2,813.8 955.2,814.7 956.2,816.4 957.2,814.8 958.2,813.3 959.2,815.0 960.2,813.9 961.2,814.5 962.2,816.1 963.2,815.1 964.2,815.2 965.2,814.9 966.2,814.6 967.2,815.9 968.2,817.0 969.2,815.8 970.2,811.7 971.2,810.8 972.2,814.5 973.2,817.1 974.2,817.7 975.2,814.7 976.2,815.0 977.2,813.7 978.2,814.9 979.2,814.5 980.2,812.7 981.2,815.0 982.2,814.7 983.2,818.4 984.2,817.9 985.2,813.0 986.2,815.6 987.2,813.3 988.2,813.0 989.2,813.7 990.2,811.9 991.2,819.1 992.2,817.7 993.2,814.1 994.2,816.5 995.2,811.2 996.2,815.7 997.2,815.2 998.2,815.3 999.2,816.6 1000.2,815.7 1001.2,816.1 1002.2,813.5 1003.2,815.1 1004.2,814.4 1005.2,815.6 1006.2,814.7 1007.2,815.5 1008.2,814.2 1009.2,812.3 1010.2,812.6 1011.2,815.8 1012.2,814.7 1013.2,815.0 1014.2,814.3 1015.2,816.3 1016.2,814.0 1017.2,809.8 1018.2,811.9 1019.2,812.8 1020.2,816.3 1021.2,814.0 1022.2,813.7 1023.2,815.5 1024.2,816.6 1025.2,814.9 1026.2,817.2 1027.2,815.0 1028.2,815.3 1029.2,813.5 1030.2,810.6 1031.2,812.2 1032.2,812.9 1033.2,812.7 1034.2,818.4 1035.2,813.4 1036.2,815.4 1037.2,818.0 1038.2,817.5 1039.2,816.9 1040.2,814.7 1041.2,814.0 1042.2,817.0 1043.2,818.7 1044.2,815.3 1045.2,816.0 1046.2,815.4 1047.2,816.5 1048.2,814.4 1049.2,816.7 1050.2,815.0 1051.2,815.7 1052.2,814.2 1053.2,816.7 1054.2,815.2 1055.2,816.3 1056.2,815.5 1057.2,816.9 1058.2,816.6 1059.2,820.2 1060.2,815.6 1061.2,817.0 1062.2,814.9 1063.2,815.4 1064.2,812.3 1065.2,816.5 1066.2,811.5 1067.2,815.4 1068.2,812.6 1069.2,813.8 1070.2,815.7 1071.2,814.1 1072.2,815.5 1073.2,815.3 1074.2,814.2 1075.2,815.7 1076.2,818.2 1077.2,817.0 1078.2,816.1 1079.2,815.9 1080.2,815.5 1081.2,817.8 1082.2,817.9 1083.2,816.1 1084.2,816.4 1085.2,814.0 1086.2,814.9 1087.2,815.8 1088.2,815.5 1089.2,815.4 1090.2,817.2 1091.2,817.4 1092.2,817.4 1093.2,812.0 1094.2,814.6 1095.2,813.9 1096.2,813.9 1097.2,815.1 1098.2,816.4 1099.2,812.4 1100.2,817.3 1101.2,817.1 1102.2,815.8 1103.2,813.7 1104.2,812.5" stroke="#3e3e3e" stroke-width="1.7" opacity="0.92"/>
</g>
<g fill="none" stroke-linejoin="round" stroke-linecap="butt">
<polyline points="771.2,1000.3 772.2,1000.3 773.2,1000.3 774.2,1000.3 775.2,1000.3 776.2,1000.3 777.2,1000.3 778.2,1000.3 779.2,1000.3 780.2,1000.2 781.2,1000.2 782.2,1000.2 783.2,1000.2 784.2,1000.2 785.2,1000.2 786.2,1000.2 787.2,1000.2 788.2,1000.2 789.2,1000.2 790.2,1000.2 791.2,1000.2 792.2,1000.2 793.2,1000.2 794.2,1000.2 795.2,1000.2 796.2,1000.2 797.2,1000.2 798.2,1000.1 799.2,1000.1 800.2,1000.1 801.2,1000.1 802.2,1000.1 803.2,1000.1 804.2,1000.1 805.2,1000.1 806.2,1000.1 807.2,1000.1 808.2,1000.1 809.2,1000.1 810.2,1000.1 811.2,1000.1 812.2,1000.1 813.2,1000.1 814.2,1000.1 815.2,1000.1 816.2,1000.0 817.2,1000.0 818.2,1000.0 819.2,1000.0 820.2,1000.0 821.2,1000.0 822.2,1000.0 823.2,1000.0 824.2,1000.0 825.2,1000.0 826.2,1000.0 827.2,1000.0 828.2,1000.0 829.2,1000.0 830.2,999.9 831.2,999.9 832.2,999.9 833.2,999.9 834.2,999.9 835.2,999.9 836.2,999.9 837.2,999.9 838.2,999.8 839.2,999.8 840.2,999.8 841.2,999.8 842.2,999.8 843.2,999.8 844.2,999.7 845.2,999.7 846.2,999.7 847.2,999.7 848.2,999.6 849.2,999.6 850.2,999.6 851.2,999.5 852.2,999.5 853.2,999.4 854.2,999.4 855.2,999.4 856.2,999.3 857.2,999.3 858.2,999.2 859.2,999.1 860.2,999.1 861.2,999.0 862.2,999.0 863.2,998.9 864.2,998.8 865.2,998.7 866.2,998.7 867.2,998.6 868.2,998.5 869.2,998.4 870.2,998.3 871.2,998.2 872.2,998.1 873.2,998.0 874.2,997.9 875.2,997.8 876.2,997.7 877.2,997.6 878.2,997.5 879.2,997.4 880.2,997.3 881.2,997.2 882.2,997.1 883.2,997.0 884.2,996.9 885.2,996.7 886.2,996.6 887.2,996.5 888.2,996.5 889.2,996.4 890.2,996.3 891.2,996.2 892.2,996.1 893.2,996.0 894.2,996.0 895.2,995.9 896.2,995.8 897.2,995.8 898.2,995.7 899.2,995.7 900.2,995.6 901.2,995.6 902.2,995.6 903.2,995.6 904.2,995.6 905.2,995.6 906.2,995.6 907.2,995.6 908.2,995.6 909.2,995.7 910.2,995.7 911.2,995.7 912.2,995.8 913.2,995.8 914.2,995.9 915.2,996.0 916.2,996.0 917.2,996.1 918.2,996.2 919.2,996.3 920.2,996.3 921.2,996.4 922.2,996.5 923.2,996.6 924.2,996.7 925.2,996.8 926.2,996.9 927.2,997.0 928.2,997.1 929.2,997.2 930.2,997.3 931.2,997.4 932.2,997.5 933.2,997.6 934.2,997.7 935.2,997.7 936.2,997.8 937.2,997.9 938.2,998.0 939.2,998.1 940.2,998.1 941.2,998.2 942.2,998.3 943.2,998.4 944.2,998.4 945.2,998.5 946.2,998.5 947.2,998.6 948.2,998.6 949.2,998.7 950.2,998.7 951.2,998.8 952.2,998.8 953.2,998.9 954.2,998.9 955.2,998.9 956.2,998.9 957.2,999.0 958.2,999.0 959.2,999.0 960.2,999.0 961.2,999.1 962.2,999.1 963.2,999.1 964.2,999.1 965.2,999.1 966.2,999.1 967.2,999.1 968.2,999.1 969.2,999.1 970.2,999.1 971.2,999.1 972.2,999.2 973.2,999.2 974.2,999.2 975.2,999.2 976.2,999.2 977.2,999.2 978.2,999.2 979.2,999.2 980.2,999.1 981.2,999.1 982.2,999.1 983.2,999.1 984.2,999.1 985.2,999.1 986.2,999.1 987.2,999.1 988.2,999.1 989.2,999.1 990.2,999.1 991.2,999.1 992.2,999.1 993.2,999.1 994.2,999.1 995.2,999.1 996.2,999.1 997.2,999.1 998.2,999.1 999.2,999.1 1000.2,999.1 1001.2,999.1 1002.2,999.1 1003.2,999.0 1004.2,999.0 1005.2,999.0 1006.2,999.0 1007.2,999.0 1008.2,999.0 1009.2,999.0 1010.2,999.0 1011.2,999.0 1012.2,999.0 1013.2,999.0 1014.2,999.0 1015.2,999.0 1016.2,999.0 1017.2,999.0 1018.2,999.0 1019.2,999.0 1020.2,999.0 1021.2,999.0 1022.2,998.9 1023.2,998.9 1024.2,998.9 1025.2,998.9 1026.2,998.9 1027.2,998.9 1028.2,998.9 1029.2,998.9 1030.2,998.9 1031.2,998.9 1032.2,998.9 1033.2,998.9 1034.2,998.9 1035.2,998.9 1036.2,998.9 1037.2,998.9 1038.2,998.9 1039.2,998.9 1040.2,998.9 1041.2,998.8 1042.2,998.8 1043.2,998.8 1044.2,998.8 1045.2,998.8 1046.2,998.8 1047.2,998.8 1048.2,998.8 1049.2,998.8 1050.2,998.8 1051.2,998.8 1052.2,998.8 1053.2,998.8 1054.2,998.8 1055.2,998.8 1056.2,998.8 1057.2,998.8 1058.2,998.8 1059.2,998.7 1060.2,998.7 1061.2,998.7 1062.2,998.7 1063.2,998.7 1064.2,998.7 1065.2,998.7 1066.2,998.7 1067.2,998.7 1068.2,998.7 1069.2,998.7 1070.2,998.7 1071.2,998.7 1072.2,998.7 1073.2,998.7 1074.2,998.7 1075.2,998.7 1076.2,998.7 1077.2,998.7 1078.2,998.6 1079.2,998.6 1080.2,998.6 1081.2,998.6 1082.2,998.6 1083.2,998.6 1084.2,998.6 1085.2,998.6 1086.2,998.6 1087.2,998.6 1088.2,998.6 1089.2,998.6 1090.2,998.6 1091.2,998.6 1092.2,998.6 1093.2,998.6 1094.2,998.6 1095.2,998.6 1096.2,998.5 1097.2,998.5 1098.2,998.5 1099.2,998.5 1100.2,998.5 1101.2,998.5 1102.2,998.5 1103.2,998.5 1104.2,998.5" stroke="#428e6c" stroke-width="3.2"/>
<line x1="862.0" y1="1000.3" x2="945.0" y2="999.9" stroke="#4480d2" stroke-width="1.5"/>
<polyline points="771.2,997.1 772.2,998.7 773.2,1001.2 774.2,1000.2 775.2,1000.5 776.2,997.6 777.2,998.9 778.2,999.0 779.2,1001.6 780.2,1001.0 781.2,1000.5 782.2,998.9 783.2,998.2 784.2,999.5 785.2,1002.4 786.2,997.4 787.2,994.0 788.2,1001.8 789.2,1003.8 790.2,1002.7 791.2,1001.8 792.2,1000.0 793.2,999.5 794.2,997.7 795.2,1000.5 796.2,999.9 797.2,996.5 798.2,997.9 799.2,998.4 800.2,998.3 801.2,1003.2 802.2,1003.3 803.2,995.3 804.2,999.4 805.2,1001.9 806.2,1003.3 807.2,1002.8 808.2,997.3 809.2,1000.8 810.2,1000.5 811.2,1003.1 812.2,1002.1 813.2,998.0 814.2,1002.9 815.2,998.9 816.2,1001.8 817.2,1001.6 818.2,999.6 819.2,995.6 820.2,996.9 821.2,997.3 822.2,998.8 823.2,999.2 824.2,1002.9 825.2,1001.9 826.2,1002.9 827.2,998.9 828.2,998.8 829.2,1001.4 830.2,1002.4 831.2,1002.1 832.2,999.9 833.2,998.0 834.2,1002.6 835.2,999.6 836.2,999.1 837.2,1002.6 838.2,1001.0 839.2,999.1 840.2,1001.2 841.2,999.9 842.2,1002.3 843.2,1000.5 844.2,998.4 845.2,1004.0 846.2,1003.6 847.2,1001.3 848.2,1000.0 849.2,997.2 850.2,997.7 851.2,996.5 852.2,1000.1 853.2,1002.0 854.2,999.7 855.2,998.5 856.2,999.8 857.2,999.4 858.2,1000.3 859.2,1000.5 860.2,1000.3 861.2,1000.7 862.2,997.7 863.2,999.8 864.2,995.3 865.2,997.7 866.2,997.8 867.2,999.0 868.2,998.3 869.2,998.8 870.2,995.0 871.2,996.1 872.2,995.8 873.2,997.9 874.2,998.2 875.2,997.0 876.2,996.4 877.2,995.8 878.2,996.6 879.2,997.8 880.2,998.7 881.2,997.3 882.2,995.1 883.2,994.6 884.2,997.3 885.2,994.9 886.2,995.3 887.2,991.6 888.2,996.3 889.2,996.3 890.2,995.0 891.2,995.2 892.2,996.8 893.2,996.0 894.2,996.3 895.2,995.9 896.2,993.5 897.2,991.6 898.2,996.0 899.2,994.7 900.2,997.4 901.2,998.3 902.2,995.6 903.2,994.3 904.2,994.0 905.2,998.0 906.2,996.4 907.2,995.3 908.2,997.1 909.2,994.4 910.2,994.0 911.2,994.0 912.2,995.0 913.2,993.1 914.2,993.6 915.2,995.3 916.2,993.9 917.2,993.3 918.2,995.9 919.2,994.2 920.2,995.1 921.2,997.4 922.2,997.0 923.2,1000.1 924.2,997.7 925.2,994.2 926.2,996.6 927.2,997.2 928.2,998.5 929.2,994.9 930.2,996.2 931.2,999.0 932.2,998.4 933.2,999.9 934.2,997.1 935.2,998.4 936.2,998.0 937.2,1000.9 938.2,997.2 939.2,1000.0 940.2,999.2 941.2,998.7 942.2,997.2 943.2,995.9 944.2,994.7 945.2,997.7 946.2,996.4 947.2,1000.0 948.2,999.9 949.2,1000.0 950.2,1001.3 951.2,999.5 952.2,1000.7 953.2,996.3 954.2,997.1 955.2,1000.1 956.2,999.1 957.2,1002.0 958.2,1000.2 959.2,997.8 960.2,1001.2 961.2,1000.0 962.2,999.0 963.2,998.9 964.2,997.6 965.2,997.9 966.2,1000.1 967.2,998.2 968.2,998.5 969.2,997.4 970.2,998.6 971.2,999.9 972.2,1000.4 973.2,998.9 974.2,997.7 975.2,999.2 976.2,1000.8 977.2,1000.9 978.2,1004.8 979.2,1001.4 980.2,998.9 981.2,998.5 982.2,1000.8 983.2,998.0 984.2,998.4 985.2,995.9 986.2,997.5 987.2,999.9 988.2,1001.3 989.2,1001.0 990.2,1001.7 991.2,998.7 992.2,1001.9 993.2,1003.4 994.2,997.5 995.2,996.5 996.2,999.5 997.2,1000.6 998.2,1002.1 999.2,1000.5 1000.2,997.7 1001.2,997.3 1002.2,1001.2 1003.2,999.8 1004.2,996.1 1005.2,997.7 1006.2,999.9 1007.2,999.3 1008.2,1000.3 1009.2,1000.4 1010.2,999.5 1011.2,997.3 1012.2,998.5 1013.2,1000.2 1014.2,998.3 1015.2,1000.7 1016.2,1003.2 1017.2,1001.9 1018.2,1000.7 1019.2,999.7 1020.2,997.6 1021.2,1001.4 1022.2,999.1 1023.2,997.7 1024.2,1001.9 1025.2,1001.9 1026.2,998.9 1027.2,999.4 1028.2,999.7 1029.2,1000.7 1030.2,996.1 1031.2,996.1 1032.2,995.3 1033.2,997.9 1034.2,997.2 1035.2,999.0 1036.2,1002.3 1037.2,1000.9 1038.2,997.7 1039.2,998.1 1040.2,999.0 1041.2,995.3 1042.2,999.4 1043.2,998.9 1044.2,999.7 1045.2,1000.7 1046.2,999.1 1047.2,1000.4 1048.2,999.2 1049.2,995.8 1050.2,996.4 1051.2,996.3 1052.2,997.7 1053.2,999.8 1054.2,994.3 1055.2,994.9 1056.2,993.7 1057.2,994.8 1058.2,996.3 1059.2,998.0 1060.2,992.5 1061.2,993.8 1062.2,996.3 1063.2,993.2 1064.2,994.9 1065.2,995.1 1066.2,996.9 1067.2,995.7 1068.2,990.4 1069.2,990.8 1070.2,993.2 1071.2,993.4 1072.2,993.5 1073.2,996.6 1074.2,993.5 1075.2,995.0 1076.2,997.2 1077.2,992.9 1078.2,995.3 1079.2,995.6 1080.2,995.0 1081.2,1000.2 1082.2,996.9 1083.2,998.5 1084.2,996.2 1085.2,995.3 1086.2,997.2 1087.2,999.7 1088.2,998.3 1089.2,999.3 1090.2,998.3 1091.2,1000.3 1092.2,999.4 1093.2,999.1 1094.2,1000.0 1095.2,999.9 1096.2,999.1 1097.2,998.0 1098.2,998.6 1099.2,997.8 1100.2,1000.6 1101.2,999.1 1102.2,1000.3 1103.2,998.1 1104.2,999.3" stroke="#3e3e3e" stroke-width="1.7" opacity="0.92"/>
</g>
<g fill="none" stroke-linejoin="round" stroke-linecap="butt">
<polyline points="771.2,1166.0 772.2,1166.0 773.2,1166.0 774.2,1166.0 775.2,1165.9 776.2,1165.9 777.2,1165.9 778.2,1165.9 779.2,1165.9 780.2,1165.9 781.2,1165.9 782.2,1165.9 783.2,1165.9 784.2,1165.8 785.2,1165.8 786.2,1165.8 787.2,1165.8 788.2,1165.8 789.2,1165.8 790.2,1165.8 791.2,1165.8 792.2,1165.8 793.2,1165.7 794.2,1165.7 795.2,1165.7 796.2,1165.7 797.2,1165.7 798.2,1165.7 799.2,1165.7 800.2,1165.7 801.2,1165.7 802.2,1165.6 803.2,1165.6 804.2,1165.6 805.2,1165.6 806.2,1165.6 807.2,1165.6 808.2,1165.6 809.2,1165.6 810.2,1165.6 811.2,1165.5 812.2,1165.5 813.2,1165.5 814.2,1165.5 815.2,1165.5 816.2,1165.5 817.2,1165.5 818.2,1165.5 819.2,1165.5 820.2,1165.4 821.2,1165.4 822.2,1165.4 823.2,1165.4 824.2,1165.4 825.2,1165.4 826.2,1165.4 827.2,1165.4 828.2,1165.4 829.2,1165.3 830.2,1165.3 831.2,1165.3 832.2,1165.3 833.2,1165.3 834.2,1165.3 835.2,1165.3 836.2,1165.2 837.2,1165.2 838.2,1165.2 839.2,1165.2 840.2,1165.2 841.2,1165.1 842.2,1165.1 843.2,1165.1 844.2,1165.1 845.2,1165.0 846.2,1165.0 847.2,1165.0 848.2,1164.9 849.2,1164.9 850.2,1164.9 851.2,1164.8 852.2,1164.8 853.2,1164.7 854.2,1164.6 855.2,1164.6 856.2,1164.5 857.2,1164.4 858.2,1164.3 859.2,1164.2 860.2,1164.1 861.2,1164.0 862.2,1163.9 863.2,1163.8 864.2,1163.7 865.2,1163.6 866.2,1163.4 867.2,1163.3 868.2,1163.1 869.2,1162.9 870.2,1162.8 871.2,1162.6 872.2,1162.4 873.2,1162.2 874.2,1162.0 875.2,1161.9 876.2,1161.7 877.2,1161.5 878.2,1161.3 879.2,1161.0 880.2,1160.8 881.2,1160.6 882.2,1160.4 883.2,1160.3 884.2,1160.1 885.2,1159.9 886.2,1159.7 887.2,1159.5 888.2,1159.4 889.2,1159.2 890.2,1159.1 891.2,1159.0 892.2,1158.9 893.2,1158.8 894.2,1158.7 895.2,1158.7 896.2,1158.6 897.2,1158.6 898.2,1158.6 899.2,1158.6 900.2,1158.6 901.2,1158.7 902.2,1158.7 903.2,1158.8 904.2,1158.9 905.2,1159.0 906.2,1159.1 907.2,1159.2 908.2,1159.3 909.2,1159.5 910.2,1159.6 911.2,1159.8 912.2,1160.0 913.2,1160.1 914.2,1160.3 915.2,1160.5 916.2,1160.7 917.2,1160.9 918.2,1161.0 919.2,1161.2 920.2,1161.4 921.2,1161.6 922.2,1161.7 923.2,1161.9 924.2,1162.0 925.2,1162.2 926.2,1162.3 927.2,1162.5 928.2,1162.6 929.2,1162.7 930.2,1162.9 931.2,1163.0 932.2,1163.1 933.2,1163.2 934.2,1163.3 935.2,1163.3 936.2,1163.4 937.2,1163.5 938.2,1163.5 939.2,1163.6 940.2,1163.6 941.2,1163.7 942.2,1163.7 943.2,1163.8 944.2,1163.8 945.2,1163.8 946.2,1163.8 947.2,1163.8 948.2,1163.9 949.2,1163.9 950.2,1163.9 951.2,1163.9 952.2,1163.9 953.2,1163.9 954.2,1163.9 955.2,1163.9 956.2,1163.9 957.2,1163.9 958.2,1163.9 959.2,1163.9 960.2,1163.9 961.2,1163.9 962.2,1163.9 963.2,1163.9 964.2,1163.8 965.2,1163.8 966.2,1163.8 967.2,1163.8 968.2,1163.8 969.2,1163.8 970.2,1163.8 971.2,1163.8 972.2,1163.8 973.2,1163.8 974.2,1163.7 975.2,1163.7 976.2,1163.7 977.2,1163.7 978.2,1163.7 979.2,1163.7 980.2,1163.7 981.2,1163.7 982.2,1163.7 983.2,1163.6 984.2,1163.6 985.2,1163.6 986.2,1163.6 987.2,1163.6 988.2,1163.6 989.2,1163.6 990.2,1163.6 991.2,1163.6 992.2,1163.6 993.2,1163.5 994.2,1163.5 995.2,1163.5 996.2,1163.5 997.2,1163.5 998.2,1163.5 999.2,1163.5 1000.2,1163.5 1001.2,1163.5 1002.2,1163.4 1003.2,1163.4 1004.2,1163.4 1005.2,1163.4 1006.2,1163.4 1007.2,1163.4 1008.2,1163.4 1009.2,1163.4 1010.2,1163.4 1011.2,1163.3 1012.2,1163.3 1013.2,1163.3 1014.2,1163.3 1015.2,1163.3 1016.2,1163.3 1017.2,1163.3 1018.2,1163.3 1019.2,1163.3 1020.2,1163.2 1021.2,1163.2 1022.2,1163.2 1023.2,1163.2 1024.2,1163.2 1025.2,1163.2 1026.2,1163.2 1027.2,1163.2 1028.2,1163.2 1029.2,1163.1 1030.2,1163.1 1031.2,1163.1 1032.2,1163.1 1033.2,1163.1 1034.2,1163.1 1035.2,1163.1 1036.2,1163.1 1037.2,1163.1 1038.2,1163.0 1039.2,1163.0 1040.2,1163.0 1041.2,1163.0 1042.2,1163.0 1043.2,1163.0 1044.2,1163.0 1045.2,1163.0 1046.2,1163.0 1047.2,1162.9 1048.2,1162.9 1049.2,1162.9 1050.2,1162.9 1051.2,1162.9 1052.2,1162.9 1053.2,1162.9 1054.2,1162.9 1055.2,1162.9 1056.2,1162.8 1057.2,1162.8 1058.2,1162.8 1059.2,1162.8 1060.2,1162.8 1061.2,1162.8 1062.2,1162.8 1063.2,1162.8 1064.2,1162.8 1065.2,1162.7 1066.2,1162.7 1067.2,1162.7 1068.2,1162.7 1069.2,1162.7 1070.2,1162.7 1071.2,1162.7 1072.2,1162.7 1073.2,1162.7 1074.2,1162.6 1075.2,1162.6 1076.2,1162.6 1077.2,1162.6 1078.2,1162.6 1079.2,1162.6 1080.2,1162.6 1081.2,1162.6 1082.2,1162.6 1083.2,1162.5 1084.2,1162.5 1085.2,1162.5 1086.2,1162.5 1087.2,1162.5 1088.2,1162.5 1089.2,1162.5 1090.2,1162.5 1091.2,1162.5 1092.2,1162.4 1093.2,1162.4 1094.2,1162.4 1095.2,1162.4 1096.2,1162.4 1097.2,1162.4 1098.2,1162.4 1099.2,1162.4 1100.2,1162.4 1101.2,1162.3 1102.2,1162.3 1103.2,1162.3 1104.2,1162.3" stroke="#428e6c" stroke-width="3.2"/>
<line x1="862.0" y1="1165.5" x2="945.0" y2="1164.6" stroke="#4480d2" stroke-width="1.5"/>
<polyline points="771.2,1167.1 772.2,1168.8 773.2,1166.3 774.2,1167.1 775.2,1164.3 776.2,1165.5 777.2,1163.8 778.2,1165.4 779.2,1165.6 780.2,1167.2 781.2,1165.8 782.2,1164.3 783.2,1163.9 784.2,1162.3 785.2,1167.5 786.2,1163.2 787.2,1165.0 788.2,1166.8 789.2,1165.9 790.2,1163.5 791.2,1165.8 792.2,1168.3 793.2,1169.0 794.2,1164.4 795.2,1165.6 796.2,1167.1 797.2,1171.1 798.2,1167.8 799.2,1166.9 800.2,1169.0 801.2,1164.5 802.2,1164.7 803.2,1162.0 804.2,1163.8 805.2,1163.7 806.2,1164.0 807.2,1166.6 808.2,1167.3 809.2,1167.1 810.2,1165.6 811.2,1164.5 812.2,1162.9 813.2,1165.2 814.2,1166.5 815.2,1165.1 816.2,1163.6 817.2,1163.1 818.2,1165.8 819.2,1167.8 820.2,1167.9 821.2,1164.4 822.2,1163.9 823.2,1163.1 824.2,1167.4 825.2,1167.1 826.2,1164.0 827.2,1165.7 828.2,1166.0 829.2,1166.0 830.2,1166.2 831.2,1164.3 832.2,1163.1 833.2,1165.7 834.2,1169.2 835.2,1164.4 836.2,1162.6 837.2,1165.4 838.2,1162.8 839.2,1159.2 840.2,1162.2 841.2,1166.0 842.2,1167.4 843.2,1167.4 844.2,1164.5 845.2,1165.3 846.2,1164.1 847.2,1163.4 848.2,1165.1 849.2,1162.7 850.2,1165.8 851.2,1166.1 852.2,1166.5 853.2,1166.2 854.2,1163.9 855.2,1168.4 856.2,1170.0 857.2,1166.0 858.2,1164.8 859.2,1163.5 860.2,1163.4 861.2,1165.3 862.2,1166.9 863.2,1163.8 864.2,1162.1 865.2,1160.7 866.2,1162.2 867.2,1162.0 868.2,1162.9 869.2,1163.2 870.2,1159.8 871.2,1160.0 872.2,1162.4 873.2,1160.7 874.2,1160.2 875.2,1158.0 876.2,1162.2 877.2,1162.5 878.2,1161.0 879.2,1162.5 880.2,1164.1 881.2,1164.6 882.2,1161.1 883.2,1160.3 884.2,1160.7 885.2,1162.0 886.2,1156.8 887.2,1158.7 888.2,1156.2 889.2,1160.3 890.2,1159.1 891.2,1160.3 892.2,1158.7 893.2,1161.8 894.2,1161.4 895.2,1158.6 896.2,1155.5 897.2,1158.6 898.2,1159.7 899.2,1158.4 900.2,1158.2 901.2,1157.4 902.2,1160.4 903.2,1162.0 904.2,1158.9 905.2,1157.5 906.2,1159.7 907.2,1156.5 908.2,1158.1 909.2,1159.3 910.2,1159.6 911.2,1162.7 912.2,1159.5 913.2,1161.3 914.2,1161.1 915.2,1160.6 916.2,1161.9 917.2,1161.8 918.2,1162.2 919.2,1160.8 920.2,1159.5 921.2,1163.6 922.2,1164.6 923.2,1163.6 924.2,1161.4 925.2,1163.5 926.2,1160.1 927.2,1160.9 928.2,1161.9 929.2,1161.6 930.2,1158.9 931.2,1164.9 932.2,1160.9 933.2,1165.0 934.2,1168.1 935.2,1166.4 936.2,1165.4 937.2,1161.7 938.2,1162.3 939.2,1159.3 940.2,1161.4 941.2,1163.4 942.2,1160.1 943.2,1161.6 944.2,1161.3 945.2,1165.5 946.2,1164.8 947.2,1165.2 948.2,1163.9 949.2,1164.2 950.2,1164.0 951.2,1161.5 952.2,1164.9 953.2,1163.7 954.2,1161.5 955.2,1162.8 956.2,1164.8 957.2,1165.9 958.2,1166.6 959.2,1165.8 960.2,1164.6 961.2,1163.7 962.2,1161.9 963.2,1165.0 964.2,1164.5 965.2,1166.0 966.2,1163.6 967.2,1163.6 968.2,1164.7 969.2,1162.8 970.2,1163.4 971.2,1163.6 972.2,1164.3 973.2,1161.4 974.2,1161.0 975.2,1160.3 976.2,1162.4 977.2,1161.8 978.2,1168.4 979.2,1164.4 980.2,1167.9 981.2,1167.8 982.2,1165.3 983.2,1165.8 984.2,1162.7 985.2,1163.5 986.2,1164.6 987.2,1169.6 988.2,1165.3 989.2,1164.3 990.2,1165.7 991.2,1166.0 992.2,1161.2 993.2,1164.9 994.2,1164.4 995.2,1163.8 996.2,1164.4 997.2,1163.1 998.2,1161.4 999.2,1163.5 1000.2,1166.4 1001.2,1163.9 1002.2,1164.8 1003.2,1163.6 1004.2,1164.6 1005.2,1164.7 1006.2,1162.5 1007.2,1165.6 1008.2,1163.0 1009.2,1159.5 1010.2,1161.1 1011.2,1162.2 1012.2,1163.3 1013.2,1162.9 1014.2,1162.6 1015.2,1167.4 1016.2,1162.6 1017.2,1162.4 1018.2,1163.5 1019.2,1164.7 1020.2,1163.4 1021.2,1165.3 1022.2,1163.5 1023.2,1166.1 1024.2,1161.8 1025.2,1163.6 1026.2,1164.7 1027.2,1162.6 1028.2,1163.5 1029.2,1164.4 1030.2,1163.0 1031.2,1163.2 1032.2,1164.3 1033.2,1165.4 1034.2,1166.6 1035.2,1165.0 1036.2,1166.0 1037.2,1166.4 1038.2,1166.5 1039.2,1165.2 1040.2,1159.6 1041.2,1164.3 1042.2,1164.4 1043.2,1163.2 1044.2,1161.4 1045.2,1161.8 1046.2,1161.1 1047.2,1159.3 1048.2,1159.9 1049.2,1162.6 1050.2,1161.4 1051.2,1162.1 1052.2,1167.0 1053.2,1164.5 1054.2,1165.5 1055.2,1162.3 1056.2,1163.5 1057.2,1162.2 1058.2,1162.4 1059.2,1160.0 1060.2,1162.4 1061.2,1163.9 1062.2,1161.5 1063.2,1162.5 1064.2,1164.1 1065.2,1163.6 1066.2,1164.0 1067.2,1162.5 1068.2,1164.3 1069.2,1166.1 1070.2,1162.9 1071.2,1164.6 1072.2,1162.3 1073.2,1163.4 1074.2,1165.1 1075.2,1161.6 1076.2,1156.8 1077.2,1161.0 1078.2,1165.1 1079.2,1165.2 1080.2,1163.0 1081.2,1161.9 1082.2,1162.2 1083.2,1162.1 1084.2,1161.9 1085.2,1162.9 1086.2,1159.7 1087.2,1163.2 1088.2,1159.7 1089.2,1164.8 1090.2,1164.8 1091.2,1162.1 1092.2,1158.1 1093.2,1162.6 1094.2,1161.3 1095.2,1162.8 1096.2,1161.6 1097.2,1164.8 1098.2,1162.7 1099.2,1163.3 1100.2,1160.6 1101.2,1160.5 1102.2,1161.1 1103.2,1162.6 1104.2,1160.3" stroke="#3e3e3e" stroke-width="1.7" opacity="0.92"/>
</g>
<rect x="770.2" y="701.4" width="335.29999999999995" height="474.19999999999993" fill="none" stroke="#1c1c1c" stroke-width="2"/>
<line x1="770.2" y1="859" x2="1105.5" y2="859" stroke="#1c1c1c" stroke-width="1.8"/>
<line x1="770.2" y1="1016.5" x2="1105.5" y2="1016.5" stroke="#1c1c1c" stroke-width="1.8"/>
<line x1="770.2" y1="1175.6" x2="770.2" y2="1180.1" stroke="#1c1c1c" stroke-width="1.6"/>
<line x1="792.6" y1="1175.6" x2="792.6" y2="1178.4" stroke="#1c1c1c" stroke-width="1.6"/>
<line x1="814.9" y1="1175.6" x2="814.9" y2="1180.1" stroke="#1c1c1c" stroke-width="1.6"/>
<line x1="837.3" y1="1175.6" x2="837.3" y2="1178.4" stroke="#1c1c1c" stroke-width="1.6"/>
<line x1="859.6" y1="1175.6" x2="859.6" y2="1180.1" stroke="#1c1c1c" stroke-width="1.6"/>
<line x1="882.0" y1="1175.6" x2="882.0" y2="1178.4" stroke="#1c1c1c" stroke-width="1.6"/>
<line x1="904.3" y1="1175.6" x2="904.3" y2="1180.1" stroke="#1c1c1c" stroke-width="1.6"/>
<line x1="926.7" y1="1175.6" x2="926.7" y2="1178.4" stroke="#1c1c1c" stroke-width="1.6"/>
<line x1="949.0" y1="1175.6" x2="949.0" y2="1180.1" stroke="#1c1c1c" stroke-width="1.6"/>
<line x1="971.4" y1="1175.6" x2="971.4" y2="1178.4" stroke="#1c1c1c" stroke-width="1.6"/>
<line x1="993.7" y1="1175.6" x2="993.7" y2="1180.1" stroke="#1c1c1c" stroke-width="1.6"/>
<line x1="1016.1" y1="1175.6" x2="1016.1" y2="1178.4" stroke="#1c1c1c" stroke-width="1.6"/>
<line x1="1038.4" y1="1175.6" x2="1038.4" y2="1180.1" stroke="#1c1c1c" stroke-width="1.6"/>
<line x1="1060.8" y1="1175.6" x2="1060.8" y2="1178.4" stroke="#1c1c1c" stroke-width="1.6"/>
<line x1="1083.1" y1="1175.6" x2="1083.1" y2="1180.1" stroke="#1c1c1c" stroke-width="1.6"/>
<line x1="1105.5" y1="1175.6" x2="1105.5" y2="1178.4" stroke="#1c1c1c" stroke-width="1.6"/>
<text x="0" y="0" font-size="22" fill="#5a5a5a" text-anchor="middle" transform="translate(770.20,1199.70) scale(0.94,1)">394</text>
<text x="0" y="0" font-size="22" fill="#5a5a5a" text-anchor="middle" transform="translate(814.91,1199.70) scale(0.94,1)">396</text>
<text x="0" y="0" font-size="22" fill="#5a5a5a" text-anchor="middle" transform="translate(859.61,1199.70) scale(0.94,1)">398</text>
<text x="0" y="0" font-size="22" fill="#5a5a5a" text-anchor="middle" transform="translate(904.32,1199.70) scale(0.94,1)">400</text>
<text x="0" y="0" font-size="22" fill="#5a5a5a" text-anchor="middle" transform="translate(949.03,1199.70) scale(0.94,1)">402</text>
<text x="0" y="0" font-size="22" fill="#5a5a5a" text-anchor="middle" transform="translate(993.73,1199.70) scale(0.94,1)">404</text>
<text x="0" y="0" font-size="22" fill="#5a5a5a" text-anchor="middle" transform="translate(1038.44,1199.70) scale(0.94,1)">406</text>
<text x="0" y="0" font-size="22" fill="#5a5a5a" text-anchor="middle" transform="translate(1083.15,1199.70) scale(0.94,1)">408</text>
<g transform="translate(261.50,45.20) scale(1.0049,1)" fill="#1e1e1e" stroke="#1e1e1e" stroke-width="0.3">
<text x="0.00" y="0.00" font-size="16.06">Control group</text>
</g>
<g transform="translate(266.20,199.70) scale(0.9531,1)" fill="#1e1e1e" stroke="#1e1e1e" stroke-width="0.3">
<text x="0.00" y="0.00" font-size="16.97">Pure </text>
<text x="35.35" y="0.00" font-size="16.97">C</text>
<text x="46.67" y="2.38" font-size="10.52">5</text>
<text x="52.78" y="0.00" font-size="16.97">F</text>
<text x="62.21" y="2.38" font-size="10.52">10</text>
<text x="72.73" y="0.00" font-size="16.97">O</text>
</g>
<g transform="translate(128.80,128.60) scale(0.9600,1)" fill="#1e1e1e" stroke="#1e1e1e" stroke-width="0.3">
<text x="0.00" y="0.00" font-size="18.94">Cu</text>
<text x="22.10" y="-8.14" font-size="13.64">+</text>
</g>
<g transform="translate(204.60,107.50) scale(1.0300,1)" fill="#1e1e1e" stroke="#1e1e1e" stroke-width="0.3">
<text x="0.00" y="0.00" font-size="18.18">O</text>
<text x="13.13" y="2.55" font-size="10.55">2</text>
<text x="18.40" y="0.00" font-size="18.18">/Cu</text>
</g>
<line x1="143.5" y1="128.4" x2="161.5" y2="148.9" stroke="#111" stroke-width="1.4"/>
<line x1="161.5" y1="148.9" x2="159.7" y2="140.1" stroke="#111" stroke-width="1.4" stroke-linecap="round"/>
<line x1="161.5" y1="148.9" x2="153.0" y2="146.0" stroke="#111" stroke-width="1.4" stroke-linecap="round"/>
<g transform="translate(136.90,233.70) scale(0.9600,1)" fill="#1e1e1e" stroke="#1e1e1e" stroke-width="0.3">
<text x="0.00" y="0.00" font-size="18.94">Cu</text>
<text x="22.10" y="-8.14" font-size="13.64">+</text>
</g>
<g transform="translate(180.60,259.70) scale(1.0300,1)" fill="#1e1e1e" stroke="#1e1e1e" stroke-width="0.3">
<text x="0.00" y="0.00" font-size="18.18">O</text>
<text x="13.13" y="2.55" font-size="10.55">2</text>
<text x="18.40" y="0.00" font-size="18.18">/Cu</text>
</g>
<g transform="translate(223.20,298.50) scale(1.0300,1)" fill="#1e1e1e" stroke="#1e1e1e" stroke-width="0.3">
<text x="0.00" y="0.00" font-size="18.18">O</text>
<text x="13.13" y="2.55" font-size="10.55">2</text>
<text x="18.40" y="0.00" font-size="18.18">/Cu</text>
</g>
<g transform="translate(660.80,44.10) scale(0.9698,1)" fill="#1e1e1e" stroke="#1e1e1e" stroke-width="0.3">
<text x="0.00" y="0.00" font-size="16.36">120 °C</text>
</g>
<g transform="translate(663.00,195.60) scale(0.9632,1)" fill="#1e1e1e" stroke="#1e1e1e" stroke-width="0.3">
<text x="0.00" y="0.00" font-size="16.36">170 °C</text>
</g>
<g transform="translate(662.00,347.60) scale(0.9763,1)" fill="#1e1e1e" stroke="#1e1e1e" stroke-width="0.3">
<text x="0.00" y="0.00" font-size="16.36">220 °C</text>
</g>
<g transform="translate(502.90,117.00) scale(0.9600,1)" fill="#1e1e1e" stroke="#1e1e1e" stroke-width="0.3">
<text x="0.00" y="0.00" font-size="18.94">Cu</text>
<text x="22.10" y="-8.14" font-size="13.64">+</text>
</g>
<g transform="translate(538.80,106.80) scale(1.0300,1)" fill="#1e1e1e" stroke="#1e1e1e" stroke-width="0.3">
<text x="0.00" y="0.00" font-size="18.18">O</text>
<text x="13.13" y="2.55" font-size="10.55">2</text>
<text x="18.40" y="0.00" font-size="18.18">/Cu</text>
</g>
<g transform="translate(484.50,149.70) scale(0.9600,1)" fill="#1e1e1e" stroke="#1e1e1e" stroke-width="0.3">
<text x="0.00" y="0.00" font-size="18.94">Cu</text>
<text x="22.10" y="-8.14" font-size="13.64">+</text>
</g>
<line x1="514.0" y1="121.3" x2="526.2" y2="151.6" stroke="#111" stroke-width="1.4"/>
<line x1="526.2" y1="151.6" x2="527.5" y2="142.7" stroke="#111" stroke-width="1.4" stroke-linecap="round"/>
<line x1="526.2" y1="151.6" x2="519.1" y2="146.1" stroke="#111" stroke-width="1.4" stroke-linecap="round"/>
<g transform="translate(498.80,258.90) scale(0.9600,1)" fill="#1e1e1e" stroke="#1e1e1e" stroke-width="0.3">
<text x="0.00" y="0.00" font-size="18.94">Cu</text>
<text x="22.10" y="-8.14" font-size="13.64">+</text>
</g>
<g transform="translate(538.80,258.00) scale(1.0300,1)" fill="#1e1e1e" stroke="#1e1e1e" stroke-width="0.3">
<text x="0.00" y="0.00" font-size="18.18">O</text>
<text x="13.13" y="2.55" font-size="10.55">2</text>
<text x="18.40" y="0.00" font-size="18.18">/Cu</text>
</g>
<g transform="translate(467.10,282.50) scale(0.9600,1)" fill="#1e1e1e" stroke="#1e1e1e" stroke-width="0.3">
<text x="0.00" y="0.00" font-size="18.94">Cu</text>
<text x="22.10" y="-8.14" font-size="13.64">+</text>
</g>
<line x1="508.4" y1="261.0" x2="522.1" y2="292.0" stroke="#111" stroke-width="1.4"/>
<line x1="522.1" y1="292.0" x2="523.1" y2="283.1" stroke="#111" stroke-width="1.4" stroke-linecap="round"/>
<line x1="522.1" y1="292.0" x2="514.8" y2="286.7" stroke="#111" stroke-width="1.4" stroke-linecap="round"/>
<line x1="488.0" y1="286.5" x2="507.2" y2="308.2" stroke="#111" stroke-width="1.4"/>
<line x1="507.2" y1="308.2" x2="505.4" y2="299.4" stroke="#111" stroke-width="1.4" stroke-linecap="round"/>
<line x1="507.2" y1="308.2" x2="498.7" y2="305.3" stroke="#111" stroke-width="1.4" stroke-linecap="round"/>
<g transform="translate(497.40,391.90) scale(0.9600,1)" fill="#1e1e1e" stroke="#1e1e1e" stroke-width="0.3">
<text x="0.00" y="0.00" font-size="18.94">Cu</text>
<text x="22.10" y="-8.14" font-size="13.64">+</text>
</g>
<g transform="translate(538.80,410.00) scale(1.0300,1)" fill="#1e1e1e" stroke="#1e1e1e" stroke-width="0.3">
<text x="0.00" y="0.00" font-size="18.18">O</text>
<text x="13.13" y="2.55" font-size="10.55">2</text>
<text x="18.40" y="0.00" font-size="18.18">/Cu</text>
</g>
<g transform="translate(475.80,433.10) scale(0.9600,1)" fill="#1e1e1e" stroke="#1e1e1e" stroke-width="0.3">
<text x="0.00" y="0.00" font-size="18.94">Cu</text>
<text x="22.10" y="-8.14" font-size="13.64">+</text>
</g>
<line x1="509.0" y1="397.4" x2="521.5" y2="427.8" stroke="#111" stroke-width="1.4"/>
<line x1="521.5" y1="427.8" x2="522.7" y2="418.9" stroke="#111" stroke-width="1.4" stroke-linecap="round"/>
<line x1="521.5" y1="427.8" x2="514.4" y2="422.3" stroke="#111" stroke-width="1.4" stroke-linecap="round"/>
<line x1="489.8" y1="437.7" x2="504.7" y2="455.0" stroke="#111" stroke-width="1.4"/>
<line x1="504.7" y1="455.0" x2="503.0" y2="446.2" stroke="#111" stroke-width="1.4" stroke-linecap="round"/>
<line x1="504.7" y1="455.0" x2="496.2" y2="452.0" stroke="#111" stroke-width="1.4" stroke-linecap="round"/>
<g transform="translate(1023.70,42.00) scale(0.9676,1)" fill="#1e1e1e" stroke="#1e1e1e" stroke-width="0.3">
<text x="0.00" y="0.00" font-size="16.36">120 °C</text>
</g>
<g transform="translate(1023.70,193.00) scale(0.9676,1)" fill="#1e1e1e" stroke="#1e1e1e" stroke-width="0.3">
<text x="0.00" y="0.00" font-size="16.36">170 °C</text>
</g>
<g transform="translate(1022.90,346.00) scale(0.9784,1)" fill="#1e1e1e" stroke="#1e1e1e" stroke-width="0.3">
<text x="0.00" y="0.00" font-size="16.36">220 °C</text>
</g>
<g transform="translate(885.90,96.90) scale(1.0300,1)" fill="#1e1e1e" stroke="#1e1e1e" stroke-width="0.3">
<text x="0.00" y="0.00" font-size="18.18">O</text>
<text x="13.13" y="2.55" font-size="10.55">2</text>
<text x="18.40" y="0.00" font-size="18.18">/Cu</text>
</g>
<g transform="translate(861.50,136.20) scale(0.9600,1)" fill="#1e1e1e" stroke="#1e1e1e" stroke-width="0.3">
<text x="0.00" y="0.00" font-size="18.94">Cu</text>
<text x="22.10" y="-8.14" font-size="13.64">+</text>
</g>
<g transform="translate(835.20,229.80) scale(0.9600,1)" fill="#1e1e1e" stroke="#1e1e1e" stroke-width="0.3">
<text x="0.00" y="0.00" font-size="18.94">Cu</text>
<text x="22.10" y="-8.14" font-size="13.64">+</text>
</g>
<g transform="translate(885.90,240.60) scale(1.0300,1)" fill="#1e1e1e" stroke="#1e1e1e" stroke-width="0.3">
<text x="0.00" y="0.00" font-size="18.18">O</text>
<text x="13.13" y="2.55" font-size="10.55">2</text>
<text x="18.40" y="0.00" font-size="18.18">/Cu</text>
</g>
<g transform="translate(820.00,283.40) scale(0.9600,1)" fill="#1e1e1e" stroke="#1e1e1e" stroke-width="0.3">
<text x="0.00" y="0.00" font-size="18.94">Cu</text>
<text x="23.24" y="-7.58" font-size="11.36">2+</text>
</g>
<line x1="852.9" y1="239.3" x2="869.0" y2="265.9" stroke="#111" stroke-width="1.4"/>
<line x1="869.0" y1="265.9" x2="868.8" y2="256.9" stroke="#111" stroke-width="1.4" stroke-linecap="round"/>
<line x1="869.0" y1="265.9" x2="861.1" y2="261.6" stroke="#111" stroke-width="1.4" stroke-linecap="round"/>
<line x1="832.4" y1="284.5" x2="851.6" y2="299.4" stroke="#111" stroke-width="1.4"/>
<line x1="851.6" y1="299.4" x2="848.2" y2="291.1" stroke="#111" stroke-width="1.4" stroke-linecap="round"/>
<line x1="851.6" y1="299.4" x2="842.7" y2="298.2" stroke="#111" stroke-width="1.4" stroke-linecap="round"/>
<g transform="translate(868.70,348.60) scale(0.9600,1)" fill="#1e1e1e" stroke="#1e1e1e" stroke-width="0.3">
<text x="0.00" y="0.00" font-size="18.94">Cu</text>
<text x="22.10" y="-8.14" font-size="13.64">+</text>
</g>
<g transform="translate(898.50,412.10) scale(1.0300,1)" fill="#1e1e1e" stroke="#1e1e1e" stroke-width="0.3">
<text x="0.00" y="0.00" font-size="18.18">O</text>
<text x="13.13" y="2.55" font-size="10.55">2</text>
<text x="18.40" y="0.00" font-size="18.18">/Cu</text>
</g>
<g transform="translate(816.30,414.50) scale(0.9600,1)" fill="#1e1e1e" stroke="#1e1e1e" stroke-width="0.3">
<text x="0.00" y="0.00" font-size="18.94">Cu</text>
<text x="23.24" y="-7.58" font-size="11.36">2+</text>
</g>
<line x1="882.4" y1="353.3" x2="875.8" y2="398.5" stroke="#111" stroke-width="1.4"/>
<line x1="875.8" y1="398.5" x2="881.4" y2="391.4" stroke="#111" stroke-width="1.4" stroke-linecap="round"/>
<line x1="875.8" y1="398.5" x2="872.5" y2="390.1" stroke="#111" stroke-width="1.4" stroke-linecap="round"/>
<line x1="833.2" y1="423.7" x2="852.5" y2="438.3" stroke="#111" stroke-width="1.4"/>
<line x1="852.5" y1="438.3" x2="849.0" y2="430.0" stroke="#111" stroke-width="1.4" stroke-linecap="round"/>
<line x1="852.5" y1="438.3" x2="843.6" y2="437.2" stroke="#111" stroke-width="1.4" stroke-linecap="round"/>
<g transform="translate(120.50,379.30) scale(1.0361,1)" fill="#1e1e1e" stroke="#1e1e1e" stroke-width="0">
<text x="0.00" y="0.00" font-size="20.91">Binding Energy (eV)</text>
</g>
<g transform="translate(475.30,532.90) scale(1.0355,1)" fill="#1e1e1e" stroke="#1e1e1e" stroke-width="0">
<text x="0.00" y="0.00" font-size="20.91">Binding Energy (eV)</text>
</g>
<g transform="translate(833.20,529.70) scale(1.0389,1)" fill="#1e1e1e" stroke="#1e1e1e" stroke-width="0">
<text x="0.00" y="0.00" font-size="20.91">Binding Energy (eV)</text>
</g>
<text x="0" y="0" font-size="21" fill="#1e1e1e" stroke="#1e1e1e" stroke-width="0.25" text-anchor="middle" transform="translate(35.2,176.7) rotate(-90)" textLength="117" lengthAdjust="spacingAndGlyphs">Intensity(a.u.)</text>
<text x="0" y="0" font-size="21" fill="#1e1e1e" stroke="#1e1e1e" stroke-width="0.25" text-anchor="middle" transform="translate(392.5,251.5) rotate(-90)" textLength="117" lengthAdjust="spacingAndGlyphs">Intensity(a.u.)</text>
<text x="0" y="0" font-size="21" fill="#1e1e1e" stroke="#1e1e1e" stroke-width="0.25" text-anchor="middle" transform="translate(750.3,251.5) rotate(-90)" textLength="117" lengthAdjust="spacingAndGlyphs">Intensity(a.u.)</text>
<g fill="#1e1e1e">
<text x="517.44" y="557.30" font-size="23.3">C</text>
<text x="533.76" y="561.20" font-size="14.5">5</text>
<text x="541.95" y="557.30" font-size="23.3">F</text>
<text x="555.54" y="561.20" font-size="14.5">10</text>
<text x="570.64" y="557.30" font-size="23.3">O</text>
<text x="588.00" y="557.30" font-size="23.3">/</text>
<text x="594.75" y="557.30" font-size="23.3">N</text>
<text x="613.18" y="561.20" font-size="14.5">2</text>
</g>
<g fill="#1e1e1e">
<text x="862.34" y="556.90" font-size="23.3">C</text>
<text x="877.96" y="561.10" font-size="14.5">5</text>
<text x="887.95" y="556.90" font-size="23.3">F</text>
<text x="900.54" y="561.10" font-size="14.5">10</text>
<text x="915.84" y="556.90" font-size="23.3">O</text>
<text x="932.80" y="556.90" font-size="23.3">/</text>
<text x="940.79" y="556.90" font-size="23.3">Air</text>
</g>
<g transform="translate(265.30,725.40) scale(1.0090,1)" fill="#1e1e1e" stroke="#1e1e1e" stroke-width="0.3">
<text x="0.00" y="0.00" font-size="16.36">Control group</text>
</g>
<g transform="translate(270.30,883.90) scale(0.9837,1)" fill="#1e1e1e" stroke="#1e1e1e" stroke-width="0.3">
<text x="0.00" y="0.00" font-size="16.97">Pure </text>
<text x="35.35" y="0.00" font-size="16.97">C</text>
<text x="46.67" y="2.38" font-size="10.52">5</text>
<text x="52.78" y="0.00" font-size="16.97">F</text>
<text x="62.21" y="2.38" font-size="10.52">10</text>
<text x="72.73" y="0.00" font-size="16.97">O</text>
</g>
<g transform="translate(159.90,723.90) scale(1.0174,1)" fill="#1e1e1e" stroke="#1e1e1e" stroke-width="0.3">
<text x="0.00" y="0.00" font-size="18.64">N-O</text>
</g>
<g transform="translate(159.90,935.50) scale(1.0174,1)" fill="#1e1e1e" stroke="#1e1e1e" stroke-width="0.3">
<text x="0.00" y="0.00" font-size="18.64">N-O</text>
</g>
<g transform="translate(672.60,722.20) scale(0.9763,1)" fill="#1e1e1e" stroke="#1e1e1e" stroke-width="0.3">
<text x="0.00" y="0.00" font-size="16.36">120 °C</text>
</g>
<g transform="translate(674.70,880.70) scale(0.9828,1)" fill="#1e1e1e" stroke="#1e1e1e" stroke-width="0.3">
<text x="0.00" y="0.00" font-size="16.36">170 °C</text>
</g>
<g transform="translate(673.80,1039.20) scale(1.0023,1)" fill="#1e1e1e" stroke="#1e1e1e" stroke-width="0.3">
<text x="0.00" y="0.00" font-size="16.36">220 °C</text>
</g>
<g transform="translate(519.00,773.60) scale(0.9933,1)" fill="#1e1e1e" stroke="#1e1e1e" stroke-width="0.3">
<text x="0.00" y="0.00" font-size="18.64">N-O</text>
</g>
<g transform="translate(533.60,945.80) scale(0.9993,1)" fill="#1e1e1e" stroke="#1e1e1e" stroke-width="0.3">
<text x="0.00" y="0.00" font-size="18.64">N-O</text>
</g>
<g transform="translate(452.80,963.60) scale(1.0192,1)" fill="#1e1e1e" stroke="#1e1e1e" stroke-width="0.3">
<text x="0.00" y="0.00" font-size="18.94">Cu-C-N</text>
</g>
<g transform="translate(553.40,1083.60) scale(1.0084,1)" fill="#1e1e1e" stroke="#1e1e1e" stroke-width="0.3">
<text x="0.00" y="0.00" font-size="18.64">N-O</text>
</g>
<g transform="translate(449.90,1104.30) scale(1.0176,1)" fill="#1e1e1e" stroke="#1e1e1e" stroke-width="0.3">
<text x="0.00" y="0.00" font-size="18.94">Cu-C-N</text>
</g>
<g transform="translate(1042.30,720.20) scale(0.9893,1)" fill="#1e1e1e" stroke="#1e1e1e" stroke-width="0.3">
<text x="0.00" y="0.00" font-size="16.36">120 °C</text>
</g>
<g transform="translate(1042.30,879.40) scale(0.9914,1)" fill="#1e1e1e" stroke="#1e1e1e" stroke-width="0.3">
<text x="0.00" y="0.00" font-size="16.36">170 °C</text>
</g>
<g transform="translate(1041.40,1037.30) scale(1.0110,1)" fill="#1e1e1e" stroke="#1e1e1e" stroke-width="0.3">
<text x="0.00" y="0.00" font-size="16.36">220 °C</text>
</g>
<g transform="translate(886.00,772.30) scale(1.0355,1)" fill="#1e1e1e" stroke="#1e1e1e" stroke-width="0.3">
<text x="0.00" y="0.00" font-size="18.64">N-O</text>
</g>
<g transform="translate(886.00,968.10) scale(1.0355,1)" fill="#1e1e1e" stroke="#1e1e1e" stroke-width="0.3">
<text x="0.00" y="0.00" font-size="18.64">N-O</text>
</g>
<g transform="translate(886.00,1128.00) scale(1.0355,1)" fill="#1e1e1e" stroke="#1e1e1e" stroke-width="0.3">
<text x="0.00" y="0.00" font-size="18.64">N-O</text>
</g>
<g transform="translate(105.60,1066.80) scale(1.0509,1)" fill="#1e1e1e" stroke="#1e1e1e" stroke-width="0">
<text x="0.00" y="0.00" font-size="21.21">Binding Energy (eV)</text>
</g>
<g transform="translate(467.90,1226.20) scale(1.0448,1)" fill="#1e1e1e" stroke="#1e1e1e" stroke-width="0">
<text x="0.00" y="0.00" font-size="21.21">Binding Energy (eV)</text>
</g>
<g transform="translate(833.50,1222.70) scale(1.0409,1)" fill="#1e1e1e" stroke="#1e1e1e" stroke-width="0">
<text x="0.00" y="0.00" font-size="21.21">Binding Energy (eV)</text>
</g>
<text x="0" y="0" font-size="21.8" fill="#1e1e1e" stroke="#1e1e1e" stroke-width="0.25" text-anchor="middle" transform="translate(33.6,859.6) rotate(-90)" textLength="122" lengthAdjust="spacingAndGlyphs">Intensity(a.u.)</text>
<text x="0" y="0" font-size="21.8" fill="#1e1e1e" stroke="#1e1e1e" stroke-width="0.25" text-anchor="middle" transform="translate(399.5,935.0) rotate(-90)" textLength="122" lengthAdjust="spacingAndGlyphs">Intensity(a.u.)</text>
<text x="0" y="0" font-size="21.8" fill="#1e1e1e" stroke="#1e1e1e" stroke-width="0.25" text-anchor="middle" transform="translate(764.5,932.0) rotate(-90)" textLength="121" lengthAdjust="spacingAndGlyphs">Intensity(a.u.)</text>
<g fill="#1e1e1e">
<text x="518.84" y="1260.00" font-size="23.3">C</text>
<text x="535.03" y="1263.50" font-size="15">5</text>
<text x="543.35" y="1260.00" font-size="23.3">F</text>
<text x="558.20" y="1263.50" font-size="15">10</text>
<text x="573.54" y="1260.00" font-size="23.3">O</text>
<text x="592.60" y="1260.00" font-size="23.3">/</text>
<text x="600.35" y="1260.00" font-size="23.3">N</text>
<text x="618.15" y="1263.50" font-size="15">2</text>
</g>
<g fill="#1e1e1e">
<text x="865.94" y="1252.10" font-size="23.3">C</text>
<text x="882.70" y="1255.60" font-size="15.5">5</text>
<text x="891.55" y="1252.10" font-size="23.3">F</text>
<text x="905.85" y="1255.60" font-size="15.5">10</text>
<text x="921.24" y="1252.10" font-size="23.3">O</text>
<text x="939.60" y="1252.10" font-size="23.3">/</text>
<text x="946.69" y="1252.10" font-size="23.3">Air</text>
</g>
<g transform="translate(537.50,642.00) scale(0.9643,1)" fill="#111"><text x="0" y="0" font-size="32.5">(<tspan font-weight="bold">d</tspan>)</text></g>
<g transform="translate(585.50,642.00) scale(1.0183,1)" fill="#111" stroke="#111" stroke-width="0">
<text x="0.00" y="0.00" font-size="32.50">O</text>
</g>
<g transform="translate(619.00,642.00) scale(0.9700,1)" fill="#111" stroke="#111" stroke-width="0">
<text x="0.00" y="0.00" font-size="32.00">1s</text>
</g>
<g transform="translate(538.60,1343.00) scale(0.9509,1)" fill="#111"><text x="0" y="0" font-size="32.5">(<tspan font-weight="bold">e</tspan>)</text></g>
<g transform="translate(582.40,1343.00) scale(1.0779,1)" fill="#111" stroke="#111" stroke-width="0">
<text x="0.00" y="0.00" font-size="32.50">N</text>
</g>
<g transform="translate(617.70,1343.00) scale(0.9559,1)" fill="#111" stroke="#111" stroke-width="0">
<text x="0.00" y="0.00" font-size="32.00">1s</text>
</g>
</svg>
</body></html>
